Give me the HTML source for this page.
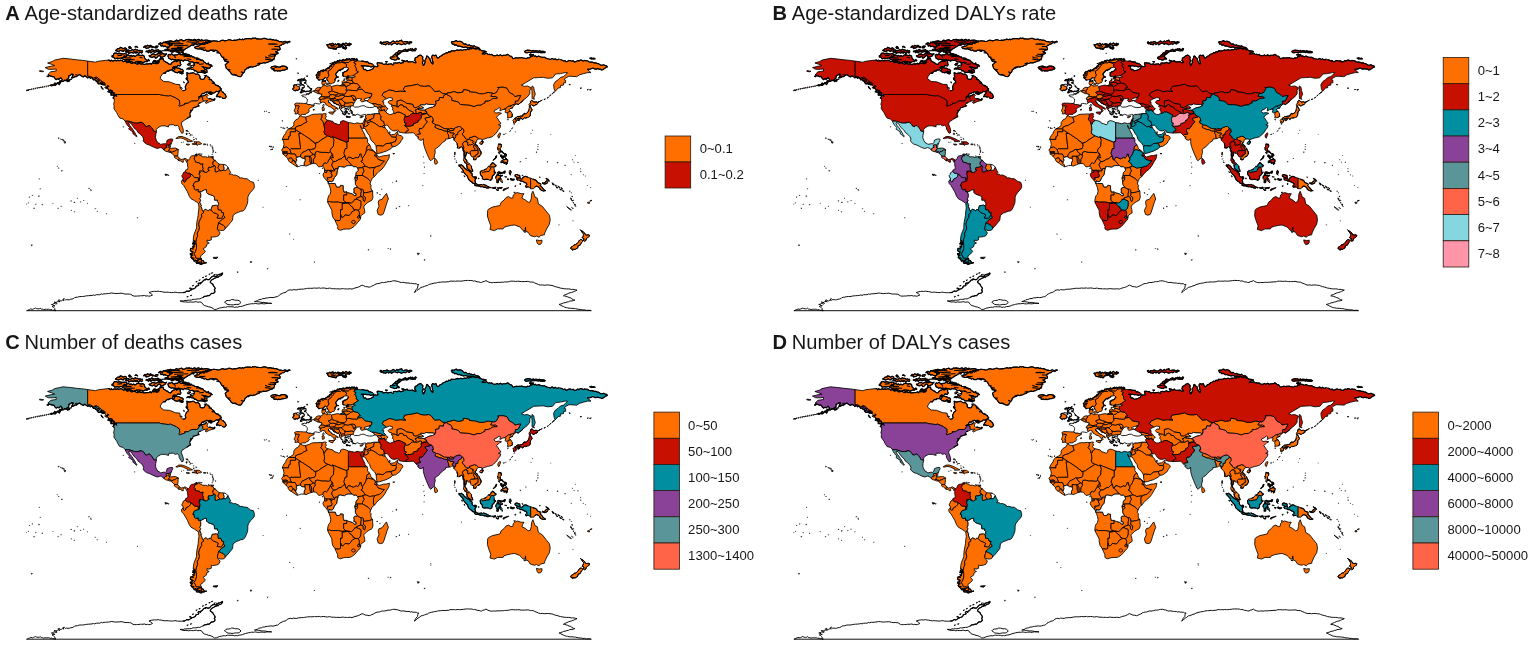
<!DOCTYPE html>
<html><head><meta charset="utf-8"><title>Figure</title>
<style>
html,body{margin:0;padding:0;background:#fff}
svg{display:block}
.t{font-family:"Liberation Sans",sans-serif;fill:#161616}
.m path{stroke:#000;stroke-width:0.85;stroke-linejoin:round}
.k rect{stroke:#2a1a10;stroke-width:.8}
</style></head><body>
<svg width="1535" height="647" viewBox="0 0 1535 647">
<rect width="1535" height="647" fill="#fff"/>
<g transform="translate(0,0)">
<text class="t" x="5.2" y="20.4" font-size="20.1" font-weight="bold">A</text><text class="t" x="24.5" y="20.4" font-size="20.1">Age-standardized deaths rate</text>
<g class="m">
<g fill="#FF6F00">
<path d="M194.4 47.1l1-.2 1.5-.6 1.4 0 1-.8 .6-.7 1.5-.5 .9-.4 1.1 .5 1.6-.3 .4-1.6 1.5 1 1.6-.8 1.1-.5 1.1-1.1 1 .2 1.6-.5 1.2 .1 1.2 .1 1.2 .1 1.2 .4 1.9-.3 1.2-.7 1-.3 1.7 .2 1 .5 1-.3 1.5-.3 1.3-.6 1.4 .1 1.5 .6 1.1 .1 2-.4 .8 .3 2-.6 .9-.1 1-.6 1.9 .6 1.3-.7 .7 .8 1.4-.8 1.9-.4 1.3 0 1.1 0 .9 0 2 .4 .7-1 1.5 .4 1.8-.4 .7 .9 1.4-.1 1.4 .2 2 .1 .8-.4 1.5-.3 1.4 0 1.6 .5 1 .5 1.2 0 2.1-.3 .9 .8 1.3-.3 1.3 .6 1.8-.1 1.8 .8 1.3 .7 1.4 0 1.4 .4 1 0 1.9-.7 .9 .4 1.4 .3 1.8-.7 1.1 .5-1.6 .3-1.3 1-1.3-.6-1.1 .6-1.5 1.1-1.1 0-1.2 1.1-1 .1-.9 1.3 .9 1.7-.2 1.5-1.6 0-1.6 1.6-1.5 0 1.2 .8 2 .8-1.2 .5-1.5 .8-1.3 1.2 0 2.4-1.5 1.9-1 .9-2.2 .4-1.5 .9-1.6 .3-1.1 .6-2-.4-1.6 .7-1.8 .3-1.3 1.4-1.6 .3-1.7 1-2 .3-1 .6-1.4-.4-1.7 .6-1 .7-1.4-.4-.3 1.1-1.8 .9-.3 1.3-.6 1.4-.8 .7-1 1.1-.7 1.7-.8 .7-2.4-.1-1.3-.7-2.2-.8-1.2 0-1.3-.4-1.2-.8-.6-1.2-1.1-1.4-1.3-1-.9-1-1.1-1.1-.3-1.2-.8-2.4 1.3-.6 1.1-1.2 1.5-.6-1.7-.7-1.4-.3-1.6-.7-.8-2.4-1.6-.9-.8-1.5-1-2-1.4-1-.7-1.1-.9-.6-1.5-.6-1.6 1-1.4-.5-.9-.4-1.5-.2-1 .8-1.4 0-1.1 .1-1.2-1.1-1.6 .7-1.1-1.2-1.1 0-1.6-.7-1.2 .2-1.3-.2-2.2-.4z"/>
<path d="M87.6 61.1l7.9 1.1 3.1-1 9.5-1.1 1.3 0 .8 1.1 1.2-1 1.4 1 .8-.5 1.7-.4 1.5 .5 .6-.7 1.7 .7 1.3-.6 1.7 .3 1.4 1.2 1.4-.6 1.2 .3 .8 1.3 1.6-.5 1-.2 1.5 1.1 .9 .2 2.2-.8 1.4 .7 .8 .6 1.4 .3 1.8-.8 1.5 .8 1.5-.4 1.2 .7 1.3 0 1.1-.4 1.4 0 1.4 0 1.3-.7 1.1 1 1.3-1.8 1.1 .9 1.5-.5 1.1 .8 2-.4 .9-1.6-.9-1.3 1.6-.5 .2-1.3 .6-1.2 .6 1.6 1.9-.4 .4 2.1 1 .5 1.3 .9 1.8 .8 1 1.1 2.2 .5 .6-1.6 .6-.3 1.3-.9 1.2-.4 1-.5 1 .8 2.4-1.4 1.3 1 0 2.2 .8 1.1-1.1 1.5-2.2-.7-.6 1.1-.9 .6-2-.5-1.1 .4-.3 1.8-.9 1.1-1.1 .4-1.6 0-.3 .9-1.6-.2-1.3 .9-.8 1.5-1-.2-1.3 .3-2.3 3.2-.5 2 3.6 2.9 5.5 .3 6.3 2.5 4.2 .3 .5 3.4 2.4 2.7 2.3-.3 .8-1.2-.4-1.4-.1-1.4 .7-1.1 .3-1.1 1.2-1.3 1.1-.6-.8-1.7-.8-.8-1.2-1.1 .9-.6 .7-1.5-.4-1 .1-1.9-.5-1 1.3 .4 1 .5 2.1-.5 .8 0 1.5-.4 1.3 .7 1 .8 2.1-.2 1.5 1 .8 1.5-.1 1.8 1.2 .9 2 .2 1-.5 1-1.9 1.1-.8 1.6 0 .4 1.1 1.4 .6 0 1.4 1.6 .2 .5 1.2 1.7 1.2 .8 .8 .7 1.6 1.2 1 1.7 .6 1 .5 1.3 .6 0 1.2 1.5 .6-1 1.1-1 .5-.8 1-1.8 .2-.8-.3-1.3 1.2-1.3 .6-1 0-1.5-1-.9-.2-1.6 .5-1.7-.6-.9 .7-1.3 0-.7 1.1-1.5-.2-1 1.1-.5 1.3-1.1 .8-1.5 .8 .7-.7 1.6-.6 1.7-.1 1.2-.3 1.3-.2 .8-1.1 1.3-.3 1.1 1.2-1.1 1.1 .3 1.3 1.3 1.3 1.5-.5 1.2 .6 2 .6 1.6-1.2-.3 1.5-1.3 .6-3.9 1.2-3.2 1.6-1.1-.8 2.7-2.1-3.9 .6-1.3-1.3 0-2.2-.8-.4-1.4-.1-1.2 1.1-1.3 2.3-1.1 .5-5 0-2.5 1.3-.8 .9-3.8 .2 .5 .3-.2 .8-5.5 1.8-.9-.8 .9-.7 .2-.6-.2-3.7-1.5-.8 0-.4-1.6-.8-.5-.5-5.6-2.4-1.8 .5-3.9-.5-4.1-.6-.9-.5-43.7 0-3.1-2.5-1.3-1.2-.7-.6-2 .2-.7-1.6-3.2-3.6 0-2.1-3.1-1.6-2.4-2.4-3.1-2-3.2 1.2-2.3-1.7-3.2-.4zM216 96.7l1.1-.9-.1-1.2 1.5-1.1 .3-1.5 .9-1.3 1.8-.4 .4 1.7 1.3 .1 .6 1 1.3 .9 .7 1.7 .5 1-1.2 1.7-1.8 .1-1.4-.8-.8-1-1.4 .5-1-.6-1.1-.2zM107.6 91.6l1.4-.3 1.3 1 .7-.3 1.5 .5 1.4 0 .3 2 .9 .9-1.1-.7-1.2 .4-1.9 0 .5-2.1-1.2-.6-1.3-.4zM183.4 54.4l.9 .6 1.9 .7 1.2-.2 1-.1 1.3 .5 1.6-.2 1.2 1.3 1.5-.2 .3 1.1 1.7 .1 1.6 0 1 .6 1.1 1.2 1.1 .5 1.5-.2 .9 .6 .7 1.4 1.2 .3 .8 1 1.1 .6 1.4-1 .6 1.9 1.7-.2 1 .6 .8 .8-1.7 0-1 2.1-1.2-.2-1.7 .1-1.2-.8-1.5 .3-1.1-.7 .9 1 .8 1.5 1.9 .3 .3 1.3 .5 1.1-1.5 .5-1-.6-.6-1.3-1.9 .7-1-.8 1.6 .2 .8 2.2 1.5 .4-1.2-.6-1.6-.2-1.2-.4-1.2 .1-1 0-1.8 0-1.4-1.7-1.4 .4-1.1-1.6-1.4 .1-1.5-.7-1.5 .4-1.3-.6-1.2 .7 1.6-1.3 1.7 .2 1-1.2 2 .7 .8-1.6 .6-1.3 .1-1.5-1.1-.9-1.1-.5-1.2 .1-1.3 .1-1.2-1.4-1.2-.2-1.5-.1-1.3-.5-1 1.2-2.2-.9-1 .2-1.8-.9-1.7 .8-1.2-.7-1.8 .2-1.1-.6-1.4 .6-1.2-1-1.3-.5-.6-1.8-.5-.9 1.6-1.3 1 .6 1.5-1.3 1.5 1.7 1-.1 1.3-.4 1.4 .1 1.4-1 1.2 .1 1.2 .8 1.3-.3zM125.3 60.1l.9 1.1 1.6-.1 1.8-.6 .4 1.1 1.6 .1 1.6 .9 1 .3 1.6-1.1 .8 .1 1.1 1 1.8-.4 1.6-.6 1.9 .7 1.2-.5 1-.6 2.1 .2 .7-1.2 1.7 .3-1.2-1.4-1.2 1.3-1.2-1.1-1.1-.8-.5-1.2-.3-1.7-1.9-.8-1.3 .5-1.5-.4-1.3-.5-1.2 .4-1.2 .9-1 .5-1.1-.9-1.7 .8-.8-1.1-1.3 .8-1.4-1.2-1.9 .2-.2 1.7-1 .5-1.7 0-1.5 .5 .3 1.2 1.4 .4zM112 57.2l1.2-.5 1.5 2 1.2-.2 1.3-.3 1.8 .4 1.6-.6 1.1 .1 1.9-.7 .6-1.7 2 1 .7-1.1-.3-1.4-2-.7-1.2 .3-1.5 .1-1.8-.5-1-.3-1.7 .8-.9-.9-2 .2-.9 .7-.2 1.6-1.3 .2zM167.7 49.9l1 .3 1.6 .5 1.1-.4 1.5 .3 1.1-.5 1.6-.5 1.4 0 .9 .8 1.4-.6 1.2-.4 1.4 1.2 1.5-.2 1.3-.9 .5-.5 1.4-.7 1.8-1.4 1.3-.2 .9-1.1 1.5-.6 1.6 .5 .5-1.7 1.8-.1 1.2 1 1.2-.7 1.7-.5 1.3 .5 .9-.8 1.4-.4 1.3 .2 .9-1.3 1.6 1.2 .6-1.8 1.3-.3 1.4 1.3 .9-1-1-.1-1.6 .4-.9-1.1-1.6-.1-1.2 0-1.4 .2-.9 .3-1.6-1.1-.9 .9-1.7-1.1-1.5 .1-1.1 1.2-.9-1.2-1.4-.1-1.3 .9-1.4-.6-.9 .2-1.4-.6-1.2 .4-1.6-.2-1.3 1.1-.6 0-1.4 .2-1.2-1.2-1.4 .4-.9 .2-1.6 .9-1.2-1-1.6 .9-.8 .5-1.2-.1-1.3-.3-1.1-.3-2 .5-.9 0-1.5 1-1.6-.2 1.9-.3 .4 1.3 1.1 .6 1.7-.3 1.9 .4 .9 .4-1.2 .1-1 1.2-1 1.2-.9 .4-.6 1.2zM164.6 49.7l1.5-.4 .9 .7 1.8 0 1.5 .2 .9 1.7 1.5 .2 1.3-.6 1.2-.6 1.6 .5 1.2 .7 1.7 .9 1.3-.2 1.4-.6 1 .8 0-1.6-1.3-.2-1.3-.6-1-.2-1.3 .4-1.3-.1-1.4-.8-1.5 1.1-.7-1.1-2 .5-1.4 .4-.9-.7-1.5-.8-1.7 .1zM158.3 44.2l1.7-.3 1 2.2 1.7-.6 .6 1.1 1.9-.5 1 .9 1.6 .2 1.5-.3 .3-1.3 1.4-.5 1.5-.1-1.8 .4-1.1-.4-1.3-1.6-.8 .2-1.3-1.3-1.6 .3-1.2-.4-1.2 1.8-1.5-1.2-1.3 .6zM125.3 52l1.6 .4 1.3-.8 .6 1.9 1.7-.9 1.8-.1 .9 .8 1.4-.9 1.6 .8 .9-1.1 1.5 1.5 1.4-1.4 1.7 .8 .9-.7 0-1.6-1.5 .3-1.2-.8-.8 .7-1.7-1.1-1.1 .1-1-.7-1.9 1-1.4-.7-.7 1-2 .3-1-.8-1.4 .2zM148.9 55.6l.8 1.1 1.4 .4 1.6 .2 1.8-1 .9 1.9 1.3-.4 1-1.1 .6-1.1 1.6 0 .8 1.5 .7 0 1.6 .1 .8-.9 1.2-.3 .9-1.7 1.1-.4-1.5 .1-1 .2-2.1-.8-1 .7-1.5-.3-1.4-.4-1.8 1-1.4 .4-1.3-.9-2 .2-1.7 1.6zM145.8 52l1.2-.8 1.5 1.6 1.2-1.4 1.1 1.5 1.7-1.4 1.3 .3 1.4 .5 1.2-.6 .9-.1 1.7 .2 1.2 .5 1.3-.8-1.3-.7-1.1 .1-.8-1.3-1.3 .5-1 0-1.8 .5-1.7-.9-.6-.4-1.3 1.4-1.7-.6-.9 1-1.4-.1zM172.5 67.6l1.8 .6 1.8-.7 1.1 .5 1.6 .2 1 .3 1.3 1 1.1-.2 1.2 1.3-.6 1.3-2.4 .2-1.5-.4-.9 1.2-1.3-.3-1.8-.4-1.3-1.3-1.1-.1 1.5-.8 .8-.7-.7-1.5zM207.8 93l1.5 .4 1.4-.2 1.5 .9-1.2 .4-1.6-.5zM152.8 62.1l1.1-.7 1.8 .6 1 .9 1.1-.6 1.3-1.1-1.3-.4-1.7 .4-.9-.8-1.4 .1zM115.1 50.4l1.4 .5 1.8 .6 .9-.3 1.8-.9 1.2 .9 1.4 .2 .6-1.4 1.7-.1 1-.8-1.1-.9-.8-.4-2 1-.8-.9-2-.6-.7 1.4-2-.1-1.2 1.5zM143.4 47.5l1.7-.6 1.2 1.6 1-.4 1.6-.2 1.2-1.1 .8-.2 2 1 .7-.9-1.7-.4-1.4-1.1-1.1 .8-2-.7-1.2 1.1-1.2-.6zM154.4 47.5l1.3 .4 1.8-.3 .8-1.4-2.3-.2zM181.9 54.6l1.2 .3 .9 .1 1.5 .2 1.1 .7 1.5 .5 1.6-1-.7-.9-1.6-.2-1.7-.5-1.5-.1-1.4 .1zM187.4 64.3l.7 .9 1.6-.4 1.1-1.1-1 .2-1.3-.7zM178.7 71.9l1.4-.6 1 1.1 1.4 .1 .9 .7-1.5 .7-1-.5-1.4-.3zM180.3 87.8l2.1 .5-1-.8zM183.4 81.7l1.3 .9-.8 .5zM134.8 47l1.8-.2 1.3 .8-.8-1.1-1.2-.1zM157.5 51.4l1.2 .5 2-.2 1.5 1.1-1.5-.3-1.2 0-1.2 0zM196.8 62.9l2.4 .3-.8-.8zM128.5 47.6l1.3 1 1.8-.5-.8-1-1.4-.6zM101 86.4l.6 .8 .5 1.1 1.2 1-1.5-1.3zM104.9 83.9l-1.6 .5-.7-1.3-1.1 .5-1.3-1.3 .8 1.6 1 .6 1.9 .2zM99.4 81.5l-.5-1.7-1.8 .1-1.6 .3 1.8 1 .6 1.1zM107.3 88.8l-.1-1.5-1.5-.1-1.1 .3 1.4 1z"/>
<path d="M115.9 94.5l43.7 0 .9 .5 4.1 .6 3.9 .5 1.8-.5 5.6 2.4 .5 .5 1.6 .8 0 .4 1.5 .8 .2 3.7-.2 .6-.9 .7 .9 .8 5.5-1.8 .2-.8-.5-.3 3.8-.2 .8-.9 2.5-1.3 5 0 1.1-.5 1.3-2.3 1.2-1.1 1.4 .1 .8 .4 0 2.2 1.3 1.3-3.2 1.5-1.9 .6-.7 1.5 1.1 1.4-1.4 .2-1 .5-1.6 .4-.8 .3-1.5 .4 0 1.6-1.6 1.3-.8-.9 .6 1.9-.9 .7-.5 1.4 .3 .8 .5 2-1.4 .4-.9 .7-1.6 1.1-1.9 1.2-2.8 1.9-.6 2.1 1.4 3.6 .7 2.8-.3 2.4-1.4 .3-1.1-1.8-1.4-2.4-.1-2.1-1.8-1.6-2.2 .5-1.9-1.2-2.3 .2-1.9 0-.5 1.6 .5 .3-2-.1-1.6-.7-3.6-.1-1.6 .6-2.7 1.6-1.2 1.6 .1 2.2-2.9-.7-.7-1.8-1.5-1.9-1.5-1.8-2 .2-.8 1.1-2-1-.8-1.8-2.4-1.7-2.6 0 0 .7-4.5 0-5.9-1.9-3.6 0-2.1-2.3-3.4-.9-2.1-3.4-.9-2-2-2.7-.8-1.5 .3-2.6-.6-1.4 .7-3 0-2.6-1.3-.9 1.6-1.8-1.4-.7 1.3-.5 1.4 .9 .8 1.1-.3-1-.2-1.4zM87.6 61.1l-4.7-.7-6.3-.6-6.2-.8-7.3-.7-3.7 .8-4.7 1-2.4 1.5-4.7 1.4 3.9 1.3 3.2 1.3-3.2 .5-6.3 1.5 3.2 1.7 4.7 0 3.1-.4 0 2.1-5.5 .8-2.3 2.2 .1 1.4 1.4 .4 1.1 .4 1.4 .5 1.5-.1 .8 1.7 1.4 1.3 1.7-.9 1.2 .7 1.6-1.7 1.1 1 .7 1.2-1.5 1.1-1.1-.2-.5 1.6-1.4 .1-.9 .6-.4 1.1-1.7-1.2-1 1.3-1.4 .9-.6 .6-1.8-.4 1.4-.6 1.6 .3 2.2 .3 .9-1.1 1.1-1.4 2 1.6 .9-1.4 .6-1.4 1.6-.2 1.2-.2 .9-1.1 1.3 .5 1-1.3 1.6-.6 .4-1.7 .2-1.6 1.4-.2 1.5-1.2 1.6 .6-.9 .6-.2 1.7-1.2 .8 1.2 0 1.2-.4 1.5-.8 1.4 0 .6-.5 1.1-.9 1.4-.6 1.8 1.4 1.3 .6 .8 .2 1.2-1.1 1.4 .9 1.4 1.2 1.7-.7 1.1 1.2 1.2-.7 .9 .7 1.1 1.6 1.2-.5 .8 1.4 1.6 .7 .4 1.4 .9 .9 1 .1 1.4-.2 1.8 1 2.3 .5 0-2.1-3.1-1.6-2.4-2.4-3.1-2-3.2 1.2-2.3-1.7-3.2-.4zM66.4 80.7l2.2-.2 1-.6 .3 1.1-1.3 .2-1.4 .6zM39.7 70.6l4 .7-1.6 .5-2.7-.5zM46.8 76.3l2 0-.4 .7zM49.6 85.4l-.8 .1-.8 .6 .8 .1zM47.4 86l-.8 0-.8 .6 .8 0zM45.2 86.4l-.8 0-.8 .6 .8 0zM43 86.8l-.8 0-.8 .6 .8 .1zM40.8 87.2l-.8 0-.8 .6 .8 .1zM38.6 87.6l-.8 0-.8 .6 .8 .1zM36.4 88l-.8 .1-.8 .6 .8 0zM34.2 88.5l-.8 0-.8 .6 .8 .1zM32 89l-.8 0-.8 .6 .8 .1zM29.8 89.5l-.8 0-.8 .6 .8 .1zM27.6 90l-.8 0-.8 .7 .8 0zM580 88.1l1.6-.1-.8 .5zM589.5 89.8l1.8-.4-1.1 .9zM587.1 89.6l1.3-.2-.7 .5zM27.2 90.4l1.5-.3-.7 .6zM64.1 141.2l1.9 1.1-1.3 1-.6-1.2zM60.6 138.9l.8 .5-.6 0z"/>
<path d="M164.3 150.3l0-1.2 1.1-1.3 1.7-.5-.9-1.3 0-1 2.9 0-.1 3 .5 .1 .9 .4-1.4 1.2-.3 .9-1.1 1-1.9-.3z"/>
<path d="M169.1 145l1.3-1.1 .3 .7-.3 .9 0 1.7-.9 .9-.5-.1z"/>
<path d="M167.6 151.6l1.1-1 1.4 .8 1.1 0 .2 .8-.2 .3-1.6 0z"/>
<path d="M169 149.7l1.4-1.2 1.3-.2 2.3-.2 1.6 0 1.6 .7 1.2 .8-2 .5-1.9 1.3-1.6 .1-.9 1.3-.2-.1-.4-.5-.2-.8-1.1 0-1.4-.8z"/>
<path d="M178.4 149.6l-.3 1.6-.1 2.4-.4 2.5 .1 .1-1.6-.1-1.6-.2-1.3-1.1-1.7-1.8 .5-.2 .9-1.3 1.6-.1 1.9-1.3z"/>
<path d="M174.5 155.9l1.6 .2 1.6 .1 1.7 2.1-.5 1 0 1.5-.9-.7-1.9-1.8-.7 0-1.1-.9z"/>
<path d="M178.9 160.8l0-1.5 .5-1 1.7 1.3 2.3-.6 1.6-.7 1.7 1 .9 .6 .2 1.2-1.1 1.1-.7-1.8-1.8-.9-1.2 1.1 .4 1.5-1.5 .1-1.1-1.4z"/>
<path d="M175.8 138.4l2.9-1.8 3.2-.1 3.1 1.1 3.2 1.4 2.3 1.3 2.1 .9-1.3 .4-4.2 .1 .7-1-2-.8-2.4-1.2-2.8-.8-1.9 .3-1.5 .4z"/>
<path d="M192.2 143.7l3.3 0-.7-1.2-1-.7 2.7 0 0 2.9-1.3-.3-3-.2z"/>
<path d="M196.5 141.8l2.7 0 2.5 1.9-1 .5-2.3 .2-1.4 1-.5-.7z"/>
<path d="M186.1 144.2l3.2 0 .1 .7-2 .1z"/>
<path d="M212.2 156.6l1.1-.2 0 1.1-1.4 0z"/>
<path d="M187.6 159.9l.9 .1 1.2-1.2 .8-2.1 1.1-.8 2.4-.3 2-1.5 1.1-.3 0 1-1.1 .3-.8 .8-1.2 3.1 1.2 1.3 .2 1.6 2.2 .7 1.6 0 .9 1.4 3-.2-.5 1.5 0 1.6 .8 1.5-.9 1 1.1 .8 .4 1.8-1.7-.9-2.8 0 0 1 .9 .2-.3 .6-.9 .2 0 1.1 .9 1.5-.8 5-1.2-.6 .6-2.1-2.7-.4-1.6 0-1.5-2.1-2.1-1.4-1.5-.8-1.8 0-2.2-1.7 .5-1.8 1.6-.1 .6-2.1-.6-2.6 .1-2-.8-.8 1.1-1.1z"/>
<path d="M197.1 154.8l-.9 .3 .4 1.3 1-1.8 1.6-.5 .3 1.2 2.2 .4 .6 1.2 3.1-.2 2.4 .8 2.4-.9 1.7 0-1 1.1 2.4 .6 .3 1.7 1.3 .1 .3 .3-2.1 1.3-.3 2.5 1 1.3 0 .9-3.3 1-1.9-.1-.6 2.5 1.5 .5-3.3 2.3-2.2-.6-.4-1.8-1.1-.8 .9-1-.8-1.5 0-1.6 .5-1.5-3 .2-.9-1.4-1.6 0-2.2-.7-.2-1.6-1.2-1.3 1.2-3.1 .8-.8z"/>
<path d="M215.2 160.4l-.3-.3 2.3 2.5 2.1 1.6-.2 1.1-1.1 2.1 .3 1 2.1 2.4-1.3 0-2.4 1.2-1.5-.2-.2-1.6-.1-2 .6-.8-.8-1.8-.9-.1-1-1.3 .3-2.5z"/>
<path d="M219.3 164.2l2 .1 3 .2-.8 1.5 .8 2.1-.8 2.1-2.2 .6-.9 0-2.1-2.4-.3-1 1.1-2.1z"/>
<path d="M183 179.4l-1.6 1.8 .5 2.4 1.9 2 1.5 2.6 2.1 3.5 1.9 4.6 1.7 2.4 3.4 1.9 2.7 1.8 1.4 1.2 1.4-1.3 .8-2.1-.9-1.5 .9-1.3 .2-2.9-1-2.8-1.7 0 .2-2.4-2.7 .8-1.3-1.3-.3-2.9-1.2 0 1.5-3.4 .4-.3 4.4-1.3 .1-.2-1.2-.6 .6-2.1-2.7-.4-1.6 0-1.5-2.1-2.1-1.4-.4 2.2-1.8 1.8-2.5 1.3-.6 2-1 .6-1.4-1z"/>
<path d="M198.5 203.6l.5 4.3-.6 4.1-.2 3.2-.6 3.3-.8 4-.3 4.1 0 1.6-1.3 3.2-1.1 2.8-.6 2.9-.3 3.3 1.8 .9-.2 1.5 .3 1.4-1.4 1 .4 1.2-1.2 1.3-.8 .8-1.4-.1-.3 1.2 .1 1.4 1.6 .7 .2 1.7-2 .1 .2 1.5 1.2 .7-.8 1.5 .7 1 1.4 .9 .7 1.2 .7 1 1.1-1.1 .8 1.1 1.3 0 0-1.6 4.1-.9-2.5-.6-3.2 0-.5-2.1-1.5-2 1.5-2.4 1-3.2 0-3.3-.5-3.2 .5-3.3 1.1-2.4-.3-3.2 1.4-2.5 .8-2.7-.8-3.7 .6-2.5 1.4-3.2 1.1-1.6-.3-2.8 2.1-1.3 0-1.9-1.1 0-.5-2.1-1-2.3 .5-1.2-.8-.6-.1-1.3-.7-1.1zM201.4 259.3l0 3.6 3.3 .3-2.4 .8-.9 .3-1.5-.2-.7-.7-1.6 .1-.9-.1-.7-1.2 1.6-.8 .8-.8 .8-1.1zM192.9 241.7l.9 .3 1 1.3-1.1 1-1.5-.4 1.4-.9z"/>
<path d="M203.6 210.9l1.4-1.7 1.7 .5 1.4 1.2 1-1.3 1.7 .3 2.5 2.6 3.1 1.1 2.1 1.3-1.4 3.1 3.3 .3 1.1-.1 1.7-2.8 1.4 1 .2 1.4-3.2 2-3 3.1-.4 2.1-.5 1.6-.3 2.4 0 .8 1.9 1.6 .7 1.7-1.4 2.6-2.2 .9-3.9 .5-1.3-.3 .2 2.9-2.5 1-1.9-.7 0 2 2.2 1-2.2 1.1-.8 2.7-3.1 2 2.3 2.6-2.3 2.7-2.4 1.7 0 1.7 1 1.3-2.5-.6-3.2 0-.5-2.1-1.5-2 1.5-2.4 1-3.2 0-3.3-.5-3.2 .5-3.3 1.1-2.4-.3-3.2 1.4-2.5 .8-2.7-.8-3.7 .6-2.5 1.4-3.2 1.1-1.6-.3-2.8 2.1-1.3zM201.4 259.3l.4 1 1.1 .2 1 1.3 1 1.1 1.8-.3-2 .6-3.3-.3z"/>
<path d="M218.6 222.9l2.5 1.1 2.4 1.3 1.7 1.8 0 1.4-.9 1.5-1.6 .5-2 0-2.4-.7-.9-.8 .3-2.4 .5-1.6z"/>
<path d="M210.8 209.9l1.4-4.2 4.1-.5 1.4 .8 .5 1.5 0 2.2 2.9 .3 .7 2.6 2 .2-.5 2.4-.1 .2-1.7 2.8-1.1 .1-3.3-.3 1.4-3.1-2.1-1.3-3.1-1.1z"/>
<path d="M227.9 167.1l1.6 3.4 1.2 1.8-1.5 1.9 2.6 0 1.6 1 1.9-.2 3.9 1.8 .3 1.3 2.1-.3 2.6 .8 2.9 .2 1.5 1.1 1.9 1.6 3 .8 .8 2.9 0 2.5-1.4 2.1-2.2 2.3-2.1 2.9-.8 2.4 0 3.2-.3 2.5-1.2 3.2-1.6 3.1-1.6 1.6-2.3 .2-2.4 1.1-2.3 .8-2.9 2.1-.4 2.5-.3 2.4-1.9 2.4-2.4 2.9-1.4 1.7-1.6 1.4 0-1.4-1.7-1.8-2.4-1.3-2.5-1.1 3-3.1 3.2-2-.2-1.4-1.4-1 .1-.2 .5-2.4-2-.2-.7-2.6-2.9-.3 0-2.2-.5-1.5 .6-1.3 .3-1.6-1.2-1.3 .1-1.5-3 0-.1-2.9-1.1-1.6-2.8-.8-2.5-1-1.5-1.5 0-2.7-1.8 0-3.2 1.9-1.6 0-1.7 0 .2-2.4-2.7 .8-1.3-1.3-.3-2.9-1.2 0 1.5-3.4 .4-.3 4.4-1.3 .1-.2 .8-5-.9-1.5 0-1.1 .9-.2 .3-.6-.9-.2 0-1 2.8 0 1.7 .9 2.2 .6 3.3-2.3-1.5-.5 .6-2.5 1.9 .1 3.3-1 0-.9 .9 .1 .8 1.8-.6 .8 .1 2 .2 1.6 1.5 .2 2.4-1.2 1.3 0 .9 0 2.2-.6 2.4 .1 .7-.6z"/>
<path d="M270.6 67.7l1.2-.9 2-.5 1.6-.3 .9 .4 1.4 .5 1.5 .3 1.3-.6 1.7-.6 1.8 .1 2.3 .5 1.4 1.6-.6 1-1.6 .5-1.6 .5-.9-.1-2 .6-1 .4-1.3-.5-1 .6-1.6-.7-1.3 .4-1.4-.4 1.1-1.2-2-.1-1.1-.5z"/>
<path d="M326.7 78.1l-1.1-.6-1.6 1.1-1 1.4-1.3-.3-1.6 .2-1.3 .2-1.1-1.5-1.2-.8 .5-1.5-1-1.2 1-.9 .3-1.1 .8-1.1 .8-.5 1.2 .3 1.1-1.4 1.2 .6 .6-1.2 1.9 .8 .7-1.3 1.7-.7 .6-.9 1.6-.2 0-1.4 1.3-.3 .5-1.2 .6-.4 1.5-.9 1.1-1.5 1.3 .3 1.1-.2 .6-1.3 1.4 .2 .7-.6 1.5 .5 1-.4 1-.9 1.4 1.1 .6-.2 .9-.8 1-.9 1.2 1.2 .9-1.2 1.6 .9 .9-.9 1.5 .2 1.3-.3 .9 1.5 1.2-1.3 1.3 1.2-1.6 1 1.3-.1-3 1.2 .6-.9-2.2-.8-3 .6-.4 .8-1.3 1-3-.2-3.1-.5-.6 0-1 1-2.8-.1-2.7 .9-1.6 2.6-1.5 1.6-1.3 1.8-2.3 1.2 0 3 .9 .5-.8 2.1-.8 1.2zM326.4 44.9l1-.2 1.6-.2 .7-.7 1.4 .4 1.3-.9 1 .3 .5 1.5 1.3-1.2 1.3 .8 .9-.3 1.3 0 0 1.5 1.2 .4 .9-.1 1.3 0-1-.6-.7 1.4-1.5-.2-.8 .5-1.2 .1-.5 1.5-.6 .7-.9-.7-1.8 .1-.9-.7-1.1 0-1.4-.4-.9 .1-.9-1.3-.3-1.4zM337.4 43.7l1.1 .1 1 .2 1.2 .5 1.1-.2 1.2-1.1 1.1 1.3 1.1-.9 .8-.6 1.3 .8 .8 .5 1.3-1.2 .8 1.8 1.3-.7-1.7-.6-.3 2.1-1.5-.4-1.2 .1-1.2 .4-1.2-.9-1.2-.4-.9 1.1-1.3-.4-1.2 .7-.9-1zM342.1 47.1l1.5-.5 .6 1.7 1.4-1.5 1.2 1-1.2 1.3-1.2-.5-1.3-.3z"/>
<path d="M326.7 78.1l.1 1.3 1.1 1.6 1.3 1.8 .3 1.3 2.1-.2 .6-.9 2-.2 1-2.1-.4-1.4 1-.6 .3-1.1 1-.8 1.5 .2-1.8 0-.5-1.5-.7-1.2 .5-.9 1.3-1.5 .8-1.1 1.1-.7 1.2 .5 .4-1.3 1.7-.1 1.1-1.5 3.3-.5-.8-1.1 .6-1.6-2.4-1.5-2.9-1-1 1-2.8-.1-2.7 .9-1.6 2.6-1.5 1.6-1.3 1.8-2.3 1.2 0 3 .9 .5-.8 2.1-.8 1.2zM337.7 81.5l1.2-1.5-.3 1z"/>
<path d="M347 67.2l1.8 1.3-1.2 1.2-.5 1-1.5 .8-1.2 0-.7 1.2-1.1-.1 .4 1.1-.3 1.3 .3 1 1.4 .6 1.6 .2 1.3 .6 .5-1.5 1.3 .4 3.7-.5 1.8-1.1 4-2.8-2.4-1.4 .3-1.6-.8-2.1-1.1-1.3 1.6-1.3-2.3-1.3 .6-.9 .6-.9-2.2-.8-3 .6-.4 .8-1.3 1-3-.2-3.1-.5-.6 0 2.9 1 2.4 1.5-.6 1.6z"/>
<path d="M322.6 84.9l-.8-1.1 .2-2 .6-.8 1.4 .2 1.7-.8-.4 1.6 .9 .5-1.4 1.4-.8 .8 .6 .4zM326.4 83.6l2-.6 .5 .8-1 1.1-1.5-.5z"/>
<path d="M322.6 84.9l2 .2 1.8 .6 0 .7 2.3-.7 1.6-.1 1.1 .9 .3 1.2 .3 1.1 .2 1.6 .5 .8-1.1 0-3.2 1.2 .3 .6 2.1 1.8-1.3 .8 0 1.3-1.2-.2-2.7 .4-1.4-.2-1.6-.3-1.6 .1 1-2.2-2.9-.8-.4-1 0-1-.2-.5 .3-1.3 1-.3 .3-.8 .3-1.3 1.3-.5 1.1-.5 .3-.9z"/>
<path d="M320.4 87.5l-.3 1.3-.3 .8-1 .3-.3 1.3-.3 .4-1.2-1-1.3 0-1.3 0 1-1 1.1-1.6 2-.7z"/>
<path d="M314.4 90.6l1.3 0 1.3 0 1.2 1 .3-.4 .2 .5 0 1 .4 1-.9 0-1.6-.8-.9-.4-2.6-1.4z"/>
<path d="M306.3 103.5l-2.7-.1-3.1-.2-4-.1-1.9 .9 .7 1.8 .9-.1 2.5 .3 .7 .5-1.1 .9-.2 2.1-.6 .5 .6 2-.6 1.6 1.5 .6 .7 1 .9 .2 1.6-1 3.4 0 1-1.3 1.4-.1 1.4-2-.8-1.1 1.8-2.3 2.2-.8 1.5-.8 0-.8-2.3-.2-1.6-.5-1.9 0zM312.9 109.7l1.2-.5 .2 .8-.8 .2zM282.7 127.9l1-.2-.5 .8zM284.3 128.5l.6-.2-.1 .5zM286.8 127.5l.6-.3-.1 1zM280.8 127.2l.5 0-.2 .5z"/>
<path d="M295.3 105.8l.1 2.1-1.1 2.3-.1 1 1.1 .5 0 .8-.3 1.4 1.7 0 .8-.3 .6-1.6-.6-2 .6-.5 .2-2.1 1.1-.9-.7-.5-2.5-.3zM268.6 112.5l.9 .1-.5 .2zM264.3 111.3l.8 .2-.4 .2zM266.2 111l.5 .2-.3 .1zM282.1 120.7l.8 .2-.5 .2z"/>
<path d="M299.7 89.3l-.3-1.8 0-1.1-1.8-.2-1.4-.8 1.4-1.1-1.9 .4-1.7 .4-.6 .9 .8 1.5-1.3 1-.1 1.1 .9 .8 1.6 .4 .9-.9 1 .5 1.1-.5 .9-.6z"/>
<path d="M320.9 102.9l2-1 2.2 .8 .5 1.7 2 1.3 1.1 .9 2.1 .5 1.1 1 1.7 1 .6 1.6-.5 1.6 1.3-.6 1-1-1-1.2 .8-1.3 2.2 1.2 .2-.5-.8-1-2.2-.8-.7-1.1-1.8-.2-.5-.7-1.1-.6-.8-1.3-1.6-.9-.3-1.7 1.3-.8 1.1 .2-.3-1 .1-.5-2.3-.8-2.7 .2-.6 .8-1.3 .1-1.3 0-.9 .7-1.7 0 .3 1.1 0 1.5zM328.6 112.5l1.4-.5 3.6 0-.8 2.4-2.5-.8zM322 107.6l1.5-.5 .8 1.1-.1 2.2-1.8 .4-.1-1.7z"/>
<path d="M318.7 99l1.1 .5 1.7 0 .9-.7 1.3 0 1.3-.1 .6-.8-1.4-1-1.6-.3-1.6 .1-.9 .2z"/>
<path d="M324.2 96.9l1.4 1 2.7-.2 2.3 .8 1.4 .2 2.2-.5 .8-.5 1-1.6-.4-1-2.9-.6-1.9 .3-1.3 .8 0 1.3-1.2-.2-2.7 .4z"/>
<path d="M328.4 92.4l3.2-1.2 1.1 0 2 .7 .9 .3 2.7 .8 .4 .7-1.8 .9-1.3 .5-2.9-.6-1.9 .3-2.1-1.8z"/>
<path d="M331.4 86.5l3.6-.9 2.8-.5 2.1 .6 5 0 1.1 .8 .6 2-.4 .9 0 .9 .7 1.3-2.3 2.7-.2 0-3.9-.2-1.8-.4-.4-.7-2.7-.8-.9-.3-2-.7-.5-.8-.2-1.6-.3-1.1z"/>
<path d="M335.6 95.1l1.3-.5 1.8-.9 1.8 .4 3.9 .2-.6 1.1-2.5-.1-2.7 1.1-2.6-.3z"/>
<path d="M336 96.1l2.6 .3 2.7-1.1 2.5 .1 1.3 .7-2.7 2.7-1.4 .4-2.4 .3-2 0-1.6-1-.8-.3 .8-.5z"/>
<path d="M330.5 99l.1-.5 1.4 .2 2.2-.5 .8 .3-1.4 .5-.5 1.1-2.6 0 .3-.1z"/>
<path d="M330.5 100.1l2.6 0 .5-1.1 1.4-.5 1.6 1 2 0 .3 1.1 0 .5-3.1-.5-1.9 0 0 .8 .6 .9 2.2 1.9 1.5 .6 0 .2-1.6-.6-.8-.7-1.6-.3-1.2-1.1-1.1-1.7-.8 .5-.6-.3z"/>
<path d="M333.9 100.6l1.9 0 3.1 .5 .7 1.2 .1 1.1-1.5 1.4-1.5-.6-2.2-1.9-.6-.9z"/>
<path d="M338.9 100.6l-.3-1.1 2.4-.3 1.9 1.4 1.7 1.7 .5 1.6-.8 1.4-1.4 .2-1.4 .5-.8-1.2 .3-.4-1.3-1-.1-1.1-.7-1.2z"/>
<path d="M338.2 105l0-.2 1.5-1.4 1.3 1-.3 .4-1.1 1.2z"/>
<path d="M339.6 106l1.1-1.2 .8 1.2-.2 1.1 .8 .7-.5 .9-1.1 .8-1.1-1.3 .3-1.6z"/>
<path d="M341.3 107.1l.2-1.1 1.4-.5 1.4-.2 .9 1.7-1.5 .3-1.6 .5z"/>
<path d="M344.3 105.3l.8-1.4-.5-1.6 2.2 .8 4.7-.7 2.5 .7-.9 2.7-3.2 .5-2.3 .3-2.4 .4z"/>
<path d="M341 99.2l1.4-.4 2.7-2.7 3.1 .5 2.7-.8 2.3 2.2 .2 2.1 2.2 .4-1.6 2.6-2.5-.7-4.7 .7-2.2-.8-1.7-1.7z"/>
<path d="M350.9 95.8l1.9-.4 2.2 .9 1.2 2.4-1.7 .8-1.1 .6-.2-2.1z"/>
<path d="M343.8 95.4l.6-1.1 .2 0 2.3-2.7-.7-1.3 2.2-.5 3.9 .6 4.9 .3 .6-1.3 4.4-.4 2.7 3.2 3.9 .8 3.1 .5-.3 2.8-2.5 1.3-1.9 .4-3.1 1 .8 1.5 1.7 0-2.5 .8-2.4 .6-1.6-1.6 1.8-1.1-2.5-.7-1.9 0-1.9 2-2.2-.4 1.1-.6 1.7-.8-1.2-2.4-2.2-.9-1.9 .4-2.7 .8-3.1-.5z"/>
<path d="M346 86.5l3.6-1.6 1.3-1.3 2.5-.6 4.2 .8 2.9 3.5-2.2 .5-.5 1.6-.6 1.3-4.9-.3-3.9-.6-2.2 .5 0-.9 .4-.9z"/>
<path d="M342.4 84.4l-.2-1.4 2.9-.5 3.3 0 2.5 1.1-1.3 1.3-3.6 1.6-1.1-.8-.1-1z"/>
<path d="M342.2 83l0-1.5 1-1 1.4-.1 1.1 1.1 1.2-.2 .4-1.3 1.5-.1 3.3 .8 .7 .5 .6 1.8-2.5 .6-2.5-1.1-3.3 0z"/>
<path d="M347.3 80l-1.3-1.1 0-1 1.1 .3 .9-.1 1.1-.8 4 .2-1 1.1 .2 1.6-.2 .5-3.3-.8zM343.7 78.9l1.5 0-.8 1z"/>
<path d="M359.8 117.2l1.1-.5 2.5-.7-.9 1.2-1.6 .6z"/>
<path d="M357.5 60.8l-3 1.2-.6 .9 2.3 1.3-1.6 1.3 1.1 1.3 .8 2.1-.3 1.6 2.4 1.4-4 2.8-1.8 1.1 1.5 .4 1.1 .5-2.3 .8-1 1.1 .2 1.6-.2 .5 .7 .5 .6 1.8 4.2 .8 2.9 3.5-2.2 .5-.5 1.6 4.4-.4 2.7 3.2 3.9 .8 3.1 .5-.3 2.8-2.5 1.3 1.7 0-2 1.7-.8 1.2-1.4 .3 2.2 1.3 2.7 1.4 .4 0 3.9 .4 2.4 .9 2.4 .2 1.5 1 2.1 1.1 1.2-1-1.7-1.9 0-2.4-1.3 0 1.3-1.8 2.4-1.2 .3-.1-1.1-1-2.4-1.6-.8-.8 1.6-2.9 1.9-.5 3.3-1.8 3.4 .3 3.2 1.3 4.7-.5 5.5 .4-2.4-2 1.6-3.1 6.3-.8 6.3-1.4 3.1 1.7 3.9 .4 4.7-.4 2.1 1.5 3.4 4.1 4.8-.4 3.1 2.3 3.6 .6 .8 0 .3-1.2 2.7 0 3.6-1.3 4.7 1.3 4.7-.9 .5-2.4 5.8 1 .3 1.4 6 .4 3.9 1.4 3.9 0 4.7-1.3 4.3 .7 1.7 .5 2.4-1.3 1.1-2 1.1-1.8-1-1.1 5.4-.3 3.9 1.1 2.3 4.2 4 2.1 1.5 2 3.2-.7 2.7-.3-2.7 5.2-2.7 .3-.5 3.1-.6 1 2.2-1.3 1.9 .6 1.1-.9 .5-.1 .8-1.1 1.2-.5 .5-1 1.2-1 .7-.6 3.1-2.4 2.4-3.2 0-3.3 1.4-2.7-3.8-1.7-3.1 .4-2.9-1.2 4-2.4 4.4-2.6 3.9-2.4 4.7-.2 4.7-.3 4.7 1 4.7-.5 3.2-3.8 4.7-.4 4.7-1 2.4 .1-2.1 2.3-1.9 1.6-3.1 .9-2.4 2.4-2.5 1.6-1.9 3.2 .5 4.1 1.1 2.6 3-3.4 2.2-.3 0-2.1 3.1-.5 .2-2.3 1.9 0 0-2.6-1.3-.3 .8-1.6 3.1-1.7 1.6-.4 6.3 .4 .5 .2 2.6-1.8 4-1.3 4.7-1.1 3.1 0-3.9-3.3 2.4 0 1.3-.4 1.5-.7 1.1 0 1 .7 1.6 .3 1.6-.6 1.3 .7 1.4-.2 1.1 .9 1.4-.3 1.2-.9 1.1-.7 .9-.6 1.5-.6-.9-1.1-1.4-.2-1.5-.8-1.6 .4-1.4-.1-1-.6-1.4-.9-1.5-.1-.7-.7-1.8 .1-1.4-.5-1.1-.3-1.3 0-1.6-.2-.7-.8-1.2-.4-1.5 .1-.9-.4-1.4 .7-1.8-1-.8-.1-1.8 1.1-1.1-.7-1.6 1.3-2 .2-.6-1.1-2.1 .3-1.2-.6-1.3 .1-1.8 1-1.2 0-1-1.1-1.4 .6-1.7-1.1-1.4-.4-1.6-.5-1.1 .6-1.4-.1-1-.8-1.3 .8-1.5-1.1-.7 .1-1.4 .9-1.3-.5-1.3-.2-2.1-.7-1-.9-1.3 .1-1.4-.1-1.2-.2-1.6-.7-.6-.2-1.8 .9-1.2-1.2-.9 .5-1.3-.7-1.6 1-1.2-.7-.4 1.3-1.2 .8-1.5-.3-1.2 .9-2-.4-1.2-.2-1.2-.4-1.1 .2-1.2-.1-1.6 .3-1.5-.3-1.3 .3-1.9 .8-.8-.9-.8-1.5-1.7-.3-1.4-1.3-1.2-.4-1.2 .7-1.9 .2-1.2-.1-1.1 .7-1.5-1.1-2 .9-1.3-.8-1.2 .7-1.1 .1-1.4 0-1.7-1.3-1.1 .3-1.2-.5-1.4 .4-1.5-1.5-1.9 .9-1-.1-1.8 0 1.2-1.2 1.3-.3 1.2-.5 1-.4-1-.1-2-.6-1 .1-1-.3-1.3-1-1 .2-1.6-1.4-.8 .2-1.3 .5-1.6-.8-1.1-.4-1.2 .9-1.7-.1-.9 1-1.7-.7-1.2 .9-1.4-.4-1.6 .5-.9 .3-1.4-.6-1.2 .3-1.4 .4-1.2-.5-2 .9-.9 .1-1.7 0-1.2-.2-1.1 1.5-1.5-.6-1 1.4-1.4-.4-.7 .7-1.4 .7-1 .2-.9 .8-1 1-1.5 .2-.5 1-1.6 1.1-.7-.7-.6-1.7-.6-1-1.1 .9-2-.7-.8 .8-.2 1.4 .7 2-.1 1.2 .6 1.3 .1 1.2-.1 1.2-1-.9-.9-1.1-.4-.9-.5-1.4-.1-1.6-1.2-.3-.8-1.5-1.4-.6-.3 2-.7 1.4-.9 1.5 .5 1.4-.7 1.5-.5 1.4-.9 .5 0-1.7-.9-.7 .8-1.6 .3-1.4-.9-1.4 .7-1.4-.6-.8-1.1-1-1.3-.7-1.1 .8-.8 0-1 1.6-1 .1-1.1 .6-.1 1.6-.7 .7 1 .7 .9 1.7-1.2 .1-1-.4-1.5-.9-1.3 .2-1.6 .2-1.6 0-.8-1.3-1.8 .8-1.3-.6-.8 2.1-1-.3-1.6 .8-1-1-1.9 .3-.7 .6-1.6-.4-1.4 .1-1 .3 .8 1.2-1.4 .4-1.1-1.1-1.5 .2-1.3 .1-1.1 .5-1.4-.8-1.6 .5-1.2 .1-1.3-1.4-1 .1-1.2-.2-1.1-.2-1.6 0 .3 2 .8 1.4-1.4 .6-1.7-.4-1.5 1-.6 1.4-1.1 .5-1 .6-1.8 .6-1.1 .1-1.1 .3-1.4-1.4-1.4 .3-.9-1.6 .1-1.2-.9-.9-1.5-.2 1.8-.1 1.4 .2 1-.2 1.9 .6 .7-.3 1.5 .3 1.3 .5 1.4 0 1.4-.7 .7-.8-1.3-1.3-1.3-.2-1-.5-1.4 .1-1.1-1.5-.7-.1-1.6 .1-1.8-.5-.9-.4-2 .2zM339.9 85.7l2.5-1.3 2.4 .3 .1 1zM390 58l1 .9 1.3 .4 1.3 .2 .6 .5 1.3 0 1.2-.2 .6-1.2 1 .6 1.1 .1-.3-.9-1.2-.5-.4-1.1-1.2-.4 1-.6-.2-1.5 .7-.9 1.6 .4 1-.8 .7-.4 1.2-1.4 1 .3 1-.2 .9-.3 1.1 .5 1.6-.2 .9-1.2 .7 .1 .9 .2 1.4 .3 1.2 .2 .6-.3 1.6 .2 .7-.9 .8-.8-1.3-.7-.7 .6-.8 1-1.6-1.4-.4 .9-1.3-.9-1 .8-1-.2-.9 .7-1.3 .3-.9-1-1 .4-.9 .5-1.4 .9-1-.1-1-.2-1.4-.1-.4 .6-1 1.4-1.1 .2-.8 .3-.4 1.1-.9 .6-1.1 .8-.8 1.2-1.7 .2zM379.8 42.7l1-.9 1.5 1.2 .7-.6 1-.4 1.2 .3 1.5-.8 .7 .1 1.2 .7 .9 .2 1.7-.2 .8-.7 1.3-.7 .5 .4 1.4 .8 .8-.3 .9-1 1.2 1.1 1.1-1.1 1.2-.1 1.2-.6 .7 1.6 1.4 .3 1.3-.5 1 .1 1-.1 1.1 .7 1.1-.2 .7-.3 .9 .1 1.3 .4-.8 .6-1.2-.5-.4 1.6-1.5-.2-.8-.8-1.5 1.2-1 .1-.9-.6-1.1 .6-1.5 .5-1-.4-1.3-.5-1.1-.3-.7 .9-1.3-.6-1-.6-1.7 .3-.8 .8-1.1 .6-1-1.5-1.7 1.2-.7-.9-1.4-.1-.8 1.3-1.1-.6-1.4 .2-.7-1.2-1 .7-1.1-.7zM451.2 41.9l1.3-.3 1.7 .1 .8-.7 1.6-.4 .9 1.1 1.5-.5 1.2 .1 2 .8 .8 .9 1 1.1 2-.2 .8 .8 .8 .6 1.9-.4 1.2 1.1 1.3-.4 .7 .8 1.6-.7 1.2 1.2 1.1 .2 1.2 .1 1.3 .7 .9 1.2-1.5-.2-1.1-.4-1.1 .2-1.7 0-1.7-.9-1.7 .1-1.2-.3-.9 .2-1.7 0-1.4-.8-1.1 .1-1.3 .4-1.6-.6-1-.3-1.7-.6-1.3 .2-1-.6-.8-.7-1.7 .4-.7-1.2-1.6 .1-.2-1.1zM524.3 51.5l1-.6 1.4-.5 1.1-.3 1.2 .3 .9-.2 1.8 .9 1.5-.7 .8 .7 1.2-.4 1.6 0 1.5 .6 1-.6 1.8 .7 .9-.1 1.2 0 1.5 .5-1.2 .4-1 .5-1.7 .1-1.5-.6-.9 .4-1-.4-1.8-.2-.8 .1-1.2 .1-1.5 .1-1.1 .4-2.2-.4-1.4 .5-1.8-.1zM529 54.8l1.8-.7 1 .6 1.9-.3 0 .8-1.6-.5-1.3 .4zM540.8 51.8l1.4 .5 2 .2 1.3-.5-1.1 .7-1.3-.1-1.3-.2zM589.5 58.3l2-.4 1.4 .6 1.3-.5 1.2 .8-1.2 .2-2.1-.2-1.1 .3zM532.1 85.9l1.6 1.3 .5 3.2 1.1 3.7-1.6 3.9 .8 1.3-2.4-.8 0-3.2 0-3.3-.4-3.2zM537.6 102.7l1.6-.9 3.1-1.8-2.3 1.3-1.5 .7zM543.9 99.5l1.6-.7-.5 .7zM547 98l1.6-.9-.5 .6zM549.4 96.1l1.6-1.5-.5 .8zM551.9 94l1.6-1.6-.6 1.1zM553.3 92.5l1.1-.9-.1 .9zM385.3 61.6l2.3 .1-1.1 .8zM401.8 59.9l1.1 .9 1.2-.2-2.3 .3zM569 84.3l1.3 .3-.5 .6z"/>
<path d="M371.9 103.5l3.9 .4 2.4 .9 2.4 .2 1.5 1 0 1.3-2.3-.3-2.4 .3-1.4-.8-1.7 .1 0-1.4z"/>
<path d="M377.4 107.3l2.4-.3 .8 .9 1.5 2-.4 .9-1.9-.8-.3-.5-1.8-.8z"/>
<path d="M379.8 107l2.3 .3 0-1.3 2.1 1.1 1.2-1 1.4 2 1.3 .5-1.6 1.6-.6 1.5-1.4-.7 0-1.5-2.4 1.3-.4 0 .4-.9-1.5-2zM379.5 109.5l.3 .5 1.9 .8-1.1 0z"/>
<path d="M288.4 129l2.6-1.3 2.4-1.6 .5-1.6-.2-1.7 2-2.9 2.7-1.3 1.4-2.7 1-.2 2 1.1 2.8 .2 .8 3.4 .7 1.5-3.5 1.7-2.4 1.7-3.1 .8-2.6 1.3 0 1.6z"/>
<path d="M288.4 129l7.1 0 0 .6 0 2.2-5.2 0 0 4.2-1.6 .6 0 2.8-6.3 0 .2-1.2 1.4-2.7 1.7-2.1 .6-2z"/>
<path d="M282.4 139.4l6.3 0 0-2.8 1.6-.6 0-4.2 5.2 0 0-2.2 6 3.8-2.6 0 1.6 13.8 0 1.6-6 0-2.2 .1-1.3-.3-1.1 1.3-2-2.1-1.6-.8-3.1 .8 .8-3.1-.3-2.1-.5-2.1-.8-.6z"/>
<path d="M301.5 133.4l9.5 6.3 0 .6 2.8 1.5 .5 1.3 1.5-.2-.1 3.8-1.1 2.1-3.9 .8-1.3 0-1.1-.2-2.3 1.5-1.6 .8-2.1 .8-.3 .8-1.2 1.5-.3 2.2-1.1-.3-2.7 .7-.3 0-.3-1.3-1.1-2.1-2.1 .1-1.7-.3-1.3-3.9 1.1-1.3 1.3 .3 2.2-.1 6 0 0-1.6-1.6-13.8z"/>
<path d="M305.6 117l3.5-1.1 2.4-1.2 2.3-.5 3.2 0 3.1-.3 2.5 .2-.5 .6-.1 2.5-1.1 1.9 2.3 2.8 .8 2.9 .5 3.2 .1 2.9-.7 .5 .9 2.8 3.1 1.6-7 4.4-2.7 2.1-2.4 .6-1.5 .2-.5-1.3-2.8-1.5 0-.6-9.5-6.3-6-3.8 0-.6 0-1.6 2.6-1.3 3.1-.8 2.4-1.7 3.5-1.7-.7-1.5z"/>
<path d="M322.6 114.1l1.9-.7 1.9 .5-.8 1.2 .8 1.7-1.4 1.5 1.2 1 1 .8 0 1.1-1.9 1.2-.2 1.7-1.1 .7-.8-2.9-2.3-2.8 1.1-1.9 .1-2.5z"/>
<path d="M348.5 122.6l3 .4 3.1 .8 2.4-1 3.1 .7 2.7-.3 1.1 2.9-.8 2.4-.3 .3-1.4-1.1-1.1-2.3 .2 1.5 1.5 2.4 1.3 2.5 1.6 3.2 .1 1.6 2.1 1.6-18.7 0 0-12.9z"/>
<path d="M348.4 138.2l18.7 0 .6 1.7-.2 2.4 2.1 2.4-2.4 1.6-.8 3.3 0 1.1-.8 2.6-1.5 2.8-1.1 .8-.5 1.6-.3-.8-1-1.1-.1-2.5-.6 0-1 .3 .3 .5-.8 2-1.2 1.1-1.6-.6-1.6 .8-1.5 .6-3.2-1.4-1.5-.2-1.6 2.6-.8 0-.9-3.6-1.4-2.9 .7-2.1 .8-2.7 1.6 0 0-6.2 0-.8 1.6 0z"/>
<path d="M362.5 158.5l.2 1.8-1.8 1 2.4 1.7 1.2 2.1 1 1.3-3 .7-.8 .6-3.9 .4-.3 .1-1.3-1.6-2.3 .3-1.8-1.3-1.4-1.4-2-2.5-1.9-1.9 1.6-2.6 1.5 .2 3.2 1.4 1.5-.6 1.6-.8 1.6 .6 1.2-1.1 .8-2-.3-.5 1-.3 .6 0 .1 2.5 1 1.1z"/>
<path d="M369.6 144.7l1.1 2.5 .4 1.6 2.4 1.6 2.2 2.1 1.1 .8-1.1 .3-2.5-2.7-2.8-.7-1.8-.5-2.2 1 0-1.1 .8-3.3z"/>
<path d="M376.8 153.3l.3 1.3-.8 .5 .6 .2-.6 .9-1.6-.1 0-1.3 1-1.2z"/>
<path d="M366.4 150.7l2.2-1 1.8 .5 2.8 .7 2.5 2.7-1 1.2 0 1.3 1.6 .1 1.9 3.1 4.7 1.6 1.6 0-4.7 4.9-2.1 .5-2.6 .8-.2 .4-3.3 .2-2 .4-2.7-1.3-1.4-.4-1-1.3-1.2-2.1-2.4-1.7 1.8-1-.2-1.8 .5-1.6 1.1-.8 1.5-2.8z"/>
<path d="M376.3 156.2l.6-.9 2.1 1.7 2.3-.6 2.4-.7 2.4-.1 3.4-.9-.3 2.2-.5 1.9-1.9 2.9-2.3 4.1-2.4 3.2-3.1 2.5-2.4 2.4-2.2 2.8-.9-1.3 0-6 1.4-1.9 .2-.4 2.6-.8 2.1-.5 4.7-4.9-1.6 0-4.7-1.6z"/>
<path d="M374.4 176.7l-2.2 1.6-.9 2.2-.6 1-2.4-2.3-.1-.4-5.7-3.3 0-1.6 .8-1.8 .8-1.1-1.6-3.9 3-.7 1.4 .4 2.7 1.3 2-.4 3.3-.2-1.4 1.9 0 6z"/>
<path d="M362.5 167.1l1.6 3.9-.8 1.1-.8 1.8 0 1.6-5.5 0-1.4 .7 .1-1.5 .4-2.1 2.2-2.3-.8-2.1 .3-.1 3.9-.4z"/>
<path d="M362.5 175.5l5.7 3.3 .1 .4 2.4 2.3-.7 2.5 1.1 1.2-.3 2.5 .8 2.4 1 .8-3.8 1.3-3.2 .5-1.7 0-.5-.2-.1-2.4-.8-.8-1.6 0-.8-.3-2.3-1.2-.3-.4-2.1-3-.1-3.2 .9-.3 1.3-1.7-.5-1.4 .5-.2-.5-2.1z"/>
<path d="M355.6 176.2l1.4-.7 .5 2.1-.5 .2-2.4 .5 .4-1.8z"/>
<path d="M354.6 178.3l2.4-.5 .5 1.4-1.3 1.7-.9 .3-.3-1.6z"/>
<path d="M326.5 180.2l1.3-.6-.6-2 1.5 0 3-.6 .2-2.1-1-1.5 1-1.8-1.9 .2-.2-1.5 2.1 0 2.3 .8 .3-.8 .5-1.6 3.3-.5-.9 2.5-.5 4-2.4 2.8-1.4 3.4-1.4 .8-2-.3-.5-.4-1.3 1z"/>
<path d="M326.5 180.2l-2.3-2.4-1.3-2.8 .8-1.9 .8-.8 2.3 0 0-2 3 0 .2 1.5 1.9-.2-1 1.8 1 1.5-.2 2.1-3 .6-1.5 0 .6 2z"/>
<path d="M324.5 172.3l2.3 0 0-2-2.3-.1zM322.3 168.1l.8-.2-.3 .8z"/>
<path d="M324.5 170.2l-.2-2.1-1.2-1.5-.5-.5 .5-1.6 .6-1 1.4-.8 1.4 .7 1.1-1 .7-2.1 .9-.5 .6-1.5 1-2.2 1.2-.8 0-1.2-.6-.3 0-1.1 1.3 1.6 .1 2.1 .8 1.3-2.2 0-.5 .6 2.1 2.6 .4 .8-1.5 2.5 .1 1.6 1 1.8 1.5 2.7-.3 .8-2.3-.8-2.1 0-3 0z"/>
<path d="M313.3 163.5l2.9 .2 1.5 2.1 1 1.1 2.2-.3 1.7-.5 .5-1.6 .6-1 1.4-.8 1.4 .7 1.1-1 .7-2.1 .9-.5 .6-1.5 1-2.2 1.2-.8 0-1.2-.6-.3 0-1.1-.9-1-1.8 1-3.9-.4-3.5 0-2-.4-1.6-.5-2.2 .6-.7 2.9 .3 2-1.6 2.4z"/>
<path d="M313.3 163.5l-1.7 .3 0-4.5-.3-.8-.9-1.6 .1-.8 .8-.7 1.6-.8 0-.6 1.9 .9 .3 2-1.6 2.4z"/>
<path d="M311.6 163.8l-.6 .2-1.1-2.3-.2-3.2-.6-2.6 1.4 .2-.1 .8 .9 1.6 .3 .8z"/>
<path d="M311 164l-1.9 .8-3.1 1.3-1.8-.5-.1-2.7 1.1-2.3-.3-2.1-.2-2.4 3.6 0 .8-.2 .6 2.6 .2 3.2z"/>
<path d="M300.5 157l.3-2.2 1.2-1.5 .3-.8 2.1-.8 1.6-.8 2.3-1.5 1.1 .2 1.3 2.6 1.7 1.1 .5 .7 0 .6-1.6 .8-.8 .7-1.4-.2-.8 .2-3.6 0 .2 2.4-2.9-.3z"/>
<path d="M297.3 166.8l-2.3-1.3-2.9-2-1.1-.8 1.4-1.4 .5-1.2 1.3 .2 .3 1.6 1.6-.3-.4 1.8 1.5 1.6z"/>
<path d="M291 162.7l-1.5-.8-1.3-1.8 0-.8 1.3-1.4 2-.2 .9 1.4 .5 1-.5 1.2z"/>
<path d="M288.2 159.3l-1.1-1.6-1.6-1.5 1.6-1.1 .5-1.1 0-.7 3.6 .5 1.7 .3 2.1-.1 1.1 2.1 .3 1.3 .3 0-.5 1.1 .6 1.6-.7 1.5-1.6 .3-.3-1.6-1.3-.2-.5-1-.9-1.4-2 .2z"/>
<path d="M285.5 156.2l-1.5-1.4-1.1-.8 2.6-.7 2.1 0 0 .7-.5 1.1z"/>
<path d="M282.9 154l-.2-1.3 2.8-.2 1.9-.5-1.9-.5-2.8 .4-1.1-1.8 1.6-2.3 3.1-.8 1.6 .8 2 2.1 1.3 3.9-3.6-.5-2.1 0z"/>
<path d="M282.7 152.7l0-.8 2.8-.4 1.9 .5-1.9 .5z"/>
<path d="M315.8 142.9l2.4-.6 2.7-2.1 7-4.4 3.5 1.5 1.3-.7 1.5 4.1-.4 .9-.4 4.9-2.3 2-.8 1.9 .2 1.3-1.8 1-3.9-.4-3.5 0-2-.4-1.6-.5-2.2 .6-.7 2.9-1.9-.9-.5-.7-1.7-1.1-1.3-2.6 1.3 0 3.9-.8 1.1-2.1z"/>
<path d="M332.7 136.6l14.1 5.7 0 6.2-1.6 0-.8 2.7-.7 2.1 1.4 2.9-1.9 .7-1.9 2.1-2.4 .3-.1 .3-3 1.8-2.4 .3-.4-.8-2.1-2.6 .5-.6 2.2 0-.8-1.3-.1-2.1-1.3-1.6-.9-1-.2-1.3 .8-1.9 2.3-2 .4-4.9 .4-.9z"/>
<path d="M333.4 161.7l2.4-.3 3-1.8 .1-.3 2.4-.3 1.9-2.1 1.9-.7 .9 3.6 .8 0 1.9 1.9 2 2.5 1.4 1.4-3.3 0-2 .2-2.4 1.5-3.9-.7-2.2 .3 0 1.3-3.3 .5-.5 1.6-1.5-2.7-1-1.8-.1-1.6z"/>
<path d="M328.3 183.5l.9 1.6 .9 2.6 .7 3.5-.7 3-1.4 1.6-.8 2.4-.3 2.4 0 1.3 1.9-.4 1.6 .6 7.1 0 3.9 .8 3.8-.5-2.2-2.2 0-5.2 3.1 0 0-3.4-.2 .1-2.6 .4-.3-2-.4-.8 0-3.6-2.8-.5-.8 1.7-3.1 .1-1.4-3.5-4.9 0zM328.3 183.3l-.4-1.3 1.3-1 .5 .4-1 .8z"/>
<path d="M346.8 191.6l.6 .8 1.7 .5 3.2 .9 2.3 1.8 1.3 0 0-1.9-2.2-.7 .3-2.1-.3-1.9 .8-1.3 3-.3 .3 .4 2.3 1.2 .8 .3 .5 2.1-.5 2 0 3.2-4.4 1.6 .3 1-2.2 .3-.3 1.1-2.8 2.5-2.7-.3-2.9-.4-2.2-2.2 0-5.2 3.1 0z"/>
<path d="M360.9 189.3l1.6 0 .8 .8 .1 2.4 .5 .2-.3 1.5-.3 1.6 2.2 1.6-.2 2.4-.8 1.8-1.4-1.3-.1-2.9-2.1-.8 0-3.2 .5-2z"/>
<path d="M372.6 190.9l.1 3.3 .3 3.2-1.1 2.8-3.1 1.7-1.9 1.2-2.8 2.9-.3 1.1 .7 2.5 .4 3.2-3.2 2.1-.9 1 0 1.5-1.3-.1-.1-1.3-.2-1.6 .2-1.6-1.1-2.6 1.7-1.8 .6-2.1 .3-.8-.1-1.6 .1-1.6-.1-1.3-2.2-.8-1.8-1-.3-1 4.4-1.6 2.1 .8 .1 2.9 1.4 1.3 .8-1.8 .2-2.4-2.2-1.6 .3-1.6 .3-1.5 1.7 0 3.2-.5z"/>
<path d="M348.8 202.8l2.7 .3 2.8-2.5 .3-1.1 2.2-.3 1.8 1 2.2 .8 .1 1.3-.1 1.6 .1 1.6-.3 .8-.6 2.1-1.7 1.8-3-.3-2.2-1-.5-1.8-2.4-1.6-1.4-1.6z"/>
<path d="M348.8 202.8l0 1.1 1.4 1.6 2.4 1.6 .5 1.8 2.2 1-3.8 2.3-.3 1.1-2.1 2.3-3.9-.7-2 2.4-1.6 0-1.1-3.2 0-4.5 1.6 0 0-6 3.6-.5z"/>
<path d="M327.6 201.9l1.1 2.5 3.2 6 0 2.4 .8 4.1 2.3 3.4 1.6 .1 2.3 .3 1.6-.8 0-5.8 0-4.5 1.6 0 0-6 3.6-.5 3.1-.3-2.9-.4-3.8 .5-3.9-.8-7.1 0-1.6-.6z"/>
<path d="M335 220.3l1.3 3 1.5 3.3-.4 .8 .6 1.9 1.7 .8 .8 .2 3.2-1.1 3.1-.2 2.7 0 2-.8 2.4-1.6 2.3-2.4 1.6-2 1.6-1.8 .7-.6 .7-2.4-1.3-.1-.6 .9-1.1-.2-.3-.7 .9-1.6 1 .3-.2-1.6 .2-1.6-1.1-2.6-3-.3-3.8 2.3-.3 1.1-2.1 2.3-3.9-.7-2 2.4-1.6 0-1.1-3.2 0 5.8-1.6 .8-2.3-.3z"/>
<path d="M357.5 217.3l.9-1.6 1 .3 .1 1.3-.6 .9-1.1-.2z"/>
<path d="M351.5 221.9l.9-1.3 1.6-.3 1.3 1.1-.3 1.6-1.6 .7-1.4-.7z"/>
<path d="M386.5 193.4l1.9 5.6-1.1 2.5-.5 1.6-1.5 4.8-1.6 4.9-.8 1.6-2.3 .8-2.4-.8-1.1-4 1.9-4.1-.8-4 .8-2.1 3.1-.9 2.4-3.5z"/>
<path d="M365.5 115.7l.5 0 .7-.5 .5-.8 3.2 0 3.1-.6 2-.2-1.5 1.1-.2 2.5-.3 .9-3.5 1.7-3.1 1.7-1.6-.6-.1-1 1.4-1.4-1-.7z"/>
<path d="M364.2 120.2l1-.3 1.4-1.4-1-.7-.7 1.1z"/>
<path d="M362.8 123.2l1.1 2.9 .8-2.5 .2-.8 .1-1.9 .3 0-.1-1-1 .3-.6 1.8z"/>
<path d="M363.9 126.1l1.7 .5 2.4-1.3 .8-.8-1.6-1.7 3.2-.8 .3-.5-.7-1.7-3.1 1.7-1.6-.6-.3 0-.1 1.9-.2 .8z"/>
<path d="M375.5 113.6l4 0 1.1 1.9 .7 1.5-.7 1.8 .7 1.6 2.4 1.1 .5 2.1 .3 .9 .8 .9-1.3-.3-1.9 1.6-2.8-.1-4.2-3.1-2.5-1.3-1.9-.7-.7-1.7 3.5-1.7 .3-.9 .2-2.5z"/>
<path d="M382.1 126.7l1.9-1.6 .5 1 .6 1.6-1.4 0z"/>
<path d="M363.9 126.1l1.7 .5 2.4-1.3 .8-.8-1.6-1.7 3.2-.8 .3-.5 1.9 .7 2.5 1.3 4.2 3.1 2.8 .1 1.6 1 1.4 0 1 1.6 1.5 1.3 .3 1.6 1 1.5 .6 .3 .6 .7 1.6 2.1 4.1 .3 .8 1.1-1.1 3.3-4.7 1.6-4.7 .6-3.2 2.6-.8-.3-3.9-.3-1.1-.2-.8 1.8-.5-1.8-1.5-2.4-2.4-2.1-1.4-2-.9-3.2-1.9-2.4-1.3-2.5-1.5-2.4-1.5-.2z"/>
<path d="M376.3 147.3l.8-1.8 1.1 .2 3.9 .3 .8 .3 3.2-2.6 4.7-.6 1.7 3.8-1.4 1.7-5 2.6-2.4 .7-3.9 1.3-2.4 .3-.5-1.2-.6-2.7zM392.8 153.5l1.9 0-1.1 .5z"/>
<path d="M392.5 146.9l-1.7-3.8 4.7-1.6 1.1-3.3-.8-1.1 .9-2.4 1-1.2 .9 1.7 2.4 .4 2 1.8-.5 1.6-1.5 1.8-1.1 2.3-2.1 1.6-2.3 1.6zM397.2 131.6l.5-.3 0 .9z"/>
<path d="M390.1 134.7l1.6 2.1 4.1 .3 .9-2.4 1-1.2-.3-1.4-1.4 .8-1.5 1.4-2.9 .4z"/>
<path d="M388.9 133.7l.6 .3 .6-1.4-.4-1-.8 1z"/>
<path d="M379.5 109.5l-.8 1.2 0 1.6 .8 1.3 1.1 1.9 .7 1.5-.7 1.8 .7 1.6 2.4 1.1 .5 2.1 .3 .9 .8 .9 1.5-.3 1.1 .5 1 1.5 1.1 1.7 2.3 1.8 2.7 .3 2.5-.9 1.1 .5 .5 1.7 2.7 .5 4 .4 .4-1.7 2.2-.8 .1-.8-.8-1.6-3-2.7 1.5-1.5-.2-1-1.4-.2-.3-2.6-.2-.9 1.1-3.1 0-1.6-1.4-.2-2-1.3-2.7-1.1-2 .1-1.9 1.2-1.4 .1-3 1.2-1.6-.2-2.4-1.3-.9-1.4-1.4-.7 0-1.5-2.4 1.3-.4 0-1.1 0-.8-.8z"/>
<path d="M405.8 133.1l3.8-.2 3.9-.2 .8 1 1.9 1.8 1-1 3.4-.5-1.6-3.1 .7-2.4 2.3 .2 1.6-1.8 .8-1.5 1.7-1.8 1.4-2.1-1.7-1.1-.8-2.1 1.9-.5 3.1-.6 1.3-.8-2.8-.9-.4-1.4-1.4-.6-2.9 .6-2.9 1.3 .7 1.3-.8 1.9-1.3 1.2-1.2 .4-.4 2-2.5 .8-2 .6-.2 1.8-3.6 .7-2.3 .1-2.6-.7 3 2.7 .8 1.6-.1 .8-2.2 .8z"/>
<path d="M416.2 135.5l.5 .8 2.3 .8-1.5 .7 2 2.2 1.9 .2 1.1-.5 .8-1.1 .1 2.9 0 1.6 .8 3.2 .8 2.5 1.3 3.2 1.1 2.8 1.4 2.9 .6 1.8 1.4 1.3 1.1-1.3 1.3-.7 1.2-1.6 0-1.9 .8-2.8-.3-3.2 1.4-1 2.1-1.3 1.8-2 2.4-2.5 2.8-1.8 .3-1.7 1.9-.1 1.4-.3-.3-2-.3-2.1-.9-1 .4-2.2 1.8 .5 .4 1.1 4 .3-.2 1.3-1.4 .5-.2 .8 .7 1 1.5 1.6 .7-.2 .6-1.7-.2-1.5 2.2-.3-.1-1.3 .9-1.8 2.8-1.6 .5-1.8-1.7-1.8-1.9 .2-2.4 .8-2.1 1.4-.2 1.7-3.6 .1-1.3-1-.1-1.1-1.1 .2 0 2.4-3.3-.3-2.4-1.2-1.9-.1-3.6-1.5-1.4-.8 .5-1.4 .9-.9-2.3-1.3-1.1-.3-.7-2.1 1.3 0-.5-2.9-1.4-1.9-.3 0-1.3 .8-3.1 .6-1.9 .5 .8 2.1 1.7 1.1-1.4 2.1-1.7 1.8-.8 1.5-1.6 1.8-2.3-.2-.7 2.4 1.6 3.1-3.4 .5zM454.7 152l.5 .3-.2 2.8-.6-.3zM456.3 162.2l.3 .4-.2 .3z"/>
<path d="M449 138.6l-.3-2-.3-2.1-.9-1 .4-2.2 1.8 .5 .4 1.1 4 .3-.2 1.3-1.4 .5-.2 .8 .7 1 1.5 1.6-.4 1.9-.5-1.6-.5-1.3-1.9 .4-.7 .6z"/>
<path d="M448.7 129.6l1.3 1 3.6-.1 .2-1.7-.8 0-2.9-.6z"/>
<path d="M434.9 127.2l.5-1.4 .9-.9 2.4 .4 2.3 1.3 3.2 1.9 3.3 .2 0 2.4-3.3-.3-2.4-1.2-1.9-.1-3.6-1.5z"/>
<path d="M434.6 158l2 2.1 1.1 2.5-.9 1.2-1.7 .4-.7-2.5 .2-2.4z"/>
<path d="M454.1 140.3l.4-1.9 .7-.2 .6-1.7-.2-1.5 2.2-.3-.1-1.3 .9-1.8 2.8-1.6 .5-1.8 1.6 1 .6 2.7-1.7 1.8 .3 1.5 1.9 1.3 .5 1.6 1.4 .9 1.5 .5-1.7 1.5-2.5 1-1.3 1.9 1.5 3.7-.7 1.7 1.6 2.4 0 2.7-.8 3-.3-2.1 .3-1.6-.1-1.7-1-1.6 .2-1-.5-1.4-1.3-1.7-.7 .9-1.9 1.1-1.6-.3 .5-1.4-.2-1.1-.5-2.1-1.1-1.6z"/>
<path d="M464.1 157.4l.8-3 0-2.7-1.6-2.4 .7-1.7-1.5-3.7 1.3-1.9 2.5-1 .6 1.3 1.1 0-.3 2.4 .3 .8 1.5-.9 .9 .3 2-.7 1.3 1.5 0 1.8 1.3 1-.2 1.9-.5 .3-3.1 0-1.1 1.2 .6 2.9-1.4-1.2-1.6-.3-.1-1.3-1.4 .2 .3 .8-.3 1.4-.5 1.6-.8 .9 .2 1.9 1.5 1.3 .3 2 1.6 .6 1 1.1-1.6 .9-1.4-1.3-.8 0-.9-1.1-.2-1-1.1-.4 0-1.6z"/>
<path d="M466.3 141l1.7-1.5 1 0 .6-1.9 0 1.4 1.3 1.2 2.2 .5 .8 .8-1.5 .8 1.9 1.9 .5 1 1.9 2.1 1.2 2 0 .8-2.3 .5-1.3 .1 .5-.3 .2-1.9-1.3-1 0-1.8-1.3-1.5-2 .7-.9-.3-1.5 .9-.3-.8 .3-2.4-1.1 0z"/>
<path d="M469.6 137.6l1.3-.2 3.6-1.3 2.2 .8 2 2.1-2 1.2-.3 1.6-1.3 1.3 .5 1.3 .8 .6 1 1 .5 1 1.3 1 .2 1.1 .7 1.4 .7 1 .3 1.3-.3 1.6-.5 1-1.1 1-1.6 .6-.9 .7-.3 1-1.1 1-1 .1-.6 .2-.2-1.5 .5-.8-.8-.7 1-.8 1.5-.1-.1-1.2 2.3-.9 0-3.9 0-.8-1.2-2-1.9-2.1-.5-1-1.9-1.9 1.5-.8-.8-.8-2.2-.5-1.3-1.2z"/>
<path d="M470.7 154.8l-.6-2.9 1.1-1.2 3.1 0 1.3-.1 2.3-.5 0 3.9-2.3 .9 .1 1.2-1.5 .1-1 .8-1.4-.1-.8-.8z"/>
<path d="M466.5 163.4l1.4 1.3 1.6-.9 2 2.3 0 2.1 .8 1.3 .3 1 .2 1.1-1.1 .2-1.2-1.1-1.4-.8-.9-.7-1-1.1-.1-1-.5-2.1zM481.2 170.7l2.9-.7 1.4-.7 1.1-.6 1.7-2.3 1.6 .5 .3-1.1 .3-.5 .3-.8 1.1-.9 .5-1 1.6 .9 .6 1.1 1.7 .9-1.1 1.1-.8 .3-.6 .2-2.5-.2-.8 2.1-1.4 2.5-2.5 .1-3.2 .7-.8 .1-1.2-1.1z"/>
<path d="M488.3 166.4l1.9-.6-.3 1.1z"/>
<path d="M458.8 164.8l1 .5 1.5-.5 .9 .7 1.2 .7 .7 1.5 1.8 1.2 .7 .9 1.9 .9 1.1 .2 .7 1.6 1.4 .6 .5 .9-.2 1.5 1.2 1.5 1.4 .4 1 1.4-.5 1.3-.1 .6 .4 1.2 0 1.4-2 .2-1.2-.7-.4-1-1.5-.6-.5-.8-1.3-.9-.2-1.2-.7-.8 0-1-1-1.1-1.1-.9-.9-1.4-1.1-1-.3-.7-.2-1.2-1.1-1.4-1.2-.9-.4-1.1-1.1-.5zM474.3 184.9l1.6-1.3 1.5 .8 1.1 .5 1.2 0 1.8-.4 1.1 .6 .8-.8 1.4 .7 1.3 .2 1.5 1.3 1.2 0 .1 1.5-1.2 .1-1.3-.1-.8-.9-1.4 .3-1.1-.7-1 0-1.3 .1-1-.4-1.1-.3-.9-.4-1.4 .2-1.1-.4zM481.2 170.7l.2 .6 1.2 1.1 .8-.1 3.2-.7 2.5-.1 1.4-2.5 .8-2.1 2.5 .2 .6 3.2-.3 2 1.9 0-.9 .6-.6 .9-.9 1.4-1.5 1.1 .2 1.5-.7 1.8-1.9 .8-.8-.8-.9-.1-1.4-.3-2.1 .4-1.3-.4-1-.6 .3-1-.6-1.6-1.2-1-.4-1.6 0-1.9zM497.3 172.6l1.7-.8 1.3 .4 1.3 .3 1.5-.1 1.3-1.1 1-.2-.4 .8-.4 1.4-1.4-.5-1.5 .6-1.4 .2-1.2-.5-.7 .8-.4 1.5 1.9 0 1.6 .1 1.3-.1-1.4 .5-1.3 1.1 .3 1.1 .8 1 1.1 1.3-.5 1-1.1 .1-.8-1.1-.2-1.5-.7-.6-.8 .5 .2 1.4 .1 1-.3 1.6-1.4 0 .3-1.9-.5-1.3-.9-1.3 .1-1 .3-1 1-1.2 .2-1zM488.9 187.2l1.9 .3-.8 .7zM491.3 187.4l1.1 .1-.3 .8zM492.5 187.7l1.1 .2 1.3-.6 1.1 .2 0 .7-1.9 .2-1.2 .1zM497.4 187.7l1.3 .3 1-.3 1 .1 1.6-.4-.3 .6-1 .5-1.4-.7-.9 .9-1.1-.4zM496 189.3l1.1 .8 1.7 0-1.2 .3zM503.1 190.6l.5-1.1 1-.7 .8-.3 0 1-1.5 1.1zM509.3 171l.8-.7 .6 .9 .5 1.1-1.1 1.6 .8 1.3-1.1-.8-.5-2.1zM510.1 178.8l1.1-.2 .8 .6 1.5 .1 1-.2-.4 .8-1.6 .3-1.1-.3-1-.3zM507 179.1l1.9 .1-.8 .9zM530.6 178.1l0 10.6-1.8-1.7-1.8-.1-.8 .6-.8-1.8 1.5-.6-.3-1.6-.8-.7-1.2-.2-1.2-.8-1.5-.8-1.3 .1-1.8-1-1.1 .3-1.3-1.8 1.1-.6 1.6 0-1.6-.2-1.1-.7-1.6-.9 0-1 1.4-.7 1 0 1.1 .8 1.3-.1 .3 1.9 .4 2.1 1.6 .2 .3-1.2 1-.7 .8-.7 1.5-.5 1.3 .4 1.4 .8zM474.5 176.5l1.6 .2 .3 2.1-1.1-.4zM478.1 178.1l1.1 .2-.5 .8zM461.4 171.6l1.3 .8-.5 .5zM464.1 175.5l1 1.2-.7 .1zM519.9 183.3l.9 .3-.6 1.3zM514.8 186.1l1.1-.5-.6 1.3zM504.6 176.7l1.3 .1 1.1 .2-.8 .1zM501.8 182l.8-.3-.3 1.3zM521.9 175l1.3 .7-.8 .1z"/>
<path d="M505.4 188.5l3.2-1 .3 .3-3.5 1.7z"/>
<path d="M530.6 178.1l2.3 1 1.3 .5 1.8 .5 .8 1 .5 1.1 .8 .5 1.6 .7 1.1 .2 .4 1.2-1.2 .4 .7 .7 .8 1 1 .9 .2 .8 1.2 .7 .9 1.2 1.1 .1-1.5 .3-1.1 .1-1.8-.7-1.5-1-.2-1.1-1.4-1.3-1.3-.7-1.1 0-1.5 1.2-.8 1.3-3.1 0zM542.2 182.8l1.4 .2 1.1-.2 1.2-1.5 1.1-.6 1.3 .2-.5 1.6-1.1 .9-1 .4-1 .3-1.3-.4-1.2-.4zM545.9 178.1l.8 .8 .6 .8 1.3 .4 .8 1.4-.3-.6-1.1-1.5-1.4-.5zM552.1 182.8l1.7 2-.8 .1zM539.3 177.1l1.1 0-.4 .5z"/>
<path d="M498.5 143.9l1.4 .5 1.1-.3 .4 1.2-.2 1.9-1.1 1.1 .2 1.5-.1 .9 2.1 .7 .5 1.1 1.1 1-1.1-.7-1.3-.9-1.9 0-1.1-1.2-.8-.8 .4-1-.7-1.4 .8-.5 0-1.5zM500.7 162.6l.2-1.3 1.5-.6 .7-.9 2-.3 1.1-1.5 .2 1.5 1.2 .2 .2 1.2-.7 1.8 .4 1-1.4 1 .4-2.1-1.6 .3-.7 .9-.3-2.1-1.9 .7zM504.3 153.6l1.9 .4 .3 2.1-1.1-.5-.6-.7zM500.7 154.8l1.6 .5-1 .7-.6 .9zM502.3 156.2l-.2 1.5 .7 1.3-1.3-1zM504.6 155.6l.8 1.8-.3 .1zM493.2 160.3l.7-.9 1.1-.9 .5-.7 .3-1.4 1-.8-.3 1.3-.7 1.1-.8 .8-1.4 1zM498.2 152.2l1.6 .3-.3 1.5-.7-.5zM502.9 156.2l1-.5 .1 1.3-.8 1.3z"/>
<path d="M504.3 109.2l-2 .5-2.4 1.3 .5-2.8-1.3-.6-2.3 1.8-2.4 1-.4 1.1 1.8 1.6 3-.5 2.7 .7-2.4 1.3-1.1 .9-1.5 1.7 1.5 1.9 1.1 2.1 1.5 1.3 0 1.3-2.2 1 2.3 .6-.6 2.3-1.7 2.1-1.3 2.1-1.6 2-1.9 1.6-1.5 1.3-3.5 1-1.2 .1-2.9 1.1-1.9 .5-.3 1.5-.8-2-2.8 0-2-2.1-2.2-.8-3.6 1.3-1.3 .2-.6 1.9-1 0-1.5-.5-1.4-.9-.5-1.6-1.9-1.3-.3-1.5 1.7-1.8-.6-2.7-1.6-1-1.7-1.8-1.9 .2-2.4 .8-2.1 1.4-.8 0-2.9-.6-1.4 1.4-.1-1.1-1.1 .2-3.3-.2-3.2-1.9-2.3-1.3-2.4-.4-2.3-1.3-1.1-.3-.7-2.1 1.3 0-.5-2.9-1.4-1.9-.3 0-2.8-.9-.4-1.4-1.4-.6-.1-2-1.6-.2-.1-1.4 2.9-1.5 1.9-.8 2.7-.5 2.7-1.4 0-1.5 .9-.3-.6-2.9 3.3-.5 .8-3.1 3.9 .3 .3-2.3 2.5-1.3 .8 0 .3 .9 3.2 1.4 1.5 2.1-.1 2 4 .6 2.9 1.2 1.5 2.2 5.9 .3 2.8 .2 5 1.5 3.2-1.3 3.9-.2 2.3-1.6 1.4-.3 .2-2.1 3.1 0 2.4-.9 1.6-1.3 1.5-.4 3.5-.2 .3-.5-2.2-1.4-1.1 .3-2.8-.2-.6-.1 1.7-3.1 1.7 .5 2.4-1.3 1.1-2 1.1-1.8-1-1.1 5.4-.3 3.9 1.1 2.3 4.2 4 2.1 1.5 2 3.2-.7 2.7-.3-2.7 5.2-2.7 .3-.5 3.1-.6 1-1.1-.8-.6 .8-2.4 .6 .5 .8-2.2-.5-1.4 1.5zM479.8 142.6l1.3-1.1 2.2 0-.7 1.9-1.5 1-1.3-.5z"/>
<path d="M499.9 132.9l.8 .5-.8 2.4-.9 2.4-1.1-1.1 0-1.8 1.2-1.9z"/>
<path d="M447 94.1l.3-1.2 2.7 0 3.6-1.3 4.7 1.3 4.7-.9 .5-2.4 5.8 1 .3 1.4 6 .4 3.9 1.4 3.9 0 4.7-1.3 4.3 .7-1.7 3.1 .6 .1 2.8 .2 1.1-.3 2.2 1.4-.3 .5-3.5 .2-1.5 .4-1.6 1.3-2.4 .9-3.1 0-.2 2.1-1.4 .3-2.3 1.6-3.9 .2-3.2 1.3-5-1.5-2.8-.2-5.9-.3-1.5-2.2-2.9-1.2-4-.6 .1-2-1.5-2.1-3.2-1.4z"/>
<path d="M386.4 98.7l-1.1-1-2.4-1.6-.8-.8 1.6-2.9 1.9-.5 3.3-1.8 3.4 .3 3.2 1.3 4.7-.5 5.5 .4-2.4-2 1.6-3.1 6.3-.8 6.3-1.4 3.1 1.7 3.9 .4 4.7-.4 2.1 1.5 3.4 4.1 4.8-.4 3.1 2.3 3.6 .6-2.5 1.3-.3 2.3-3.9-.3-.8 3.1-3.3 .5 .6 2.9-.9 .3 0 1.5-1.9-1.2-4.7-.1-2.4-.5-1.6 1.1-3.9-.2-.1 .5-1 .7-2 1-1.6 .8-2.4-.7-.7-2.7-6.3-1-1.6-1.3-3.9-2-3.9 .9 0 6-1.9-1.2-2.9-.3-.7 .8 .4-1.8-2.5-.6-1.4-1.8 1.6-1.6 2.6 0 0-2.5-2.8-.4z"/>
<path d="M397.1 107l0-6 3.9-.9 3.9 2 1.6 1.3 6.3 1 .7 2.7 2.4 .7 1.6-.8 2-1 1-.7 1.2 1.3 2.1 1.2-2.1 .9-1.9-.1 0-.8-2.3 .9-.8 1.2-1.6 .3 1.3 1.8-.8 1.6-2.1-.2 0-1.1-3.4-1.5-2.8-1.7-1-2-2.8-.3-.2-1.3-2.3-.8-2.1 1.1-.3 1.2z"/>
<path d="M391.6 106.3l.7-.8 2.9 .3 1.9 1.2 1.5 0 .3-1.2 2.1-1.1 2.3 .8 .2 1.3 2.8 .3 1 2 2.8 1.7 3.4 1.5 0 1.1-1.4 0-1.7 1.7-2.4 1.4-1.1 .2-1.7-.5 0-1.6-1.4-.2-2-1.3-2.7-1.1-2 .1-1.9 1.2-1.4 .1-.2-2.6-1.3-.9 .8-2.1-1.1-.7z"/>
<path d="M415.6 113.6l.3 .3 3.1-.8 .4-.8 2 .2 .2 1.7 2.6-.9 2.5 .2-.1-2-1.6-.2-.1-1.4-2.7 .1-2.4-.3-1.9-.5 1.9-.6 0-.8-2.3 .9-.8 1.2-1.6 .3 1.3 1.8z"/>
<path d="M504.3 109.2l2.7-1.6 1.4-1.5 2.2 .5-.5-.8 2.4-.6 .6-.8 1.1 .8-1.4 1.8 0 .8-1.5 .5-1.2 .3-.8 .8 0 1 1.5 .9-2.2 .5-.5 .8-2.2 .2-.9-.7 .9-2.2z"/>
<path d="M508.1 112.6l.5-.8 2.2-.5 1.5 2.6-.1 1.2 .3 1.3-1.6 .9-1.6 .4-1.8 .3 .3-2.1-.5-1.7zM507.3 119.6l1.1 0-.6 .5z"/>
<path d="M530.4 106.6l.9 1.6 .8 1.7-.5 1-1 1.1-.2 2.1-.2 1.9-1.5 1.2-1.6 .5-1.7 .4-1.1-.3-.3 .5-1.6 1.3-1.3-1.8-1.3 .5-1.8 0-1.6 .6-1.6-.1-.1-.5 1.4-.5 1.1-1.3 .9 0 1.5-.1 1.4-.4 1.7 0 .2-1.2 1.1-1.4 .7-.3-.4 1.1 1.3-.6 1-.3 .8-.6 .8-1.2 .6-1.3 .2-.8 0-1.3 .5-1zM529 106.6l.5-1.3-.8-.5 1.1-1.1 .8-1.1-.2-1 1.1-1.3 1.3 .6 .9 1.2 1.5-.2 .9-.1 1.2 .3 .3 1.6-.7 .8-1.8 .4-.6 .9-.5 0-1 0-1.3-1-1.3 .2 .2 1.3zM513.3 119.6l1.5-.7 1.5 1.2-.1 1-.6 1.4-1.2 1.1-.8-.4 0-2-.8-.8zM517.2 118.8l1.2 .2 1.9-.5-.4 1.4-1.9 .8-1.1-.8zM509.7 131.4l.9-.9-.5 .8zM512.2 128l.6-.3-.3 .6zM513.9 124.6l.5 0-.3 .3z"/>
<path d="M532.9 191.2l2.1 5.9 2.3 1.1 1.1 5.7 3.9 2.4 3.6 4.6 3.5 4.3 .8 4.4-.8 4.6-2.4 4-2.3 4.9-.2 1.6-3.7 .8-1.8 1.8-2.6-1.3-1.9 .8-4.3-1.3-2-3.2-2.4-.9-.3-4-.4 3.2-2.4-.3-1.6-2.1-1.5-1.3-4.8-1.9-3.1 .3-4.7 1-3.1 1.1-.8 1.5-5.5 0-3.2 1.7-4.4-1.1 .8-3.7-1.9-4.9-1.5-4.9 .3-5.6 .8-1.2 3.9-2.1 3.6-.8 3.9-.8 1.3-3.2 2.7-2.1 2.3-2.8 2.4-.8 2.3 1.5 1.9-.2 .5-2.9 1.5-1.3 2.4-1.2 3.9 1.2 2.9 0-1.3 2.1-.8 2.4 3.2 1.6 3.1 2.5 2-.4 1.1-3.7 .2-4zM536.4 239.9l2.8 .6 2.8-.3-.1 2.1-1.1 1.8-2.4 .5-1.3-1.8zM523.6 231.6l2.2 .3-1.1 .4zM513.7 192.4l1.6-.2-.8 .8z"/>
<path d="M580.3 229.7l1.3 1.3 1.3 .4 .7 .9 1.1 .8 .8 1.7 1.2 .2 2-.2 .8 .2-.4 1.5-.7 .9-1.3 .5-.8 1-.3 1.5-1.6 .9-.9-.5 .5-2.1-1.9-1.1 .9-1 .3-1.1 .2-1.6-.9-.7-.6-1.2-.9-1.4zM580.3 239.6l1.3 .1 1.3 1-.5 1.1-.9 .7-.7 1.4-.3 1-1.4 .5-1 .3-.3 1.7-.4 .9-1.2 .4-.9 .7-1.9-.1-1.5 0-1.3-.8 .8-1.7 1.2-.4 1.1-1.2 1.3-.7 .8 0 1.1-.9 1-1 .6-.9 1.1-1.7zM572.3 249.8l1 .1-.7 .5z"/>
<path d="M587.6 202.3l1.9-.2 0 1.3-1.8-.2zM589.8 201l2-.8-.8 .9z"/>
</g>
<g fill="#C71000">
<path d="M125.2 121.2l3.6 0 5.9 1.9 4.5 0 0-.7 2.6 0 2.4 1.7 .8 1.8 2 1 .8-1.1 2-.2 1.5 1.8 1.5 1.9 .7 1.8 2.9 .7-.7 3.2-.2 2.8 .9 2.5 1.4 2.3 2.1 1.1 .8 .7 3.1-.7 1.6 .2 1.2-1.3 .5-2.4 3-1.2 2.4 0 .3 1.2-1.1 2.1-.5 1.9-.8-.3-1.3 1.1-2.9 0 0 1 .9 1.3-1.7 .5-1.1 1.3 0 1.2-2.5-2.3-1.6-.4-2.7 .9-3.1-1-2.4-1.2-2.8-1.4-2.7-.8-2.3-1.8-1-1.6 .5-1.7-1.1-2.4-2.3-2.4-2.4-1.8-.8-1.8-1.6-1.3-1.5-1.6-1.6-2.1-1.1-2-2.3-1.1-.2 1.1 1.2 2.2 1.6 1.9 1.6 2.4 1.6 2.5 1.1 2.1 1.2 1.6-.8 .5-1.2-1.5-2.2-1.6 0-1.9-2.1-1.3-2.3-1.7 1.2-1.1-2.3-2.4-1.6-2.5z"/>
<path d="M185.3 171.6l-1.9 1-.7 2.1-.8 .8 .3 2 1.2 .5-.4 1.4 .1 1.6 1.4 1 1-.6 .6-2 2.5-1.3 1.8-1.8 .4-2.2-1.5-.8-1.8 0z"/>
<path d="M327.2 120.1l2.3 .5 3.5 .9 .8 1.5 2.8 .8 2.3 1 1.6-1.2 0-1.9 2.4-1.1 2.6 .6 3 1.4-.1 2.7 0 12.9 0 3.3-1.6 0 0 .8-14.1-5.7-1.3 .7-3.5-1.5-3.1-1.6-.9-2.8 .7-.5-.1-2.9-.5-3.2 1.1-.7 .2-1.7 1.9-1.2z"/>
<path d="M404.7 125.5l2.6 .7 2.3-.1 3.6-.7 .2-1.8 2-.6 2.5-.8 .4-2 1.2-.4 1.3-1.2 .8-1.9-.7-1.3 2.9-1.3 2.9-.6-2.5-.2-2.6 .9-.2-1.7-2-.2-.4 .8-3.1 .8-.3-.3-2.1-.2-1.4 0-1.7 1.7-2.4 1.4-1.1 .2-1.7-.5-1.1 3.1 .2 .9 .3 2.6 1.4 .2 .2 1z"/>
</g>
<g fill="#FFFFFF">
<path d="M203.6 143.9l2.3 .2-.1 .6-2.2 0z"/>
<path d="M224.3 164.5l1.7 .6 1.9 2-1.3 2.6-.7 .6-2.4-.1 .8-2.1-.8-2.1z"/>
<path d="M199.9 202.3l.8-2.1-.9-1.5 .9-1.3 .2-2.9-1-2.8 1.6 0 3.2-1.9 1.8 0 0 2.7 1.5 1.5 2.5 1 2.8 .8 1.1 1.6 .1 2.9 3 0-.1 1.5 1.2 1.3-.3 1.6-.6 1.3-1.4-.8-4.1 .5-1.4 4.2-1.7-.3-1 1.3-1.4-1.2-1.7-.5-1.4 1.7-1.1 0-.5-2.1-1-2.3 .5-1.2-.8-.6-.1-1.3z"/>
<path d="M313.1 91.1l-1.5 .3-.1 1.3-1.1-.3-1 1.1-.9 .6-1.3-.3-.6-.5 0 1.7-2.2-.2-2.7 .6 .6 1 2.9 .8 2 1.8 .2 1.1-.3 1.7-.8 1.7 2 1 1.9 0 1.6 .5 2.3 .2-.3-1.3 1.6-.5 2 .3 1.9 .3 1.6-1.1-.8-.8 0-1.5-.3-1.1-1.1-.5 1.4-2.1 .9-.2 1-2.2-2.9-.8-.9 0-1.6-.8-.9-.4zM322.6 105.2l1.3-1 .1 1.6-.5 1-.7-.5z"/>
<path d="M300.1 92.7l1.2 .1 1.2-.6 1.1-.3 1.3-.7 1.1 .7 .8-.7 1.5 .1 .8 .3 .6-.9 1.6 .2-1.1-.5 1.1-.5 .5-1.3-1.1 .3-1.1-.9-.3-1-1.2-.2-.3-1.2-1.1-1.2-.7-1.1-1.6-.2 1.3-.5 .1-1.1 .5-.8-.9-.8-1.8 .5-.8 .1 .6-.5 .8-1.1-1.6 .4-1.4-.4-.9 .6-.3 1.2 .1 1.6 .4 1.8 1.1-.2-.2 1.2 1.3-.5 .9 .3 .8 1.5 0 .9-1.3 .8-1.1-.6 .3 .8 .5 .5-1.1 .4-.8 .6 1.6 .5 1.9 .3-1.9 .3-1.2 .2zM300.5 85.9l-.8-1.5-2.1-.1-1.4 1.1 1.4 .8 1.8 .2zM297.3 80.7l.8-.9 1.3-.6-.2 1.2zM306.6 75.8l1.1-.1-.6 1.1zM303.9 78.1l1.1-.2-.6 .7z"/>
<path d="M340.5 109.5l1.1-.8 .5-.9 1.6-.5 1.5-.3 2.4-.4 2.3-.3 1 .7-1 .9-2.6-.1-.5 1.3-1.9-.7 0 1.5 .6 .8 .3 .9 1 .7-1.3 .2 .4 .9-.4 1.3-.6 .2-1.7-.7-.8-1.7 .9-.7-1.2-.3-1.1-1.5zM346 116.4l1.1-.2 .9 .6 1.2 .3 1.2-.4-.2 .5-.8 .1-1.3-.5-1.1 .5-.8-.5zM349.9 110.2l1 .2-.5 .4zM352.8 114.9l.6 0-.5 .8zM345.7 110.8l1.6 .9 .3 .6-.8-.7zM349.8 111.5l.4 .2-.3 .3z"/>
<path d="M349.9 107.9l1-.9-1-.7 3.2-.5 1.5 1.3 4-.1 3.1-1.2 2.4-.1 2.3 1.3 3.2 .6 3.1-.2 1.6-.8 1.7-.1 1.4 .8 .3 1.4 1.8 .8-.8 1.2 0 1.6 .8 1.3-4 0-2 .2-3.1 .6-3.2 0-.5 .8-.7 .5-.4-1.3-1.5 .2-2.1 .6-1.9 .2-2.9-1.2-1.6 1-1.2-.2-1.3-.6-1.1-.5 .1-1.2-.1-1.2-1-1.3-.8-1.1z"/>
<path d="M328.3 183.5l.4-1.3 1-.8 2 .3 1.4-.8 1.4-3.4 2.4-2.8 .5-4 .9-2.5 0-1.3 2.2-.3 3.9 .7 2.4-1.5 2-.2 3.3 0 1.8 1.3 2.3-.3 1.3 1.6 .8 2.1-2.2 2.3-.4 2.1-.1 1.5-.6 .3-.4 1.8 .4 1.3 .3 1.6 .1 3.2 2.1 3-3 .3-.8 1.3 .3 1.9-.3 2.1 2.2 .7 0 1.9-1.3 0-2.3-1.8-3.2-.9-1.7-.5-.6-.8-.2 .1-2.6 .4-.3-2-.4-.8 0-3.6-2.8-.5-.8 1.7-3.1 .1-1.4-3.5-4.9 0z"/>
<path d="M304.2 165.6l-3-.1-1.5 .6-2.4 .7-.1-1.8-1.5-1.6 .4-1.8 .7-1.5-.6-1.6 .5-1.1 2.7-.7 1.1 .3 1.5 1.2 2.9 .3 .3 2.1-1.1 2.3z"/>
<path d="M420.5 105.3l.1-.5 3.9 .2 1.6-1.1 2.4 .5 4.7 .1 1.9 1.2-2.7 1.4-2.7 .5-1.9 .8-2.9 1.5-2.7 .1-2.4-.3-1.9-.5 1.9-.6 1.9 .1 2.1-.9-2.1-1.2z"/>
<path d="M566.7 206.6l3.9 2.6 .8 1-1.6-.6z"/>
<path style="stroke-width:.95" d="M26.6 310.7l1-.3 1.2-.7 .9-.1 1-.7 2 .5 .6-.4 1.4-.6 .9-.4 .8 .5 1.7 .4 1.3-.2 .7-.6 1.2 1 1.5 .1 .7 .4 1.5-.3 1.4 0 .5 .1 1.5-.2 1 .2 .8 .4 1.8-.2 .7 .8 1.4-.2 1 .5 .9-.1-1.1-.4-.1-1.6-.8-.8-.9-.9-1.1-.4 1-.7 2 0-1.2 .1-1-1.5-1.3 .1 1.3-.1 1-.9 1.1 0 1 .6 1.1-.5-.7-1-1.5-.1-.8-.5 1.4 .4 .8-.1 1.3-.6 1.4-.2 1.1 .3-.9-.4-1.1-1.1 1.5-.4 .7 1.1 1.2-.1 1.4-.9 1.2 .6-1-1.6 1.4-.2 1.1 1.1 1.1-.3 1.4 .2 1.3 0 1.4-.6 1.4-.1 1.7-.7 .7-.7 1.5-.4 1.6-.1 1.6-.6 2-.1 1.5 0 1.2-.1 1.6-.4 1.6-.2 1.2-.1 1.7-.1 2-.2 1.5-.4 1.2 .4 1.6-.7 1.9 0 1.5 0 1.7-.8 1 .4 1.6-.5 1.6 0 1.2-.1 1.9-.2 1-.1 1.5-.4 1.9 .2 1.7 .3 1.2 .1 1.9-.2 1.2 0 1.9-.2 1.8 .2 1.4 .5 1.8 .2 1.9-.1 1.7 .2 1.2 .1 2.2 1.5 1.2 .3 2.1 0 1-.1 1.8 0 1.5-.3 1.1 .1 1.3-.1 1.6-.2 1.4 .6 1.5-.3 1.3 .4 1.5-.2 2.2-1-1.3-1.2-.6-.4-1.6-.9 2.6-.8 1.6-.2 1.4-.2 1.6 .2 1.9-.4 1.4 .4 1.8 .1 1.7 .4 2.1 .4 .8-.3 2.5 .2 1.4 .1 1.8 .2 1.8-.1 .7-.3 1.9 .1 1.5 .3 1.5 .1 2.2 0 1.7-.1 2.1-.2 1-.8 .9-.6 1.1 .4 1.4-.3 1.5-1.2 1.1-.3-1.5-1 1.2 .5 1.3-.1 1.6-.5 1.2-1.3 .2-1.2 1.9-.2 1.1-.5-.9-1.3 .4-1 1.3 .2 1.4-.7 1.2-.6 .9-1.2 .7-.9 1.4 .1 .7-.9 1.4 .6 1.6 0 1.1-.9 .6-1 1.2-1.1 1.5-.6 .9 .1 1.4 .4 1.2-.4 1-1.5 1.5-.2 .7-.1 1.5-.9 1.3 .2-.9 .8-.8 1-.7 .4-1.6 .2-.7 1.2-1.4 0-.9 .6-1.3 .3-1.2 .9-1.1 .4-1.4 1.2-.9 1.6 1.6 1.4 1.1 .4 .3 1.2 .6 1 .9 .9 .6 1.6-.9 1.2 .7 1.2-.3 1.4-1.7 1-1.5-.1-1 1.1-1.3 1.2-1.6-.1-.9 .6-1.9 .1-.5 .2-1.3 1-1.6 .6-1.6 .8-1.5-.1-2.6 .5-1.4 .1-1.2-.1-1.6 .7-2.1 .2-1.4 0-2 .3-1.1-.2-1.2 .6-1.7 0-2 0 1.5 .5 2.5 .6 1.9-.1 1.2 .1 1.5 .3 1.8-.4 1.4 .2 1.8 0 1.4-.3 1.6-.1 1.3 .6 1.9-.4 1.7 .4 1.5 2.2 1.6 1.1 1.2 .3 1.1 .3 1.8 .7 1.3 .1 1.9 .8 1.2 .7 1.3 1 2.1-.2 1.5-.7 1.6-.6 1.8-.3 1.6-.4 1.7-.1 .7 .2 2-.7 .8 0 1.8 .1 1.1 0 2 0 1.5 .6 1.6-.4 1.1 .3 1.8-.7 1.6-.1 2-.4 1.3-.6 1.7-.5 1.4-.4 1.1-.3 2.4-.4 1.1-.2 1.8 .1 1.3-.3 1 0 1.5 .3 1.9 .1 .9-.2 1.9-.1 1.4 .2 1.5 0 2.1-.5 1.5 .1 1.1-.2 2.1 .2-1.9-.1-1.2-.1-1.6-.3-1.5-.3-1.6-.2-1.9 .1-1.8-.4-1.3-.3-1.7-.1-.8-.1-1.9 0 1.1-.3 2.1-.7 .8-.8 1.5-.3 1.5-.2 1.1-.7 2.2-.1 1.2-.5 1.4-.1 1.4-.2 2.1-.3 1.1 .2 1.9-.1 2.1-.7 1.5-.2 .9-.4 1.3-1.5 1.3-.7 1.1-.5 1.4-.7 1.5-.3 1.3-.5 1.2-1.4 1.4-.5 1.7-.3 1.6 .4 1-.6 1.8 .2 1.9 .1 1.6-.6 1.5 0 1.8-.2 1.8 0 1.1-.3 1.7-.2 1.4-.3 1.1 0 1.6 0 1.5 0 1.8-.2 .7-.1 1.4 .2 1.8-.1 1.6-.2 1.1 .4 1.1-.2 1.8-.1 1.7 .1 .8 .3 1.6 .1 2.1-.4 .8 .1 1.4 .5 2 0 1.5 .1 1.1 .1 1.7-.1 1.1 .2 1.7-.1 1.7-.3 1.2 .1 .9 .2 1.9 0 1 .1 1.4-.2 1.5 0 1.6 .3 1.3-.5 1.7-.6 2-.5 1.4-.4 1.6-.8 2-1.2 1.6 .6 1.9 .9 1.6 .1 2.1 .5 1.3-.4 1.3-.7 1.7-.6 1.5-1 1-.5 1.9-.5 1.2 .1 1.6-.7 1.8-.5 1.2 .2 1.1-.2 1.4-.2 1.8-.6 1.2 .1 2-.3 1.3-.5 .7 0 1.8-.1 2.1 .5 1.2 .2 1.7 .7 1.5 .4 1.3-.3 2.1 .4 1.1 .2 1.1 .1 1.9 0 1.4 .5 1.5-.3 .9 .5 1.7 0 1.8 .1 .9 .7 1.5-.1-.8 1.4-.4 2.2-1.5 1.7-.7 1.2-.9 1.7 1.6-1.2 .9-.9 1.1-1 1.2-.5 1.8-1.6 1.5-.3 2-.7 1.3-.6 1.9-.4 .8-.7 1.2-.4 2.1-.6 1.2-.2 1.5-.4 1.7-.1 1.3-.5 1.4-.2 1.3-.1 1.3-.1 2.6-.2 1 .2 1.9-.3 1.8 0 1.1-.6 2-.1 1.2 .1 1.4-.1 1.1 .2 1.5-.3 2.2 .1 .8 .1 1.9-.2 1.8-.2 1.3-.2 2.3-.2 1.3 .1 1.6 0 1.8 .1 1.3 .5 1.2-.2 1.4 .4 1.1 .5 2 .2 1.4 .5 1.2 0 1.1-.8 1.8-.3 1.4-.9 1.1 .8 1.9 .9 1.3 .3 2.1 .2 1-.3 2.4 .2 1.2-.2 1.1-.1 1.8 .1 1.4-.2 2.3 0 1.1-.3 1 .1 2-.2 1.5-.1 1.2-.5 1.6 0 1.5 0 2 .2 1.9-.1 1.6-.1 1 .3 1.4 .1 1.6 0 1.4 0 1.6-.1 1.7-.1 1 .1 2 .7 .8-.2 1.8 .2 1.5 .8 2.2 .8 1.6 .8 1.9 .5 2.1-.2 1.6 .4 1.8-.3 1.8 0 1.1 0 1.2 .3 1.9 .1 1.3 .5 2 .8 1.7 .3 1.9 .6 1.5 .5 1.6 .2 1.9 .4 1 .1 1.6 .1 1.9 0 1.6 .1 1.3 .5 1.3-.2 1.6 .2 1.6 .4 1.2 .2-1.4 .8-1.4 .4-.9 .5-1.8 .7-1.5 .3-1.1 .4-1.8 .8-1.1 .5-1.7 .6-.9 .7 1.3 .2 1.4 .3 1.7 .6 1.2 .6 1.8 .5 1 .8 1.5 .9 1.6 .4-1.5 .5-1.4 .3-2.3 .2-1.1 .7-1.6 .2-1.1 .5-2.2 .4-1.5 .7-1.8 .5-1.3 .3 1.8 .9 1.1 .7 1.5 .5 1.4 .8 1.5 .4 1.1 .1 1.5 .4 1.6 .1 1.4 0 2.4 .3 1 0 1.6 .4 1.6 .3 1.6 .2 1.1 0 1.5 .5 1.6-.2 1 .3 1.2 .3 1.5-.1 2.1 0 1.1 .4zM224.5 302.3l1.1-1.1 1.4-.7 1.5 0 2-.3 .8-.6 1.7 0 1.8 .5 1 .2 1.5-.1 1.7 .4 2 1.9-1.6 1.4-1.4 .6-1.4-.1-1.7 .1-1.5 .3-1.4 .2-1.3-.3-1.8 0-1.9-.5-1.2-1.1zM195.8 281.8l1.4-.5-.6 .8zM198.8 280.3l1.4-.5-.6 .8zM202.3 277.6l1.4-.5-.6 .8zM205.3 276.3l1.4-.5-.6 .8zM208.8 274.3l1.4-.5-.6 .8zM211.3 273.1l1.4-.5-.6 .8zM192.3 285.8l1.4-.5-.6 .8zM189.3 288.3l1.4-.5-.6 .8zM186.8 296.8l1.4-.5-.6 .8zM190.3 295.6l1.4-.5-.6 .8zM199.8 283.8l1.4-.5-.6 .8zM204.8 279.3l1.4-.5-.6 .8zM213.8 274.8l1.4-.5-.6 .8z"/>
</g>
<g fill="#000000">
<path d="M185.8 130.6l1.6-.1-.8 .6zM186.1 133.4l1-.2-.2 1.5-.8-.4zM187.4 130.9l.8 .4-.2 .6zM188.9 133.1l.7 .1-.2 .8zM190.5 134.5l.5 .3-.3 .5zM193.3 139.7l1-.2-.3 .5z"/>
<path d="M213.3 257.4l4.7-.2-1.6 1.5-3.1-.5z"/>
<path d="M270.6 146.7l.8-.4-.3 .7zM271.9 149.3l.6-.2-.3 .6zM269.4 146.2l.4-.2-.1 .5z"/>
<path d="M376.9 192.5l.5 .2-.1 .7zM379.8 194.5l.4 .1-.3 .4z"/>
<path d="M399.3 206.3l.6 .3-.5 .5zM396 207.9l.7 .2-.4 .5z"/>
<path d="M319.3 173.4l.5 0-.3 .5z"/>
<path d="M554.7 184.8l1.9 .9-.9 .5zM559.6 188.8l2.2 1-1.4 .3zM561.3 187.4l1.3 1.7-.9-.3zM556.3 186.7l1.6 1.1-1.1 .4zM562.4 190.4l1.8 .8-1.1 .4zM557.9 185.9l2.3 1.6-1.4 0zM552.5 182.8l1.5 1.6-1 .5z"/>
<path d="M570.6 197.9l1.3 1.1-1 .5zM571.7 199.7l1.1 1.1-.9 .2zM573.1 202.3l.8 .5-.6 .3zM574.5 204.2l.7 .5-.7 .2zM575 205.3l.5 .5-.7 0zM572 196.1l.5 .5-.5 .2z"/>
<path style="stroke-width:.45" d="M39.6 195.9l-1.1-.2 .3 1zM75.1 202.2l-1.2-.1 .4 .9zM34.7 208.1l-1.1-.2 .4 .9zM36.3 204.1l-.8-.1 .2 .6zM32.8 195.3l-.8-.1 .3 .7zM29.8 196.9l-.8-.1 .3 .7zM167.3 174.5l-2.3-.4 .8 1.9zM168 174.6l-1.3-.2 .4 1.2zM169.1 175.2l-1.1-.2 .4 .9zM166 174.4l-1.1-.2 .4 .9zM59.3 137.9l-1.3-.1 .5 1zM63.1 139.5l-1.1-.2 .4 1zM64.3 139.9l-1.5-.2 .5 1.2zM32.5 245l-1.4-.2 .5 1.1zM39.7 178.8l-.8-.1 .3 .6zM40.6 188.7l-.7-.1 .2 .6zM59.2 167.9l-.9-.1 .4 .7zM62.5 170.6l-1.1-.2 .4 1zM57.6 166.2l-.7-.1 .2 .5zM91.3 189.6l-.9-.1 .3 .7zM89.6 188.1l-1-.1 .3 .8zM91.5 190.6l-.7-.1 .2 .6zM71.7 200.8l-1-.1 .4 .7zM81 201.8l-.8-.1 .3 .6zM88 203.3l-.7-.1 .3 .5zM95.6 208.6l-.7-.1 .2 .6zM84.1 200.5l-.7-.1 .3 .6zM77.7 198.1l-.7-.1 .2 .6zM97.6 211.2l-.7-.1 .3 .6zM74.7 211.7l-.7-.1 .2 .6zM71.7 210.3l-.7-.2 .2 .6zM106.9 213.7l-.7-.2 .2 .6zM137.9 217.7l-.8-.1 .3 .6zM135.2 143.3l-.8-.1 .3 .6zM123.7 126.7l-.8-.1 .3 .7zM58.6 208.1l-.8-.1 .2 .7zM42.8 204.5l-1-.1 .4 .8zM61.5 206.2l-.7-.1 .2 .6zM53.2 203.1l-.5-.1 .2 .5zM537.1 152l-1-.2 .3 .9zM538.4 149.3l-.9-.2 .3 .8zM538.5 144.4l-.7-.1 .2 .6zM538.3 146.7l-.7-.1 .3 .6zM520.9 161.6l-1-.2 .3 .9zM526.4 158.4l-.8-.2 .3 .7zM548 161.7l-.9-.1 .3 .8zM558.2 162.5l-1.1-.2 .4 1zM565.6 165.1l-.9-.1 .3 .8zM571.6 174.6l-.7-.1 .3 .6zM578.4 162.2l-.8-.1 .3 .7zM574.4 162l-.6-.2 .2 .6zM572.9 159.7l-.7-.1 .2 .5zM575.6 155.6l-.5 0 .2 .4zM581.3 171.5l-.9-.2 .3 .8zM581 168.8l-.6-.2 .2 .6zM583.5 174.8l-.6-.2 .2 .6zM585.8 175.9l-.5-.1 .2 .5zM590.9 187.6l-.6-.1 .2 .5zM587.6 185.5l-.6-.1 .2 .5zM592 200.5l-.6 0 .2 .4zM28.7 202.8l-.7-.1 .2 .6zM26.9 204l-.6-.1 .2 .4zM570.3 191.1l-.9-.2 .3 .8zM572.6 196.3l-.8-.1 .3 .6zM571.6 192.8l-.7-.2 .3 .6zM573.9 200.2l-.9-.2 .3 .8zM575.6 204.2l-1.1-.2 .4 .9zM576.2 206.5l-.7-.1 .2 .6zM573.4 208.4l-1.1-.2 .4 .9zM572.3 207.5l-.8-.1 .3 .6zM573.3 220.8l-.6-.1 .2 .5zM559.4 224.8l-.7-.1 .2 .6zM532.8 130l-.6-.1 .2 .5zM531.3 133.6l-.5-.1 .2 .5zM551.1 134.4l-.5 0 .2 .3zM515.5 131.8l-.6-.1 .2 .5zM504.6 134.2l-.8-.1 .3 .7zM503.9 134.4l-.7-.1 .3 .6zM506.3 133.6l-.7-.1 .2 .5zM512 128.7l-.8-.1 .3 .6zM268.2 268.6l-1-.2 .3 .8zM252.1 261.7l-2-.3 .7 1.7zM300.6 199.7l-.8-.1 .3 .6zM286.9 186.6l-.8-.2 .3 .7zM290.2 233.9l-.8-.1 .3 .6zM293.9 239.1l-.6-.1 .2 .6zM207.9 121.4l-.8-.1 .3 .6zM263.4 207l-.6-.1 .2 .5zM258.6 180.1l-.7-.1 .2 .6zM238.4 271.9l-1.4-.2 .5 1.1zM217 274.5l-1.1-.1 .4 .9zM222.9 272.8l-.9-.2 .3 .8zM298.9 73l-1.5-.3 .6 1.3zM297 58.6l-1.1-.2 .4 1zM339.4 53.1l-.9-.1 .3 .8zM307.4 76l-.6-.1 .2 .6zM213.2 147.4l-1.2-.2 .4 1.1zM213.8 150l-1.1-.1 .4 .9zM213.9 151.2l-1.1-.2 .4 .9zM216.1 152.3l-1-.1 .4 .8zM213.4 148.7l-1.1-.1 .4 .9zM212.5 146l-.9-.1 .3 .7zM211.1 145.7l-.8-.1 .2 .7zM213.4 152.4l-.8-.2 .3 .7zM212.7 154.1l-.9-.1 .3 .7zM210.5 144.4l-.6-.1 .2 .6zM207.8 144.1l-.9-.2 .3 .8zM208 145.1l-.7-.1 .3 .5zM202.3 154l-.9-.2 .3 .8zM201.2 154l-.9-.2 .3 .8zM199.6 153.5l-.8-.1 .3 .6zM209.1 155.9l-1-.2 .4 .9zM182 142.5l-.8-.1 .3 .6zM183.9 141.9l-.5-.1 .1 .5zM196.5 138.4l-.9-.1 .3 .7zM196.9 139.1l-.7-.1 .2 .6zM194.1 137.3l-.8-.1 .3 .6zM192.5 134.9l-.8-.2 .3 .7zM190.4 135.7l-.7-.1 .3 .5zM271.6 146.7l-.9-.2 .3 .8zM272.6 149.2l-1.1-.1 .4 .9zM273.6 147.6l-.9-.1 .3 .8zM271.2 149.6l-.8-.1 .3 .7zM270.2 146.2l-.9-.2 .3 .8zM273.5 146.7l-.7-.1 .3 .6zM419.6 253.4l-2.5-.4 .9 2.1zM425.2 259.7l-1.2-.1 .4 1zM431.2 235.2l-.7-.1 .3 .6zM431.2 236.5l-.6-.1 .2 .5zM423.2 185.6l-.7-.1 .2 .6zM425 166.9l-.9-.1 .3 .7zM424.4 173.3l-.6-.1 .2 .6zM424.3 162.8l-.7-.1 .2 .5zM423.8 156.8l-.6-.1 .2 .5zM396.8 181.3l-1-.1 .4 .8zM397.1 180.8l-.7-.2 .3 .6zM382.2 189l-.7-.1 .3 .6zM393.1 182.6l-.5-.1 .1 .4zM409.1 205.7l-.7-.1 .2 .6zM369 249.7l-1-.1 .4 .8zM391.1 248.9l-1.1-.2 .3 1zM388.5 248.5l-.7-.1 .2 .6zM314.9 261.9l-.8-.1 .3 .7zM461.6 193.5l-.7-.1 .2 .5zM475.4 190.8l-.7-.1 .3 .6zM457 162.4l-.8-.1 .3 .7zM456.6 160.8l-.6-.1 .2 .6zM455.4 158.8l-.8-.1 .3 .7zM454.9 156.4l-.9-.2 .3 .8z"/>
</g>
<g fill="none">
<path style="stroke-width:1.15" d="M167.7 43.4l7.9 .5 7.8-.3M174 45.8l7.9-.3 6.3-.3M170.9 48.6l6.3-.5 4.7 .3M186.6 41.8l6.3 .5 6.3-.2M188.2 40l7.8 .7 6.3 .3M177.2 47l6.2 .3M180.3 42.3l-6.3-.5-6.3 .3M191.3 43.7l6.3 .5M178.7 49.4l4.7-.3M201.5 66.4l3.9 1.3 3.2 1.2M200.7 70.5l3.2 1 2.3 .9M174 54.8l.8 1.6 .8 1.6M183.4 56.7l3.2-.5 4.7 .7M196 59.6l3.2-.5 2.3 .7M186.6 58.8l4.7 .7M192.9 62.9l4.7-.5M189.7 66.1l4.7-1.3M199.2 64.5l4.7-.8M125.3 59.6l4.7-.1 4.8 .3M125.3 58.2l3.2-.5 3.1 .3M139.5 57.2l3.1 .8M136.3 61.2l4.7 .4M117.5 55.6l4.7-.5M133.2 51.5l4.7 .5M161.5 50.9l4.7-.4 4.7 .7M175.6 52.3l4.7-.5M274.5 59.6l-4.7 .2-4.7-.7M270.6 58.3l-3.1-.6-2.4-.8M276.1 55.9l-4.7 .3-3.1-.6M277.7 53.9l-4.7 .5-3.2-.1M278.5 49.4l-4-.3-3.1 .1M277.7 44.2l-4.7-.3-4.7 .2M279.3 46.2l-4.8 .3M229 62.1l-2.4-.5-2.3-.5M227.4 59.6l-3.1-.5M224.3 57.2l-3.2-.5M230.6 69.7l-2.4-.4M233.7 74.2l3.2 .8M243.1 72.6l-2.3-.8M247.8 67.2l3.2-.6M257.3 63.7l3.1-.8M199.2 47.8l3.1 .3 3.1-.3M214.9 50.2l-3.2-.5M219.6 53.1l-3.2-.5M208.6 79.1l2.3 .8M211.7 83.1l2.4 .3M216.4 85.1l2.4 .8M185.8 78.4l2.4 .5M203.9 75.8l3.1-.5M75.1 75l2.3-.3M68.8 79.9l3.1-.8M97.1 78.9l-2.4-1M103.3 83.1l-2.3-1.6M108.1 91.2l2.3-.8 2.4 .5M106.5 87.2l2.3-.8-1.5-1.3M110.4 93.7l2.4-.5M192.1 246l2.3 1.2M191.3 250.9l2.4 1.3M190.8 254.1l2.4 1.5M192.1 257.4l2.3 1.1M194.4 260.1l2.4 .7 1.9-1M195.2 261.8l3.2 .6 2.3-.5M191.6 248.5l2.1 .6M192.9 243.6l1.9 1M199.2 263.1l3.1 .4 2.4-.4M317.3 77.8l2-.5M317.3 76l2.5-.2M317.1 74.7l3.3 .2M317.7 73.4l3.2-.5M321.7 71.5l2.3 .3M324.8 70.5l2.4 .3M327.9 68.5l2.1-.3M329.5 66.6l2.4-.5M331.1 64.8l2.8-.3M332.7 62.9l3.1 .1-1.6-.9M336.6 61.2l3.1 .2M340.5 60.4l3.2 .4M344.4 59.6l3.2 .5M348.4 59.1l2.3 .8M352.3 59.1l2.3 .5M329.5 63.7l2.4-.7 1.5-.8M331.1 46.7l3.1 .3 1.6-.5M330.3 45.4l3.9 .1M332.7 48.3l3.1 .3M340.5 45l3.2-.3M338.2 47.1l3.9-.3M392.3 57.2l3.2-.5M394.7 54.9l3.1 .2 1.6-1.2M398.6 52.3l3.9-.3M404.9 50.7l3.1-.3M300.5 82.3l1.5-.5M300.8 80.5l2 .5M299.7 79.9l1.9-.3M303.9 82.8l.8-.5M302 83.6l-1.1-.5M274.5 67.7l2.4-.5M272.2 68.2l2.3 .3M285.5 67.7l1.6 .5M280.8 66.9l-.8 .8M343.7 113.1l1.5-.5M344.4 111.5l2.4-.3M346 109.4l1.6-.7M347.6 113.1l1.5 .8M348.4 114.2l1.5-.6M350.7 112.6l.8 .8M348 109.9l1.1-.7M211.7 41.3l1.6-.5 1.2 .1 1.2 .1 1.2 .1 1.2 .4 1.9-.3 1.2-.7 1-.3 1.7 .2 1 .5 1-.3 1.5-.3M227.4 40.3l1.3-.6 1.4 .1 1.5 .6 1.1 .1 2-.4 .8 .3 2-.6 .9-.1M238.4 39.7l1-.6 1.9 .6 1.3-.7 .7 .8 1.4-.8 1.9-.4 1.3 0 1.1 0 .9 0 2 .4 .7-1 1.5 .4M254.1 38.4l1.8-.4 .7 .9 1.4-.1 1.4 .2 2 .1 .8-.4 1.5-.3 1.4 0 1.6 .5M266.7 38.9l1 .5 1.2 0 2.1-.3 .9 .8 1.3-.3 1.3 .6M274.5 40.2l1.8-.1 1.8 .8 1.3 .7 1.4 0M280.8 41.6l1.4 .4 1 0 1.9-.7 .9 .4 1.4 .3 1.8-.7 1.1 .5M290.3 41.8l-1.6 .3-1.3 1-1.3-.6-1.1 .6-1.5 1.1-1.1 0M282.4 44.2l-1.2 1.1-1 .1-.9 1.3M279.3 46.7l.9 1.7-.2 1.5M280 49.9l-1.6 0-1.6 1.6-1.5 0M275.3 51.5l1.2 .8 2 .8M278.5 53.1l-1.2 .5-1.5 .8-1.3 1.2M274.5 55.6l0 2.4M274.5 58l-1.5 1.9M273 59.9l-1 .9-2.2 .4-1.5 .9M268.3 62.1l-1.6 .3-1.1 .6-2-.4-1.6 .7M262 63.3l-1.8 .3-1.3 1.4-1.6 .3M257.3 65.3l-1.7 1-2 .3-1 .6M252.6 67.2l-1.4-.4-1.7 .6-1 .7-1.4-.4M247.1 67.7l-.3 1.1-1.8 .9-.3 1.3M244.7 71l-.6 1.4-.8 .7-1 1.1M242.3 74.2l-.7 1.7-.8 .7M240.8 76.6l-2.4-.1M238.4 76.5l-1.3-.7-2.2-.8-1.2 0M233.7 75l-1.3-.4-1.2-.8-.6-1.2M230.6 72.6l-1.1-1.4-1.3-1M228.2 70.2l-.9-1-1.1-1.1-.3-1.2M225.9 66.9l-.8-2.4M225.1 64.5l1.3-.6 1.1-1.2 1.5-.6M229 62.1l-1.7-.7-1.4-.3-1.6-.7M224.3 60.4l-.8-2.4M223.5 58l-1.6-.9-.8-1.5M221.1 55.6l-1-2-1.4-1-.7-1.1M182.7 90.7l2.3-.3M185 90.4l.8-1.2-.4-1.4-.1-1.4M185.3 86.4l.7-1.1 .3-1.1 1.2-1.3 1.1-.6M188.6 82.3l-.8-1.7-.8-.8-1.2-1.1M185.8 78.7l.9-.6 .7-1.5M187.4 76.6l-.4-1 .1-1.9-.5-1M193.3 72.7l1.3 .7 1 .8 2.1-.2 1.5 1M199.2 75l.8 1.5-.1 1.8M199.9 78.3l1.2 .9 2 .2M203.1 79.4l1-.5 1-1.9 1.1-.8M207.8 76.2l.4 1.1 1.4 .6 0 1.4 1.6 .2 .5 1.2M211.7 80.7l1.7 1.2 .8 .8 .7 1.6M214.9 84.3l1.2 1 1.7 .6 1 .5M218.8 86.4l1.3 .6 0 1.2 1.5 .6M221.6 88.8l-1 1.1-1 .5M219.6 90.4l-.8 1-1.8 .2-.8-.3-1.3 1.2M214.9 92.5l-1.3 .6-1 0-1.5-1-.9-.2-1.6 .5M208.6 92.4l-1.7-.6-.9 .7-1.3 0M204.7 92.5l-.7 1.1-1.5-.2-1 1.1M201.5 94.5l-.5 1.3-1.1 .8-1.5 .8M198.4 97.4l.7-.7 1.6-.6M200.7 96.1l1.7-.1 1.2-.3 1.3-.2 .8-1.1 1.3-.3M208.6 99l1.5-.5 1.2 .6 2 .6M213.3 99.7l1.6-1.2M214.9 98.5l-.3 1.5-1.3 .6M216 96.7l1.1-.9-.1-1.2 1.5-1.1 .3-1.5M218.8 92l.9-1.3 1.8-.4M221.9 92l1.3 .1 .6 1 1.3 .9M225.1 94l.7 1.7 .5 1M226.3 96.7l-1.2 1.7M225.1 98.4l-1.8 .1-1.4-.8M221.1 96.7l-1.4 .5-1-.6-1.1-.2-1.6 .3M207.8 93l1.5 .4 1.4-.2 1.5 .9M212.2 94.1l-1.2 .4-1.6-.5M200.7 102.6l-1.9 .6M198.1 104.7l1.1 1.4M199.2 106.1l-1.4 .2-1 .5M196.8 106.8l-1.6 .4-.8 .3-1.5 .4M192.9 109.5l-1.6 1.3M190.5 109.9l.6 1.9M191.1 111.8l-.9 .7-.5 1.4M190 114.7l.5 2M190.5 116.7l-1.4 .4-.9 .7M188.2 117.8l-1.6 1.1M270.6 67.7l1.2-.9 2-.5M273.8 66.3l1.6-.3 .9 .4 1.4 .5M277.7 66.9l1.5 .3 1.3-.6 1.7-.6 1.8 .1M284 66.1l2.3 .5M286.3 66.6l1.4 1.6M287.7 68.2l-.6 1-1.6 .5M285.5 69.7l-1.6 .5-.9-.1-2 .6-1 .4M280 71.1l-1.3-.5-1 .6-1.6-.7M276.1 70.5l-1.3 .4-1.4-.4M274.5 69.3l-2-.1-1.1-.5M311.5 92.7l-1.1-.3-1 1.1M309.4 93.5l-.9 .6-1.3-.3M300.1 92.7l1.2 .1 1.2-.6M303.6 91.9l1.3-.7 1.1 .7M306 91.9l.8-.7 1.5 .1 .8 .3M309.1 91.6l.6-.9 1.6 .2M310.2 90.4l1.1-.5 .5-1.3M311.8 88.6l-1.1 .3-1.1-.9M309.3 87l-1.2-.2-.3-1.2M304.4 83.1l1.3-.5 .1-1.1M306.3 80.7l-.9-.8-1.8 .5M302.8 80.5l.6-.5 .8-1.1M304.2 78.9l-1.6 .4-1.4-.4M301.2 78.9l-.9 .6-.3 1.2M300 80.7l.1 1.6M300.1 82.3l.4 1.8M301.4 85.1l1.3-.5 .9 .3M303.6 84.9l.8 1.5M304.4 87.3l-1.3 .8-1.1-.6M302.8 88.8l-1.1 .4-.8 .6M300.9 89.8l1.6 .5M302.5 90.3l1.9 .3M304.4 90.6l-1.9 .3M302.5 90.9l-1.2 .2-1.2 1.6M300.5 85.9l-.8-1.5M297.3 80.7l.8-.9 1.3-.6M299.2 80.4l-1.9 .3M299.7 89.3l-.3-1.8M295.7 84.7l-1.7 .4-.6 .9M293.4 86l.8 1.5M294.2 87.5l-1.3 1-.1 1.1M293.7 90.4l1.6 .4 .9-.9M296.2 89.9l1 .5 1.1-.5 .9-.6M339.4 108.2l.3-1.6M346.8 109.1l-1.9-.7M345.5 110.7l.3 .9 1 .7M345.5 112.5l.4 .9-.4 1.3M344.9 114.9l-1.7-.7M343.2 114.2l-.8-1.7M342.1 111.5l-1.1-1.5M346 116.4l1.1-.2 .9 .6 1.2 .3 1.2-.4M350.2 117.2l-.8 .1-1.3-.5-1.1 .5-.8-.5M345.7 110.8l1.6 .9M347.6 112.3l-.8-.7-1.1-.8M587.1 69.3l2.4 0M589.5 69.3l1.3-.4 1.5-.7 1.1 0M593.4 68.2l1 .7 1.6 .3 1.6-.6 1.3 .7M598.9 69.3l1.4-.2 1.1 .9 1.4-.3M602.8 69.7l1.2-.9 1.1-.7 .9-.6 1.5-.6M607.5 66.9l-.9-1.1-1.4-.2M605.2 65.6l-1.5-.8-1.6 .4-1.4-.1-1-.6M599.7 64.5l-1.4-.9-1.5-.1-.7-.7-1.8 .1-1.4-.5-1.1-.3M591.8 62.1l-1.3 0-1.6-.2-.7-.8-1.2-.4-1.5 .1M585.5 60.8l-.9-.4-1.4 .7-1.8-1-.8-.1-1.8 1.1-1.1-.7M577.7 60.4l-1.6 1.3M576.1 61.7l-2 .2-.6-1.1-2.1 .3M571.4 61.1l-1.2-.6-1.3 .1-1.8 1-1.2 0-1-1.1-1.4 .6M563.5 61.1l-1.7-1.1-1.4-.4M558.8 59.1l-1.1 .6-1.4-.1-1-.8-1.3 .8-1.5-1.1-.7 .1-1.4 .9-1.3-.5-1.3-.2M547.8 58.8l-2.1-.7-1-.9M544.7 57.2l-1.3 .1-1.4-.1-1.2-.2-1.6-.7-.6-.2-1.8 .9-1.2-1.2-.9 .5-1.3-.7-1.6 1-1.2-.7M530.6 55.9l-.4 1.3-1.2 .8M529 58l-1.5-.3-1.2 .9-2-.4M524.3 58.2l-1.2-.2-1.2-.4-1.1 .2-1.2-.1-1.6 .3M518 58l-1.5-.3-1.3 .3-1.9 .8M513.3 58.8l-.8-.9-.8-1.5M511.7 56.4l-1.7-.3-1.4-1.3M508.6 54.8l-1.2-.4-1.2 .7-1.9 .2-1.2-.1M503.1 55.2l-1.1 .7-1.5-1.1-2 .9-1.3-.8-1.2 .7M496 55.6l-1.1 .1-1.4 0-1.7-1.3-1.1 .3-1.2-.5-1.4 .4M488.1 54.6l-1.5-1.5M486.6 53.1l-1.9 .9-1-.1-1.8 0M481.9 53.9l1.2-1.2 1.3-.3 1.2-.5 1-.4M486.6 51.5l-1-.1-2-.6-1 .1-1-.3-1.3-1M480.3 49.6l-1 .2-1.6-1.4-.8 .2-1.3 .5-1.6-.8-1.1-.4M472.9 47.9l-1.2 .9-1.7-.1-.9 1-1.7-.7-1.2 .9M466.2 49.9l-1.4-.4-1.6 .5-.9 .3-1.4-.6-1.2 .3-1.4 .4M458.3 50.4l-1.2-.5-2 .9-.9 .1-1.7 0M452.5 50.9l-1.2-.2-1.1 1.5-1.5-.6-1 1.4-1.4-.4-.7 .7M445.6 53.3l-1.4 .7-1 .2-.9 .8-1 1-1.5 .2M439.8 56.2l-.5 1-1.6 1.1M437.7 58.3l-.7-.7-.6-1.7-.6-1M435.8 54.9l-1.1 .9-2-.7-.8 .8M431.9 55.9l-.2 1.4 .7 2M432.4 59.3l-.1 1.2 .6 1.3 .1 1.2-.1 1.2M432.9 64.2l-1-.9-.9-1.1M431 62.2l-.4-.9-.5-1.4-.1-1.6M430 58.3l-1.2-.3-.8-1.5-1.4-.6M426.6 55.9l-.3 2-.7 1.4M425.6 59.3l-.9 1.5 .5 1.4-.7 1.5M424.5 63.7l-.5 1.4-.9 .5M423.1 65.6l0-1.7-.9-.7M422.2 63.2l.8-1.6 .3-1.4-.9-1.4 .7-1.4M423.1 57.4l-.6-.8-1.1-1-1.3-.7M420.1 54.9l-1.1 .8-.8 0-1 1.6-1 .1M416.2 57.4l-1.1 .6-.1 1.6-.7 .7M414.3 60.3l1 .7 .9 1.7M416.2 62.7l-1.2 .1-1-.4-1.5-.9-1.3 .2M411.2 61.7l-1.6 .2-1.6 0-.8-1.3-1.8 .8-1.3-.6M404.1 60.8l-.8 2.1M403.3 62.9l-1-.3-1.6 .8-1-1-1.9 .3-.7 .6-1.6-.4M395.5 62.9l-1.4 .1-1 .3M393.9 64.5l-1.4 .4-1.1-1.1-1.5 .2-1.3 .1-1.1 .5-1.4-.8-1.6 .5M384.5 64.3l-1.2 .1-1.3-1.4-1 .1-1.2-.2M379.8 62.9l-1.1-.2-1.6 0M377.1 62.7l.3 2 .8 1.4M378.2 66.1l-1.4 .6-1.7-.4M375.1 66.3l-1.5 1-.6 1.4-1.1 .5M371.9 69.2l-1 .6-1.8 .6-1.1 .1M368 70.5l-1.1 .3-1.4-1.4-1.4 .3M364.1 69.7l-.9-1.6 .1-1.2M363.3 66.9l-.9-.9-1.5-.2M360.9 65.8l1.8-.1 1.4 .2M364.1 65.9l1-.2 1.9 .6 .7-.3 1.5 .3 1.3 .5 1.4 0M371.9 66.8l1.4-.7 .7-.8M372.7 64l-1.3-.2-1-.5-1.4 .1-1.1-1.5-.7-.1-1.6 .1M365.6 61.9l-1.8-.5-.9-.4-2 .2M390 58l1 .9 1.3 .4M392.3 59.3l1.3 .2 .6 .5 1.3 0 1.2-.2 .6-1.2 1 .6 1.1 .1M399.4 59.3l-.3-.9-1.2-.5-.4-1.1-1.2-.4M396.3 56.4l1-.6-.2-1.5M397.1 54.3l.7-.9 1.6 .4 1-.8 .7-.4 1.2-1.4 1 .3M403.3 51.5l1-.2 .9-.3 1.1 .5 1.6-.2 .9-1.2 .7 .1 .9 .2 1.4 .3 1.2 .2 .6-.3 1.6 .2 .7-.9M416.7 49.1l-1.3-.7-.7 .6-.8 1-1.6-1.4-.4 .9-1.3-.9-1 .8M409.6 49.4l-1-.2-.9 .7-1.3 .3-.9-1-1 .4-.9 .5-1.4 .9-1-.1-1-.2M400.2 50.7l-1.4-.1-.4 .6-1 1.4-1.1 .2-.8 .3M395.5 53.1l-.4 1.1-.9 .6-1.1 .8M393.1 55.6l-.8 1.2-1.7 .2-.6 1M379.8 42.7l1-.9 1.5 1.2 .7-.6 1-.4M384 42l1.2 .3 1.5-.8 .7 .1 1.2 .7M388.6 42.3l.9 .2 1.7-.2 .8-.7M392 41.6l1.3-.7 .5 .4 1.4 .8 .8-.3M396 41.8l.9-1 1.2 1.1 1.1-1.1 1.2-.1M400.4 40.7l1.2-.6 .7 1.6 1.4 .3 1.3-.5M405 41.5l1 .1 1-.1 1.1 .7 1.1-.2 .7-.3 .9 .1 1.3 .4M412.1 42.2l-.8 .6-1.2-.5-.4 1.6-1.5-.2M408.2 43.7l-.8-.8-1.5 1.2-1 .1-.9-.6M404 43.6l-1.1 .6-1.5 .5-1-.4M400.4 44.3l-1.3-.5-1.1-.3-.7 .9-1.3-.6M396 43.8l-1-.6-1.7 .3-.8 .8M392.5 44.3l-1.1 .6-1-1.5-1.7 1.2-.7-.9M388 43.7l-1.4-.1-.8 1.3-1.1-.6M384.7 44.3l-1.4 .2-.7-1.2-1 .7-1.1-.7-.7-.6M451.2 41.9l1.3-.3 1.7 .1 .8-.7M455 41l1.6-.4 .9 1.1 1.5-.5M459 41.2l1.2 .1 2 .8 .8 .9M463 43l1 1.1 2-.2 .8 .8M466.8 44.7l.8 .6 1.9-.4 1.2 1.1 1.3-.4M472 45.6l.7 .8 1.6-.7 1.2 1.2 1.1 .2M476.6 47.1l1.2 .1 1.3 .7 .9 1.2M480 49.1l-1.5-.2-1.1-.4-1.1 .2-1.7 0M474.6 48.7l-1.7-.9-1.7 .1-1.2-.3M470 47.6l-.9 .2-1.7 0-1.4-.8-1.1 .1M464.9 47.1l-1.3 .4-1.6-.6-1-.3M461 46.6l-1.7-.6-1.3 .2-1-.6M457 45.6l-.8-.7-1.7 .4-.7-1.2-1.6 .1M452.2 44.2l-.2-1.1-.8-1.2M524.3 51.5l1-.6 1.4-.5 1.1-.3 1.2 .3M529 50.4l.9-.2 1.8 .9 1.5-.7 .8 .7 1.2-.4 1.6 0M536.8 50.7l1.5 .6 1-.6 1.8 .7 .9-.1 1.2 0 1.5 .5M544.7 51.8l-1.2 .4-1 .5-1.7 .1-1.5-.6-.9 .4M538.4 52.6l-1-.4-1.8-.2-.8 .1-1.2 .1-1.5 .1M532.1 52.3l-1.1 .4-2.2-.4-1.4 .5M527.4 52.8l-1.8-.1-1.3-1.2M529 54.8l1.8-.7 1 .6 1.9-.3M533.7 55.2l-1.6-.5-1.3 .4-1.8-.3M540.8 51.8l1.4 .5 2 .2 1.3-.5M545.5 52l-1.1 .7-1.3-.1M543.1 52.6l-1.3-.2-1-.6M589.5 58.3l2-.4 1.4 .6 1.3-.5M595.4 58.8l-1.2 .2-2.1-.2-1.1 .3M385.3 61.6l2.3 .1M401.8 59.9l1.1 .9 1.2-.2M404.1 60.6l-2.3 .3M355.6 115.2l-1.2-.2-1.3-.6M352 113.9l.1-1.2-.1-1.2M352 111.5l-1-1.3M463.8 155.3l.3-1.6-.1-1.7M464 152l-1-1.6M463 150.4l.2-1-.5-1.4M462.7 148l-1.3-1.7M460.7 147.2l-1.9 1.1M457.2 148l.5-1.4-.2-1.1M457.5 145.5l-.5-2.1M466.2 152.2l.3 .8-.3 1.4M466.2 154.4l-.5 1.6-.8 .9M464.9 156.9l.2 1.9M465.1 158.8l1.5 1.3M466.6 160.1l.3 2M465.7 163.4l-.9-1.1-.2-1M476.4 141.8l-1.3 1.3M475.1 143.1l.5 1.3 .8 .6M476.4 145l1 1 .5 1M479.2 148l.2 1.1 .7 1.4 .7 1M480.8 151.5l.3 1.3-.3 1.6M480.3 155.4l-1.1 1-1.6 .6M476.4 158.7l-1.1 1-1 .1M473.7 160l-.2-1.5 .5-.8M471.5 166.1l0 2.1M471.5 168.2l.8 1.3 .3 1 .2 1.1M471.7 171.8l-1.2-1.1-1.4-.8-.9-.7M468.2 169.2l-1-1.1-.1-1M467.1 167.1l-.5-2.1M484.1 170l1.4-.7 1.1-.6M490.5 165.3l.3-.8 1.1-.9 .5-1M492.4 162.6l1.6 .9M494 163.5l.6 1.1 1.7 .9M496.3 165.5l-1.1 1.1-.8 .3M458.8 164.8l1 .5 1.5-.5 .9 .7M462.2 165.5l1.2 .7 .7 1.5M464.1 167.7l1.8 1.2 .7 .9M466.6 169.8l1.9 .9M468.5 170.7l1.1 .2 .7 1.6 1.4 .6M471.7 173.1l.5 .9-.2 1.5M472 175.5l1.2 1.5M473.2 177l1.4 .4 1 1.4M475.6 178.8l-.5 1.3-.1 .6 .4 1.2 0 1.4M475.4 183.3l-2 .2M473.4 183.5l-1.2-.7-.4-1-1.5-.6-.5-.8M469.8 180.4l-1.3-.9-.2-1.2-.7-.8M467.6 177.5l0-1-1-1.1M466.6 175.4l-1.1-.9-.9-1.4M464.6 173.1l-1.1-1-.3-.7-.2-1.2M463 170.2l-1.1-1.4-1.2-.9M460.7 167.9l-.4-1.1-1.1-.5-.4-1.5M474.3 184.9l1.6-1.3M475.9 183.6l1.5 .8 1.1 .5 1.2 0M479.7 184.9l1.8-.4 1.1 .6M483.4 184.3l1.4 .7 1.3 .2M486.1 185.2l1.5 1.3 1.2 0M488.9 188l-1.2 .1-1.3-.1-.8-.9-1.4 .3M484.2 187.4l-1.1-.7-1 0-1.3 .1-1-.4M479.8 186.4l-1.1-.3-.9-.4-1.4 .2M476.4 185.9l-1.1-.4-1-.6M494.4 170.3l-.3 2M494.1 172.3l1.9 0M496 172.3l-.9 .6-.6 .9-.9 1.4M493.6 175.2l-1.5 1.1M492.1 176.3l.2 1.5-.7 1.8M491.6 179.6l-1.9 .8M488.9 179.6l-.9-.1-1.4-.3M486.6 179.2l-2.1 .4M484.5 179.6l-1.3-.4-1-.6M482.2 178.6l.3-1-.6-1.6M481.9 176l-1.2-1-.4-1.6M480.3 173.4l0-1.9M497.3 172.6l1.7-.8M499 171.8l1.3 .4 1.3 .3 1.5-.1M503.1 172.4l1.3-1.1 1-.2M505.4 171.1l-.4 .8-.4 1.4M504.6 173.3l-1.4-.5-1.5 .6-1.4 .2-1.2-.5M499.1 173.1l-.7 .8-.4 1.5M498 175.4l1.9 0M499.9 175.4l1.6 .1 1.3-.1M502.8 175.4l-1.4 .5-1.3 1.1M500.1 177l.3 1.1 .8 1M499.9 180.4l-.2-1.5-.7-.6M498.2 178.8l.2 1.4 .1 1-.3 1.6M496.8 182.8l.3-1.9-.5-1.3M495.7 178.3l.1-1 .3-1 1-1.2 .2-1M488.9 187.2l1.9 .3M492.5 187.7l1.1 .2 1.3-.6 1.1 .2M496 188.2l-1.9 .2-1.2 .1M497.4 187.7l1.3 .3 1-.3 1 .1 1.6-.4M502 188l-1 .5-1.4-.7-.9 .9-1.1-.4M496 189.3l1.1 .8 1.7 0M497.6 190.4l-1.6-1.1M503.1 190.6l.5-1.1 1-.7M510.1 170.3l.6 .9 .5 1.1M511.2 172.3l-1.1 1.6M509.8 174.4l-.5-2.1M510.1 178.8l1.1-.2 .8 .6 1.5 .1 1-.2M514.1 179.9l-1.6 .3-1.1-.3-1-.3M507 179.1l1.9 .1M528.8 187l-1.8-.1-.8 .6M526.2 187.5l-.8-1.8M526.9 185.1l-.3-1.6-.8-.7M525.8 182.8l-1.2-.2-1.2-.8-1.5-.8M521.9 181l-1.3 .1-1.8-1M517.7 180.4l-1.3-1.8M516.4 178.6l1.1-.6 1.6 0M519.1 178l-1.6-.2-1.1-.7M516.4 177.1l-1.6-.9M514.8 175.2l1.4-.7 1 0M517.2 174.5l1.1 .8 1.3-.1M519.6 175.2l.3 1.9M519.9 177.1l.4 2.1M521.9 179.4l.3-1.2 1-.7M523.2 177.5l.8-.7 1.5-.5M525.5 176.3l1.3 .4 1.4 .8M476.1 176.7l.3 2.1M475.3 178.4l-.8-1.9M532.9 179.1l1.3 .5 1.8 .5M536 180.1l.8 1 .5 1.1 .8 .5M538.1 182.7l1.6 .7 1.1 .2M540 185.2l.7 .7 .8 1M541.5 186.9l1 .9 .2 .8 1.2 .7M543.9 189.3l.9 1.2 1.1 .1M544.4 190.9l-1.1 .1-1.8-.7M541.5 190.3l-1.5-1M540 189.3l-.2-1.1-1.4-1.3M538.4 186.9l-1.3-.7-1.1 0M536 186.2l-1.5 1.2M542.2 182.8l1.4 .2 1.1-.2M544.7 182.8l1.2-1.5 1.1-.6M547.8 182.5l-1.1 .9-1 .4-1 .3M544.7 184.1l-1.3-.4-1.2-.4M545.9 178.1l.8 .8 .6 .8 1.3 .4M549.1 180.9l-1.1-1.5-1.4-.5-.7-.8M498.5 143.9l1.4 .5 1.1-.3M501 144.1l.4 1.2-.2 1.9M500.1 148.3l.2 1.5-.1 .9M500.2 150.7l2.1 .7M502.3 151.4l.5 1.1 1.1 1M501.5 151.9l-1.9 0M497.7 149.9l.4-1-.7-1.4M500.9 161.3l1.5-.6 .7-.9M503.1 159.8l2-.3M505.1 159.5l1.1-1.5M506.2 158l.2 1.5 1.2 .2 .2 1.2M507.8 160.9l-.7 1.8 .4 1M506.1 164.7l.4-2.1M506.5 162.6l-1.6 .3-.7 .9M504.2 163.8l-.3-2.1M503.9 161.7l-1.9 .7-1.3 .2M504.3 153.6l1.9 .4M506.2 154l.3 2.1M505.4 155.6l-.6-.7-.5-1.3M502.3 155.3l-1 .7-.6 .9M500.7 156.9l0-2.1M502.3 156.2l-.2 1.5 .7 1.3M501.5 158l.8-1.8M504.6 155.6l.8 1.8M505.1 157.5l-.5-1.9M493.2 160.3l.7-.9 1.1-.9 .5-.7 .3-1.4 1-.8M496.5 156.9l-.7 1.1-.8 .8-1.4 1M503.9 155.7l.1 1.3-.8 1.3M503.2 158.3l-.3-2.1M481.1 141.5l2.2 0M483.3 141.5l-.7 1.9M482.6 143.4l-1.5 1M182.9 292.6l2.1-.2 1-.8M186 291.6l.9-.6 1.1 .4 1.4-.3M189.4 291.1l1.5-1.2 1.1-.3M192 289.6l-1.5-1M190.5 288.6l1.2 .5 1.3-.1 1.6-.5M194.6 288.5l1.2-1.3 .2-1.2M196 286l1.9-.2 1.1-.5M199 285.3l-.9-1.3 .4-1M198.5 283l1.3 .2 1.4-.7 1.2-.6M202.4 281.9l.9-1.2 .7-.9M204 279.8l1.4 .1 .7-.9 1.4 .6M207.5 279.6l1.6 0 1.1-.9M210.2 278.7l.6-1 1.2-1.1M212 276.6l1.5-.6 .9 .1 1.4 .4M215.8 276.5l1.2-.4 1-1.5M218 274.6l1.5-.2 .7-.1 1.5-.9 1.3 .2M223 273.6l-.9 .8-.8 1-.7 .4-1.6 .2M219 276l-.7 1.2-1.4 0-.9 .6M216 277.8l-1.3 .3-1.2 .9M213.5 279l-1.1 .4-1.4 1.2M211 280.6l-.9 1.6M210.1 282.2l1.6 1.4 1.1 .4M212.8 284l.3 1.2 .6 1 .9 .9M214.6 287.1l.6 1.6-.9 1.2 .7 1.2M215 291.1l-.3 1.4-1.7 1M213 293.5l-1.5-.1-1 1.1M210.5 294.5l-1.3 1.2-1.6-.1M207.6 295.6l-.9 .6-1.9 .1-.5 .2-1.3 1"/>
<path style="stroke-width:1.25" d="M194.4 47.1l1-.2 1.5-.6 1.4 0 1-.8 .6-.7 1.5-.5 .9-.4M202.3 43.9l1.1 .5 1.6-.3 .4-1.6 1.5 1 1.6-.8 1.1-.5 1.1-1.1 1 .2M218 51.5l-.9-.6-1.5-.6-1.6 1-1.4-.5-.9-.4M211.7 50.4l-1.5-.2-1 .8-1.4 0-1.1 .1-1.2-1.1-1.6 .7M203.9 50.7l-1.1-1.2-1.1 0-1.6-.7-1.2 .2-1.3-.2M197.6 48.8l-2.2-.4-1-1.3M108.1 60.1l1.3 0 .8 1.1 1.2-1 1.4 1M112.8 61.2l.8-.5 1.7-.4 1.5 .5 .6-.7 1.7 .7M119.1 60.8l1.3-.6 1.7 .3 1.4 1.2 1.4-.6 1.2 .3 .8 1.3 1.6-.5M128.5 62.2l1-.2 1.5 1.1 .9 .2 2.2-.8 1.4 .7 .8 .6M136.3 63.8l1.4 .3 1.8-.8M139.5 63.3l1.5 .8 1.5-.4 1.2 .7 1.3 0 1.1-.4 1.4 0 1.4 0M148.9 64l1.3-.7 1.1 1 1.3-1.8 1.1 .9 1.5-.5M155.2 62.9l1.1 .8 2-.4M158.3 63.3l.9-1.6-.9-1.3M158.3 60.4l1.6-.5 .2-1.3 .6-1.2M160.7 57.4l.6 1.6 1.9-.4 .4 2.1 1 .5M164.6 61.2l1.3 .9 1.8 .8M167.7 62.9l1 1.1 2.2 .5M170.9 64.5l.6-1.6 .6-.3 1.3-.9 1.2-.4 1-.5M175.6 60.8l1 .8 2.4-1.4 1.3 1M180.3 61.2l0 2.2 .8 1.1M181.1 64.5l-1.1 1.5-2.2-.7-.6 1.1M177.2 66.4l-.9 .6-2-.5-1.1 .4M173.2 66.9l-.3 1.8-.9 1.1-1.1 .4M170.9 70.2l-1.6 0-.3 .9-1.6-.2-1.3 .9-.8 1.5-1-.2-1.3 .3M186.6 72.7l1.3 .4 1 .5 2.1-.5 .8 0 1.5-.4M112.8 92l-1.3-1.2-.7-.6-2 .2M108.8 90.4l-.7-1.6M107.6 91.6l1.4-.3 1.3 1 .7-.3 1.5 .5M112.5 92.5l1.4 0 .3 2 .9 .9M115.1 95.4l-1.1-.7-1.2 .4M112.8 95.1l-1.9 0 .5-2.1-1.2-.6-1.3-.4-1.3-.4M183.4 54.4l.9 .6 1.9 .7 1.2-.2 1-.1 1.3 .5M189.7 55.9l1.6-.2 1.2 1.3 1.5-.2 .3 1.1 1.7 .1M196 58l1.6 0 1 .6 1.1 1.2 1.1 .5 1.5-.2M202.3 60.1l.9 .6 .7 1.4M203.9 62.1l1.2 .3 .8 1 1.1 .6 1.4-1 .6 1.9 1.7-.2 1 .6M212.5 66.1l-1.7 0-1 2.1-1.2-.2M208.6 68l-1.7 .1-1.2-.8-1.5 .3-1.1-.7M203.1 66.9l.9 1 .8 1.5 1.9 .3 .3 1.3M207.5 72.1l-1.5 .5-1-.6-.6-1.3-1.9 .7-1-.8M201.5 70.6l1.6 .2 .8 2.2 1.5 .4M205.4 73.4l-1.2-.6-1.6-.2-1.2-.4-1.2 .1-1 0M199.2 72.3l-1.8 0-1.4-1.7M196 70.6l-1.4 .4-1.1-1.6-1.4 .1M192.1 69.5l-1.5-.7-1.5 .4-1.3-.6-1.2 .7M186.6 69.3l1.6-1.3M188.2 68l1.7 .2 1-1.2 2 .7M193.7 66.1l.6-1.3 .1-1.5M194.4 63.3l-1.1-.9-1.1-.5-1.2 .1-1.3 .1M189.7 62.1l-1.2-1.4-1.2-.2-1.5-.1M185.8 60.4l-1.3-.5-1 1.2-2.2-.9-1 .2M180.3 60.4l-1.8-.9-1.7 .8-1.2-.7M175.6 59.6l-1.8 .2-1.1-.6-1.4 .6-1.2-1M170.1 58.8l-1.3-.5-.6-1.8-.5-.9M167.7 55.6l1.6-1.3M169.3 54.3l1 .6 1.5-1.3 1.5 1.7 1-.1 1.3-.4M175.6 54.8l1.4 .1 1.4-1 1.2 .1 1.2 .8 1.3-.3 1.3-.1M125.3 60.1l.9 1.1 1.6-.1 1.8-.6 .4 1.1 1.6 .1M131.6 61.7l1.6 .9 1 .3 1.6-1.1 .8 .1 1.1 1 1.8-.4M139.5 62.5l1.6-.6 1.9 .7 1.2-.5M144.2 62.1l1-.6 2.1 .2 .7-1.2 1.7 .3M149.7 60.8l-1.2-1.4-1.2 1.3-1.2-1.1-1.1-.8M145 58.8l-.5-1.2-.3-1.7M144.2 55.9l-1.9-.8-1.3 .5-1.5-.4M139.5 55.2l-1.3-.5-1.2 .4-1.2 .9-1 .5M134.8 56.5l-1.1-.9-1.7 .8-.8-1.1-1.3 .8-1.4-1.2M128.5 54.9l-1.9 .2-.2 1.7-1 .5-1.7 0-1.5 .5M122.2 57.8l.3 1.2 1.4 .4 1.4 .7M112 57.2l1.2-.5 1.5 2 1.2-.2M115.9 58.5l1.3-.3 1.8 .4 1.6-.6M120.6 58l1.1 .1 1.9-.7 .6-1.7 2 1 .7-1.1M126.9 55.6l-.3-1.4-2-.7M124.6 53.5l-1.2 .3-1.5 .1-1.8-.5-1-.3M119.1 53.1l-1.7 .8-.9-.9-2 .2-.9 .7M113.6 53.9l-.2 1.6-1.3 .2-.1 1.5M167.7 49.9l1 .3 1.6 .5 1.1-.4 1.5 .3 1.1-.5M174 50.1l1.6-.5 1.4 0 .9 .8 1.4-.6 1.2-.4 1.4 1.2 1.5-.2M183.4 50.4l1.3-.9 .5-.5 1.4-.7M186.6 48.3l1.8-1.4 1.3-.2M189.7 46.7l.9-1.1 1.5-.6M192.1 45l1.6 .5 .5-1.7 1.8-.1 1.2 1 1.2-.7 1.7-.5 1.3 .5 .9-.8M202.3 43.2l1.4-.4 1.3 .2 .9-1.3 1.6 1.2 .6-1.8 1.3-.3 1.4 1.3 .9-1M211.7 41.1l-1-.1-1.6 .4-.9-1.1-1.6-.1-1.2 0M205.4 40.2l-1.4 .2-.9 .3-1.6-1.1-.9 .9-1.7-1.1-1.5 .1-1.1 1.2-.9-1.2-1.4-.1-1.3 .9-1.4-.6M191.3 39.7l-.9 .2-1.4-.6-1.2 .4-1.6-.2-1.3 1.1-.6 0-1.4 .2-1.2-1.2-1.4 .4M180.3 40l-.9 .2-1.6 .9-1.2-1-1.6 .9-.8 .5-1.2-.1-1.3-.3-1.1-.3-2 .5-.9 0M167.7 41.3l-1.5 1-1.6-.2M164.6 42.1l1.9-.3 .4 1.3 1.1 .6 1.7-.3 1.9 .4 .9 .4M172.5 44.2l-1.2 .1-1 1.2-1 1.2M169.3 46.7l-.9 .4-.6 1.2-.1 1.6M164.6 49.7l1.5-.4 .9 .7 1.8 0 1.5 .2 .9 1.7 1.5 .2 1.3-.6M174 51.5l1.2-.6 1.6 .5 1.2 .7 1.7 .9 1.3-.2 1.4-.6 1 .8M183.4 51.4l-1.3-.2-1.3-.6-1-.2-1.3 .4-1.3-.1M177.2 50.7l-1.4-.8-1.5 1.1-.7-1.1-2 .5-1.4 .4-.9-.7M169.3 50.1l-1.5-.8-1.7 .1-1.5 .3M158.3 44.2l1.7-.3 1 2.2 1.7-.6 .6 1.1 1.9-.5 1 .9M166.2 47l1.6 .2 1.5-.3 .3-1.3 1.4-.5 1.5-.1M172.5 45l-1.8 .4-1.1-.4-1.3-1.6-.8 .2-1.3-1.3-1.6 .3M164.6 42.6l-1.2-.4-1.2 1.8-1.5-1.2-1.3 .6-1.1 .8M125.3 52l1.6 .4 1.3-.8 .6 1.9 1.7-.9 1.8-.1 .9 .8M133.2 53.3l1.4-.9 1.6 .8 .9-1.1 1.5 1.5 1.4-1.4 1.7 .8 .9-.7M142.6 50.7l-1.5 .3-1.2-.8-.8 .7-1.7-1.1-1.1 .1M136.3 49.9l-1-.7-1.9 1-1.4-.7-.7 1-2 .3-1-.8-1.4 .2M126.9 50.2l-1.6 1.8M148.9 55.6l.8 1.1 1.4 .4 1.6 .2 1.8-1 .9 1.9 1.3-.4M156.7 57.8l1-1.1 .6-1.1M158.3 55.6l1.6 0 .8 1.5 .7 0 1.6 .1M163 57.2l.8-.9 1.2-.3 .9-1.7 1.1-.4M167 53.9l-1.5 .1-1 .2-2.1-.8-1 .7-1.5-.3M159.9 53.8l-1.4-.4-1.8 1M156.7 54.4l-1.4 .4-1.3-.9-2 .2M152 54.1l-1.7 1.6-1.4-.1M145.8 52l1.2-.8 1.5 1.6 1.2-1.4 1.1 1.5 1.7-1.4 1.3 .3 1.4 .5M155.2 52.3l1.2-.6 .9-.1 1.7 .2 1.2 .5 1.3-.8M161.5 51.5l-1.3-.7-1.1 .1-.8-1.3M158.3 49.6l-1.3 .5-1 0-1.8 .5-1.7-.9-.6-.4-1.3 1.4-1.7-.6M148.9 50.1l-.9 1-1.4-.1-.8 1M172.5 67.6l1.8 .6 1.8-.7 1.1 .5M177.2 68l1.6 .2 1 .3 1.3 1 1.1-.2 1.2 1.3M183.4 70.6l-.6 1.3-2.4 .2-1.5-.4-.9 1.2M178 72.9l-1.3-.3-1.8-.4-1.3-1.3-1.1-.1M172.5 70.8l1.5-.8 .8-.7M174.8 69.3l-.7-1.5-1.6-.2M152.8 62.1l1.1-.7 1.8 .6 1 .9M156.7 62.9l1.1-.6 1.3-1.1M159.1 61.2l-1.3-.4-1.7 .4-.9-.8M155.2 60.4l-1.4 .1-1 1.6M115.1 50.4l1.4 .5 1.8 .6 .9-.3 1.8-.9 1.2 .9M122.2 51.2l1.4 .2 .6-1.4 1.7-.1 1-.8M126.9 49.1l-1.1-.9-.8-.4-2 1-.8-.9M122.2 47.9l-2-.6-.7 1.4-2-.1M117.5 48.6l-1.2 1.5-1.2 .3M143.4 47.5l1.7-.6 1.2 1.6 1-.4 1.6-.2M148.9 47.9l1.2-1.1 .8-.2 2 1 .7-.9M153.6 46.7l-1.7-.4-1.4-1.1M150.5 45.2l-1.1 .8-2-.7-1.2 1.1-1.2-.6M145 45.8l-1.6 1.7M154.4 47.5l1.3 .4 1.8-.3M158.3 46.2l-2.3-.2M156 46l-1.6 1.5M181.9 54.6l1.2 .3 .9 .1 1.5 .2 1.1 .7M186.6 55.9l1.5 .5 1.6-1M189.7 55.4l-.7-.9-1.6-.2M187.4 54.3l-1.7-.5-1.5-.1-1.4 .1-.9 .8M187.4 64.3l.7 .9 1.6-.4M190.8 63.7l-1 .2-1.3-.7M178.7 71.9l1.4-.6 1 1.1M181.1 72.4l1.4 .1 .9 .7M183.4 73.2l-1.5 .7-1-.5-1.4-.3M134.8 47l1.8-.2 1.3 .8M137.1 46.5l-1.2-.1-1.1 .6M157.5 51.4l1.2 .5 2-.2M160.7 51.7l1.5 1.1M162.2 52.8l-1.5-.3-1.2 0-1.2 0M196.8 62.9l2.4 .3M128.5 47.6l1.3 1 1.8-.5M130.8 47.1l-1.4-.6-.9 1.1M101 86.4l.6 .8 .5 1.1M103.3 89.3l-1.5-1.3M101.8 88l-.8-1.6M104.9 83.9l-1.6 .5-.7-1.3M102.6 83.1l-1.1 .5-1.3-1.3M100.2 82.3l.8 1.6M101 83.9l1 .6 1.9 .2 1-.8M99.4 81.5l-.5-1.7-1.8 .1M95.5 80.2l1.8 1 .6 1.1M97.9 82.3l1.5-.8M107.3 88.8l-.1-1.5-1.5-.1M114.3 98.8l-1.3-.9 1.6-1.8-1.4-.7M113.2 95.4l1.3-.5 1.4 .9M116.7 96.9l-.3-1-.2-1.4M48.4 74l.1 1.4 1.4 .4M49.9 75.8l1.1 .4 1.4 .5 1.5-.1M53.9 76.6l.8 1.7M54.7 78.3l1.4 1.3 1.7-.9M57.8 78.7l1.2 .7 1.6-1.7 1.1 1M61.7 78.7l.7 1.2-1.5 1.1M60.9 81l-1.1-.2-.5 1.6-1.4 .1-.9 .6M57 83.1l-.4 1.1-1.7-1.2-1 1.3M53.9 84.3l-1.4 .9-.6 .6-1.8-.4M50.1 85.4l1.4-.6 1.6 .3M53.1 85.1l2.2 .3 .9-1.1M56.2 84.3l1.1-1.4 2 1.6 .9-1.4M60.2 83.1l.6-1.4 1.6-.2 1.2-.2M63.6 81.3l.9-1.1 1.3 .5 1-1.3M66.8 79.4l1.6-.6 .4-1.7M68.8 77.1l.2-1.6 1.4-.2M70.4 75.3l1.5-1.2 1.6 .6M73.5 74.7l-.9 .6-.2 1.7-1.2 .8M71.2 77.8l1.2 0 1.2-.4 1.5-.8M75.1 76.6l1.4 0 .6-.5 1.1-.9M78.2 75.2l1.4-.6 1.8 1.4M81.4 76l1.3 .6 .8 .2 1.2-1.1 1.4 .9M86.1 76.6l1.4 1.2 1.7-.7M89.2 77.1l1.1 1.2 1.2-.7 .9 .7M92.4 78.3l1.1 1.6 1.2-.5M94.7 79.4l.8 1.4 1.6 .7M97.1 81.5l.4 1.4 .9 .9 1 .1M99.4 83.9l1.4-.2 1.8 1M66.4 80.7l2.2-.2 1-.6M69.9 81l-1.3 .2-1.4 .6M46.8 76.3l2 0M193.2 240.4l1.8 .9-.2 1.5M194.8 242.8l.3 1.4-1.4 1M193.7 245.2l.4 1.2-1.2 1.3-.8 .8M192.1 248.5l-1.4-.1-.3 1.2M190.4 249.6l.1 1.4 1.6 .7M192.1 251.7l.2 1.7-2 .1 .2 1.5M190.5 255l1.2 .7-.8 1.5 .7 1M191.6 258.2l1.4 .9 .7 1.2M193.7 260.3l.7 1 1.1-1.1 .8 1.1 1.3 0M197.6 261.3l0-1.6M202.3 264l-.9 .3-1.5-.2-.7-.7M199.2 263.4l-1.6 .1-.9-.1-.7-1.2M196 262.2l1.6-.8M193.8 242l1 1.3-1.1 1M192.2 243.9l1.4-.9-.7-1.3M201.8 260.3l1.1 .2 1 1.3M203.9 261.8l1 1.1 1.8-.3M325.6 77.5l-1.6 1.1M324 78.6l-1 1.4-1.3-.3M320.1 79.9l-1.3 .2-1.1-1.5M317.7 78.6l-1.2-.8 .5-1.5M317 76.3l-1-1.2 1-.9M317.3 73.1l.8-1.1 .8-.5 1.2 .3M320.1 71.8l1.1-1.4 1.2 .6M322.4 71l.6-1.2 1.9 .8 .7-1.3M325.6 69.3l1.7-.7 .6-.9M327.9 67.7l1.6-.2 0-1.4M329.5 66.1l1.3-.3 .5-1.2 .6-.4M331.9 64.2l1.5-.9M333.4 63.3l1.1-1.5 1.3 .3M335.8 62.1l1.1-.2 .6-1.3 1.4 .2M338.9 60.8l.7-.6 1.5 .5 1-.4M342.1 60.3l1-.9 1.4 1.1 .6-.2 .9-.8M346 59.5l1-.9 1.2 1.2 .9-1.2M349.1 58.6l1.6 .9 .9-.9 1.5 .2M353.1 58.8l1.3-.3 .9 1.5 1.2-1.3 1.3 1.2M357.8 59.9l-1.6 1M326.4 44.9l1-.2 1.6-.2 .7-.7 1.4 .4M331.1 44.2l1.3-.9 1 .3 .5 1.5 1.3-1.2 1.3 .8 .9-.3M337.4 44.4l1.3 0 0 1.5 1.2 .4 .9-.1 1.3 0M342.1 46.2l-1-.6-.7 1.4-1.5-.2M338.9 46.8l-.8 .5-1.2 .1-.5 1.5-.6 .7M335.8 49.6l-.9-.7-1.8 .1-.9-.7-1.1 0M331.1 48.3l-1.4-.4-.9 .1-.9-1.3M327.9 46.7l-.3-1.4-1.2-.4M337.4 43.7l1.1 .1 1 .2 1.2 .5 1.1-.2 1.2-1.1 1.1 1.3 1.1-.9M345.2 43.6l.8-.6 1.3 .8 .8 .5 1.3-1.2 .8 1.8 1.3-.7M351.5 44.2l-1.7-.6-.3 2.1-1.5-.4-1.2 .1M346.8 45.4l-1.2 .4-1.2-.9-1.2-.4-.9 1.1-1.3-.4-1.2 .7-.9-1M338.9 44.9l-1.5-1.2M342.1 47.1l1.5-.5 .6 1.7 1.4-1.5 1.2 1M346.8 47.8l-1.2 1.3-1.2-.5M344.4 48.6l-1.3-.3-1-1.2M326.8 79.4l1.1 1.6M335.2 80.7l-.4-1.4 1-.6M335.8 78.7l.3-1.1 1-.8 1.5 .2M338.6 77l-1.8 0-.5-1.5M336.3 75.5l-.7-1.2 .5-.9M336.1 73.4l1.3-1.5M337.4 71.9l.8-1.1 1.1-.7 1.2 .5M340.5 70.6l.4-1.3 1.7-.1M342.6 69.2l1.1-1.5M337.7 81.5l1.2-1.5M348.8 68.5l-1.2 1.2M347.6 69.7l-.5 1-1.5 .8-1.2 0M344.4 71.5l-.7 1.2-1.1-.1M342.6 72.6l.4 1.1-.3 1.3M342.7 75l.3 1 1.4 .6M346 76.8l1.3 .6 .5-1.5 1.3 .4M322 81.8l.6-.8 1.4 .2M324 81.2l1.7-.8M325.7 80.4l-.4 1.6M346 77.9l1.1 .3 .9-.1 1.1-.8"/>
<path style="stroke-width:1.0" d="M332.7 105.8l-.5-.7-1.1-.6M330.3 103.2l-1.6-.9M328.7 102.3l-.3-1.7M336.6 104.4l-.8-.7-1.6-.3M334.2 103.4l-1.2-1.1M333 102.3l-1.1-1.7M516.4 103.9l1.9 .6M518.3 104.5l1.1-.9 .5-.1 .8-1.1 1.2-.5M521.9 101.9l.5-1 1.2-1 .7-.6M537.6 102.7l1.6-.9M540 101.3l-1.5 .7-.9 .7M512.8 107.8l-1.5 .5-1.2 .3-.8 .8M512.3 113.9l-.1 1.2 .3 1.3M512.5 116.4l-1.6 .9M530.4 106.6l.9 1.6M531.3 108.2l.8 1.7M532.1 109.9l-.5 1-1 1.1M530.6 112l-.2 2.1M530.4 114.1l-.2 1.9M530.2 116l-1.5 1.2M527.1 117.7l-1.7 .4-1.1-.3M524 118.3l-1.6 1.3M522.4 119.6l-1.3-1.8M521.1 117.8l-1.3 .5-1.8 0M514.7 118.3l1.4-.5 1.1-1.3M517.2 116.5l.9 0 1.5-.1M519.6 116.4l1.4-.4 1.7 0M522.7 116l.2-1.2 1.1-1.4M524.3 114.2l1.3-.6 1-.3M526.6 113.3l.8-.6 .8-1.2M528.2 111.5l.6-1.3 .2-.8M529.8 103.7l.8-1.1-.2-1 1.1-1.3M531.5 100.3l1.3 .6 .9 1.2M533.7 102.1l1.5-.2 .9-.1 1.2 .3M537.6 103.7l-.7 .8-1.8 .4-.6 .9M534 105.8l-1 0-1.3-1M514.8 118.9l1.5 1.2M516.3 120.1l-.1 1-.6 1.4M513.6 123.2l0-2M517.2 118.8l1.2 .2 1.9-.5M519.9 119.9l-1.9 .8M580.3 229.7l1.3 1.3 1.3 .4M582.9 231.4l.7 .9 1.1 .8M584.7 233.1l.8 1.7M585.5 234.8l1.2 .2 2-.2M589.5 235l-.4 1.5-.7 .9M587.1 237.9l-.8 1-.3 1.5M586 240.4l-1.6 .9M583.5 240.8l.5-2.1M584 238.7l-1.9-1.1M582.1 237.6l.9-1 .3-1.1M583.5 233.9l-.9-.7-.6-1.2-.9-1.4M580.3 239.6l1.3 .1 1.3 1M582.4 241.8l-.9 .7-.7 1.4M580.5 244.9l-1.4 .5-1 .3M578.1 245.7l-.3 1.7-.4 .9M577.4 248.3l-1.2 .4-.9 .7M575.3 249.4l-1.9-.1M573.4 249.3l-1.5 0-1.3-.8M570.6 248.5l.8-1.7M571.4 246.8l1.2-.4 1.1-1.2M573.7 245.2l1.3-.7 .8 0 1.1-.9M576.9 243.6l1-1 .6-.9M578.5 241.7l1.1-1.7"/>
</g>
</g>
</g>
<g class="k">
<rect x="665.1" y="136.0" width="25.6" height="26.0" fill="#FF6F00"/><text class="t" x="699.7" y="153.3" font-size="13.1">0~0.1</text>
<rect x="665.1" y="162.0" width="25.6" height="26.0" fill="#C71000"/><text class="t" x="699.7" y="179.3" font-size="13.1">0.1~0.2</text>
</g>
<g transform="translate(767.3,0)">
<text class="t" x="5.2" y="20.4" font-size="20.1" font-weight="bold">B</text><text class="t" x="24.5" y="20.4" font-size="20.1">Age-standardized DALYs rate</text>
<g class="m">
<g fill="#FF6F00">
<path d="M194.4 47.1l1-.2 1.5-.6 1.4 0 1-.8 .6-.7 1.5-.5 .9-.4 1.1 .5 1.6-.3 .4-1.6 1.5 1 1.6-.8 1.1-.5 1.1-1.1 1 .2 1.6-.5 1.2 .1 1.2 .1 1.2 .1 1.2 .4 1.9-.3 1.2-.7 1-.3 1.7 .2 1 .5 1-.3 1.5-.3 1.3-.6 1.4 .1 1.5 .6 1.1 .1 2-.4 .8 .3 2-.6 .9-.1 1-.6 1.9 .6 1.3-.7 .7 .8 1.4-.8 1.9-.4 1.3 0 1.1 0 .9 0 2 .4 .7-1 1.5 .4 1.8-.4 .7 .9 1.4-.1 1.4 .2 2 .1 .8-.4 1.5-.3 1.4 0 1.6 .5 1 .5 1.2 0 2.1-.3 .9 .8 1.3-.3 1.3 .6 1.8-.1 1.8 .8 1.3 .7 1.4 0 1.4 .4 1 0 1.9-.7 .9 .4 1.4 .3 1.8-.7 1.1 .5-1.6 .3-1.3 1-1.3-.6-1.1 .6-1.5 1.1-1.1 0-1.2 1.1-1 .1-.9 1.3 .9 1.7-.2 1.5-1.6 0-1.6 1.6-1.5 0 1.2 .8 2 .8-1.2 .5-1.5 .8-1.3 1.2 0 2.4-1.5 1.9-1 .9-2.2 .4-1.5 .9-1.6 .3-1.1 .6-2-.4-1.6 .7-1.8 .3-1.3 1.4-1.6 .3-1.7 1-2 .3-1 .6-1.4-.4-1.7 .6-1 .7-1.4-.4-.3 1.1-1.8 .9-.3 1.3-.6 1.4-.8 .7-1 1.1-.7 1.7-.8 .7-2.4-.1-1.3-.7-2.2-.8-1.2 0-1.3-.4-1.2-.8-.6-1.2-1.1-1.4-1.3-1-.9-1-1.1-1.1-.3-1.2-.8-2.4 1.3-.6 1.1-1.2 1.5-.6-1.7-.7-1.4-.3-1.6-.7-.8-2.4-1.6-.9-.8-1.5-1-2-1.4-1-.7-1.1-.9-.6-1.5-.6-1.6 1-1.4-.5-.9-.4-1.5-.2-1 .8-1.4 0-1.1 .1-1.2-1.1-1.6 .7-1.1-1.2-1.1 0-1.6-.7-1.2 .2-1.3-.2-2.2-.4z"/>
<path d="M212.2 156.6l1.1-.2 0 1.1-1.4 0z"/>
<path d="M219.3 164.2l2 .1 3 .2-.8 1.5 .8 2.1-.8 2.1-2.2 .6-.9 0-2.1-2.4-.3-1 1.1-2.1z"/>
<path d="M326.7 78.1l-1.1-.6-1.6 1.1-1 1.4-1.3-.3-1.6 .2-1.3 .2-1.1-1.5-1.2-.8 .5-1.5-1-1.2 1-.9 .3-1.1 .8-1.1 .8-.5 1.2 .3 1.1-1.4 1.2 .6 .6-1.2 1.9 .8 .7-1.3 1.7-.7 .6-.9 1.6-.2 0-1.4 1.3-.3 .5-1.2 .6-.4 1.5-.9 1.1-1.5 1.3 .3 1.1-.2 .6-1.3 1.4 .2 .7-.6 1.5 .5 1-.4 1-.9 1.4 1.1 .6-.2 .9-.8 1-.9 1.2 1.2 .9-1.2 1.6 .9 .9-.9 1.5 .2 1.3-.3 .9 1.5 1.2-1.3 1.3 1.2-1.6 1 1.3-.1-3 1.2 .6-.9-2.2-.8-3 .6-.4 .8-1.3 1-3-.2-3.1-.5-.6 0-1 1-2.8-.1-2.7 .9-1.6 2.6-1.5 1.6-1.3 1.8-2.3 1.2 0 3 .9 .5-.8 2.1-.8 1.2zM326.4 44.9l1-.2 1.6-.2 .7-.7 1.4 .4 1.3-.9 1 .3 .5 1.5 1.3-1.2 1.3 .8 .9-.3 1.3 0 0 1.5 1.2 .4 .9-.1 1.3 0-1-.6-.7 1.4-1.5-.2-.8 .5-1.2 .1-.5 1.5-.6 .7-.9-.7-1.8 .1-.9-.7-1.1 0-1.4-.4-.9 .1-.9-1.3-.3-1.4zM337.4 43.7l1.1 .1 1 .2 1.2 .5 1.1-.2 1.2-1.1 1.1 1.3 1.1-.9 .8-.6 1.3 .8 .8 .5 1.3-1.2 .8 1.8 1.3-.7-1.7-.6-.3 2.1-1.5-.4-1.2 .1-1.2 .4-1.2-.9-1.2-.4-.9 1.1-1.3-.4-1.2 .7-.9-1zM342.1 47.1l1.5-.5 .6 1.7 1.4-1.5 1.2 1-1.2 1.3-1.2-.5-1.3-.3z"/>
<path d="M326.7 78.1l.1 1.3 1.1 1.6 1.3 1.8 .3 1.3 2.1-.2 .6-.9 2-.2 1-2.1-.4-1.4 1-.6 .3-1.1 1-.8 1.5 .2-1.8 0-.5-1.5-.7-1.2 .5-.9 1.3-1.5 .8-1.1 1.1-.7 1.2 .5 .4-1.3 1.7-.1 1.1-1.5 3.3-.5-.8-1.1 .6-1.6-2.4-1.5-2.9-1-1 1-2.8-.1-2.7 .9-1.6 2.6-1.5 1.6-1.3 1.8-2.3 1.2 0 3 .9 .5-.8 2.1-.8 1.2zM337.7 81.5l1.2-1.5-.3 1z"/>
<path d="M322.6 84.9l-.8-1.1 .2-2 .6-.8 1.4 .2 1.7-.8-.4 1.6 .9 .5-1.4 1.4-.8 .8 .6 .4zM326.4 83.6l2-.6 .5 .8-1 1.1-1.5-.5z"/>
<path d="M322.6 84.9l2 .2 1.8 .6 0 .7 2.3-.7 1.6-.1 1.1 .9 .3 1.2 .3 1.1 .2 1.6 .5 .8-1.1 0-3.2 1.2 .3 .6 2.1 1.8-1.3 .8 0 1.3-1.2-.2-2.7 .4-1.4-.2-1.6-.3-1.6 .1 1-2.2-2.9-.8-.4-1 0-1-.2-.5 .3-1.3 1-.3 .3-.8 .3-1.3 1.3-.5 1.1-.5 .3-.9z"/>
<path d="M320.4 87.5l-.3 1.3-.3 .8-1 .3-.3 1.3-.3 .4-1.2-1-1.3 0-1.3 0 1-1 1.1-1.6 2-.7z"/>
<path d="M314.4 90.6l1.3 0 1.3 0 1.2 1 .3-.4 .2 .5 0 1 .4 1-.9 0-1.6-.8-.9-.4-2.6-1.4z"/>
<path d="M295.3 105.8l.1 2.1-1.1 2.3-.1 1 1.1 .5 0 .8-.3 1.4 1.7 0 .8-.3 .6-1.6-.6-2 .6-.5 .2-2.1 1.1-.9-.7-.5-2.5-.3zM268.6 112.5l.9 .1-.5 .2zM264.3 111.3l.8 .2-.4 .2zM266.2 111l.5 .2-.3 .1zM282.1 120.7l.8 .2-.5 .2z"/>
<path d="M299.7 89.3l-.3-1.8 0-1.1-1.8-.2-1.4-.8 1.4-1.1-1.9 .4-1.7 .4-.6 .9 .8 1.5-1.3 1-.1 1.1 .9 .8 1.6 .4 .9-.9 1 .5 1.1-.5 .9-.6z"/>
<path d="M318.7 99l1.1 .5 1.7 0 .9-.7 1.3 0 1.3-.1 .6-.8-1.4-1-1.6-.3-1.6 .1-.9 .2z"/>
<path d="M324.2 96.9l1.4 1 2.7-.2 2.3 .8 1.4 .2 2.2-.5 .8-.5 1-1.6-.4-1-2.9-.6-1.9 .3-1.3 .8 0 1.3-1.2-.2-2.7 .4z"/>
<path d="M347.3 80l-1.3-1.1 0-1 1.1 .3 .9-.1 1.1-.8 4 .2-1 1.1 .2 1.6-.2 .5-3.3-.8zM343.7 78.9l1.5 0-.8 1z"/>
<path d="M359.8 117.2l1.1-.5 2.5-.7-.9 1.2-1.6 .6z"/>
<path d="M288.4 129l2.6-1.3 2.4-1.6 .5-1.6-.2-1.7 2-2.9 2.7-1.3 1.4-2.7 1-.2 2 1.1 2.8 .2 .8 3.4 .7 1.5-3.5 1.7-2.4 1.7-3.1 .8-2.6 1.3 0 1.6z"/>
<path d="M288.4 129l7.1 0 0 .6 0 2.2-5.2 0 0 4.2-1.6 .6 0 2.8-6.3 0 .2-1.2 1.4-2.7 1.7-2.1 .6-2z"/>
<path d="M282.4 139.4l6.3 0 0-2.8 1.6-.6 0-4.2 5.2 0 0-2.2 6 3.8-2.6 0 1.6 13.8 0 1.6-6 0-2.2 .1-1.3-.3-1.1 1.3-2-2.1-1.6-.8-3.1 .8 .8-3.1-.3-2.1-.5-2.1-.8-.6z"/>
<path d="M301.5 133.4l9.5 6.3 0 .6 2.8 1.5 .5 1.3 1.5-.2-.1 3.8-1.1 2.1-3.9 .8-1.3 0-1.1-.2-2.3 1.5-1.6 .8-2.1 .8-.3 .8-1.2 1.5-.3 2.2-1.1-.3-2.7 .7-.3 0-.3-1.3-1.1-2.1-2.1 .1-1.7-.3-1.3-3.9 1.1-1.3 1.3 .3 2.2-.1 6 0 0-1.6-1.6-13.8z"/>
<path d="M305.6 117l3.5-1.1 2.4-1.2 2.3-.5 3.2 0 3.1-.3 2.5 .2-.5 .6-.1 2.5-1.1 1.9 2.3 2.8 .8 2.9 .5 3.2 .1 2.9-.7 .5 .9 2.8 3.1 1.6-7 4.4-2.7 2.1-2.4 .6-1.5 .2-.5-1.3-2.8-1.5 0-.6-9.5-6.3-6-3.8 0-.6 0-1.6 2.6-1.3 3.1-.8 2.4-1.7 3.5-1.7-.7-1.5z"/>
<path d="M362.5 158.5l.2 1.8-1.8 1 2.4 1.7 1.2 2.1 1 1.3-3 .7-.8 .6-3.9 .4-.3 .1-1.3-1.6-2.3 .3-1.8-1.3-1.4-1.4-2-2.5-1.9-1.9 1.6-2.6 1.5 .2 3.2 1.4 1.5-.6 1.6-.8 1.6 .6 1.2-1.1 .8-2-.3-.5 1-.3 .6 0 .1 2.5 1 1.1z"/>
<path d="M369.6 144.7l1.1 2.5 .4 1.6 2.4 1.6 2.2 2.1 1.1 .8-1.1 .3-2.5-2.7-2.8-.7-1.8-.5-2.2 1 0-1.1 .8-3.3z"/>
<path d="M374.4 176.7l-2.2 1.6-.9 2.2-.6 1-2.4-2.3-.1-.4-5.7-3.3 0-1.6 .8-1.8 .8-1.1-1.6-3.9 3-.7 1.4 .4 2.7 1.3 2-.4 3.3-.2-1.4 1.9 0 6z"/>
<path d="M362.5 167.1l1.6 3.9-.8 1.1-.8 1.8 0 1.6-5.5 0-1.4 .7 .1-1.5 .4-2.1 2.2-2.3-.8-2.1 .3-.1 3.9-.4z"/>
<path d="M362.5 175.5l5.7 3.3 .1 .4 2.4 2.3-.7 2.5 1.1 1.2-.3 2.5 .8 2.4 1 .8-3.8 1.3-3.2 .5-1.7 0-.5-.2-.1-2.4-.8-.8-1.6 0-.8-.3-2.3-1.2-.3-.4-2.1-3-.1-3.2 .9-.3 1.3-1.7-.5-1.4 .5-.2-.5-2.1z"/>
<path d="M355.6 176.2l1.4-.7 .5 2.1-.5 .2-2.4 .5 .4-1.8z"/>
<path d="M354.6 178.3l2.4-.5 .5 1.4-1.3 1.7-.9 .3-.3-1.6z"/>
<path d="M326.5 180.2l1.3-.6-.6-2 1.5 0 3-.6 .2-2.1-1-1.5 1-1.8-1.9 .2-.2-1.5 2.1 0 2.3 .8 .3-.8 .5-1.6 3.3-.5-.9 2.5-.5 4-2.4 2.8-1.4 3.4-1.4 .8-2-.3-.5-.4-1.3 1z"/>
<path d="M324.5 172.3l2.3 0 0-2-2.3-.1zM322.3 168.1l.8-.2-.3 .8z"/>
<path d="M324.5 170.2l-.2-2.1-1.2-1.5-.5-.5 .5-1.6 .6-1 1.4-.8 1.4 .7 1.1-1 .7-2.1 .9-.5 .6-1.5 1-2.2 1.2-.8 0-1.2-.6-.3 0-1.1 1.3 1.6 .1 2.1 .8 1.3-2.2 0-.5 .6 2.1 2.6 .4 .8-1.5 2.5 .1 1.6 1 1.8 1.5 2.7-.3 .8-2.3-.8-2.1 0-3 0z"/>
<path d="M313.3 163.5l2.9 .2 1.5 2.1 1 1.1 2.2-.3 1.7-.5 .5-1.6 .6-1 1.4-.8 1.4 .7 1.1-1 .7-2.1 .9-.5 .6-1.5 1-2.2 1.2-.8 0-1.2-.6-.3 0-1.1-.9-1-1.8 1-3.9-.4-3.5 0-2-.4-1.6-.5-2.2 .6-.7 2.9 .3 2-1.6 2.4z"/>
<path d="M313.3 163.5l-1.7 .3 0-4.5-.3-.8-.9-1.6 .1-.8 .8-.7 1.6-.8 0-.6 1.9 .9 .3 2-1.6 2.4z"/>
<path d="M311.6 163.8l-.6 .2-1.1-2.3-.2-3.2-.6-2.6 1.4 .2-.1 .8 .9 1.6 .3 .8z"/>
<path d="M311 164l-1.9 .8-3.1 1.3-1.8-.5-.1-2.7 1.1-2.3-.3-2.1-.2-2.4 3.6 0 .8-.2 .6 2.6 .2 3.2z"/>
<path d="M300.5 157l.3-2.2 1.2-1.5 .3-.8 2.1-.8 1.6-.8 2.3-1.5 1.1 .2 1.3 2.6 1.7 1.1 .5 .7 0 .6-1.6 .8-.8 .7-1.4-.2-.8 .2-3.6 0 .2 2.4-2.9-.3z"/>
<path d="M297.3 166.8l-2.3-1.3-2.9-2-1.1-.8 1.4-1.4 .5-1.2 1.3 .2 .3 1.6 1.6-.3-.4 1.8 1.5 1.6z"/>
<path d="M291 162.7l-1.5-.8-1.3-1.8 0-.8 1.3-1.4 2-.2 .9 1.4 .5 1-.5 1.2z"/>
<path d="M288.2 159.3l-1.1-1.6-1.6-1.5 1.6-1.1 .5-1.1 0-.7 3.6 .5 1.7 .3 2.1-.1 1.1 2.1 .3 1.3 .3 0-.5 1.1 .6 1.6-.7 1.5-1.6 .3-.3-1.6-1.3-.2-.5-1-.9-1.4-2 .2z"/>
<path d="M285.5 156.2l-1.5-1.4-1.1-.8 2.6-.7 2.1 0 0 .7-.5 1.1z"/>
<path d="M282.9 154l-.2-1.3 2.8-.2 1.9-.5-1.9-.5-2.8 .4-1.1-1.8 1.6-2.3 3.1-.8 1.6 .8 2 2.1 1.3 3.9-3.6-.5-2.1 0z"/>
<path d="M282.7 152.7l0-.8 2.8-.4 1.9 .5-1.9 .5z"/>
<path d="M315.8 142.9l2.4-.6 2.7-2.1 7-4.4 3.5 1.5 1.3-.7 1.5 4.1-.4 .9-.4 4.9-2.3 2-.8 1.9 .2 1.3-1.8 1-3.9-.4-3.5 0-2-.4-1.6-.5-2.2 .6-.7 2.9-1.9-.9-.5-.7-1.7-1.1-1.3-2.6 1.3 0 3.9-.8 1.1-2.1z"/>
<path d="M332.7 136.6l14.1 5.7 0 6.2-1.6 0-.8 2.7-.7 2.1 1.4 2.9-1.9 .7-1.9 2.1-2.4 .3-.1 .3-3 1.8-2.4 .3-.4-.8-2.1-2.6 .5-.6 2.2 0-.8-1.3-.1-2.1-1.3-1.6-.9-1-.2-1.3 .8-1.9 2.3-2 .4-4.9 .4-.9z"/>
<path d="M333.4 161.7l2.4-.3 3-1.8 .1-.3 2.4-.3 1.9-2.1 1.9-.7 .9 3.6 .8 0 1.9 1.9 2 2.5 1.4 1.4-3.3 0-2 .2-2.4 1.5-3.9-.7-2.2 .3 0 1.3-3.3 .5-.5 1.6-1.5-2.7-1-1.8-.1-1.6z"/>
<path d="M328.3 183.5l.9 1.6 .9 2.6 .7 3.5-.7 3-1.4 1.6-.8 2.4-.3 2.4 0 1.3 1.9-.4 1.6 .6 7.1 0 3.9 .8 3.8-.5-2.2-2.2 0-5.2 3.1 0 0-3.4-.2 .1-2.6 .4-.3-2-.4-.8 0-3.6-2.8-.5-.8 1.7-3.1 .1-1.4-3.5-4.9 0zM328.3 183.3l-.4-1.3 1.3-1 .5 .4-1 .8z"/>
<path d="M346.8 191.6l.6 .8 1.7 .5 3.2 .9 2.3 1.8 1.3 0 0-1.9-2.2-.7 .3-2.1-.3-1.9 .8-1.3 3-.3 .3 .4 2.3 1.2 .8 .3 .5 2.1-.5 2 0 3.2-4.4 1.6 .3 1-2.2 .3-.3 1.1-2.8 2.5-2.7-.3-2.9-.4-2.2-2.2 0-5.2 3.1 0z"/>
<path d="M360.9 189.3l1.6 0 .8 .8 .1 2.4 .5 .2-.3 1.5-.3 1.6 2.2 1.6-.2 2.4-.8 1.8-1.4-1.3-.1-2.9-2.1-.8 0-3.2 .5-2z"/>
<path d="M372.6 190.9l.1 3.3 .3 3.2-1.1 2.8-3.1 1.7-1.9 1.2-2.8 2.9-.3 1.1 .7 2.5 .4 3.2-3.2 2.1-.9 1 0 1.5-1.3-.1-.1-1.3-.2-1.6 .2-1.6-1.1-2.6 1.7-1.8 .6-2.1 .3-.8-.1-1.6 .1-1.6-.1-1.3-2.2-.8-1.8-1-.3-1 4.4-1.6 2.1 .8 .1 2.9 1.4 1.3 .8-1.8 .2-2.4-2.2-1.6 .3-1.6 .3-1.5 1.7 0 3.2-.5z"/>
<path d="M386.5 193.4l1.9 5.6-1.1 2.5-.5 1.6-1.5 4.8-1.6 4.9-.8 1.6-2.3 .8-2.4-.8-1.1-4 1.9-4.1-.8-4 .8-2.1 3.1-.9 2.4-3.5z"/>
<path d="M364.2 120.2l1-.3 1.4-1.4-1-.7-.7 1.1z"/>
<path d="M392.5 146.9l-1.7-3.8 4.7-1.6 1.1-3.3-.8-1.1 .9-2.4 1-1.2 .9 1.7 2.4 .4 2 1.8-.5 1.6-1.5 1.8-1.1 2.3-2.1 1.6-2.3 1.6zM397.2 131.6l.5-.3 0 .9z"/>
<path d="M416.2 135.5l.5 .8 2.3 .8-1.5 .7 2 2.2 1.9 .2 1.1-.5 .8-1.1 .1 2.9 0 1.6 .8 3.2 .8 2.5 1.3 3.2 1.1 2.8 1.4 2.9 .6 1.8 1.4 1.3 1.1-1.3 1.3-.7 1.2-1.6 0-1.9 .8-2.8-.3-3.2 1.4-1 2.1-1.3 1.8-2 2.4-2.5 2.8-1.8 .3-1.7 1.9-.1 1.4-.3-.3-2-.3-2.1-.9-1 .4-2.2 1.8 .5 .4 1.1 4 .3-.2 1.3-1.4 .5-.2 .8 .7 1 1.5 1.6 .7-.2 .6-1.7-.2-1.5 2.2-.3-.1-1.3 .9-1.8 2.8-1.6 .5-1.8-1.7-1.8-1.9 .2-2.4 .8-2.1 1.4-.2 1.7-3.6 .1-1.3-1-.1-1.1-1.1 .2 0 2.4-3.3-.3-2.4-1.2-1.9-.1-3.6-1.5-1.4-.8 .5-1.4 .9-.9-2.3-1.3-1.1-.3-.7-2.1 1.3 0-.5-2.9-1.4-1.9-.3 0-1.3 .8-3.1 .6-1.9 .5 .8 2.1 1.7 1.1-1.4 2.1-1.7 1.8-.8 1.5-1.6 1.8-2.3-.2-.7 2.4 1.6 3.1-3.4 .5zM454.7 152l.5 .3-.2 2.8-.6-.3zM456.3 162.2l.3 .4-.2 .3z"/>
<path d="M449 138.6l-.3-2-.3-2.1-.9-1 .4-2.2 1.8 .5 .4 1.1 4 .3-.2 1.3-1.4 .5-.2 .8 .7 1 1.5 1.6-.4 1.9-.5-1.6-.5-1.3-1.9 .4-.7 .6z"/>
<path d="M434.9 127.2l.5-1.4 .9-.9 2.4 .4 2.3 1.3 3.2 1.9 3.3 .2 0 2.4-3.3-.3-2.4-1.2-1.9-.1-3.6-1.5z"/>
<path d="M469.6 137.6l1.3-.2 3.6-1.3 2.2 .8 2 2.1-2 1.2-.3 1.6-1.3 1.3 .5 1.3 .8 .6 1 1 .5 1 1.3 1 .2 1.1 .7 1.4 .7 1 .3 1.3-.3 1.6-.5 1-1.1 1-1.6 .6-.9 .7-.3 1-1.1 1-1 .1-.6 .2-.2-1.5 .5-.8-.8-.7 1-.8 1.5-.1-.1-1.2 2.3-.9 0-3.9 0-.8-1.2-2-1.9-2.1-.5-1-1.9-1.9 1.5-.8-.8-.8-2.2-.5-1.3-1.2z"/>
<path d="M488.3 166.4l1.9-.6-.3 1.1z"/>
<path d="M530.6 178.1l2.3 1 1.3 .5 1.8 .5 .8 1 .5 1.1 .8 .5 1.6 .7 1.1 .2 .4 1.2-1.2 .4 .7 .7 .8 1 1 .9 .2 .8 1.2 .7 .9 1.2 1.1 .1-1.5 .3-1.1 .1-1.8-.7-1.5-1-.2-1.1-1.4-1.3-1.3-.7-1.1 0-1.5 1.2-.8 1.3-3.1 0zM542.2 182.8l1.4 .2 1.1-.2 1.2-1.5 1.1-.6 1.3 .2-.5 1.6-1.1 .9-1 .4-1 .3-1.3-.4-1.2-.4zM545.9 178.1l.8 .8 .6 .8 1.3 .4 .8 1.4-.3-.6-1.1-1.5-1.4-.5zM552.1 182.8l1.7 2-.8 .1zM539.3 177.1l1.1 0-.4 .5z"/>
<path d="M508.1 112.6l.5-.8 2.2-.5 1.5 2.6-.1 1.2 .3 1.3-1.6 .9-1.6 .4-1.8 .3 .3-2.1-.5-1.7zM507.3 119.6l1.1 0-.6 .5z"/>
<path d="M530.4 106.6l.9 1.6 .8 1.7-.5 1-1 1.1-.2 2.1-.2 1.9-1.5 1.2-1.6 .5-1.7 .4-1.1-.3-.3 .5-1.6 1.3-1.3-1.8-1.3 .5-1.8 0-1.6 .6-1.6-.1-.1-.5 1.4-.5 1.1-1.3 .9 0 1.5-.1 1.4-.4 1.7 0 .2-1.2 1.1-1.4 .7-.3-.4 1.1 1.3-.6 1-.3 .8-.6 .8-1.2 .6-1.3 .2-.8 0-1.3 .5-1zM529 106.6l.5-1.3-.8-.5 1.1-1.1 .8-1.1-.2-1 1.1-1.3 1.3 .6 .9 1.2 1.5-.2 .9-.1 1.2 .3 .3 1.6-.7 .8-1.8 .4-.6 .9-.5 0-1 0-1.3-1-1.3 .2 .2 1.3zM513.3 119.6l1.5-.7 1.5 1.2-.1 1-.6 1.4-1.2 1.1-.8-.4 0-2-.8-.8zM517.2 118.8l1.2 .2 1.9-.5-.4 1.4-1.9 .8-1.1-.8zM509.7 131.4l.9-.9-.5 .8zM512.2 128l.6-.3-.3 .6zM513.9 124.6l.5 0-.3 .3z"/>
<path d="M587.6 202.3l1.9-.2 0 1.3-1.8-.2zM589.8 201l2-.8-.8 .9z"/>
</g>
<g fill="#C71000">
<path d="M87.6 61.1l7.9 1.1 3.1-1 9.5-1.1 1.3 0 .8 1.1 1.2-1 1.4 1 .8-.5 1.7-.4 1.5 .5 .6-.7 1.7 .7 1.3-.6 1.7 .3 1.4 1.2 1.4-.6 1.2 .3 .8 1.3 1.6-.5 1-.2 1.5 1.1 .9 .2 2.2-.8 1.4 .7 .8 .6 1.4 .3 1.8-.8 1.5 .8 1.5-.4 1.2 .7 1.3 0 1.1-.4 1.4 0 1.4 0 1.3-.7 1.1 1 1.3-1.8 1.1 .9 1.5-.5 1.1 .8 2-.4 .9-1.6-.9-1.3 1.6-.5 .2-1.3 .6-1.2 .6 1.6 1.9-.4 .4 2.1 1 .5 1.3 .9 1.8 .8 1 1.1 2.2 .5 .6-1.6 .6-.3 1.3-.9 1.2-.4 1-.5 1 .8 2.4-1.4 1.3 1 0 2.2 .8 1.1-1.1 1.5-2.2-.7-.6 1.1-.9 .6-2-.5-1.1 .4-.3 1.8-.9 1.1-1.1 .4-1.6 0-.3 .9-1.6-.2-1.3 .9-.8 1.5-1-.2-1.3 .3-2.3 3.2-.5 2 3.6 2.9 5.5 .3 6.3 2.5 4.2 .3 .5 3.4 2.4 2.7 2.3-.3 .8-1.2-.4-1.4-.1-1.4 .7-1.1 .3-1.1 1.2-1.3 1.1-.6-.8-1.7-.8-.8-1.2-1.1 .9-.6 .7-1.5-.4-1 .1-1.9-.5-1 1.3 .4 1 .5 2.1-.5 .8 0 1.5-.4 1.3 .7 1 .8 2.1-.2 1.5 1 .8 1.5-.1 1.8 1.2 .9 2 .2 1-.5 1-1.9 1.1-.8 1.6 0 .4 1.1 1.4 .6 0 1.4 1.6 .2 .5 1.2 1.7 1.2 .8 .8 .7 1.6 1.2 1 1.7 .6 1 .5 1.3 .6 0 1.2 1.5 .6-1 1.1-1 .5-.8 1-1.8 .2-.8-.3-1.3 1.2-1.3 .6-1 0-1.5-1-.9-.2-1.6 .5-1.7-.6-.9 .7-1.3 0-.7 1.1-1.5-.2-1 1.1-.5 1.3-1.1 .8-1.5 .8 .7-.7 1.6-.6 1.7-.1 1.2-.3 1.3-.2 .8-1.1 1.3-.3 1.1 1.2-1.1 1.1 .3 1.3 1.3 1.3 1.5-.5 1.2 .6 2 .6 1.6-1.2-.3 1.5-1.3 .6-3.9 1.2-3.2 1.6-1.1-.8 2.7-2.1-3.9 .6-1.3-1.3 0-2.2-.8-.4-1.4-.1-1.2 1.1-1.3 2.3-1.1 .5-5 0-2.5 1.3-.8 .9-3.8 .2 .5 .3-.2 .8-5.5 1.8-.9-.8 .9-.7 .2-.6-.2-3.7-1.5-.8 0-.4-1.6-.8-.5-.5-5.6-2.4-1.8 .5-3.9-.5-4.1-.6-.9-.5-43.7 0-3.1-2.5-1.3-1.2-.7-.6-2 .2-.7-1.6-3.2-3.6 0-2.1-3.1-1.6-2.4-2.4-3.1-2-3.2 1.2-2.3-1.7-3.2-.4zM216 96.7l1.1-.9-.1-1.2 1.5-1.1 .3-1.5 .9-1.3 1.8-.4 .4 1.7 1.3 .1 .6 1 1.3 .9 .7 1.7 .5 1-1.2 1.7-1.8 .1-1.4-.8-.8-1-1.4 .5-1-.6-1.1-.2zM107.6 91.6l1.4-.3 1.3 1 .7-.3 1.5 .5 1.4 0 .3 2 .9 .9-1.1-.7-1.2 .4-1.9 0 .5-2.1-1.2-.6-1.3-.4zM183.4 54.4l.9 .6 1.9 .7 1.2-.2 1-.1 1.3 .5 1.6-.2 1.2 1.3 1.5-.2 .3 1.1 1.7 .1 1.6 0 1 .6 1.1 1.2 1.1 .5 1.5-.2 .9 .6 .7 1.4 1.2 .3 .8 1 1.1 .6 1.4-1 .6 1.9 1.7-.2 1 .6 .8 .8-1.7 0-1 2.1-1.2-.2-1.7 .1-1.2-.8-1.5 .3-1.1-.7 .9 1 .8 1.5 1.9 .3 .3 1.3 .5 1.1-1.5 .5-1-.6-.6-1.3-1.9 .7-1-.8 1.6 .2 .8 2.2 1.5 .4-1.2-.6-1.6-.2-1.2-.4-1.2 .1-1 0-1.8 0-1.4-1.7-1.4 .4-1.1-1.6-1.4 .1-1.5-.7-1.5 .4-1.3-.6-1.2 .7 1.6-1.3 1.7 .2 1-1.2 2 .7 .8-1.6 .6-1.3 .1-1.5-1.1-.9-1.1-.5-1.2 .1-1.3 .1-1.2-1.4-1.2-.2-1.5-.1-1.3-.5-1 1.2-2.2-.9-1 .2-1.8-.9-1.7 .8-1.2-.7-1.8 .2-1.1-.6-1.4 .6-1.2-1-1.3-.5-.6-1.8-.5-.9 1.6-1.3 1 .6 1.5-1.3 1.5 1.7 1-.1 1.3-.4 1.4 .1 1.4-1 1.2 .1 1.2 .8 1.3-.3zM125.3 60.1l.9 1.1 1.6-.1 1.8-.6 .4 1.1 1.6 .1 1.6 .9 1 .3 1.6-1.1 .8 .1 1.1 1 1.8-.4 1.6-.6 1.9 .7 1.2-.5 1-.6 2.1 .2 .7-1.2 1.7 .3-1.2-1.4-1.2 1.3-1.2-1.1-1.1-.8-.5-1.2-.3-1.7-1.9-.8-1.3 .5-1.5-.4-1.3-.5-1.2 .4-1.2 .9-1 .5-1.1-.9-1.7 .8-.8-1.1-1.3 .8-1.4-1.2-1.9 .2-.2 1.7-1 .5-1.7 0-1.5 .5 .3 1.2 1.4 .4zM112 57.2l1.2-.5 1.5 2 1.2-.2 1.3-.3 1.8 .4 1.6-.6 1.1 .1 1.9-.7 .6-1.7 2 1 .7-1.1-.3-1.4-2-.7-1.2 .3-1.5 .1-1.8-.5-1-.3-1.7 .8-.9-.9-2 .2-.9 .7-.2 1.6-1.3 .2zM167.7 49.9l1 .3 1.6 .5 1.1-.4 1.5 .3 1.1-.5 1.6-.5 1.4 0 .9 .8 1.4-.6 1.2-.4 1.4 1.2 1.5-.2 1.3-.9 .5-.5 1.4-.7 1.8-1.4 1.3-.2 .9-1.1 1.5-.6 1.6 .5 .5-1.7 1.8-.1 1.2 1 1.2-.7 1.7-.5 1.3 .5 .9-.8 1.4-.4 1.3 .2 .9-1.3 1.6 1.2 .6-1.8 1.3-.3 1.4 1.3 .9-1-1-.1-1.6 .4-.9-1.1-1.6-.1-1.2 0-1.4 .2-.9 .3-1.6-1.1-.9 .9-1.7-1.1-1.5 .1-1.1 1.2-.9-1.2-1.4-.1-1.3 .9-1.4-.6-.9 .2-1.4-.6-1.2 .4-1.6-.2-1.3 1.1-.6 0-1.4 .2-1.2-1.2-1.4 .4-.9 .2-1.6 .9-1.2-1-1.6 .9-.8 .5-1.2-.1-1.3-.3-1.1-.3-2 .5-.9 0-1.5 1-1.6-.2 1.9-.3 .4 1.3 1.1 .6 1.7-.3 1.9 .4 .9 .4-1.2 .1-1 1.2-1 1.2-.9 .4-.6 1.2zM164.6 49.7l1.5-.4 .9 .7 1.8 0 1.5 .2 .9 1.7 1.5 .2 1.3-.6 1.2-.6 1.6 .5 1.2 .7 1.7 .9 1.3-.2 1.4-.6 1 .8 0-1.6-1.3-.2-1.3-.6-1-.2-1.3 .4-1.3-.1-1.4-.8-1.5 1.1-.7-1.1-2 .5-1.4 .4-.9-.7-1.5-.8-1.7 .1zM158.3 44.2l1.7-.3 1 2.2 1.7-.6 .6 1.1 1.9-.5 1 .9 1.6 .2 1.5-.3 .3-1.3 1.4-.5 1.5-.1-1.8 .4-1.1-.4-1.3-1.6-.8 .2-1.3-1.3-1.6 .3-1.2-.4-1.2 1.8-1.5-1.2-1.3 .6zM125.3 52l1.6 .4 1.3-.8 .6 1.9 1.7-.9 1.8-.1 .9 .8 1.4-.9 1.6 .8 .9-1.1 1.5 1.5 1.4-1.4 1.7 .8 .9-.7 0-1.6-1.5 .3-1.2-.8-.8 .7-1.7-1.1-1.1 .1-1-.7-1.9 1-1.4-.7-.7 1-2 .3-1-.8-1.4 .2zM148.9 55.6l.8 1.1 1.4 .4 1.6 .2 1.8-1 .9 1.9 1.3-.4 1-1.1 .6-1.1 1.6 0 .8 1.5 .7 0 1.6 .1 .8-.9 1.2-.3 .9-1.7 1.1-.4-1.5 .1-1 .2-2.1-.8-1 .7-1.5-.3-1.4-.4-1.8 1-1.4 .4-1.3-.9-2 .2-1.7 1.6zM145.8 52l1.2-.8 1.5 1.6 1.2-1.4 1.1 1.5 1.7-1.4 1.3 .3 1.4 .5 1.2-.6 .9-.1 1.7 .2 1.2 .5 1.3-.8-1.3-.7-1.1 .1-.8-1.3-1.3 .5-1 0-1.8 .5-1.7-.9-.6-.4-1.3 1.4-1.7-.6-.9 1-1.4-.1zM172.5 67.6l1.8 .6 1.8-.7 1.1 .5 1.6 .2 1 .3 1.3 1 1.1-.2 1.2 1.3-.6 1.3-2.4 .2-1.5-.4-.9 1.2-1.3-.3-1.8-.4-1.3-1.3-1.1-.1 1.5-.8 .8-.7-.7-1.5zM207.8 93l1.5 .4 1.4-.2 1.5 .9-1.2 .4-1.6-.5zM152.8 62.1l1.1-.7 1.8 .6 1 .9 1.1-.6 1.3-1.1-1.3-.4-1.7 .4-.9-.8-1.4 .1zM115.1 50.4l1.4 .5 1.8 .6 .9-.3 1.8-.9 1.2 .9 1.4 .2 .6-1.4 1.7-.1 1-.8-1.1-.9-.8-.4-2 1-.8-.9-2-.6-.7 1.4-2-.1-1.2 1.5zM143.4 47.5l1.7-.6 1.2 1.6 1-.4 1.6-.2 1.2-1.1 .8-.2 2 1 .7-.9-1.7-.4-1.4-1.1-1.1 .8-2-.7-1.2 1.1-1.2-.6zM154.4 47.5l1.3 .4 1.8-.3 .8-1.4-2.3-.2zM181.9 54.6l1.2 .3 .9 .1 1.5 .2 1.1 .7 1.5 .5 1.6-1-.7-.9-1.6-.2-1.7-.5-1.5-.1-1.4 .1zM187.4 64.3l.7 .9 1.6-.4 1.1-1.1-1 .2-1.3-.7zM178.7 71.9l1.4-.6 1 1.1 1.4 .1 .9 .7-1.5 .7-1-.5-1.4-.3zM180.3 87.8l2.1 .5-1-.8zM183.4 81.7l1.3 .9-.8 .5zM134.8 47l1.8-.2 1.3 .8-.8-1.1-1.2-.1zM157.5 51.4l1.2 .5 2-.2 1.5 1.1-1.5-.3-1.2 0-1.2 0zM196.8 62.9l2.4 .3-.8-.8zM128.5 47.6l1.3 1 1.8-.5-.8-1-1.4-.6zM101 86.4l.6 .8 .5 1.1 1.2 1-1.5-1.3zM104.9 83.9l-1.6 .5-.7-1.3-1.1 .5-1.3-1.3 .8 1.6 1 .6 1.9 .2zM99.4 81.5l-.5-1.7-1.8 .1-1.6 .3 1.8 1 .6 1.1zM107.3 88.8l-.1-1.5-1.5-.1-1.1 .3 1.4 1z"/>
<path d="M115.9 94.5l43.7 0 .9 .5 4.1 .6 3.9 .5 1.8-.5 5.6 2.4 .5 .5 1.6 .8 0 .4 1.5 .8 .2 3.7-.2 .6-.9 .7 .9 .8 5.5-1.8 .2-.8-.5-.3 3.8-.2 .8-.9 2.5-1.3 5 0 1.1-.5 1.3-2.3 1.2-1.1 1.4 .1 .8 .4 0 2.2 1.3 1.3-3.2 1.5-1.9 .6-.7 1.5 1.1 1.4-1.4 .2-1 .5-1.6 .4-.8 .3-1.5 .4 0 1.6-1.6 1.3-.8-.9 .6 1.9-.9 .7-.5 1.4 .3 .8 .5 2-1.4 .4-.9 .7-1.6 1.1-1.9 1.2-2.8 1.9-.6 2.1 1.4 3.6 .7 2.8-.3 2.4-1.4 .3-1.1-1.8-1.4-2.4-.1-2.1-1.8-1.6-2.2 .5-1.9-1.2-2.3 .2-1.9 0-.5 1.6 .5 .3-2-.1-1.6-.7-3.6-.1-1.6 .6-2.7 1.6-1.2 1.6 .1 2.2-2.9-.7-.7-1.8-1.5-1.9-1.5-1.8-2 .2-.8 1.1-2-1-.8-1.8-2.4-1.7-2.6 0 0 .7-4.5 0-5.9-1.9-3.6 0-2.1-2.3-3.4-.9-2.1-3.4-.9-2-2-2.7-.8-1.5 .3-2.6-.6-1.4 .7-3 0-2.6-1.3-.9 1.6-1.8-1.4-.7 1.3-.5 1.4 .9 .8 1.1-.3-1-.2-1.4zM87.6 61.1l-4.7-.7-6.3-.6-6.2-.8-7.3-.7-3.7 .8-4.7 1-2.4 1.5-4.7 1.4 3.9 1.3 3.2 1.3-3.2 .5-6.3 1.5 3.2 1.7 4.7 0 3.1-.4 0 2.1-5.5 .8-2.3 2.2 .1 1.4 1.4 .4 1.1 .4 1.4 .5 1.5-.1 .8 1.7 1.4 1.3 1.7-.9 1.2 .7 1.6-1.7 1.1 1 .7 1.2-1.5 1.1-1.1-.2-.5 1.6-1.4 .1-.9 .6-.4 1.1-1.7-1.2-1 1.3-1.4 .9-.6 .6-1.8-.4 1.4-.6 1.6 .3 2.2 .3 .9-1.1 1.1-1.4 2 1.6 .9-1.4 .6-1.4 1.6-.2 1.2-.2 .9-1.1 1.3 .5 1-1.3 1.6-.6 .4-1.7 .2-1.6 1.4-.2 1.5-1.2 1.6 .6-.9 .6-.2 1.7-1.2 .8 1.2 0 1.2-.4 1.5-.8 1.4 0 .6-.5 1.1-.9 1.4-.6 1.8 1.4 1.3 .6 .8 .2 1.2-1.1 1.4 .9 1.4 1.2 1.7-.7 1.1 1.2 1.2-.7 .9 .7 1.1 1.6 1.2-.5 .8 1.4 1.6 .7 .4 1.4 .9 .9 1 .1 1.4-.2 1.8 1 2.3 .5 0-2.1-3.1-1.6-2.4-2.4-3.1-2-3.2 1.2-2.3-1.7-3.2-.4zM66.4 80.7l2.2-.2 1-.6 .3 1.1-1.3 .2-1.4 .6zM39.7 70.6l4 .7-1.6 .5-2.7-.5zM46.8 76.3l2 0-.4 .7zM49.6 85.4l-.8 .1-.8 .6 .8 .1zM47.4 86l-.8 0-.8 .6 .8 0zM45.2 86.4l-.8 0-.8 .6 .8 0zM43 86.8l-.8 0-.8 .6 .8 .1zM40.8 87.2l-.8 0-.8 .6 .8 .1zM38.6 87.6l-.8 0-.8 .6 .8 .1zM36.4 88l-.8 .1-.8 .6 .8 0zM34.2 88.5l-.8 0-.8 .6 .8 .1zM32 89l-.8 0-.8 .6 .8 .1zM29.8 89.5l-.8 0-.8 .6 .8 .1zM27.6 90l-.8 0-.8 .7 .8 0zM580 88.1l1.6-.1-.8 .5zM589.5 89.8l1.8-.4-1.1 .9zM587.1 89.6l1.3-.2-.7 .5zM27.2 90.4l1.5-.3-.7 .6zM64.1 141.2l1.9 1.1-1.3 1-.6-1.2zM60.6 138.9l.8 .5-.6 0z"/>
<path d="M178.9 160.8l0-1.5 .5-1 1.7 1.3 2.3-.6 1.6-.7 1.7 1 .9 .6 .2 1.2-1.1 1.1-.7-1.8-1.8-.9-1.2 1.1 .4 1.5-1.5 .1-1.1-1.4z"/>
<path d="M175.8 138.4l2.9-1.8 3.2-.1 3.1 1.1 3.2 1.4 2.3 1.3 2.1 .9-1.3 .4-4.2 .1 .7-1-2-.8-2.4-1.2-2.8-.8-1.9 .3-1.5 .4z"/>
<path d="M192.2 143.7l3.3 0-.7-1.2-1-.7 2.7 0 0 2.9-1.3-.3-3-.2z"/>
<path d="M196.5 141.8l2.7 0 2.5 1.9-1 .5-2.3 .2-1.4 1-.5-.7z"/>
<path d="M186.1 144.2l3.2 0 .1 .7-2 .1z"/>
<path d="M227.9 167.1l1.6 3.4 1.2 1.8-1.5 1.9 2.6 0 1.6 1 1.9-.2 3.9 1.8 .3 1.3 2.1-.3 2.6 .8 2.9 .2 1.5 1.1 1.9 1.6 3 .8 .8 2.9 0 2.5-1.4 2.1-2.2 2.3-2.1 2.9-.8 2.4 0 3.2-.3 2.5-1.2 3.2-1.6 3.1-1.6 1.6-2.3 .2-2.4 1.1-2.3 .8-2.9 2.1-.4 2.5-.3 2.4-1.9 2.4-2.4 2.9-1.4 1.7-1.6 1.4 0-1.4-1.7-1.8-2.4-1.3-2.5-1.1 3-3.1 3.2-2-.2-1.4-1.4-1 .1-.2 .5-2.4-2-.2-.7-2.6-2.9-.3 0-2.2-.5-1.5 .6-1.3 .3-1.6-1.2-1.3 .1-1.5-3 0-.1-2.9-1.1-1.6-2.8-.8-2.5-1-1.5-1.5 0-2.7-1.8 0-3.2 1.9-1.6 0-1.7 0 .2-2.4-2.7 .8-1.3-1.3-.3-2.9-1.2 0 1.5-3.4 .4-.3 4.4-1.3 .1-.2 .8-5-.9-1.5 0-1.1 .9-.2 .3-.6-.9-.2 0-1 2.8 0 1.7 .9 2.2 .6 3.3-2.3-1.5-.5 .6-2.5 1.9 .1 3.3-1 0-.9 .9 .1 .8 1.8-.6 .8 .1 2 .2 1.6 1.5 .2 2.4-1.2 1.3 0 .9 0 2.2-.6 2.4 .1 .7-.6z"/>
<path d="M270.6 67.7l1.2-.9 2-.5 1.6-.3 .9 .4 1.4 .5 1.5 .3 1.3-.6 1.7-.6 1.8 .1 2.3 .5 1.4 1.6-.6 1-1.6 .5-1.6 .5-.9-.1-2 .6-1 .4-1.3-.5-1 .6-1.6-.7-1.3 .4-1.4-.4 1.1-1.2-2-.1-1.1-.5z"/>
<path d="M347 67.2l1.8 1.3-1.2 1.2-.5 1-1.5 .8-1.2 0-.7 1.2-1.1-.1 .4 1.1-.3 1.3 .3 1 1.4 .6 1.6 .2 1.3 .6 .5-1.5 1.3 .4 3.7-.5 1.8-1.1 4-2.8-2.4-1.4 .3-1.6-.8-2.1-1.1-1.3 1.6-1.3-2.3-1.3 .6-.9 .6-.9-2.2-.8-3 .6-.4 .8-1.3 1-3-.2-3.1-.5-.6 0 2.9 1 2.4 1.5-.6 1.6z"/>
<path d="M306.3 103.5l-2.7-.1-3.1-.2-4-.1-1.9 .9 .7 1.8 .9-.1 2.5 .3 .7 .5-1.1 .9-.2 2.1-.6 .5 .6 2-.6 1.6 1.5 .6 .7 1 .9 .2 1.6-1 3.4 0 1-1.3 1.4-.1 1.4-2-.8-1.1 1.8-2.3 2.2-.8 1.5-.8 0-.8-2.3-.2-1.6-.5-1.9 0zM312.9 109.7l1.2-.5 .2 .8-.8 .2zM282.7 127.9l1-.2-.5 .8zM284.3 128.5l.6-.2-.1 .5zM286.8 127.5l.6-.3-.1 1zM280.8 127.2l.5 0-.2 .5z"/>
<path d="M320.9 102.9l2-1 2.2 .8 .5 1.7 2 1.3 1.1 .9 2.1 .5 1.1 1 1.7 1 .6 1.6-.5 1.6 1.3-.6 1-1-1-1.2 .8-1.3 2.2 1.2 .2-.5-.8-1-2.2-.8-.7-1.1-1.8-.2-.5-.7-1.1-.6-.8-1.3-1.6-.9-.3-1.7 1.3-.8 1.1 .2-.3-1 .1-.5-2.3-.8-2.7 .2-.6 .8-1.3 .1-1.3 0-.9 .7-1.7 0 .3 1.1 0 1.5zM328.6 112.5l1.4-.5 3.6 0-.8 2.4-2.5-.8zM322 107.6l1.5-.5 .8 1.1-.1 2.2-1.8 .4-.1-1.7z"/>
<path d="M328.4 92.4l3.2-1.2 1.1 0 2 .7 .9 .3 2.7 .8 .4 .7-1.8 .9-1.3 .5-2.9-.6-1.9 .3-2.1-1.8z"/>
<path d="M331.4 86.5l3.6-.9 2.8-.5 2.1 .6 5 0 1.1 .8 .6 2-.4 .9 0 .9 .7 1.3-2.3 2.7-.2 0-3.9-.2-1.8-.4-.4-.7-2.7-.8-.9-.3-2-.7-.5-.8-.2-1.6-.3-1.1z"/>
<path d="M335.6 95.1l1.3-.5 1.8-.9 1.8 .4 3.9 .2-.6 1.1-2.5-.1-2.7 1.1-2.6-.3z"/>
<path d="M336 96.1l2.6 .3 2.7-1.1 2.5 .1 1.3 .7-2.7 2.7-1.4 .4-2.4 .3-2 0-1.6-1-.8-.3 .8-.5z"/>
<path d="M330.5 99l.1-.5 1.4 .2 2.2-.5 .8 .3-1.4 .5-.5 1.1-2.6 0 .3-.1z"/>
<path d="M330.5 100.1l2.6 0 .5-1.1 1.4-.5 1.6 1 2 0 .3 1.1 0 .5-3.1-.5-1.9 0 0 .8 .6 .9 2.2 1.9 1.5 .6 0 .2-1.6-.6-.8-.7-1.6-.3-1.2-1.1-1.1-1.7-.8 .5-.6-.3z"/>
<path d="M333.9 100.6l1.9 0 3.1 .5 .7 1.2 .1 1.1-1.5 1.4-1.5-.6-2.2-1.9-.6-.9z"/>
<path d="M338.9 100.6l-.3-1.1 2.4-.3 1.9 1.4 1.7 1.7 .5 1.6-.8 1.4-1.4 .2-1.4 .5-.8-1.2 .3-.4-1.3-1-.1-1.1-.7-1.2z"/>
<path d="M338.2 105l0-.2 1.5-1.4 1.3 1-.3 .4-1.1 1.2z"/>
<path d="M339.6 106l1.1-1.2 .8 1.2-.2 1.1 .8 .7-.5 .9-1.1 .8-1.1-1.3 .3-1.6z"/>
<path d="M341.3 107.1l.2-1.1 1.4-.5 1.4-.2 .9 1.7-1.5 .3-1.6 .5z"/>
<path d="M344.3 105.3l.8-1.4-.5-1.6 2.2 .8 4.7-.7 2.5 .7-.9 2.7-3.2 .5-2.3 .3-2.4 .4z"/>
<path d="M341 99.2l1.4-.4 2.7-2.7 3.1 .5 2.7-.8 2.3 2.2 .2 2.1 2.2 .4-1.6 2.6-2.5-.7-4.7 .7-2.2-.8-1.7-1.7z"/>
<path d="M350.9 95.8l1.9-.4 2.2 .9 1.2 2.4-1.7 .8-1.1 .6-.2-2.1z"/>
<path d="M343.8 95.4l.6-1.1 .2 0 2.3-2.7-.7-1.3 2.2-.5 3.9 .6 4.9 .3 .6-1.3 4.4-.4 2.7 3.2 3.9 .8 3.1 .5-.3 2.8-2.5 1.3-1.9 .4-3.1 1 .8 1.5 1.7 0-2.5 .8-2.4 .6-1.6-1.6 1.8-1.1-2.5-.7-1.9 0-1.9 2-2.2-.4 1.1-.6 1.7-.8-1.2-2.4-2.2-.9-1.9 .4-2.7 .8-3.1-.5z"/>
<path d="M346 86.5l3.6-1.6 1.3-1.3 2.5-.6 4.2 .8 2.9 3.5-2.2 .5-.5 1.6-.6 1.3-4.9-.3-3.9-.6-2.2 .5 0-.9 .4-.9z"/>
<path d="M342.4 84.4l-.2-1.4 2.9-.5 3.3 0 2.5 1.1-1.3 1.3-3.6 1.6-1.1-.8-.1-1z"/>
<path d="M342.2 83l0-1.5 1-1 1.4-.1 1.1 1.1 1.2-.2 .4-1.3 1.5-.1 3.3 .8 .7 .5 .6 1.8-2.5 .6-2.5-1.1-3.3 0z"/>
<path d="M357.5 60.8l-3 1.2-.6 .9 2.3 1.3-1.6 1.3 1.1 1.3 .8 2.1-.3 1.6 2.4 1.4-4 2.8-1.8 1.1 1.5 .4 1.1 .5-2.3 .8-1 1.1 .2 1.6-.2 .5 .7 .5 .6 1.8 4.2 .8 2.9 3.5-2.2 .5-.5 1.6 4.4-.4 2.7 3.2 3.9 .8 3.1 .5-.3 2.8-2.5 1.3 1.7 0-2 1.7-.8 1.2-1.4 .3 2.2 1.3 2.7 1.4 .4 0 3.9 .4 2.4 .9 2.4 .2 1.5 1 2.1 1.1 1.2-1-1.7-1.9 0-2.4-1.3 0 1.3-1.8 2.4-1.2 .3-.1-1.1-1-2.4-1.6-.8-.8 1.6-2.9 1.9-.5 3.3-1.8 3.4 .3 3.2 1.3 4.7-.5 5.5 .4-2.4-2 1.6-3.1 6.3-.8 6.3-1.4 3.1 1.7 3.9 .4 4.7-.4 2.1 1.5 3.4 4.1 4.8-.4 3.1 2.3 3.6 .6 .8 0 .3-1.2 2.7 0 3.6-1.3 4.7 1.3 4.7-.9 .5-2.4 5.8 1 .3 1.4 6 .4 3.9 1.4 3.9 0 4.7-1.3 4.3 .7 1.7 .5 2.4-1.3 1.1-2 1.1-1.8-1-1.1 5.4-.3 3.9 1.1 2.3 4.2 4 2.1 1.5 2 3.2-.7 2.7-.3-2.7 5.2-2.7 .3-.5 3.1-.6 1 2.2-1.3 1.9 .6 1.1-.9 .5-.1 .8-1.1 1.2-.5 .5-1 1.2-1 .7-.6 3.1-2.4 2.4-3.2 0-3.3 1.4-2.7-3.8-1.7-3.1 .4-2.9-1.2 4-2.4 4.4-2.6 3.9-2.4 4.7-.2 4.7-.3 4.7 1 4.7-.5 3.2-3.8 4.7-.4 4.7-1 2.4 .1-2.1 2.3-1.9 1.6-3.1 .9-2.4 2.4-2.5 1.6-1.9 3.2 .5 4.1 1.1 2.6 3-3.4 2.2-.3 0-2.1 3.1-.5 .2-2.3 1.9 0 0-2.6-1.3-.3 .8-1.6 3.1-1.7 1.6-.4 6.3 .4 .5 .2 2.6-1.8 4-1.3 4.7-1.1 3.1 0-3.9-3.3 2.4 0 1.3-.4 1.5-.7 1.1 0 1 .7 1.6 .3 1.6-.6 1.3 .7 1.4-.2 1.1 .9 1.4-.3 1.2-.9 1.1-.7 .9-.6 1.5-.6-.9-1.1-1.4-.2-1.5-.8-1.6 .4-1.4-.1-1-.6-1.4-.9-1.5-.1-.7-.7-1.8 .1-1.4-.5-1.1-.3-1.3 0-1.6-.2-.7-.8-1.2-.4-1.5 .1-.9-.4-1.4 .7-1.8-1-.8-.1-1.8 1.1-1.1-.7-1.6 1.3-2 .2-.6-1.1-2.1 .3-1.2-.6-1.3 .1-1.8 1-1.2 0-1-1.1-1.4 .6-1.7-1.1-1.4-.4-1.6-.5-1.1 .6-1.4-.1-1-.8-1.3 .8-1.5-1.1-.7 .1-1.4 .9-1.3-.5-1.3-.2-2.1-.7-1-.9-1.3 .1-1.4-.1-1.2-.2-1.6-.7-.6-.2-1.8 .9-1.2-1.2-.9 .5-1.3-.7-1.6 1-1.2-.7-.4 1.3-1.2 .8-1.5-.3-1.2 .9-2-.4-1.2-.2-1.2-.4-1.1 .2-1.2-.1-1.6 .3-1.5-.3-1.3 .3-1.9 .8-.8-.9-.8-1.5-1.7-.3-1.4-1.3-1.2-.4-1.2 .7-1.9 .2-1.2-.1-1.1 .7-1.5-1.1-2 .9-1.3-.8-1.2 .7-1.1 .1-1.4 0-1.7-1.3-1.1 .3-1.2-.5-1.4 .4-1.5-1.5-1.9 .9-1-.1-1.8 0 1.2-1.2 1.3-.3 1.2-.5 1-.4-1-.1-2-.6-1 .1-1-.3-1.3-1-1 .2-1.6-1.4-.8 .2-1.3 .5-1.6-.8-1.1-.4-1.2 .9-1.7-.1-.9 1-1.7-.7-1.2 .9-1.4-.4-1.6 .5-.9 .3-1.4-.6-1.2 .3-1.4 .4-1.2-.5-2 .9-.9 .1-1.7 0-1.2-.2-1.1 1.5-1.5-.6-1 1.4-1.4-.4-.7 .7-1.4 .7-1 .2-.9 .8-1 1-1.5 .2-.5 1-1.6 1.1-.7-.7-.6-1.7-.6-1-1.1 .9-2-.7-.8 .8-.2 1.4 .7 2-.1 1.2 .6 1.3 .1 1.2-.1 1.2-1-.9-.9-1.1-.4-.9-.5-1.4-.1-1.6-1.2-.3-.8-1.5-1.4-.6-.3 2-.7 1.4-.9 1.5 .5 1.4-.7 1.5-.5 1.4-.9 .5 0-1.7-.9-.7 .8-1.6 .3-1.4-.9-1.4 .7-1.4-.6-.8-1.1-1-1.3-.7-1.1 .8-.8 0-1 1.6-1 .1-1.1 .6-.1 1.6-.7 .7 1 .7 .9 1.7-1.2 .1-1-.4-1.5-.9-1.3 .2-1.6 .2-1.6 0-.8-1.3-1.8 .8-1.3-.6-.8 2.1-1-.3-1.6 .8-1-1-1.9 .3-.7 .6-1.6-.4-1.4 .1-1 .3 .8 1.2-1.4 .4-1.1-1.1-1.5 .2-1.3 .1-1.1 .5-1.4-.8-1.6 .5-1.2 .1-1.3-1.4-1 .1-1.2-.2-1.1-.2-1.6 0 .3 2 .8 1.4-1.4 .6-1.7-.4-1.5 1-.6 1.4-1.1 .5-1 .6-1.8 .6-1.1 .1-1.1 .3-1.4-1.4-1.4 .3-.9-1.6 .1-1.2-.9-.9-1.5-.2 1.8-.1 1.4 .2 1-.2 1.9 .6 .7-.3 1.5 .3 1.3 .5 1.4 0 1.4-.7 .7-.8-1.3-1.3-1.3-.2-1-.5-1.4 .1-1.1-1.5-.7-.1-1.6 .1-1.8-.5-.9-.4-2 .2zM339.9 85.7l2.5-1.3 2.4 .3 .1 1zM390 58l1 .9 1.3 .4 1.3 .2 .6 .5 1.3 0 1.2-.2 .6-1.2 1 .6 1.1 .1-.3-.9-1.2-.5-.4-1.1-1.2-.4 1-.6-.2-1.5 .7-.9 1.6 .4 1-.8 .7-.4 1.2-1.4 1 .3 1-.2 .9-.3 1.1 .5 1.6-.2 .9-1.2 .7 .1 .9 .2 1.4 .3 1.2 .2 .6-.3 1.6 .2 .7-.9 .8-.8-1.3-.7-.7 .6-.8 1-1.6-1.4-.4 .9-1.3-.9-1 .8-1-.2-.9 .7-1.3 .3-.9-1-1 .4-.9 .5-1.4 .9-1-.1-1-.2-1.4-.1-.4 .6-1 1.4-1.1 .2-.8 .3-.4 1.1-.9 .6-1.1 .8-.8 1.2-1.7 .2zM379.8 42.7l1-.9 1.5 1.2 .7-.6 1-.4 1.2 .3 1.5-.8 .7 .1 1.2 .7 .9 .2 1.7-.2 .8-.7 1.3-.7 .5 .4 1.4 .8 .8-.3 .9-1 1.2 1.1 1.1-1.1 1.2-.1 1.2-.6 .7 1.6 1.4 .3 1.3-.5 1 .1 1-.1 1.1 .7 1.1-.2 .7-.3 .9 .1 1.3 .4-.8 .6-1.2-.5-.4 1.6-1.5-.2-.8-.8-1.5 1.2-1 .1-.9-.6-1.1 .6-1.5 .5-1-.4-1.3-.5-1.1-.3-.7 .9-1.3-.6-1-.6-1.7 .3-.8 .8-1.1 .6-1-1.5-1.7 1.2-.7-.9-1.4-.1-.8 1.3-1.1-.6-1.4 .2-.7-1.2-1 .7-1.1-.7zM451.2 41.9l1.3-.3 1.7 .1 .8-.7 1.6-.4 .9 1.1 1.5-.5 1.2 .1 2 .8 .8 .9 1 1.1 2-.2 .8 .8 .8 .6 1.9-.4 1.2 1.1 1.3-.4 .7 .8 1.6-.7 1.2 1.2 1.1 .2 1.2 .1 1.3 .7 .9 1.2-1.5-.2-1.1-.4-1.1 .2-1.7 0-1.7-.9-1.7 .1-1.2-.3-.9 .2-1.7 0-1.4-.8-1.1 .1-1.3 .4-1.6-.6-1-.3-1.7-.6-1.3 .2-1-.6-.8-.7-1.7 .4-.7-1.2-1.6 .1-.2-1.1zM524.3 51.5l1-.6 1.4-.5 1.1-.3 1.2 .3 .9-.2 1.8 .9 1.5-.7 .8 .7 1.2-.4 1.6 0 1.5 .6 1-.6 1.8 .7 .9-.1 1.2 0 1.5 .5-1.2 .4-1 .5-1.7 .1-1.5-.6-.9 .4-1-.4-1.8-.2-.8 .1-1.2 .1-1.5 .1-1.1 .4-2.2-.4-1.4 .5-1.8-.1zM529 54.8l1.8-.7 1 .6 1.9-.3 0 .8-1.6-.5-1.3 .4zM540.8 51.8l1.4 .5 2 .2 1.3-.5-1.1 .7-1.3-.1-1.3-.2zM589.5 58.3l2-.4 1.4 .6 1.3-.5 1.2 .8-1.2 .2-2.1-.2-1.1 .3zM532.1 85.9l1.6 1.3 .5 3.2 1.1 3.7-1.6 3.9 .8 1.3-2.4-.8 0-3.2 0-3.3-.4-3.2zM537.6 102.7l1.6-.9 3.1-1.8-2.3 1.3-1.5 .7zM543.9 99.5l1.6-.7-.5 .7zM547 98l1.6-.9-.5 .6zM549.4 96.1l1.6-1.5-.5 .8zM551.9 94l1.6-1.6-.6 1.1zM553.3 92.5l1.1-.9-.1 .9zM385.3 61.6l2.3 .1-1.1 .8zM401.8 59.9l1.1 .9 1.2-.2-2.3 .3zM569 84.3l1.3 .3-.5 .6z"/>
<path d="M371.9 103.5l3.9 .4 2.4 .9 2.4 .2 1.5 1 0 1.3-2.3-.3-2.4 .3-1.4-.8-1.7 .1 0-1.4z"/>
<path d="M377.4 107.3l2.4-.3 .8 .9 1.5 2-.4 .9-1.9-.8-.3-.5-1.8-.8z"/>
<path d="M379.8 107l2.3 .3 0-1.3 2.1 1.1 1.2-1 1.4 2 1.3 .5-1.6 1.6-.6 1.5-1.4-.7 0-1.5-2.4 1.3-.4 0 .4-.9-1.5-2zM379.5 109.5l.3 .5 1.9 .8-1.1 0z"/>
<path d="M322.6 114.1l1.9-.7 1.9 .5-.8 1.2 .8 1.7-1.4 1.5 1.2 1 1 .8 0 1.1-1.9 1.2-.2 1.7-1.1 .7-.8-2.9-2.3-2.8 1.1-1.9 .1-2.5z"/>
<path d="M376.8 153.3l.3 1.3-.8 .5 .6 .2-.6 .9-1.6-.1 0-1.3 1-1.2z"/>
<path d="M376.3 156.2l.6-.9 2.1 1.7 2.3-.6 2.4-.7 2.4-.1 3.4-.9-.3 2.2-.5 1.9-1.9 2.9-2.3 4.1-2.4 3.2-3.1 2.5-2.4 2.4-2.2 2.8-.9-1.3 0-6 1.4-1.9 .2-.4 2.6-.8 2.1-.5 4.7-4.9-1.6 0-4.7-1.6z"/>
<path d="M326.5 180.2l-2.3-2.4-1.3-2.8 .8-1.9 .8-.8 2.3 0 0-2 3 0 .2 1.5 1.9-.2-1 1.8 1 1.5-.2 2.1-3 .6-1.5 0 .6 2z"/>
<path d="M348.8 202.8l0 1.1 1.4 1.6 2.4 1.6 .5 1.8 2.2 1-3.8 2.3-.3 1.1-2.1 2.3-3.9-.7-2 2.4-1.6 0-1.1-3.2 0-4.5 1.6 0 0-6 3.6-.5z"/>
<path d="M327.6 201.9l1.1 2.5 3.2 6 0 2.4 .8 4.1 2.3 3.4 1.6 .1 2.3 .3 1.6-.8 0-5.8 0-4.5 1.6 0 0-6 3.6-.5 3.1-.3-2.9-.4-3.8 .5-3.9-.8-7.1 0-1.6-.6z"/>
<path d="M335 220.3l1.3 3 1.5 3.3-.4 .8 .6 1.9 1.7 .8 .8 .2 3.2-1.1 3.1-.2 2.7 0 2-.8 2.4-1.6 2.3-2.4 1.6-2 1.6-1.8 .7-.6 .7-2.4-1.3-.1-.6 .9-1.1-.2-.3-.7 .9-1.6 1 .3-.2-1.6 .2-1.6-1.1-2.6-3-.3-3.8 2.3-.3 1.1-2.1 2.3-3.9-.7-2 2.4-1.6 0-1.1-3.2 0 5.8-1.6 .8-2.3-.3z"/>
<path d="M351.5 221.9l.9-1.3 1.6-.3 1.3 1.1-.3 1.6-1.6 .7-1.4-.7z"/>
<path d="M362.8 123.2l1.1 2.9 .8-2.5 .2-.8 .1-1.9 .3 0-.1-1-1 .3-.6 1.8z"/>
<path d="M405.8 133.1l3.8-.2 3.9-.2 .8 1 1.9 1.8 1-1 3.4-.5-1.6-3.1 .7-2.4 2.3 .2 1.6-1.8 .8-1.5 1.7-1.8 1.4-2.1-1.7-1.1-.8-2.1 1.9-.5 3.1-.6 1.3-.8-2.8-.9-.4-1.4-1.4-.6-2.9 .6-2.9 1.3 .7 1.3-.8 1.9-1.3 1.2-1.2 .4-.4 2-2.5 .8-2 .6-.2 1.8-3.6 .7-2.3 .1-2.6-.7 3 2.7 .8 1.6-.1 .8-2.2 .8z"/>
<path d="M448.7 129.6l1.3 1 3.6-.1 .2-1.7-.8 0-2.9-.6z"/>
<path d="M434.6 158l2 2.1 1.1 2.5-.9 1.2-1.7 .4-.7-2.5 .2-2.4z"/>
<path d="M454.1 140.3l.4-1.9 .7-.2 .6-1.7-.2-1.5 2.2-.3-.1-1.3 .9-1.8 2.8-1.6 .5-1.8 1.6 1 .6 2.7-1.7 1.8 .3 1.5 1.9 1.3 .5 1.6 1.4 .9 1.5 .5-1.7 1.5-2.5 1-1.3 1.9 1.5 3.7-.7 1.7 1.6 2.4 0 2.7-.8 3-.3-2.1 .3-1.6-.1-1.7-1-1.6 .2-1-.5-1.4-1.3-1.7-.7 .9-1.9 1.1-1.6-.3 .5-1.4-.2-1.1-.5-2.1-1.1-1.6z"/>
<path d="M464.1 157.4l.8-3 0-2.7-1.6-2.4 .7-1.7-1.5-3.7 1.3-1.9 2.5-1 .6 1.3 1.1 0-.3 2.4 .3 .8 1.5-.9 .9 .3 2-.7 1.3 1.5 0 1.8 1.3 1-.2 1.9-.5 .3-3.1 0-1.1 1.2 .6 2.9-1.4-1.2-1.6-.3-.1-1.3-1.4 .2 .3 .8-.3 1.4-.5 1.6-.8 .9 .2 1.9 1.5 1.3 .3 2 1.6 .6 1 1.1-1.6 .9-1.4-1.3-.8 0-.9-1.1-.2-1-1.1-.4 0-1.6z"/>
<path d="M466.3 141l1.7-1.5 1 0 .6-1.9 0 1.4 1.3 1.2 2.2 .5 .8 .8-1.5 .8 1.9 1.9 .5 1 1.9 2.1 1.2 2 0 .8-2.3 .5-1.3 .1 .5-.3 .2-1.9-1.3-1 0-1.8-1.3-1.5-2 .7-.9-.3-1.5 .9-.3-.8 .3-2.4-1.1 0z"/>
<path d="M470.7 154.8l-.6-2.9 1.1-1.2 3.1 0 1.3-.1 2.3-.5 0 3.9-2.3 .9 .1 1.2-1.5 .1-1 .8-1.4-.1-.8-.8z"/>
<path d="M458.8 164.8l1 .5 1.5-.5 .9 .7 1.2 .7 .7 1.5 1.8 1.2 .7 .9 1.9 .9 1.1 .2 .7 1.6 1.4 .6 .5 .9-.2 1.5 1.2 1.5 1.4 .4 1 1.4-.5 1.3-.1 .6 .4 1.2 0 1.4-2 .2-1.2-.7-.4-1-1.5-.6-.5-.8-1.3-.9-.2-1.2-.7-.8 0-1-1-1.1-1.1-.9-.9-1.4-1.1-1-.3-.7-.2-1.2-1.1-1.4-1.2-.9-.4-1.1-1.1-.5zM474.3 184.9l1.6-1.3 1.5 .8 1.1 .5 1.2 0 1.8-.4 1.1 .6 .8-.8 1.4 .7 1.3 .2 1.5 1.3 1.2 0 .1 1.5-1.2 .1-1.3-.1-.8-.9-1.4 .3-1.1-.7-1 0-1.3 .1-1-.4-1.1-.3-.9-.4-1.4 .2-1.1-.4zM481.2 170.7l.2 .6 1.2 1.1 .8-.1 3.2-.7 2.5-.1 1.4-2.5 .8-2.1 2.5 .2 .6 3.2-.3 2 1.9 0-.9 .6-.6 .9-.9 1.4-1.5 1.1 .2 1.5-.7 1.8-1.9 .8-.8-.8-.9-.1-1.4-.3-2.1 .4-1.3-.4-1-.6 .3-1-.6-1.6-1.2-1-.4-1.6 0-1.9zM497.3 172.6l1.7-.8 1.3 .4 1.3 .3 1.5-.1 1.3-1.1 1-.2-.4 .8-.4 1.4-1.4-.5-1.5 .6-1.4 .2-1.2-.5-.7 .8-.4 1.5 1.9 0 1.6 .1 1.3-.1-1.4 .5-1.3 1.1 .3 1.1 .8 1 1.1 1.3-.5 1-1.1 .1-.8-1.1-.2-1.5-.7-.6-.8 .5 .2 1.4 .1 1-.3 1.6-1.4 0 .3-1.9-.5-1.3-.9-1.3 .1-1 .3-1 1-1.2 .2-1zM488.9 187.2l1.9 .3-.8 .7zM491.3 187.4l1.1 .1-.3 .8zM492.5 187.7l1.1 .2 1.3-.6 1.1 .2 0 .7-1.9 .2-1.2 .1zM497.4 187.7l1.3 .3 1-.3 1 .1 1.6-.4-.3 .6-1 .5-1.4-.7-.9 .9-1.1-.4zM496 189.3l1.1 .8 1.7 0-1.2 .3zM503.1 190.6l.5-1.1 1-.7 .8-.3 0 1-1.5 1.1zM509.3 171l.8-.7 .6 .9 .5 1.1-1.1 1.6 .8 1.3-1.1-.8-.5-2.1zM510.1 178.8l1.1-.2 .8 .6 1.5 .1 1-.2-.4 .8-1.6 .3-1.1-.3-1-.3zM507 179.1l1.9 .1-.8 .9zM530.6 178.1l0 10.6-1.8-1.7-1.8-.1-.8 .6-.8-1.8 1.5-.6-.3-1.6-.8-.7-1.2-.2-1.2-.8-1.5-.8-1.3 .1-1.8-1-1.1 .3-1.3-1.8 1.1-.6 1.6 0-1.6-.2-1.1-.7-1.6-.9 0-1 1.4-.7 1 0 1.1 .8 1.3-.1 .3 1.9 .4 2.1 1.6 .2 .3-1.2 1-.7 .8-.7 1.5-.5 1.3 .4 1.4 .8zM474.5 176.5l1.6 .2 .3 2.1-1.1-.4zM478.1 178.1l1.1 .2-.5 .8zM461.4 171.6l1.3 .8-.5 .5zM464.1 175.5l1 1.2-.7 .1zM519.9 183.3l.9 .3-.6 1.3zM514.8 186.1l1.1-.5-.6 1.3zM504.6 176.7l1.3 .1 1.1 .2-.8 .1zM501.8 182l.8-.3-.3 1.3zM521.9 175l1.3 .7-.8 .1z"/>
<path d="M505.4 188.5l3.2-1 .3 .3-3.5 1.7z"/>
<path d="M498.5 143.9l1.4 .5 1.1-.3 .4 1.2-.2 1.9-1.1 1.1 .2 1.5-.1 .9 2.1 .7 .5 1.1 1.1 1-1.1-.7-1.3-.9-1.9 0-1.1-1.2-.8-.8 .4-1-.7-1.4 .8-.5 0-1.5zM500.7 162.6l.2-1.3 1.5-.6 .7-.9 2-.3 1.1-1.5 .2 1.5 1.2 .2 .2 1.2-.7 1.8 .4 1-1.4 1 .4-2.1-1.6 .3-.7 .9-.3-2.1-1.9 .7zM504.3 153.6l1.9 .4 .3 2.1-1.1-.5-.6-.7zM500.7 154.8l1.6 .5-1 .7-.6 .9zM502.3 156.2l-.2 1.5 .7 1.3-1.3-1zM504.6 155.6l.8 1.8-.3 .1zM493.2 160.3l.7-.9 1.1-.9 .5-.7 .3-1.4 1-.8-.3 1.3-.7 1.1-.8 .8-1.4 1zM498.2 152.2l1.6 .3-.3 1.5-.7-.5zM502.9 156.2l1-.5 .1 1.3-.8 1.3z"/>
<path d="M499.9 132.9l.8 .5-.8 2.4-.9 2.4-1.1-1.1 0-1.8 1.2-1.9z"/>
<path d="M447 94.1l.3-1.2 2.7 0 3.6-1.3 4.7 1.3 4.7-.9 .5-2.4 5.8 1 .3 1.4 6 .4 3.9 1.4 3.9 0 4.7-1.3 4.3 .7-1.7 3.1 .6 .1 2.8 .2 1.1-.3 2.2 1.4-.3 .5-3.5 .2-1.5 .4-1.6 1.3-2.4 .9-3.1 0-.2 2.1-1.4 .3-2.3 1.6-3.9 .2-3.2 1.3-5-1.5-2.8-.2-5.9-.3-1.5-2.2-2.9-1.2-4-.6 .1-2-1.5-2.1-3.2-1.4z"/>
<path d="M386.4 98.7l-1.1-1-2.4-1.6-.8-.8 1.6-2.9 1.9-.5 3.3-1.8 3.4 .3 3.2 1.3 4.7-.5 5.5 .4-2.4-2 1.6-3.1 6.3-.8 6.3-1.4 3.1 1.7 3.9 .4 4.7-.4 2.1 1.5 3.4 4.1 4.8-.4 3.1 2.3 3.6 .6-2.5 1.3-.3 2.3-3.9-.3-.8 3.1-3.3 .5 .6 2.9-.9 .3 0 1.5-1.9-1.2-4.7-.1-2.4-.5-1.6 1.1-3.9-.2-.1 .5-1 .7-2 1-1.6 .8-2.4-.7-.7-2.7-6.3-1-1.6-1.3-3.9-2-3.9 .9 0 6-1.9-1.2-2.9-.3-.7 .8 .4-1.8-2.5-.6-1.4-1.8 1.6-1.6 2.6 0 0-2.5-2.8-.4z"/>
<path d="M397.1 107l0-6 3.9-.9 3.9 2 1.6 1.3 6.3 1 .7 2.7 2.4 .7 1.6-.8 2-1 1-.7 1.2 1.3 2.1 1.2-2.1 .9-1.9-.1 0-.8-2.3 .9-.8 1.2-1.6 .3 1.3 1.8-.8 1.6-2.1-.2 0-1.1-3.4-1.5-2.8-1.7-1-2-2.8-.3-.2-1.3-2.3-.8-2.1 1.1-.3 1.2z"/>
<path d="M391.6 106.3l.7-.8 2.9 .3 1.9 1.2 1.5 0 .3-1.2 2.1-1.1 2.3 .8 .2 1.3 2.8 .3 1 2 2.8 1.7 3.4 1.5 0 1.1-1.4 0-1.7 1.7-2.4 1.4-1.1 .2-1.7-.5 0-1.6-1.4-.2-2-1.3-2.7-1.1-2 .1-1.9 1.2-1.4 .1-.2-2.6-1.3-.9 .8-2.1-1.1-.7z"/>
<path d="M415.6 113.6l.3 .3 3.1-.8 .4-.8 2 .2 .2 1.7 2.6-.9 2.5 .2-.1-2-1.6-.2-.1-1.4-2.7 .1-2.4-.3-1.9-.5 1.9-.6 0-.8-2.3 .9-.8 1.2-1.6 .3 1.3 1.8z"/>
<path d="M532.9 191.2l2.1 5.9 2.3 1.1 1.1 5.7 3.9 2.4 3.6 4.6 3.5 4.3 .8 4.4-.8 4.6-2.4 4-2.3 4.9-.2 1.6-3.7 .8-1.8 1.8-2.6-1.3-1.9 .8-4.3-1.3-2-3.2-2.4-.9-.3-4-.4 3.2-2.4-.3-1.6-2.1-1.5-1.3-4.8-1.9-3.1 .3-4.7 1-3.1 1.1-.8 1.5-5.5 0-3.2 1.7-4.4-1.1 .8-3.7-1.9-4.9-1.5-4.9 .3-5.6 .8-1.2 3.9-2.1 3.6-.8 3.9-.8 1.3-3.2 2.7-2.1 2.3-2.8 2.4-.8 2.3 1.5 1.9-.2 .5-2.9 1.5-1.3 2.4-1.2 3.9 1.2 2.9 0-1.3 2.1-.8 2.4 3.2 1.6 3.1 2.5 2-.4 1.1-3.7 .2-4zM536.4 239.9l2.8 .6 2.8-.3-.1 2.1-1.1 1.8-2.4 .5-1.3-1.8zM523.6 231.6l2.2 .3-1.1 .4zM513.7 192.4l1.6-.2-.8 .8z"/>
<path d="M580.3 229.7l1.3 1.3 1.3 .4 .7 .9 1.1 .8 .8 1.7 1.2 .2 2-.2 .8 .2-.4 1.5-.7 .9-1.3 .5-.8 1-.3 1.5-1.6 .9-.9-.5 .5-2.1-1.9-1.1 .9-1 .3-1.1 .2-1.6-.9-.7-.6-1.2-.9-1.4zM580.3 239.6l1.3 .1 1.3 1-.5 1.1-.9 .7-.7 1.4-.3 1-1.4 .5-1 .3-.3 1.7-.4 .9-1.2 .4-.9 .7-1.9-.1-1.5 0-1.3-.8 .8-1.7 1.2-.4 1.1-1.2 1.3-.7 .8 0 1.1-.9 1-1 .6-.9 1.1-1.7zM572.3 249.8l1 .1-.7 .5z"/>
</g>
<g fill="#84D7E1">
<path d="M125.2 121.2l3.6 0 5.9 1.9 4.5 0 0-.7 2.6 0 2.4 1.7 .8 1.8 2 1 .8-1.1 2-.2 1.5 1.8 1.5 1.9 .7 1.8 2.9 .7-.7 3.2-.2 2.8 .9 2.5 1.4 2.3 2.1 1.1 .8 .7 3.1-.7 1.6 .2 1.2-1.3 .5-2.4 3-1.2 2.4 0 .3 1.2-1.1 2.1-.5 1.9-.8-.3-1.3 1.1-2.9 0 0 1 .9 1.3-1.7 .5-1.1 1.3 0 1.2-2.5-2.3-1.6-.4-2.7 .9-3.1-1-2.4-1.2-2.8-1.4-2.7-.8-2.3-1.8-1-1.6 .5-1.7-1.1-2.4-2.3-2.4-2.4-1.8-.8-1.8-1.6-1.3-1.5-1.6-1.6-2.1-1.1-2-2.3-1.1-.2 1.1 1.2 2.2 1.6 1.9 1.6 2.4 1.6 2.5 1.1 2.1 1.2 1.6-.8 .5-1.2-1.5-2.2-1.6 0-1.9-2.1-1.3-2.3-1.7 1.2-1.1-2.3-2.4-1.6-2.5z"/>
<path d="M169.1 145l1.3-1.1 .3 .7-.3 .9 0 1.7-.9 .9-.5-.1z"/>
<path d="M185.3 171.6l-1.9 1-.7 2.1-.8 .8 .3 2 1.2 .5-.4 1.4 .1 1.6 1.4 1 1-.6 .6-2 2.5-1.3 1.8-1.8 .4-2.2-1.5-.8-1.8 0z"/>
<path d="M327.2 120.1l2.3 .5 3.5 .9 .8 1.5 2.8 .8 2.3 1 1.6-1.2 0-1.9 2.4-1.1 2.6 .6 3 1.4-.1 2.7 0 12.9 0 3.3-1.6 0 0 .8-14.1-5.7-1.3 .7-3.5-1.5-3.1-1.6-.9-2.8 .7-.5-.1-2.9-.5-3.2 1.1-.7 .2-1.7 1.9-1.2z"/>
</g>
<g fill="#FF6348">
<path d="M164.3 150.3l0-1.2 1.1-1.3 1.7-.5-.9-1.3 0-1 2.9 0-.1 3 .5 .1 .9 .4-1.4 1.2-.3 .9-1.1 1-1.9-.3z"/>
<path d="M174.5 155.9l1.6 .2 1.6 .1 1.7 2.1-.5 1 0 1.5-.9-.7-1.9-1.8-.7 0-1.1-.9z"/>
</g>
<g fill="#5A9599">
<path d="M167.6 151.6l1.1-1 1.4 .8 1.1 0 .2 .8-.2 .3-1.6 0z"/>
<path d="M169 149.7l1.4-1.2 1.3-.2 2.3-.2 1.6 0 1.6 .7 1.2 .8-2 .5-1.9 1.3-1.6 .1-.9 1.3-.2-.1-.4-.5-.2-.8-1.1 0-1.4-.8z"/>
<path d="M178.4 149.6l-.3 1.6-.1 2.4-.4 2.5 .1 .1-1.6-.1-1.6-.2-1.3-1.1-1.7-1.8 .5-.2 .9-1.3 1.6-.1 1.9-1.3z"/>
<path d="M197.1 154.8l-.9 .3 .4 1.3 1-1.8 1.6-.5 .3 1.2 2.2 .4 .6 1.2 3.1-.2 2.4 .8 2.4-.9 1.7 0-1 1.1 2.4 .6 .3 1.7 1.3 .1 .3 .3-2.1 1.3-.3 2.5 1 1.3 0 .9-3.3 1-1.9-.1-.6 2.5 1.5 .5-3.3 2.3-2.2-.6-.4-1.8-1.1-.8 .9-1-.8-1.5 0-1.6 .5-1.5-3 .2-.9-1.4-1.6 0-2.2-.7-.2-1.6-1.2-1.3 1.2-3.1 .8-.8z"/>
<path d="M348.5 122.6l3 .4 3.1 .8 2.4-1 3.1 .7 2.7-.3 1.1 2.9-.8 2.4-.3 .3-1.4-1.1-1.1-2.3 .2 1.5 1.5 2.4 1.3 2.5 1.6 3.2 .1 1.6 2.1 1.6-18.7 0 0-12.9z"/>
<path d="M365.5 115.7l.5 0 .7-.5 .5-.8 3.2 0 3.1-.6 2-.2-1.5 1.1-.2 2.5-.3 .9-3.5 1.7-3.1 1.7-1.6-.6-.1-1 1.4-1.4-1-.7z"/>
</g>
<g fill="#FFFFFF">
<path d="M203.6 143.9l2.3 .2-.1 .6-2.2 0z"/>
<path d="M224.3 164.5l1.7 .6 1.9 2-1.3 2.6-.7 .6-2.4-.1 .8-2.1-.8-2.1z"/>
<path d="M199.9 202.3l.8-2.1-.9-1.5 .9-1.3 .2-2.9-1-2.8 1.6 0 3.2-1.9 1.8 0 0 2.7 1.5 1.5 2.5 1 2.8 .8 1.1 1.6 .1 2.9 3 0-.1 1.5 1.2 1.3-.3 1.6-.6 1.3-1.4-.8-4.1 .5-1.4 4.2-1.7-.3-1 1.3-1.4-1.2-1.7-.5-1.4 1.7-1.1 0-.5-2.1-1-2.3 .5-1.2-.8-.6-.1-1.3z"/>
<path d="M313.1 91.1l-1.5 .3-.1 1.3-1.1-.3-1 1.1-.9 .6-1.3-.3-.6-.5 0 1.7-2.2-.2-2.7 .6 .6 1 2.9 .8 2 1.8 .2 1.1-.3 1.7-.8 1.7 2 1 1.9 0 1.6 .5 2.3 .2-.3-1.3 1.6-.5 2 .3 1.9 .3 1.6-1.1-.8-.8 0-1.5-.3-1.1-1.1-.5 1.4-2.1 .9-.2 1-2.2-2.9-.8-.9 0-1.6-.8-.9-.4zM322.6 105.2l1.3-1 .1 1.6-.5 1-.7-.5z"/>
<path d="M300.1 92.7l1.2 .1 1.2-.6 1.1-.3 1.3-.7 1.1 .7 .8-.7 1.5 .1 .8 .3 .6-.9 1.6 .2-1.1-.5 1.1-.5 .5-1.3-1.1 .3-1.1-.9-.3-1-1.2-.2-.3-1.2-1.1-1.2-.7-1.1-1.6-.2 1.3-.5 .1-1.1 .5-.8-.9-.8-1.8 .5-.8 .1 .6-.5 .8-1.1-1.6 .4-1.4-.4-.9 .6-.3 1.2 .1 1.6 .4 1.8 1.1-.2-.2 1.2 1.3-.5 .9 .3 .8 1.5 0 .9-1.3 .8-1.1-.6 .3 .8 .5 .5-1.1 .4-.8 .6 1.6 .5 1.9 .3-1.9 .3-1.2 .2zM300.5 85.9l-.8-1.5-2.1-.1-1.4 1.1 1.4 .8 1.8 .2zM297.3 80.7l.8-.9 1.3-.6-.2 1.2zM306.6 75.8l1.1-.1-.6 1.1zM303.9 78.1l1.1-.2-.6 .7z"/>
<path d="M340.5 109.5l1.1-.8 .5-.9 1.6-.5 1.5-.3 2.4-.4 2.3-.3 1 .7-1 .9-2.6-.1-.5 1.3-1.9-.7 0 1.5 .6 .8 .3 .9 1 .7-1.3 .2 .4 .9-.4 1.3-.6 .2-1.7-.7-.8-1.7 .9-.7-1.2-.3-1.1-1.5zM346 116.4l1.1-.2 .9 .6 1.2 .3 1.2-.4-.2 .5-.8 .1-1.3-.5-1.1 .5-.8-.5zM349.9 110.2l1 .2-.5 .4zM352.8 114.9l.6 0-.5 .8zM345.7 110.8l1.6 .9 .3 .6-.8-.7zM349.8 111.5l.4 .2-.3 .3z"/>
<path d="M349.9 107.9l1-.9-1-.7 3.2-.5 1.5 1.3 4-.1 3.1-1.2 2.4-.1 2.3 1.3 3.2 .6 3.1-.2 1.6-.8 1.7-.1 1.4 .8 .3 1.4 1.8 .8-.8 1.2 0 1.6 .8 1.3-4 0-2 .2-3.1 .6-3.2 0-.5 .8-.7 .5-.4-1.3-1.5 .2-2.1 .6-1.9 .2-2.9-1.2-1.6 1-1.2-.2-1.3-.6-1.1-.5 .1-1.2-.1-1.2-1-1.3-.8-1.1z"/>
<path d="M328.3 183.5l.4-1.3 1-.8 2 .3 1.4-.8 1.4-3.4 2.4-2.8 .5-4 .9-2.5 0-1.3 2.2-.3 3.9 .7 2.4-1.5 2-.2 3.3 0 1.8 1.3 2.3-.3 1.3 1.6 .8 2.1-2.2 2.3-.4 2.1-.1 1.5-.6 .3-.4 1.8 .4 1.3 .3 1.6 .1 3.2 2.1 3-3 .3-.8 1.3 .3 1.9-.3 2.1 2.2 .7 0 1.9-1.3 0-2.3-1.8-3.2-.9-1.7-.5-.6-.8-.2 .1-2.6 .4-.3-2-.4-.8 0-3.6-2.8-.5-.8 1.7-3.1 .1-1.4-3.5-4.9 0z"/>
<path d="M304.2 165.6l-3-.1-1.5 .6-2.4 .7-.1-1.8-1.5-1.6 .4-1.8 .7-1.5-.6-1.6 .5-1.1 2.7-.7 1.1 .3 1.5 1.2 2.9 .3 .3 2.1-1.1 2.3z"/>
<path d="M420.5 105.3l.1-.5 3.9 .2 1.6-1.1 2.4 .5 4.7 .1 1.9 1.2-2.7 1.4-2.7 .5-1.9 .8-2.9 1.5-2.7 .1-2.4-.3-1.9-.5 1.9-.6 1.9 .1 2.1-.9-2.1-1.2z"/>
<path d="M566.7 206.6l3.9 2.6 .8 1-1.6-.6z"/>
<path style="stroke-width:.95" d="M26.6 310.7l1-.3 1.2-.7 .9-.1 1-.7 2 .5 .6-.4 1.4-.6 .9-.4 .8 .5 1.7 .4 1.3-.2 .7-.6 1.2 1 1.5 .1 .7 .4 1.5-.3 1.4 0 .5 .1 1.5-.2 1 .2 .8 .4 1.8-.2 .7 .8 1.4-.2 1 .5 .9-.1-1.1-.4-.1-1.6-.8-.8-.9-.9-1.1-.4 1-.7 2 0-1.2 .1-1-1.5-1.3 .1 1.3-.1 1-.9 1.1 0 1 .6 1.1-.5-.7-1-1.5-.1-.8-.5 1.4 .4 .8-.1 1.3-.6 1.4-.2 1.1 .3-.9-.4-1.1-1.1 1.5-.4 .7 1.1 1.2-.1 1.4-.9 1.2 .6-1-1.6 1.4-.2 1.1 1.1 1.1-.3 1.4 .2 1.3 0 1.4-.6 1.4-.1 1.7-.7 .7-.7 1.5-.4 1.6-.1 1.6-.6 2-.1 1.5 0 1.2-.1 1.6-.4 1.6-.2 1.2-.1 1.7-.1 2-.2 1.5-.4 1.2 .4 1.6-.7 1.9 0 1.5 0 1.7-.8 1 .4 1.6-.5 1.6 0 1.2-.1 1.9-.2 1-.1 1.5-.4 1.9 .2 1.7 .3 1.2 .1 1.9-.2 1.2 0 1.9-.2 1.8 .2 1.4 .5 1.8 .2 1.9-.1 1.7 .2 1.2 .1 2.2 1.5 1.2 .3 2.1 0 1-.1 1.8 0 1.5-.3 1.1 .1 1.3-.1 1.6-.2 1.4 .6 1.5-.3 1.3 .4 1.5-.2 2.2-1-1.3-1.2-.6-.4-1.6-.9 2.6-.8 1.6-.2 1.4-.2 1.6 .2 1.9-.4 1.4 .4 1.8 .1 1.7 .4 2.1 .4 .8-.3 2.5 .2 1.4 .1 1.8 .2 1.8-.1 .7-.3 1.9 .1 1.5 .3 1.5 .1 2.2 0 1.7-.1 2.1-.2 1-.8 .9-.6 1.1 .4 1.4-.3 1.5-1.2 1.1-.3-1.5-1 1.2 .5 1.3-.1 1.6-.5 1.2-1.3 .2-1.2 1.9-.2 1.1-.5-.9-1.3 .4-1 1.3 .2 1.4-.7 1.2-.6 .9-1.2 .7-.9 1.4 .1 .7-.9 1.4 .6 1.6 0 1.1-.9 .6-1 1.2-1.1 1.5-.6 .9 .1 1.4 .4 1.2-.4 1-1.5 1.5-.2 .7-.1 1.5-.9 1.3 .2-.9 .8-.8 1-.7 .4-1.6 .2-.7 1.2-1.4 0-.9 .6-1.3 .3-1.2 .9-1.1 .4-1.4 1.2-.9 1.6 1.6 1.4 1.1 .4 .3 1.2 .6 1 .9 .9 .6 1.6-.9 1.2 .7 1.2-.3 1.4-1.7 1-1.5-.1-1 1.1-1.3 1.2-1.6-.1-.9 .6-1.9 .1-.5 .2-1.3 1-1.6 .6-1.6 .8-1.5-.1-2.6 .5-1.4 .1-1.2-.1-1.6 .7-2.1 .2-1.4 0-2 .3-1.1-.2-1.2 .6-1.7 0-2 0 1.5 .5 2.5 .6 1.9-.1 1.2 .1 1.5 .3 1.8-.4 1.4 .2 1.8 0 1.4-.3 1.6-.1 1.3 .6 1.9-.4 1.7 .4 1.5 2.2 1.6 1.1 1.2 .3 1.1 .3 1.8 .7 1.3 .1 1.9 .8 1.2 .7 1.3 1 2.1-.2 1.5-.7 1.6-.6 1.8-.3 1.6-.4 1.7-.1 .7 .2 2-.7 .8 0 1.8 .1 1.1 0 2 0 1.5 .6 1.6-.4 1.1 .3 1.8-.7 1.6-.1 2-.4 1.3-.6 1.7-.5 1.4-.4 1.1-.3 2.4-.4 1.1-.2 1.8 .1 1.3-.3 1 0 1.5 .3 1.9 .1 .9-.2 1.9-.1 1.4 .2 1.5 0 2.1-.5 1.5 .1 1.1-.2 2.1 .2-1.9-.1-1.2-.1-1.6-.3-1.5-.3-1.6-.2-1.9 .1-1.8-.4-1.3-.3-1.7-.1-.8-.1-1.9 0 1.1-.3 2.1-.7 .8-.8 1.5-.3 1.5-.2 1.1-.7 2.2-.1 1.2-.5 1.4-.1 1.4-.2 2.1-.3 1.1 .2 1.9-.1 2.1-.7 1.5-.2 .9-.4 1.3-1.5 1.3-.7 1.1-.5 1.4-.7 1.5-.3 1.3-.5 1.2-1.4 1.4-.5 1.7-.3 1.6 .4 1-.6 1.8 .2 1.9 .1 1.6-.6 1.5 0 1.8-.2 1.8 0 1.1-.3 1.7-.2 1.4-.3 1.1 0 1.6 0 1.5 0 1.8-.2 .7-.1 1.4 .2 1.8-.1 1.6-.2 1.1 .4 1.1-.2 1.8-.1 1.7 .1 .8 .3 1.6 .1 2.1-.4 .8 .1 1.4 .5 2 0 1.5 .1 1.1 .1 1.7-.1 1.1 .2 1.7-.1 1.7-.3 1.2 .1 .9 .2 1.9 0 1 .1 1.4-.2 1.5 0 1.6 .3 1.3-.5 1.7-.6 2-.5 1.4-.4 1.6-.8 2-1.2 1.6 .6 1.9 .9 1.6 .1 2.1 .5 1.3-.4 1.3-.7 1.7-.6 1.5-1 1-.5 1.9-.5 1.2 .1 1.6-.7 1.8-.5 1.2 .2 1.1-.2 1.4-.2 1.8-.6 1.2 .1 2-.3 1.3-.5 .7 0 1.8-.1 2.1 .5 1.2 .2 1.7 .7 1.5 .4 1.3-.3 2.1 .4 1.1 .2 1.1 .1 1.9 0 1.4 .5 1.5-.3 .9 .5 1.7 0 1.8 .1 .9 .7 1.5-.1-.8 1.4-.4 2.2-1.5 1.7-.7 1.2-.9 1.7 1.6-1.2 .9-.9 1.1-1 1.2-.5 1.8-1.6 1.5-.3 2-.7 1.3-.6 1.9-.4 .8-.7 1.2-.4 2.1-.6 1.2-.2 1.5-.4 1.7-.1 1.3-.5 1.4-.2 1.3-.1 1.3-.1 2.6-.2 1 .2 1.9-.3 1.8 0 1.1-.6 2-.1 1.2 .1 1.4-.1 1.1 .2 1.5-.3 2.2 .1 .8 .1 1.9-.2 1.8-.2 1.3-.2 2.3-.2 1.3 .1 1.6 0 1.8 .1 1.3 .5 1.2-.2 1.4 .4 1.1 .5 2 .2 1.4 .5 1.2 0 1.1-.8 1.8-.3 1.4-.9 1.1 .8 1.9 .9 1.3 .3 2.1 .2 1-.3 2.4 .2 1.2-.2 1.1-.1 1.8 .1 1.4-.2 2.3 0 1.1-.3 1 .1 2-.2 1.5-.1 1.2-.5 1.6 0 1.5 0 2 .2 1.9-.1 1.6-.1 1 .3 1.4 .1 1.6 0 1.4 0 1.6-.1 1.7-.1 1 .1 2 .7 .8-.2 1.8 .2 1.5 .8 2.2 .8 1.6 .8 1.9 .5 2.1-.2 1.6 .4 1.8-.3 1.8 0 1.1 0 1.2 .3 1.9 .1 1.3 .5 2 .8 1.7 .3 1.9 .6 1.5 .5 1.6 .2 1.9 .4 1 .1 1.6 .1 1.9 0 1.6 .1 1.3 .5 1.3-.2 1.6 .2 1.6 .4 1.2 .2-1.4 .8-1.4 .4-.9 .5-1.8 .7-1.5 .3-1.1 .4-1.8 .8-1.1 .5-1.7 .6-.9 .7 1.3 .2 1.4 .3 1.7 .6 1.2 .6 1.8 .5 1 .8 1.5 .9 1.6 .4-1.5 .5-1.4 .3-2.3 .2-1.1 .7-1.6 .2-1.1 .5-2.2 .4-1.5 .7-1.8 .5-1.3 .3 1.8 .9 1.1 .7 1.5 .5 1.4 .8 1.5 .4 1.1 .1 1.5 .4 1.6 .1 1.4 0 2.4 .3 1 0 1.6 .4 1.6 .3 1.6 .2 1.1 0 1.5 .5 1.6-.2 1 .3 1.2 .3 1.5-.1 2.1 0 1.1 .4zM224.5 302.3l1.1-1.1 1.4-.7 1.5 0 2-.3 .8-.6 1.7 0 1.8 .5 1 .2 1.5-.1 1.7 .4 2 1.9-1.6 1.4-1.4 .6-1.4-.1-1.7 .1-1.5 .3-1.4 .2-1.3-.3-1.8 0-1.9-.5-1.2-1.1zM195.8 281.8l1.4-.5-.6 .8zM198.8 280.3l1.4-.5-.6 .8zM202.3 277.6l1.4-.5-.6 .8zM205.3 276.3l1.4-.5-.6 .8zM208.8 274.3l1.4-.5-.6 .8zM211.3 273.1l1.4-.5-.6 .8zM192.3 285.8l1.4-.5-.6 .8zM189.3 288.3l1.4-.5-.6 .8zM186.8 296.8l1.4-.5-.6 .8zM190.3 295.6l1.4-.5-.6 .8zM199.8 283.8l1.4-.5-.6 .8zM204.8 279.3l1.4-.5-.6 .8zM213.8 274.8l1.4-.5-.6 .8z"/>
</g>
<g fill="#000000">
<path d="M185.8 130.6l1.6-.1-.8 .6zM186.1 133.4l1-.2-.2 1.5-.8-.4zM187.4 130.9l.8 .4-.2 .6zM188.9 133.1l.7 .1-.2 .8zM190.5 134.5l.5 .3-.3 .5zM193.3 139.7l1-.2-.3 .5z"/>
<path d="M213.3 257.4l4.7-.2-1.6 1.5-3.1-.5z"/>
<path d="M270.6 146.7l.8-.4-.3 .7zM271.9 149.3l.6-.2-.3 .6zM269.4 146.2l.4-.2-.1 .5z"/>
<path d="M376.9 192.5l.5 .2-.1 .7zM379.8 194.5l.4 .1-.3 .4z"/>
<path d="M399.3 206.3l.6 .3-.5 .5zM396 207.9l.7 .2-.4 .5z"/>
<path d="M319.3 173.4l.5 0-.3 .5z"/>
<path d="M554.7 184.8l1.9 .9-.9 .5zM559.6 188.8l2.2 1-1.4 .3zM561.3 187.4l1.3 1.7-.9-.3zM556.3 186.7l1.6 1.1-1.1 .4zM562.4 190.4l1.8 .8-1.1 .4zM557.9 185.9l2.3 1.6-1.4 0zM552.5 182.8l1.5 1.6-1 .5z"/>
<path d="M570.6 197.9l1.3 1.1-1 .5zM571.7 199.7l1.1 1.1-.9 .2zM573.1 202.3l.8 .5-.6 .3zM574.5 204.2l.7 .5-.7 .2zM575 205.3l.5 .5-.7 0zM572 196.1l.5 .5-.5 .2z"/>
<path style="stroke-width:.45" d="M39.6 195.9l-1.1-.2 .3 1zM75.1 202.2l-1.2-.1 .4 .9zM34.7 208.1l-1.1-.2 .4 .9zM36.3 204.1l-.8-.1 .2 .6zM32.8 195.3l-.8-.1 .3 .7zM29.8 196.9l-.8-.1 .3 .7zM167.3 174.5l-2.3-.4 .8 1.9zM168 174.6l-1.3-.2 .4 1.2zM169.1 175.2l-1.1-.2 .4 .9zM166 174.4l-1.1-.2 .4 .9zM59.3 137.9l-1.3-.1 .5 1zM63.1 139.5l-1.1-.2 .4 1zM64.3 139.9l-1.5-.2 .5 1.2zM32.5 245l-1.4-.2 .5 1.1zM39.7 178.8l-.8-.1 .3 .6zM40.6 188.7l-.7-.1 .2 .6zM59.2 167.9l-.9-.1 .4 .7zM62.5 170.6l-1.1-.2 .4 1zM57.6 166.2l-.7-.1 .2 .5zM91.3 189.6l-.9-.1 .3 .7zM89.6 188.1l-1-.1 .3 .8zM91.5 190.6l-.7-.1 .2 .6zM71.7 200.8l-1-.1 .4 .7zM81 201.8l-.8-.1 .3 .6zM88 203.3l-.7-.1 .3 .5zM95.6 208.6l-.7-.1 .2 .6zM84.1 200.5l-.7-.1 .3 .6zM77.7 198.1l-.7-.1 .2 .6zM97.6 211.2l-.7-.1 .3 .6zM74.7 211.7l-.7-.1 .2 .6zM71.7 210.3l-.7-.2 .2 .6zM106.9 213.7l-.7-.2 .2 .6zM137.9 217.7l-.8-.1 .3 .6zM135.2 143.3l-.8-.1 .3 .6zM123.7 126.7l-.8-.1 .3 .7zM58.6 208.1l-.8-.1 .2 .7zM42.8 204.5l-1-.1 .4 .8zM61.5 206.2l-.7-.1 .2 .6zM53.2 203.1l-.5-.1 .2 .5zM537.1 152l-1-.2 .3 .9zM538.4 149.3l-.9-.2 .3 .8zM538.5 144.4l-.7-.1 .2 .6zM538.3 146.7l-.7-.1 .3 .6zM520.9 161.6l-1-.2 .3 .9zM526.4 158.4l-.8-.2 .3 .7zM548 161.7l-.9-.1 .3 .8zM558.2 162.5l-1.1-.2 .4 1zM565.6 165.1l-.9-.1 .3 .8zM571.6 174.6l-.7-.1 .3 .6zM578.4 162.2l-.8-.1 .3 .7zM574.4 162l-.6-.2 .2 .6zM572.9 159.7l-.7-.1 .2 .5zM575.6 155.6l-.5 0 .2 .4zM581.3 171.5l-.9-.2 .3 .8zM581 168.8l-.6-.2 .2 .6zM583.5 174.8l-.6-.2 .2 .6zM585.8 175.9l-.5-.1 .2 .5zM590.9 187.6l-.6-.1 .2 .5zM587.6 185.5l-.6-.1 .2 .5zM592 200.5l-.6 0 .2 .4zM28.7 202.8l-.7-.1 .2 .6zM26.9 204l-.6-.1 .2 .4zM570.3 191.1l-.9-.2 .3 .8zM572.6 196.3l-.8-.1 .3 .6zM571.6 192.8l-.7-.2 .3 .6zM573.9 200.2l-.9-.2 .3 .8zM575.6 204.2l-1.1-.2 .4 .9zM576.2 206.5l-.7-.1 .2 .6zM573.4 208.4l-1.1-.2 .4 .9zM572.3 207.5l-.8-.1 .3 .6zM573.3 220.8l-.6-.1 .2 .5zM559.4 224.8l-.7-.1 .2 .6zM532.8 130l-.6-.1 .2 .5zM531.3 133.6l-.5-.1 .2 .5zM551.1 134.4l-.5 0 .2 .3zM515.5 131.8l-.6-.1 .2 .5zM504.6 134.2l-.8-.1 .3 .7zM503.9 134.4l-.7-.1 .3 .6zM506.3 133.6l-.7-.1 .2 .5zM512 128.7l-.8-.1 .3 .6zM268.2 268.6l-1-.2 .3 .8zM252.1 261.7l-2-.3 .7 1.7zM300.6 199.7l-.8-.1 .3 .6zM286.9 186.6l-.8-.2 .3 .7zM290.2 233.9l-.8-.1 .3 .6zM293.9 239.1l-.6-.1 .2 .6zM207.9 121.4l-.8-.1 .3 .6zM263.4 207l-.6-.1 .2 .5zM258.6 180.1l-.7-.1 .2 .6zM238.4 271.9l-1.4-.2 .5 1.1zM217 274.5l-1.1-.1 .4 .9zM222.9 272.8l-.9-.2 .3 .8zM298.9 73l-1.5-.3 .6 1.3zM297 58.6l-1.1-.2 .4 1zM339.4 53.1l-.9-.1 .3 .8zM307.4 76l-.6-.1 .2 .6zM213.2 147.4l-1.2-.2 .4 1.1zM213.8 150l-1.1-.1 .4 .9zM213.9 151.2l-1.1-.2 .4 .9zM216.1 152.3l-1-.1 .4 .8zM213.4 148.7l-1.1-.1 .4 .9zM212.5 146l-.9-.1 .3 .7zM211.1 145.7l-.8-.1 .2 .7zM213.4 152.4l-.8-.2 .3 .7zM212.7 154.1l-.9-.1 .3 .7zM210.5 144.4l-.6-.1 .2 .6zM207.8 144.1l-.9-.2 .3 .8zM208 145.1l-.7-.1 .3 .5zM202.3 154l-.9-.2 .3 .8zM201.2 154l-.9-.2 .3 .8zM199.6 153.5l-.8-.1 .3 .6zM209.1 155.9l-1-.2 .4 .9zM182 142.5l-.8-.1 .3 .6zM183.9 141.9l-.5-.1 .1 .5zM196.5 138.4l-.9-.1 .3 .7zM196.9 139.1l-.7-.1 .2 .6zM194.1 137.3l-.8-.1 .3 .6zM192.5 134.9l-.8-.2 .3 .7zM190.4 135.7l-.7-.1 .3 .5zM271.6 146.7l-.9-.2 .3 .8zM272.6 149.2l-1.1-.1 .4 .9zM273.6 147.6l-.9-.1 .3 .8zM271.2 149.6l-.8-.1 .3 .7zM270.2 146.2l-.9-.2 .3 .8zM273.5 146.7l-.7-.1 .3 .6zM419.6 253.4l-2.5-.4 .9 2.1zM425.2 259.7l-1.2-.1 .4 1zM431.2 235.2l-.7-.1 .3 .6zM431.2 236.5l-.6-.1 .2 .5zM423.2 185.6l-.7-.1 .2 .6zM425 166.9l-.9-.1 .3 .7zM424.4 173.3l-.6-.1 .2 .6zM424.3 162.8l-.7-.1 .2 .5zM423.8 156.8l-.6-.1 .2 .5zM396.8 181.3l-1-.1 .4 .8zM397.1 180.8l-.7-.2 .3 .6zM382.2 189l-.7-.1 .3 .6zM393.1 182.6l-.5-.1 .1 .4zM409.1 205.7l-.7-.1 .2 .6zM369 249.7l-1-.1 .4 .8zM391.1 248.9l-1.1-.2 .3 1zM388.5 248.5l-.7-.1 .2 .6zM314.9 261.9l-.8-.1 .3 .7zM461.6 193.5l-.7-.1 .2 .5zM475.4 190.8l-.7-.1 .3 .6zM457 162.4l-.8-.1 .3 .7zM456.6 160.8l-.6-.1 .2 .6zM455.4 158.8l-.8-.1 .3 .7zM454.9 156.4l-.9-.2 .3 .8z"/>
</g>
<g fill="#8A4198">
<path d="M187.6 159.9l.9 .1 1.2-1.2 .8-2.1 1.1-.8 2.4-.3 2-1.5 1.1-.3 0 1-1.1 .3-.8 .8-1.2 3.1 1.2 1.3 .2 1.6 2.2 .7 1.6 0 .9 1.4 3-.2-.5 1.5 0 1.6 .8 1.5-.9 1 1.1 .8 .4 1.8-1.7-.9-2.8 0 0 1 .9 .2-.3 .6-.9 .2 0 1.1 .9 1.5-.8 5-1.2-.6 .6-2.1-2.7-.4-1.6 0-1.5-2.1-2.1-1.4-1.5-.8-1.8 0-2.2-1.7 .5-1.8 1.6-.1 .6-2.1-.6-2.6 .1-2-.8-.8 1.1-1.1z"/>
<path d="M215.2 160.4l-.3-.3 2.3 2.5 2.1 1.6-.2 1.1-1.1 2.1 .3 1 2.1 2.4-1.3 0-2.4 1.2-1.5-.2-.2-1.6-.1-2 .6-.8-.8-1.8-.9-.1-1-1.3 .3-2.5z"/>
<path d="M183 179.4l-1.6 1.8 .5 2.4 1.9 2 1.5 2.6 2.1 3.5 1.9 4.6 1.7 2.4 3.4 1.9 2.7 1.8 1.4 1.2 1.4-1.3 .8-2.1-.9-1.5 .9-1.3 .2-2.9-1-2.8-1.7 0 .2-2.4-2.7 .8-1.3-1.3-.3-2.9-1.2 0 1.5-3.4 .4-.3 4.4-1.3 .1-.2-1.2-.6 .6-2.1-2.7-.4-1.6 0-1.5-2.1-2.1-1.4-.4 2.2-1.8 1.8-2.5 1.3-.6 2-1 .6-1.4-1z"/>
<path d="M348.4 138.2l18.7 0 .6 1.7-.2 2.4 2.1 2.4-2.4 1.6-.8 3.3 0 1.1-.8 2.6-1.5 2.8-1.1 .8-.5 1.6-.3-.8-1-1.1-.1-2.5-.6 0-1 .3 .3 .5-.8 2-1.2 1.1-1.6-.6-1.6 .8-1.5 .6-3.2-1.4-1.5-.2-1.6 2.6-.8 0-.9-3.6-1.4-2.9 .7-2.1 .8-2.7 1.6 0 0-6.2 0-.8 1.6 0z"/>
</g>
<g fill="#008EA0">
<path d="M198.5 203.6l.5 4.3-.6 4.1-.2 3.2-.6 3.3-.8 4-.3 4.1 0 1.6-1.3 3.2-1.1 2.8-.6 2.9-.3 3.3 1.8 .9-.2 1.5 .3 1.4-1.4 1 .4 1.2-1.2 1.3-.8 .8-1.4-.1-.3 1.2 .1 1.4 1.6 .7 .2 1.7-2 .1 .2 1.5 1.2 .7-.8 1.5 .7 1 1.4 .9 .7 1.2 .7 1 1.1-1.1 .8 1.1 1.3 0 0-1.6 4.1-.9-2.5-.6-3.2 0-.5-2.1-1.5-2 1.5-2.4 1-3.2 0-3.3-.5-3.2 .5-3.3 1.1-2.4-.3-3.2 1.4-2.5 .8-2.7-.8-3.7 .6-2.5 1.4-3.2 1.1-1.6-.3-2.8 2.1-1.3 0-1.9-1.1 0-.5-2.1-1-2.3 .5-1.2-.8-.6-.1-1.3-.7-1.1zM201.4 259.3l0 3.6 3.3 .3-2.4 .8-.9 .3-1.5-.2-.7-.7-1.6 .1-.9-.1-.7-1.2 1.6-.8 .8-.8 .8-1.1zM192.9 241.7l.9 .3 1 1.3-1.1 1-1.5-.4 1.4-.9z"/>
<path d="M203.6 210.9l1.4-1.7 1.7 .5 1.4 1.2 1-1.3 1.7 .3 2.5 2.6 3.1 1.1 2.1 1.3-1.4 3.1 3.3 .3 1.1-.1 1.7-2.8 1.4 1 .2 1.4-3.2 2-3 3.1-.4 2.1-.5 1.6-.3 2.4 0 .8 1.9 1.6 .7 1.7-1.4 2.6-2.2 .9-3.9 .5-1.3-.3 .2 2.9-2.5 1-1.9-.7 0 2 2.2 1-2.2 1.1-.8 2.7-3.1 2 2.3 2.6-2.3 2.7-2.4 1.7 0 1.7 1 1.3-2.5-.6-3.2 0-.5-2.1-1.5-2 1.5-2.4 1-3.2 0-3.3-.5-3.2 .5-3.3 1.1-2.4-.3-3.2 1.4-2.5 .8-2.7-.8-3.7 .6-2.5 1.4-3.2 1.1-1.6-.3-2.8 2.1-1.3zM201.4 259.3l.4 1 1.1 .2 1 1.3 1 1.1 1.8-.3-2 .6-3.3-.3z"/>
<path d="M218.6 222.9l2.5 1.1 2.4 1.3 1.7 1.8 0 1.4-.9 1.5-1.6 .5-2 0-2.4-.7-.9-.8 .3-2.4 .5-1.6z"/>
<path d="M210.8 209.9l1.4-4.2 4.1-.5 1.4 .8 .5 1.5 0 2.2 2.9 .3 .7 2.6 2 .2-.5 2.4-.1 .2-1.7 2.8-1.1 .1-3.3-.3 1.4-3.1-2.1-1.3-3.1-1.1z"/>
<path d="M366.4 150.7l2.2-1 1.8 .5 2.8 .7 2.5 2.7-1 1.2 0 1.3 1.6 .1 1.9 3.1 4.7 1.6 1.6 0-4.7 4.9-2.1 .5-2.6 .8-.2 .4-3.3 .2-2 .4-2.7-1.3-1.4-.4-1-1.3-1.2-2.1-2.4-1.7 1.8-1-.2-1.8 .5-1.6 1.1-.8 1.5-2.8z"/>
<path d="M348.8 202.8l2.7 .3 2.8-2.5 .3-1.1 2.2-.3 1.8 1 2.2 .8 .1 1.3-.1 1.6 .1 1.6-.3 .8-.6 2.1-1.7 1.8-3-.3-2.2-1-.5-1.8-2.4-1.6-1.4-1.6z"/>
<path d="M357.5 217.3l.9-1.6 1 .3 .1 1.3-.6 .9-1.1-.2z"/>
<path d="M363.9 126.1l1.7 .5 2.4-1.3 .8-.8-1.6-1.7 3.2-.8 .3-.5-.7-1.7-3.1 1.7-1.6-.6-.3 0-.1 1.9-.2 .8z"/>
<path d="M375.5 113.6l4 0 1.1 1.9 .7 1.5-.7 1.8 .7 1.6 2.4 1.1 .5 2.1 .3 .9 .8 .9-1.3-.3-1.9 1.6-2.8-.1-4.2-3.1-2.5-1.3-1.9-.7-.7-1.7 3.5-1.7 .3-.9 .2-2.5z"/>
<path d="M382.1 126.7l1.9-1.6 .5 1 .6 1.6-1.4 0z"/>
<path d="M363.9 126.1l1.7 .5 2.4-1.3 .8-.8-1.6-1.7 3.2-.8 .3-.5 1.9 .7 2.5 1.3 4.2 3.1 2.8 .1 1.6 1 1.4 0 1 1.6 1.5 1.3 .3 1.6 1 1.5 .6 .3 .6 .7 1.6 2.1 4.1 .3 .8 1.1-1.1 3.3-4.7 1.6-4.7 .6-3.2 2.6-.8-.3-3.9-.3-1.1-.2-.8 1.8-.5-1.8-1.5-2.4-2.4-2.1-1.4-2-.9-3.2-1.9-2.4-1.3-2.5-1.5-2.4-1.5-.2z"/>
<path d="M376.3 147.3l.8-1.8 1.1 .2 3.9 .3 .8 .3 3.2-2.6 4.7-.6 1.7 3.8-1.4 1.7-5 2.6-2.4 .7-3.9 1.3-2.4 .3-.5-1.2-.6-2.7zM392.8 153.5l1.9 0-1.1 .5z"/>
<path d="M390.1 134.7l1.6 2.1 4.1 .3 .9-2.4 1-1.2-.3-1.4-1.4 .8-1.5 1.4-2.9 .4z"/>
<path d="M388.9 133.7l.6 .3 .6-1.4-.4-1-.8 1z"/>
<path d="M379.5 109.5l-.8 1.2 0 1.6 .8 1.3 1.1 1.9 .7 1.5-.7 1.8 .7 1.6 2.4 1.1 .5 2.1 .3 .9 .8 .9 1.5-.3 1.1 .5 1 1.5 1.1 1.7 2.3 1.8 2.7 .3 2.5-.9 1.1 .5 .5 1.7 2.7 .5 4 .4 .4-1.7 2.2-.8 .1-.8-.8-1.6-3-2.7 1.5-1.5-.2-1-1.4-.2-.3-2.6-.2-.9 1.1-3.1 0-1.6-1.4-.2-2-1.3-2.7-1.1-2 .1-1.9 1.2-1.4 .1-3 1.2-1.6-.2-2.4-1.3-.9-1.4-1.4-.7 0-1.5-2.4 1.3-.4 0-1.1 0-.8-.8z"/>
<path d="M466.5 163.4l1.4 1.3 1.6-.9 2 2.3 0 2.1 .8 1.3 .3 1 .2 1.1-1.1 .2-1.2-1.1-1.4-.8-.9-.7-1-1.1-.1-1-.5-2.1zM481.2 170.7l2.9-.7 1.4-.7 1.1-.6 1.7-2.3 1.6 .5 .3-1.1 .3-.5 .3-.8 1.1-.9 .5-1 1.6 .9 .6 1.1 1.7 .9-1.1 1.1-.8 .3-.6 .2-2.5-.2-.8 2.1-1.4 2.5-2.5 .1-3.2 .7-.8 .1-1.2-1.1z"/>
<path d="M504.3 109.2l-2 .5-2.4 1.3 .5-2.8-1.3-.6-2.3 1.8-2.4 1-.4 1.1 1.8 1.6 3-.5 2.7 .7-2.4 1.3-1.1 .9-1.5 1.7 1.5 1.9 1.1 2.1 1.5 1.3 0 1.3-2.2 1 2.3 .6-.6 2.3-1.7 2.1-1.3 2.1-1.6 2-1.9 1.6-1.5 1.3-3.5 1-1.2 .1-2.9 1.1-1.9 .5-.3 1.5-.8-2-2.8 0-2-2.1-2.2-.8-3.6 1.3-1.3 .2-.6 1.9-1 0-1.5-.5-1.4-.9-.5-1.6-1.9-1.3-.3-1.5 1.7-1.8-.6-2.7-1.6-1-1.7-1.8-1.9 .2-2.4 .8-2.1 1.4-.8 0-2.9-.6-1.4 1.4-.1-1.1-1.1 .2-3.3-.2-3.2-1.9-2.3-1.3-2.4-.4-2.3-1.3-1.1-.3-.7-2.1 1.3 0-.5-2.9-1.4-1.9-.3 0-2.8-.9-.4-1.4-1.4-.6-.1-2-1.6-.2-.1-1.4 2.9-1.5 1.9-.8 2.7-.5 2.7-1.4 0-1.5 .9-.3-.6-2.9 3.3-.5 .8-3.1 3.9 .3 .3-2.3 2.5-1.3 .8 0 .3 .9 3.2 1.4 1.5 2.1-.1 2 4 .6 2.9 1.2 1.5 2.2 5.9 .3 2.8 .2 5 1.5 3.2-1.3 3.9-.2 2.3-1.6 1.4-.3 .2-2.1 3.1 0 2.4-.9 1.6-1.3 1.5-.4 3.5-.2 .3-.5-2.2-1.4-1.1 .3-2.8-.2-.6-.1 1.7-3.1 1.7 .5 2.4-1.3 1.1-2 1.1-1.8-1-1.1 5.4-.3 3.9 1.1 2.3 4.2 4 2.1 1.5 2 3.2-.7 2.7-.3-2.7 5.2-2.7 .3-.5 3.1-.6 1-1.1-.8-.6 .8-2.4 .6 .5 .8-2.2-.5-1.4 1.5zM479.8 142.6l1.3-1.1 2.2 0-.7 1.9-1.5 1-1.3-.5z"/>
<path d="M504.3 109.2l2.7-1.6 1.4-1.5 2.2 .5-.5-.8 2.4-.6 .6-.8 1.1 .8-1.4 1.8 0 .8-1.5 .5-1.2 .3-.8 .8 0 1 1.5 .9-2.2 .5-.5 .8-2.2 .2-.9-.7 .9-2.2z"/>
</g>
<g fill="#FF95A8">
<path d="M404.7 125.5l2.6 .7 2.3-.1 3.6-.7 .2-1.8 2-.6 2.5-.8 .4-2 1.2-.4 1.3-1.2 .8-1.9-.7-1.3 2.9-1.3 2.9-.6-2.5-.2-2.6 .9-.2-1.7-2-.2-.4 .8-3.1 .8-.3-.3-2.1-.2-1.4 0-1.7 1.7-2.4 1.4-1.1 .2-1.7-.5-1.1 3.1 .2 .9 .3 2.6 1.4 .2 .2 1z"/>
</g>
<g fill="none">
<path style="stroke-width:1.15" d="M167.7 43.4l7.9 .5 7.8-.3M174 45.8l7.9-.3 6.3-.3M170.9 48.6l6.3-.5 4.7 .3M186.6 41.8l6.3 .5 6.3-.2M188.2 40l7.8 .7 6.3 .3M177.2 47l6.2 .3M180.3 42.3l-6.3-.5-6.3 .3M191.3 43.7l6.3 .5M178.7 49.4l4.7-.3M201.5 66.4l3.9 1.3 3.2 1.2M200.7 70.5l3.2 1 2.3 .9M174 54.8l.8 1.6 .8 1.6M183.4 56.7l3.2-.5 4.7 .7M196 59.6l3.2-.5 2.3 .7M186.6 58.8l4.7 .7M192.9 62.9l4.7-.5M189.7 66.1l4.7-1.3M199.2 64.5l4.7-.8M125.3 59.6l4.7-.1 4.8 .3M125.3 58.2l3.2-.5 3.1 .3M139.5 57.2l3.1 .8M136.3 61.2l4.7 .4M117.5 55.6l4.7-.5M133.2 51.5l4.7 .5M161.5 50.9l4.7-.4 4.7 .7M175.6 52.3l4.7-.5M274.5 59.6l-4.7 .2-4.7-.7M270.6 58.3l-3.1-.6-2.4-.8M276.1 55.9l-4.7 .3-3.1-.6M277.7 53.9l-4.7 .5-3.2-.1M278.5 49.4l-4-.3-3.1 .1M277.7 44.2l-4.7-.3-4.7 .2M279.3 46.2l-4.8 .3M229 62.1l-2.4-.5-2.3-.5M227.4 59.6l-3.1-.5M224.3 57.2l-3.2-.5M230.6 69.7l-2.4-.4M233.7 74.2l3.2 .8M243.1 72.6l-2.3-.8M247.8 67.2l3.2-.6M257.3 63.7l3.1-.8M199.2 47.8l3.1 .3 3.1-.3M214.9 50.2l-3.2-.5M219.6 53.1l-3.2-.5M208.6 79.1l2.3 .8M211.7 83.1l2.4 .3M216.4 85.1l2.4 .8M185.8 78.4l2.4 .5M203.9 75.8l3.1-.5M75.1 75l2.3-.3M68.8 79.9l3.1-.8M97.1 78.9l-2.4-1M103.3 83.1l-2.3-1.6M108.1 91.2l2.3-.8 2.4 .5M106.5 87.2l2.3-.8-1.5-1.3M110.4 93.7l2.4-.5M192.1 246l2.3 1.2M191.3 250.9l2.4 1.3M190.8 254.1l2.4 1.5M192.1 257.4l2.3 1.1M194.4 260.1l2.4 .7 1.9-1M195.2 261.8l3.2 .6 2.3-.5M191.6 248.5l2.1 .6M192.9 243.6l1.9 1M199.2 263.1l3.1 .4 2.4-.4M317.3 77.8l2-.5M317.3 76l2.5-.2M317.1 74.7l3.3 .2M317.7 73.4l3.2-.5M321.7 71.5l2.3 .3M324.8 70.5l2.4 .3M327.9 68.5l2.1-.3M329.5 66.6l2.4-.5M331.1 64.8l2.8-.3M332.7 62.9l3.1 .1-1.6-.9M336.6 61.2l3.1 .2M340.5 60.4l3.2 .4M344.4 59.6l3.2 .5M348.4 59.1l2.3 .8M352.3 59.1l2.3 .5M329.5 63.7l2.4-.7 1.5-.8M331.1 46.7l3.1 .3 1.6-.5M330.3 45.4l3.9 .1M332.7 48.3l3.1 .3M340.5 45l3.2-.3M338.2 47.1l3.9-.3M392.3 57.2l3.2-.5M394.7 54.9l3.1 .2 1.6-1.2M398.6 52.3l3.9-.3M404.9 50.7l3.1-.3M300.5 82.3l1.5-.5M300.8 80.5l2 .5M299.7 79.9l1.9-.3M303.9 82.8l.8-.5M302 83.6l-1.1-.5M274.5 67.7l2.4-.5M272.2 68.2l2.3 .3M285.5 67.7l1.6 .5M280.8 66.9l-.8 .8M343.7 113.1l1.5-.5M344.4 111.5l2.4-.3M346 109.4l1.6-.7M347.6 113.1l1.5 .8M348.4 114.2l1.5-.6M350.7 112.6l.8 .8M348 109.9l1.1-.7M211.7 41.3l1.6-.5 1.2 .1 1.2 .1 1.2 .1 1.2 .4 1.9-.3 1.2-.7 1-.3 1.7 .2 1 .5 1-.3 1.5-.3M227.4 40.3l1.3-.6 1.4 .1 1.5 .6 1.1 .1 2-.4 .8 .3 2-.6 .9-.1M238.4 39.7l1-.6 1.9 .6 1.3-.7 .7 .8 1.4-.8 1.9-.4 1.3 0 1.1 0 .9 0 2 .4 .7-1 1.5 .4M254.1 38.4l1.8-.4 .7 .9 1.4-.1 1.4 .2 2 .1 .8-.4 1.5-.3 1.4 0 1.6 .5M266.7 38.9l1 .5 1.2 0 2.1-.3 .9 .8 1.3-.3 1.3 .6M274.5 40.2l1.8-.1 1.8 .8 1.3 .7 1.4 0M280.8 41.6l1.4 .4 1 0 1.9-.7 .9 .4 1.4 .3 1.8-.7 1.1 .5M290.3 41.8l-1.6 .3-1.3 1-1.3-.6-1.1 .6-1.5 1.1-1.1 0M282.4 44.2l-1.2 1.1-1 .1-.9 1.3M279.3 46.7l.9 1.7-.2 1.5M280 49.9l-1.6 0-1.6 1.6-1.5 0M275.3 51.5l1.2 .8 2 .8M278.5 53.1l-1.2 .5-1.5 .8-1.3 1.2M274.5 55.6l0 2.4M274.5 58l-1.5 1.9M273 59.9l-1 .9-2.2 .4-1.5 .9M268.3 62.1l-1.6 .3-1.1 .6-2-.4-1.6 .7M262 63.3l-1.8 .3-1.3 1.4-1.6 .3M257.3 65.3l-1.7 1-2 .3-1 .6M252.6 67.2l-1.4-.4-1.7 .6-1 .7-1.4-.4M247.1 67.7l-.3 1.1-1.8 .9-.3 1.3M244.7 71l-.6 1.4-.8 .7-1 1.1M242.3 74.2l-.7 1.7-.8 .7M240.8 76.6l-2.4-.1M238.4 76.5l-1.3-.7-2.2-.8-1.2 0M233.7 75l-1.3-.4-1.2-.8-.6-1.2M230.6 72.6l-1.1-1.4-1.3-1M228.2 70.2l-.9-1-1.1-1.1-.3-1.2M225.9 66.9l-.8-2.4M225.1 64.5l1.3-.6 1.1-1.2 1.5-.6M229 62.1l-1.7-.7-1.4-.3-1.6-.7M224.3 60.4l-.8-2.4M223.5 58l-1.6-.9-.8-1.5M221.1 55.6l-1-2-1.4-1-.7-1.1M182.7 90.7l2.3-.3M185 90.4l.8-1.2-.4-1.4-.1-1.4M185.3 86.4l.7-1.1 .3-1.1 1.2-1.3 1.1-.6M188.6 82.3l-.8-1.7-.8-.8-1.2-1.1M185.8 78.7l.9-.6 .7-1.5M187.4 76.6l-.4-1 .1-1.9-.5-1M193.3 72.7l1.3 .7 1 .8 2.1-.2 1.5 1M199.2 75l.8 1.5-.1 1.8M199.9 78.3l1.2 .9 2 .2M203.1 79.4l1-.5 1-1.9 1.1-.8M207.8 76.2l.4 1.1 1.4 .6 0 1.4 1.6 .2 .5 1.2M211.7 80.7l1.7 1.2 .8 .8 .7 1.6M214.9 84.3l1.2 1 1.7 .6 1 .5M218.8 86.4l1.3 .6 0 1.2 1.5 .6M221.6 88.8l-1 1.1-1 .5M219.6 90.4l-.8 1-1.8 .2-.8-.3-1.3 1.2M214.9 92.5l-1.3 .6-1 0-1.5-1-.9-.2-1.6 .5M208.6 92.4l-1.7-.6-.9 .7-1.3 0M204.7 92.5l-.7 1.1-1.5-.2-1 1.1M201.5 94.5l-.5 1.3-1.1 .8-1.5 .8M198.4 97.4l.7-.7 1.6-.6M200.7 96.1l1.7-.1 1.2-.3 1.3-.2 .8-1.1 1.3-.3M208.6 99l1.5-.5 1.2 .6 2 .6M213.3 99.7l1.6-1.2M214.9 98.5l-.3 1.5-1.3 .6M216 96.7l1.1-.9-.1-1.2 1.5-1.1 .3-1.5M218.8 92l.9-1.3 1.8-.4M221.9 92l1.3 .1 .6 1 1.3 .9M225.1 94l.7 1.7 .5 1M226.3 96.7l-1.2 1.7M225.1 98.4l-1.8 .1-1.4-.8M221.1 96.7l-1.4 .5-1-.6-1.1-.2-1.6 .3M207.8 93l1.5 .4 1.4-.2 1.5 .9M212.2 94.1l-1.2 .4-1.6-.5M200.7 102.6l-1.9 .6M198.1 104.7l1.1 1.4M199.2 106.1l-1.4 .2-1 .5M196.8 106.8l-1.6 .4-.8 .3-1.5 .4M192.9 109.5l-1.6 1.3M190.5 109.9l.6 1.9M191.1 111.8l-.9 .7-.5 1.4M190 114.7l.5 2M190.5 116.7l-1.4 .4-.9 .7M188.2 117.8l-1.6 1.1M270.6 67.7l1.2-.9 2-.5M273.8 66.3l1.6-.3 .9 .4 1.4 .5M277.7 66.9l1.5 .3 1.3-.6 1.7-.6 1.8 .1M284 66.1l2.3 .5M286.3 66.6l1.4 1.6M287.7 68.2l-.6 1-1.6 .5M285.5 69.7l-1.6 .5-.9-.1-2 .6-1 .4M280 71.1l-1.3-.5-1 .6-1.6-.7M276.1 70.5l-1.3 .4-1.4-.4M274.5 69.3l-2-.1-1.1-.5M311.5 92.7l-1.1-.3-1 1.1M309.4 93.5l-.9 .6-1.3-.3M300.1 92.7l1.2 .1 1.2-.6M303.6 91.9l1.3-.7 1.1 .7M306 91.9l.8-.7 1.5 .1 .8 .3M309.1 91.6l.6-.9 1.6 .2M310.2 90.4l1.1-.5 .5-1.3M311.8 88.6l-1.1 .3-1.1-.9M309.3 87l-1.2-.2-.3-1.2M304.4 83.1l1.3-.5 .1-1.1M306.3 80.7l-.9-.8-1.8 .5M302.8 80.5l.6-.5 .8-1.1M304.2 78.9l-1.6 .4-1.4-.4M301.2 78.9l-.9 .6-.3 1.2M300 80.7l.1 1.6M300.1 82.3l.4 1.8M301.4 85.1l1.3-.5 .9 .3M303.6 84.9l.8 1.5M304.4 87.3l-1.3 .8-1.1-.6M302.8 88.8l-1.1 .4-.8 .6M300.9 89.8l1.6 .5M302.5 90.3l1.9 .3M304.4 90.6l-1.9 .3M302.5 90.9l-1.2 .2-1.2 1.6M300.5 85.9l-.8-1.5M297.3 80.7l.8-.9 1.3-.6M299.2 80.4l-1.9 .3M299.7 89.3l-.3-1.8M295.7 84.7l-1.7 .4-.6 .9M293.4 86l.8 1.5M294.2 87.5l-1.3 1-.1 1.1M293.7 90.4l1.6 .4 .9-.9M296.2 89.9l1 .5 1.1-.5 .9-.6M339.4 108.2l.3-1.6M346.8 109.1l-1.9-.7M345.5 110.7l.3 .9 1 .7M345.5 112.5l.4 .9-.4 1.3M344.9 114.9l-1.7-.7M343.2 114.2l-.8-1.7M342.1 111.5l-1.1-1.5M346 116.4l1.1-.2 .9 .6 1.2 .3 1.2-.4M350.2 117.2l-.8 .1-1.3-.5-1.1 .5-.8-.5M345.7 110.8l1.6 .9M347.6 112.3l-.8-.7-1.1-.8M587.1 69.3l2.4 0M589.5 69.3l1.3-.4 1.5-.7 1.1 0M593.4 68.2l1 .7 1.6 .3 1.6-.6 1.3 .7M598.9 69.3l1.4-.2 1.1 .9 1.4-.3M602.8 69.7l1.2-.9 1.1-.7 .9-.6 1.5-.6M607.5 66.9l-.9-1.1-1.4-.2M605.2 65.6l-1.5-.8-1.6 .4-1.4-.1-1-.6M599.7 64.5l-1.4-.9-1.5-.1-.7-.7-1.8 .1-1.4-.5-1.1-.3M591.8 62.1l-1.3 0-1.6-.2-.7-.8-1.2-.4-1.5 .1M585.5 60.8l-.9-.4-1.4 .7-1.8-1-.8-.1-1.8 1.1-1.1-.7M577.7 60.4l-1.6 1.3M576.1 61.7l-2 .2-.6-1.1-2.1 .3M571.4 61.1l-1.2-.6-1.3 .1-1.8 1-1.2 0-1-1.1-1.4 .6M563.5 61.1l-1.7-1.1-1.4-.4M558.8 59.1l-1.1 .6-1.4-.1-1-.8-1.3 .8-1.5-1.1-.7 .1-1.4 .9-1.3-.5-1.3-.2M547.8 58.8l-2.1-.7-1-.9M544.7 57.2l-1.3 .1-1.4-.1-1.2-.2-1.6-.7-.6-.2-1.8 .9-1.2-1.2-.9 .5-1.3-.7-1.6 1-1.2-.7M530.6 55.9l-.4 1.3-1.2 .8M529 58l-1.5-.3-1.2 .9-2-.4M524.3 58.2l-1.2-.2-1.2-.4-1.1 .2-1.2-.1-1.6 .3M518 58l-1.5-.3-1.3 .3-1.9 .8M513.3 58.8l-.8-.9-.8-1.5M511.7 56.4l-1.7-.3-1.4-1.3M508.6 54.8l-1.2-.4-1.2 .7-1.9 .2-1.2-.1M503.1 55.2l-1.1 .7-1.5-1.1-2 .9-1.3-.8-1.2 .7M496 55.6l-1.1 .1-1.4 0-1.7-1.3-1.1 .3-1.2-.5-1.4 .4M488.1 54.6l-1.5-1.5M486.6 53.1l-1.9 .9-1-.1-1.8 0M481.9 53.9l1.2-1.2 1.3-.3 1.2-.5 1-.4M486.6 51.5l-1-.1-2-.6-1 .1-1-.3-1.3-1M480.3 49.6l-1 .2-1.6-1.4-.8 .2-1.3 .5-1.6-.8-1.1-.4M472.9 47.9l-1.2 .9-1.7-.1-.9 1-1.7-.7-1.2 .9M466.2 49.9l-1.4-.4-1.6 .5-.9 .3-1.4-.6-1.2 .3-1.4 .4M458.3 50.4l-1.2-.5-2 .9-.9 .1-1.7 0M452.5 50.9l-1.2-.2-1.1 1.5-1.5-.6-1 1.4-1.4-.4-.7 .7M445.6 53.3l-1.4 .7-1 .2-.9 .8-1 1-1.5 .2M439.8 56.2l-.5 1-1.6 1.1M437.7 58.3l-.7-.7-.6-1.7-.6-1M435.8 54.9l-1.1 .9-2-.7-.8 .8M431.9 55.9l-.2 1.4 .7 2M432.4 59.3l-.1 1.2 .6 1.3 .1 1.2-.1 1.2M432.9 64.2l-1-.9-.9-1.1M431 62.2l-.4-.9-.5-1.4-.1-1.6M430 58.3l-1.2-.3-.8-1.5-1.4-.6M426.6 55.9l-.3 2-.7 1.4M425.6 59.3l-.9 1.5 .5 1.4-.7 1.5M424.5 63.7l-.5 1.4-.9 .5M423.1 65.6l0-1.7-.9-.7M422.2 63.2l.8-1.6 .3-1.4-.9-1.4 .7-1.4M423.1 57.4l-.6-.8-1.1-1-1.3-.7M420.1 54.9l-1.1 .8-.8 0-1 1.6-1 .1M416.2 57.4l-1.1 .6-.1 1.6-.7 .7M414.3 60.3l1 .7 .9 1.7M416.2 62.7l-1.2 .1-1-.4-1.5-.9-1.3 .2M411.2 61.7l-1.6 .2-1.6 0-.8-1.3-1.8 .8-1.3-.6M404.1 60.8l-.8 2.1M403.3 62.9l-1-.3-1.6 .8-1-1-1.9 .3-.7 .6-1.6-.4M395.5 62.9l-1.4 .1-1 .3M393.9 64.5l-1.4 .4-1.1-1.1-1.5 .2-1.3 .1-1.1 .5-1.4-.8-1.6 .5M384.5 64.3l-1.2 .1-1.3-1.4-1 .1-1.2-.2M379.8 62.9l-1.1-.2-1.6 0M377.1 62.7l.3 2 .8 1.4M378.2 66.1l-1.4 .6-1.7-.4M375.1 66.3l-1.5 1-.6 1.4-1.1 .5M371.9 69.2l-1 .6-1.8 .6-1.1 .1M368 70.5l-1.1 .3-1.4-1.4-1.4 .3M364.1 69.7l-.9-1.6 .1-1.2M363.3 66.9l-.9-.9-1.5-.2M360.9 65.8l1.8-.1 1.4 .2M364.1 65.9l1-.2 1.9 .6 .7-.3 1.5 .3 1.3 .5 1.4 0M371.9 66.8l1.4-.7 .7-.8M372.7 64l-1.3-.2-1-.5-1.4 .1-1.1-1.5-.7-.1-1.6 .1M365.6 61.9l-1.8-.5-.9-.4-2 .2M390 58l1 .9 1.3 .4M392.3 59.3l1.3 .2 .6 .5 1.3 0 1.2-.2 .6-1.2 1 .6 1.1 .1M399.4 59.3l-.3-.9-1.2-.5-.4-1.1-1.2-.4M396.3 56.4l1-.6-.2-1.5M397.1 54.3l.7-.9 1.6 .4 1-.8 .7-.4 1.2-1.4 1 .3M403.3 51.5l1-.2 .9-.3 1.1 .5 1.6-.2 .9-1.2 .7 .1 .9 .2 1.4 .3 1.2 .2 .6-.3 1.6 .2 .7-.9M416.7 49.1l-1.3-.7-.7 .6-.8 1-1.6-1.4-.4 .9-1.3-.9-1 .8M409.6 49.4l-1-.2-.9 .7-1.3 .3-.9-1-1 .4-.9 .5-1.4 .9-1-.1-1-.2M400.2 50.7l-1.4-.1-.4 .6-1 1.4-1.1 .2-.8 .3M395.5 53.1l-.4 1.1-.9 .6-1.1 .8M393.1 55.6l-.8 1.2-1.7 .2-.6 1M379.8 42.7l1-.9 1.5 1.2 .7-.6 1-.4M384 42l1.2 .3 1.5-.8 .7 .1 1.2 .7M388.6 42.3l.9 .2 1.7-.2 .8-.7M392 41.6l1.3-.7 .5 .4 1.4 .8 .8-.3M396 41.8l.9-1 1.2 1.1 1.1-1.1 1.2-.1M400.4 40.7l1.2-.6 .7 1.6 1.4 .3 1.3-.5M405 41.5l1 .1 1-.1 1.1 .7 1.1-.2 .7-.3 .9 .1 1.3 .4M412.1 42.2l-.8 .6-1.2-.5-.4 1.6-1.5-.2M408.2 43.7l-.8-.8-1.5 1.2-1 .1-.9-.6M404 43.6l-1.1 .6-1.5 .5-1-.4M400.4 44.3l-1.3-.5-1.1-.3-.7 .9-1.3-.6M396 43.8l-1-.6-1.7 .3-.8 .8M392.5 44.3l-1.1 .6-1-1.5-1.7 1.2-.7-.9M388 43.7l-1.4-.1-.8 1.3-1.1-.6M384.7 44.3l-1.4 .2-.7-1.2-1 .7-1.1-.7-.7-.6M451.2 41.9l1.3-.3 1.7 .1 .8-.7M455 41l1.6-.4 .9 1.1 1.5-.5M459 41.2l1.2 .1 2 .8 .8 .9M463 43l1 1.1 2-.2 .8 .8M466.8 44.7l.8 .6 1.9-.4 1.2 1.1 1.3-.4M472 45.6l.7 .8 1.6-.7 1.2 1.2 1.1 .2M476.6 47.1l1.2 .1 1.3 .7 .9 1.2M480 49.1l-1.5-.2-1.1-.4-1.1 .2-1.7 0M474.6 48.7l-1.7-.9-1.7 .1-1.2-.3M470 47.6l-.9 .2-1.7 0-1.4-.8-1.1 .1M464.9 47.1l-1.3 .4-1.6-.6-1-.3M461 46.6l-1.7-.6-1.3 .2-1-.6M457 45.6l-.8-.7-1.7 .4-.7-1.2-1.6 .1M452.2 44.2l-.2-1.1-.8-1.2M524.3 51.5l1-.6 1.4-.5 1.1-.3 1.2 .3M529 50.4l.9-.2 1.8 .9 1.5-.7 .8 .7 1.2-.4 1.6 0M536.8 50.7l1.5 .6 1-.6 1.8 .7 .9-.1 1.2 0 1.5 .5M544.7 51.8l-1.2 .4-1 .5-1.7 .1-1.5-.6-.9 .4M538.4 52.6l-1-.4-1.8-.2-.8 .1-1.2 .1-1.5 .1M532.1 52.3l-1.1 .4-2.2-.4-1.4 .5M527.4 52.8l-1.8-.1-1.3-1.2M529 54.8l1.8-.7 1 .6 1.9-.3M533.7 55.2l-1.6-.5-1.3 .4-1.8-.3M540.8 51.8l1.4 .5 2 .2 1.3-.5M545.5 52l-1.1 .7-1.3-.1M543.1 52.6l-1.3-.2-1-.6M589.5 58.3l2-.4 1.4 .6 1.3-.5M595.4 58.8l-1.2 .2-2.1-.2-1.1 .3M385.3 61.6l2.3 .1M401.8 59.9l1.1 .9 1.2-.2M404.1 60.6l-2.3 .3M355.6 115.2l-1.2-.2-1.3-.6M352 113.9l.1-1.2-.1-1.2M352 111.5l-1-1.3M463.8 155.3l.3-1.6-.1-1.7M464 152l-1-1.6M463 150.4l.2-1-.5-1.4M462.7 148l-1.3-1.7M460.7 147.2l-1.9 1.1M457.2 148l.5-1.4-.2-1.1M457.5 145.5l-.5-2.1M466.2 152.2l.3 .8-.3 1.4M466.2 154.4l-.5 1.6-.8 .9M464.9 156.9l.2 1.9M465.1 158.8l1.5 1.3M466.6 160.1l.3 2M465.7 163.4l-.9-1.1-.2-1M476.4 141.8l-1.3 1.3M475.1 143.1l.5 1.3 .8 .6M476.4 145l1 1 .5 1M479.2 148l.2 1.1 .7 1.4 .7 1M480.8 151.5l.3 1.3-.3 1.6M480.3 155.4l-1.1 1-1.6 .6M476.4 158.7l-1.1 1-1 .1M473.7 160l-.2-1.5 .5-.8M471.5 166.1l0 2.1M471.5 168.2l.8 1.3 .3 1 .2 1.1M471.7 171.8l-1.2-1.1-1.4-.8-.9-.7M468.2 169.2l-1-1.1-.1-1M467.1 167.1l-.5-2.1M484.1 170l1.4-.7 1.1-.6M490.5 165.3l.3-.8 1.1-.9 .5-1M492.4 162.6l1.6 .9M494 163.5l.6 1.1 1.7 .9M496.3 165.5l-1.1 1.1-.8 .3M458.8 164.8l1 .5 1.5-.5 .9 .7M462.2 165.5l1.2 .7 .7 1.5M464.1 167.7l1.8 1.2 .7 .9M466.6 169.8l1.9 .9M468.5 170.7l1.1 .2 .7 1.6 1.4 .6M471.7 173.1l.5 .9-.2 1.5M472 175.5l1.2 1.5M473.2 177l1.4 .4 1 1.4M475.6 178.8l-.5 1.3-.1 .6 .4 1.2 0 1.4M475.4 183.3l-2 .2M473.4 183.5l-1.2-.7-.4-1-1.5-.6-.5-.8M469.8 180.4l-1.3-.9-.2-1.2-.7-.8M467.6 177.5l0-1-1-1.1M466.6 175.4l-1.1-.9-.9-1.4M464.6 173.1l-1.1-1-.3-.7-.2-1.2M463 170.2l-1.1-1.4-1.2-.9M460.7 167.9l-.4-1.1-1.1-.5-.4-1.5M474.3 184.9l1.6-1.3M475.9 183.6l1.5 .8 1.1 .5 1.2 0M479.7 184.9l1.8-.4 1.1 .6M483.4 184.3l1.4 .7 1.3 .2M486.1 185.2l1.5 1.3 1.2 0M488.9 188l-1.2 .1-1.3-.1-.8-.9-1.4 .3M484.2 187.4l-1.1-.7-1 0-1.3 .1-1-.4M479.8 186.4l-1.1-.3-.9-.4-1.4 .2M476.4 185.9l-1.1-.4-1-.6M494.4 170.3l-.3 2M494.1 172.3l1.9 0M496 172.3l-.9 .6-.6 .9-.9 1.4M493.6 175.2l-1.5 1.1M492.1 176.3l.2 1.5-.7 1.8M491.6 179.6l-1.9 .8M488.9 179.6l-.9-.1-1.4-.3M486.6 179.2l-2.1 .4M484.5 179.6l-1.3-.4-1-.6M482.2 178.6l.3-1-.6-1.6M481.9 176l-1.2-1-.4-1.6M480.3 173.4l0-1.9M497.3 172.6l1.7-.8M499 171.8l1.3 .4 1.3 .3 1.5-.1M503.1 172.4l1.3-1.1 1-.2M505.4 171.1l-.4 .8-.4 1.4M504.6 173.3l-1.4-.5-1.5 .6-1.4 .2-1.2-.5M499.1 173.1l-.7 .8-.4 1.5M498 175.4l1.9 0M499.9 175.4l1.6 .1 1.3-.1M502.8 175.4l-1.4 .5-1.3 1.1M500.1 177l.3 1.1 .8 1M499.9 180.4l-.2-1.5-.7-.6M498.2 178.8l.2 1.4 .1 1-.3 1.6M496.8 182.8l.3-1.9-.5-1.3M495.7 178.3l.1-1 .3-1 1-1.2 .2-1M488.9 187.2l1.9 .3M492.5 187.7l1.1 .2 1.3-.6 1.1 .2M496 188.2l-1.9 .2-1.2 .1M497.4 187.7l1.3 .3 1-.3 1 .1 1.6-.4M502 188l-1 .5-1.4-.7-.9 .9-1.1-.4M496 189.3l1.1 .8 1.7 0M497.6 190.4l-1.6-1.1M503.1 190.6l.5-1.1 1-.7M510.1 170.3l.6 .9 .5 1.1M511.2 172.3l-1.1 1.6M509.8 174.4l-.5-2.1M510.1 178.8l1.1-.2 .8 .6 1.5 .1 1-.2M514.1 179.9l-1.6 .3-1.1-.3-1-.3M507 179.1l1.9 .1M528.8 187l-1.8-.1-.8 .6M526.2 187.5l-.8-1.8M526.9 185.1l-.3-1.6-.8-.7M525.8 182.8l-1.2-.2-1.2-.8-1.5-.8M521.9 181l-1.3 .1-1.8-1M517.7 180.4l-1.3-1.8M516.4 178.6l1.1-.6 1.6 0M519.1 178l-1.6-.2-1.1-.7M516.4 177.1l-1.6-.9M514.8 175.2l1.4-.7 1 0M517.2 174.5l1.1 .8 1.3-.1M519.6 175.2l.3 1.9M519.9 177.1l.4 2.1M521.9 179.4l.3-1.2 1-.7M523.2 177.5l.8-.7 1.5-.5M525.5 176.3l1.3 .4 1.4 .8M476.1 176.7l.3 2.1M475.3 178.4l-.8-1.9M532.9 179.1l1.3 .5 1.8 .5M536 180.1l.8 1 .5 1.1 .8 .5M538.1 182.7l1.6 .7 1.1 .2M540 185.2l.7 .7 .8 1M541.5 186.9l1 .9 .2 .8 1.2 .7M543.9 189.3l.9 1.2 1.1 .1M544.4 190.9l-1.1 .1-1.8-.7M541.5 190.3l-1.5-1M540 189.3l-.2-1.1-1.4-1.3M538.4 186.9l-1.3-.7-1.1 0M536 186.2l-1.5 1.2M542.2 182.8l1.4 .2 1.1-.2M544.7 182.8l1.2-1.5 1.1-.6M547.8 182.5l-1.1 .9-1 .4-1 .3M544.7 184.1l-1.3-.4-1.2-.4M545.9 178.1l.8 .8 .6 .8 1.3 .4M549.1 180.9l-1.1-1.5-1.4-.5-.7-.8M498.5 143.9l1.4 .5 1.1-.3M501 144.1l.4 1.2-.2 1.9M500.1 148.3l.2 1.5-.1 .9M500.2 150.7l2.1 .7M502.3 151.4l.5 1.1 1.1 1M501.5 151.9l-1.9 0M497.7 149.9l.4-1-.7-1.4M500.9 161.3l1.5-.6 .7-.9M503.1 159.8l2-.3M505.1 159.5l1.1-1.5M506.2 158l.2 1.5 1.2 .2 .2 1.2M507.8 160.9l-.7 1.8 .4 1M506.1 164.7l.4-2.1M506.5 162.6l-1.6 .3-.7 .9M504.2 163.8l-.3-2.1M503.9 161.7l-1.9 .7-1.3 .2M504.3 153.6l1.9 .4M506.2 154l.3 2.1M505.4 155.6l-.6-.7-.5-1.3M502.3 155.3l-1 .7-.6 .9M500.7 156.9l0-2.1M502.3 156.2l-.2 1.5 .7 1.3M501.5 158l.8-1.8M504.6 155.6l.8 1.8M505.1 157.5l-.5-1.9M493.2 160.3l.7-.9 1.1-.9 .5-.7 .3-1.4 1-.8M496.5 156.9l-.7 1.1-.8 .8-1.4 1M503.9 155.7l.1 1.3-.8 1.3M503.2 158.3l-.3-2.1M481.1 141.5l2.2 0M483.3 141.5l-.7 1.9M482.6 143.4l-1.5 1M182.9 292.6l2.1-.2 1-.8M186 291.6l.9-.6 1.1 .4 1.4-.3M189.4 291.1l1.5-1.2 1.1-.3M192 289.6l-1.5-1M190.5 288.6l1.2 .5 1.3-.1 1.6-.5M194.6 288.5l1.2-1.3 .2-1.2M196 286l1.9-.2 1.1-.5M199 285.3l-.9-1.3 .4-1M198.5 283l1.3 .2 1.4-.7 1.2-.6M202.4 281.9l.9-1.2 .7-.9M204 279.8l1.4 .1 .7-.9 1.4 .6M207.5 279.6l1.6 0 1.1-.9M210.2 278.7l.6-1 1.2-1.1M212 276.6l1.5-.6 .9 .1 1.4 .4M215.8 276.5l1.2-.4 1-1.5M218 274.6l1.5-.2 .7-.1 1.5-.9 1.3 .2M223 273.6l-.9 .8-.8 1-.7 .4-1.6 .2M219 276l-.7 1.2-1.4 0-.9 .6M216 277.8l-1.3 .3-1.2 .9M213.5 279l-1.1 .4-1.4 1.2M211 280.6l-.9 1.6M210.1 282.2l1.6 1.4 1.1 .4M212.8 284l.3 1.2 .6 1 .9 .9M214.6 287.1l.6 1.6-.9 1.2 .7 1.2M215 291.1l-.3 1.4-1.7 1M213 293.5l-1.5-.1-1 1.1M210.5 294.5l-1.3 1.2-1.6-.1M207.6 295.6l-.9 .6-1.9 .1-.5 .2-1.3 1"/>
<path style="stroke-width:1.25" d="M194.4 47.1l1-.2 1.5-.6 1.4 0 1-.8 .6-.7 1.5-.5 .9-.4M202.3 43.9l1.1 .5 1.6-.3 .4-1.6 1.5 1 1.6-.8 1.1-.5 1.1-1.1 1 .2M218 51.5l-.9-.6-1.5-.6-1.6 1-1.4-.5-.9-.4M211.7 50.4l-1.5-.2-1 .8-1.4 0-1.1 .1-1.2-1.1-1.6 .7M203.9 50.7l-1.1-1.2-1.1 0-1.6-.7-1.2 .2-1.3-.2M197.6 48.8l-2.2-.4-1-1.3M108.1 60.1l1.3 0 .8 1.1 1.2-1 1.4 1M112.8 61.2l.8-.5 1.7-.4 1.5 .5 .6-.7 1.7 .7M119.1 60.8l1.3-.6 1.7 .3 1.4 1.2 1.4-.6 1.2 .3 .8 1.3 1.6-.5M128.5 62.2l1-.2 1.5 1.1 .9 .2 2.2-.8 1.4 .7 .8 .6M136.3 63.8l1.4 .3 1.8-.8M139.5 63.3l1.5 .8 1.5-.4 1.2 .7 1.3 0 1.1-.4 1.4 0 1.4 0M148.9 64l1.3-.7 1.1 1 1.3-1.8 1.1 .9 1.5-.5M155.2 62.9l1.1 .8 2-.4M158.3 63.3l.9-1.6-.9-1.3M158.3 60.4l1.6-.5 .2-1.3 .6-1.2M160.7 57.4l.6 1.6 1.9-.4 .4 2.1 1 .5M164.6 61.2l1.3 .9 1.8 .8M167.7 62.9l1 1.1 2.2 .5M170.9 64.5l.6-1.6 .6-.3 1.3-.9 1.2-.4 1-.5M175.6 60.8l1 .8 2.4-1.4 1.3 1M180.3 61.2l0 2.2 .8 1.1M181.1 64.5l-1.1 1.5-2.2-.7-.6 1.1M177.2 66.4l-.9 .6-2-.5-1.1 .4M173.2 66.9l-.3 1.8-.9 1.1-1.1 .4M170.9 70.2l-1.6 0-.3 .9-1.6-.2-1.3 .9-.8 1.5-1-.2-1.3 .3M186.6 72.7l1.3 .4 1 .5 2.1-.5 .8 0 1.5-.4M112.8 92l-1.3-1.2-.7-.6-2 .2M108.8 90.4l-.7-1.6M107.6 91.6l1.4-.3 1.3 1 .7-.3 1.5 .5M112.5 92.5l1.4 0 .3 2 .9 .9M115.1 95.4l-1.1-.7-1.2 .4M112.8 95.1l-1.9 0 .5-2.1-1.2-.6-1.3-.4-1.3-.4M183.4 54.4l.9 .6 1.9 .7 1.2-.2 1-.1 1.3 .5M189.7 55.9l1.6-.2 1.2 1.3 1.5-.2 .3 1.1 1.7 .1M196 58l1.6 0 1 .6 1.1 1.2 1.1 .5 1.5-.2M202.3 60.1l.9 .6 .7 1.4M203.9 62.1l1.2 .3 .8 1 1.1 .6 1.4-1 .6 1.9 1.7-.2 1 .6M212.5 66.1l-1.7 0-1 2.1-1.2-.2M208.6 68l-1.7 .1-1.2-.8-1.5 .3-1.1-.7M203.1 66.9l.9 1 .8 1.5 1.9 .3 .3 1.3M207.5 72.1l-1.5 .5-1-.6-.6-1.3-1.9 .7-1-.8M201.5 70.6l1.6 .2 .8 2.2 1.5 .4M205.4 73.4l-1.2-.6-1.6-.2-1.2-.4-1.2 .1-1 0M199.2 72.3l-1.8 0-1.4-1.7M196 70.6l-1.4 .4-1.1-1.6-1.4 .1M192.1 69.5l-1.5-.7-1.5 .4-1.3-.6-1.2 .7M186.6 69.3l1.6-1.3M188.2 68l1.7 .2 1-1.2 2 .7M193.7 66.1l.6-1.3 .1-1.5M194.4 63.3l-1.1-.9-1.1-.5-1.2 .1-1.3 .1M189.7 62.1l-1.2-1.4-1.2-.2-1.5-.1M185.8 60.4l-1.3-.5-1 1.2-2.2-.9-1 .2M180.3 60.4l-1.8-.9-1.7 .8-1.2-.7M175.6 59.6l-1.8 .2-1.1-.6-1.4 .6-1.2-1M170.1 58.8l-1.3-.5-.6-1.8-.5-.9M167.7 55.6l1.6-1.3M169.3 54.3l1 .6 1.5-1.3 1.5 1.7 1-.1 1.3-.4M175.6 54.8l1.4 .1 1.4-1 1.2 .1 1.2 .8 1.3-.3 1.3-.1M125.3 60.1l.9 1.1 1.6-.1 1.8-.6 .4 1.1 1.6 .1M131.6 61.7l1.6 .9 1 .3 1.6-1.1 .8 .1 1.1 1 1.8-.4M139.5 62.5l1.6-.6 1.9 .7 1.2-.5M144.2 62.1l1-.6 2.1 .2 .7-1.2 1.7 .3M149.7 60.8l-1.2-1.4-1.2 1.3-1.2-1.1-1.1-.8M145 58.8l-.5-1.2-.3-1.7M144.2 55.9l-1.9-.8-1.3 .5-1.5-.4M139.5 55.2l-1.3-.5-1.2 .4-1.2 .9-1 .5M134.8 56.5l-1.1-.9-1.7 .8-.8-1.1-1.3 .8-1.4-1.2M128.5 54.9l-1.9 .2-.2 1.7-1 .5-1.7 0-1.5 .5M122.2 57.8l.3 1.2 1.4 .4 1.4 .7M112 57.2l1.2-.5 1.5 2 1.2-.2M115.9 58.5l1.3-.3 1.8 .4 1.6-.6M120.6 58l1.1 .1 1.9-.7 .6-1.7 2 1 .7-1.1M126.9 55.6l-.3-1.4-2-.7M124.6 53.5l-1.2 .3-1.5 .1-1.8-.5-1-.3M119.1 53.1l-1.7 .8-.9-.9-2 .2-.9 .7M113.6 53.9l-.2 1.6-1.3 .2-.1 1.5M167.7 49.9l1 .3 1.6 .5 1.1-.4 1.5 .3 1.1-.5M174 50.1l1.6-.5 1.4 0 .9 .8 1.4-.6 1.2-.4 1.4 1.2 1.5-.2M183.4 50.4l1.3-.9 .5-.5 1.4-.7M186.6 48.3l1.8-1.4 1.3-.2M189.7 46.7l.9-1.1 1.5-.6M192.1 45l1.6 .5 .5-1.7 1.8-.1 1.2 1 1.2-.7 1.7-.5 1.3 .5 .9-.8M202.3 43.2l1.4-.4 1.3 .2 .9-1.3 1.6 1.2 .6-1.8 1.3-.3 1.4 1.3 .9-1M211.7 41.1l-1-.1-1.6 .4-.9-1.1-1.6-.1-1.2 0M205.4 40.2l-1.4 .2-.9 .3-1.6-1.1-.9 .9-1.7-1.1-1.5 .1-1.1 1.2-.9-1.2-1.4-.1-1.3 .9-1.4-.6M191.3 39.7l-.9 .2-1.4-.6-1.2 .4-1.6-.2-1.3 1.1-.6 0-1.4 .2-1.2-1.2-1.4 .4M180.3 40l-.9 .2-1.6 .9-1.2-1-1.6 .9-.8 .5-1.2-.1-1.3-.3-1.1-.3-2 .5-.9 0M167.7 41.3l-1.5 1-1.6-.2M164.6 42.1l1.9-.3 .4 1.3 1.1 .6 1.7-.3 1.9 .4 .9 .4M172.5 44.2l-1.2 .1-1 1.2-1 1.2M169.3 46.7l-.9 .4-.6 1.2-.1 1.6M164.6 49.7l1.5-.4 .9 .7 1.8 0 1.5 .2 .9 1.7 1.5 .2 1.3-.6M174 51.5l1.2-.6 1.6 .5 1.2 .7 1.7 .9 1.3-.2 1.4-.6 1 .8M183.4 51.4l-1.3-.2-1.3-.6-1-.2-1.3 .4-1.3-.1M177.2 50.7l-1.4-.8-1.5 1.1-.7-1.1-2 .5-1.4 .4-.9-.7M169.3 50.1l-1.5-.8-1.7 .1-1.5 .3M158.3 44.2l1.7-.3 1 2.2 1.7-.6 .6 1.1 1.9-.5 1 .9M166.2 47l1.6 .2 1.5-.3 .3-1.3 1.4-.5 1.5-.1M172.5 45l-1.8 .4-1.1-.4-1.3-1.6-.8 .2-1.3-1.3-1.6 .3M164.6 42.6l-1.2-.4-1.2 1.8-1.5-1.2-1.3 .6-1.1 .8M125.3 52l1.6 .4 1.3-.8 .6 1.9 1.7-.9 1.8-.1 .9 .8M133.2 53.3l1.4-.9 1.6 .8 .9-1.1 1.5 1.5 1.4-1.4 1.7 .8 .9-.7M142.6 50.7l-1.5 .3-1.2-.8-.8 .7-1.7-1.1-1.1 .1M136.3 49.9l-1-.7-1.9 1-1.4-.7-.7 1-2 .3-1-.8-1.4 .2M126.9 50.2l-1.6 1.8M148.9 55.6l.8 1.1 1.4 .4 1.6 .2 1.8-1 .9 1.9 1.3-.4M156.7 57.8l1-1.1 .6-1.1M158.3 55.6l1.6 0 .8 1.5 .7 0 1.6 .1M163 57.2l.8-.9 1.2-.3 .9-1.7 1.1-.4M167 53.9l-1.5 .1-1 .2-2.1-.8-1 .7-1.5-.3M159.9 53.8l-1.4-.4-1.8 1M156.7 54.4l-1.4 .4-1.3-.9-2 .2M152 54.1l-1.7 1.6-1.4-.1M145.8 52l1.2-.8 1.5 1.6 1.2-1.4 1.1 1.5 1.7-1.4 1.3 .3 1.4 .5M155.2 52.3l1.2-.6 .9-.1 1.7 .2 1.2 .5 1.3-.8M161.5 51.5l-1.3-.7-1.1 .1-.8-1.3M158.3 49.6l-1.3 .5-1 0-1.8 .5-1.7-.9-.6-.4-1.3 1.4-1.7-.6M148.9 50.1l-.9 1-1.4-.1-.8 1M172.5 67.6l1.8 .6 1.8-.7 1.1 .5M177.2 68l1.6 .2 1 .3 1.3 1 1.1-.2 1.2 1.3M183.4 70.6l-.6 1.3-2.4 .2-1.5-.4-.9 1.2M178 72.9l-1.3-.3-1.8-.4-1.3-1.3-1.1-.1M172.5 70.8l1.5-.8 .8-.7M174.8 69.3l-.7-1.5-1.6-.2M152.8 62.1l1.1-.7 1.8 .6 1 .9M156.7 62.9l1.1-.6 1.3-1.1M159.1 61.2l-1.3-.4-1.7 .4-.9-.8M155.2 60.4l-1.4 .1-1 1.6M115.1 50.4l1.4 .5 1.8 .6 .9-.3 1.8-.9 1.2 .9M122.2 51.2l1.4 .2 .6-1.4 1.7-.1 1-.8M126.9 49.1l-1.1-.9-.8-.4-2 1-.8-.9M122.2 47.9l-2-.6-.7 1.4-2-.1M117.5 48.6l-1.2 1.5-1.2 .3M143.4 47.5l1.7-.6 1.2 1.6 1-.4 1.6-.2M148.9 47.9l1.2-1.1 .8-.2 2 1 .7-.9M153.6 46.7l-1.7-.4-1.4-1.1M150.5 45.2l-1.1 .8-2-.7-1.2 1.1-1.2-.6M145 45.8l-1.6 1.7M154.4 47.5l1.3 .4 1.8-.3M158.3 46.2l-2.3-.2M156 46l-1.6 1.5M181.9 54.6l1.2 .3 .9 .1 1.5 .2 1.1 .7M186.6 55.9l1.5 .5 1.6-1M189.7 55.4l-.7-.9-1.6-.2M187.4 54.3l-1.7-.5-1.5-.1-1.4 .1-.9 .8M187.4 64.3l.7 .9 1.6-.4M190.8 63.7l-1 .2-1.3-.7M178.7 71.9l1.4-.6 1 1.1M181.1 72.4l1.4 .1 .9 .7M183.4 73.2l-1.5 .7-1-.5-1.4-.3M134.8 47l1.8-.2 1.3 .8M137.1 46.5l-1.2-.1-1.1 .6M157.5 51.4l1.2 .5 2-.2M160.7 51.7l1.5 1.1M162.2 52.8l-1.5-.3-1.2 0-1.2 0M196.8 62.9l2.4 .3M128.5 47.6l1.3 1 1.8-.5M130.8 47.1l-1.4-.6-.9 1.1M101 86.4l.6 .8 .5 1.1M103.3 89.3l-1.5-1.3M101.8 88l-.8-1.6M104.9 83.9l-1.6 .5-.7-1.3M102.6 83.1l-1.1 .5-1.3-1.3M100.2 82.3l.8 1.6M101 83.9l1 .6 1.9 .2 1-.8M99.4 81.5l-.5-1.7-1.8 .1M95.5 80.2l1.8 1 .6 1.1M97.9 82.3l1.5-.8M107.3 88.8l-.1-1.5-1.5-.1M114.3 98.8l-1.3-.9 1.6-1.8-1.4-.7M113.2 95.4l1.3-.5 1.4 .9M116.7 96.9l-.3-1-.2-1.4M48.4 74l.1 1.4 1.4 .4M49.9 75.8l1.1 .4 1.4 .5 1.5-.1M53.9 76.6l.8 1.7M54.7 78.3l1.4 1.3 1.7-.9M57.8 78.7l1.2 .7 1.6-1.7 1.1 1M61.7 78.7l.7 1.2-1.5 1.1M60.9 81l-1.1-.2-.5 1.6-1.4 .1-.9 .6M57 83.1l-.4 1.1-1.7-1.2-1 1.3M53.9 84.3l-1.4 .9-.6 .6-1.8-.4M50.1 85.4l1.4-.6 1.6 .3M53.1 85.1l2.2 .3 .9-1.1M56.2 84.3l1.1-1.4 2 1.6 .9-1.4M60.2 83.1l.6-1.4 1.6-.2 1.2-.2M63.6 81.3l.9-1.1 1.3 .5 1-1.3M66.8 79.4l1.6-.6 .4-1.7M68.8 77.1l.2-1.6 1.4-.2M70.4 75.3l1.5-1.2 1.6 .6M73.5 74.7l-.9 .6-.2 1.7-1.2 .8M71.2 77.8l1.2 0 1.2-.4 1.5-.8M75.1 76.6l1.4 0 .6-.5 1.1-.9M78.2 75.2l1.4-.6 1.8 1.4M81.4 76l1.3 .6 .8 .2 1.2-1.1 1.4 .9M86.1 76.6l1.4 1.2 1.7-.7M89.2 77.1l1.1 1.2 1.2-.7 .9 .7M92.4 78.3l1.1 1.6 1.2-.5M94.7 79.4l.8 1.4 1.6 .7M97.1 81.5l.4 1.4 .9 .9 1 .1M99.4 83.9l1.4-.2 1.8 1M66.4 80.7l2.2-.2 1-.6M69.9 81l-1.3 .2-1.4 .6M46.8 76.3l2 0M193.2 240.4l1.8 .9-.2 1.5M194.8 242.8l.3 1.4-1.4 1M193.7 245.2l.4 1.2-1.2 1.3-.8 .8M192.1 248.5l-1.4-.1-.3 1.2M190.4 249.6l.1 1.4 1.6 .7M192.1 251.7l.2 1.7-2 .1 .2 1.5M190.5 255l1.2 .7-.8 1.5 .7 1M191.6 258.2l1.4 .9 .7 1.2M193.7 260.3l.7 1 1.1-1.1 .8 1.1 1.3 0M197.6 261.3l0-1.6M202.3 264l-.9 .3-1.5-.2-.7-.7M199.2 263.4l-1.6 .1-.9-.1-.7-1.2M196 262.2l1.6-.8M193.8 242l1 1.3-1.1 1M192.2 243.9l1.4-.9-.7-1.3M201.8 260.3l1.1 .2 1 1.3M203.9 261.8l1 1.1 1.8-.3M325.6 77.5l-1.6 1.1M324 78.6l-1 1.4-1.3-.3M320.1 79.9l-1.3 .2-1.1-1.5M317.7 78.6l-1.2-.8 .5-1.5M317 76.3l-1-1.2 1-.9M317.3 73.1l.8-1.1 .8-.5 1.2 .3M320.1 71.8l1.1-1.4 1.2 .6M322.4 71l.6-1.2 1.9 .8 .7-1.3M325.6 69.3l1.7-.7 .6-.9M327.9 67.7l1.6-.2 0-1.4M329.5 66.1l1.3-.3 .5-1.2 .6-.4M331.9 64.2l1.5-.9M333.4 63.3l1.1-1.5 1.3 .3M335.8 62.1l1.1-.2 .6-1.3 1.4 .2M338.9 60.8l.7-.6 1.5 .5 1-.4M342.1 60.3l1-.9 1.4 1.1 .6-.2 .9-.8M346 59.5l1-.9 1.2 1.2 .9-1.2M349.1 58.6l1.6 .9 .9-.9 1.5 .2M353.1 58.8l1.3-.3 .9 1.5 1.2-1.3 1.3 1.2M357.8 59.9l-1.6 1M326.4 44.9l1-.2 1.6-.2 .7-.7 1.4 .4M331.1 44.2l1.3-.9 1 .3 .5 1.5 1.3-1.2 1.3 .8 .9-.3M337.4 44.4l1.3 0 0 1.5 1.2 .4 .9-.1 1.3 0M342.1 46.2l-1-.6-.7 1.4-1.5-.2M338.9 46.8l-.8 .5-1.2 .1-.5 1.5-.6 .7M335.8 49.6l-.9-.7-1.8 .1-.9-.7-1.1 0M331.1 48.3l-1.4-.4-.9 .1-.9-1.3M327.9 46.7l-.3-1.4-1.2-.4M337.4 43.7l1.1 .1 1 .2 1.2 .5 1.1-.2 1.2-1.1 1.1 1.3 1.1-.9M345.2 43.6l.8-.6 1.3 .8 .8 .5 1.3-1.2 .8 1.8 1.3-.7M351.5 44.2l-1.7-.6-.3 2.1-1.5-.4-1.2 .1M346.8 45.4l-1.2 .4-1.2-.9-1.2-.4-.9 1.1-1.3-.4-1.2 .7-.9-1M338.9 44.9l-1.5-1.2M342.1 47.1l1.5-.5 .6 1.7 1.4-1.5 1.2 1M346.8 47.8l-1.2 1.3-1.2-.5M344.4 48.6l-1.3-.3-1-1.2M326.8 79.4l1.1 1.6M335.2 80.7l-.4-1.4 1-.6M335.8 78.7l.3-1.1 1-.8 1.5 .2M338.6 77l-1.8 0-.5-1.5M336.3 75.5l-.7-1.2 .5-.9M336.1 73.4l1.3-1.5M337.4 71.9l.8-1.1 1.1-.7 1.2 .5M340.5 70.6l.4-1.3 1.7-.1M342.6 69.2l1.1-1.5M337.7 81.5l1.2-1.5M348.8 68.5l-1.2 1.2M347.6 69.7l-.5 1-1.5 .8-1.2 0M344.4 71.5l-.7 1.2-1.1-.1M342.6 72.6l.4 1.1-.3 1.3M342.7 75l.3 1 1.4 .6M346 76.8l1.3 .6 .5-1.5 1.3 .4M322 81.8l.6-.8 1.4 .2M324 81.2l1.7-.8M325.7 80.4l-.4 1.6M346 77.9l1.1 .3 .9-.1 1.1-.8"/>
<path style="stroke-width:1.0" d="M332.7 105.8l-.5-.7-1.1-.6M330.3 103.2l-1.6-.9M328.7 102.3l-.3-1.7M336.6 104.4l-.8-.7-1.6-.3M334.2 103.4l-1.2-1.1M333 102.3l-1.1-1.7M516.4 103.9l1.9 .6M518.3 104.5l1.1-.9 .5-.1 .8-1.1 1.2-.5M521.9 101.9l.5-1 1.2-1 .7-.6M537.6 102.7l1.6-.9M540 101.3l-1.5 .7-.9 .7M512.8 107.8l-1.5 .5-1.2 .3-.8 .8M512.3 113.9l-.1 1.2 .3 1.3M512.5 116.4l-1.6 .9M530.4 106.6l.9 1.6M531.3 108.2l.8 1.7M532.1 109.9l-.5 1-1 1.1M530.6 112l-.2 2.1M530.4 114.1l-.2 1.9M530.2 116l-1.5 1.2M527.1 117.7l-1.7 .4-1.1-.3M524 118.3l-1.6 1.3M522.4 119.6l-1.3-1.8M521.1 117.8l-1.3 .5-1.8 0M514.7 118.3l1.4-.5 1.1-1.3M517.2 116.5l.9 0 1.5-.1M519.6 116.4l1.4-.4 1.7 0M522.7 116l.2-1.2 1.1-1.4M524.3 114.2l1.3-.6 1-.3M526.6 113.3l.8-.6 .8-1.2M528.2 111.5l.6-1.3 .2-.8M529.8 103.7l.8-1.1-.2-1 1.1-1.3M531.5 100.3l1.3 .6 .9 1.2M533.7 102.1l1.5-.2 .9-.1 1.2 .3M537.6 103.7l-.7 .8-1.8 .4-.6 .9M534 105.8l-1 0-1.3-1M514.8 118.9l1.5 1.2M516.3 120.1l-.1 1-.6 1.4M513.6 123.2l0-2M517.2 118.8l1.2 .2 1.9-.5M519.9 119.9l-1.9 .8M580.3 229.7l1.3 1.3 1.3 .4M582.9 231.4l.7 .9 1.1 .8M584.7 233.1l.8 1.7M585.5 234.8l1.2 .2 2-.2M589.5 235l-.4 1.5-.7 .9M587.1 237.9l-.8 1-.3 1.5M586 240.4l-1.6 .9M583.5 240.8l.5-2.1M584 238.7l-1.9-1.1M582.1 237.6l.9-1 .3-1.1M583.5 233.9l-.9-.7-.6-1.2-.9-1.4M580.3 239.6l1.3 .1 1.3 1M582.4 241.8l-.9 .7-.7 1.4M580.5 244.9l-1.4 .5-1 .3M578.1 245.7l-.3 1.7-.4 .9M577.4 248.3l-1.2 .4-.9 .7M575.3 249.4l-1.9-.1M573.4 249.3l-1.5 0-1.3-.8M570.6 248.5l.8-1.7M571.4 246.8l1.2-.4 1.1-1.2M573.7 245.2l1.3-.7 .8 0 1.1-.9M576.9 243.6l1-1 .6-.9M578.5 241.7l1.1-1.7"/>
</g>
</g>
</g>
<g class="k">
<rect x="1443.2" y="57.5" width="25.6" height="26.2" fill="#FF6F00"/><text class="t" x="1477.7" y="74.9" font-size="13.1">0~1</text>
<rect x="1443.2" y="83.7" width="25.6" height="26.2" fill="#C71000"/><text class="t" x="1477.7" y="101.1" font-size="13.1">1~2</text>
<rect x="1443.2" y="109.9" width="25.6" height="26.2" fill="#008EA0"/><text class="t" x="1477.7" y="127.2" font-size="13.1">2~3</text>
<rect x="1443.2" y="136.0" width="25.6" height="26.2" fill="#8A4198"/><text class="t" x="1477.7" y="153.4" font-size="13.1">3~4</text>
<rect x="1443.2" y="162.2" width="25.6" height="26.2" fill="#5A9599"/><text class="t" x="1477.7" y="179.6" font-size="13.1">4~5</text>
<rect x="1443.2" y="188.4" width="25.6" height="26.2" fill="#FF6348"/><text class="t" x="1477.7" y="205.8" font-size="13.1">5~6</text>
<rect x="1443.2" y="214.6" width="25.6" height="26.2" fill="#84D7E1"/><text class="t" x="1477.7" y="232.0" font-size="13.1">6~7</text>
<rect x="1443.2" y="240.8" width="25.6" height="26.2" fill="#FF95A8"/><text class="t" x="1477.7" y="258.1" font-size="13.1">7~8</text>
</g>
<g transform="translate(0,328.5)">
<text class="t" x="5.2" y="20.4" font-size="20.1" font-weight="bold">C</text><text class="t" x="24.5" y="20.4" font-size="20.1">Number of deaths cases</text>
<g class="m">
<g fill="#FF6F00">
<path d="M194.4 47.1l1-.2 1.5-.6 1.4 0 1-.8 .6-.7 1.5-.5 .9-.4 1.1 .5 1.6-.3 .4-1.6 1.5 1 1.6-.8 1.1-.5 1.1-1.1 1 .2 1.6-.5 1.2 .1 1.2 .1 1.2 .1 1.2 .4 1.9-.3 1.2-.7 1-.3 1.7 .2 1 .5 1-.3 1.5-.3 1.3-.6 1.4 .1 1.5 .6 1.1 .1 2-.4 .8 .3 2-.6 .9-.1 1-.6 1.9 .6 1.3-.7 .7 .8 1.4-.8 1.9-.4 1.3 0 1.1 0 .9 0 2 .4 .7-1 1.5 .4 1.8-.4 .7 .9 1.4-.1 1.4 .2 2 .1 .8-.4 1.5-.3 1.4 0 1.6 .5 1 .5 1.2 0 2.1-.3 .9 .8 1.3-.3 1.3 .6 1.8-.1 1.8 .8 1.3 .7 1.4 0 1.4 .4 1 0 1.9-.7 .9 .4 1.4 .3 1.8-.7 1.1 .5-1.6 .3-1.3 1-1.3-.6-1.1 .6-1.5 1.1-1.1 0-1.2 1.1-1 .1-.9 1.3 .9 1.7-.2 1.5-1.6 0-1.6 1.6-1.5 0 1.2 .8 2 .8-1.2 .5-1.5 .8-1.3 1.2 0 2.4-1.5 1.9-1 .9-2.2 .4-1.5 .9-1.6 .3-1.1 .6-2-.4-1.6 .7-1.8 .3-1.3 1.4-1.6 .3-1.7 1-2 .3-1 .6-1.4-.4-1.7 .6-1 .7-1.4-.4-.3 1.1-1.8 .9-.3 1.3-.6 1.4-.8 .7-1 1.1-.7 1.7-.8 .7-2.4-.1-1.3-.7-2.2-.8-1.2 0-1.3-.4-1.2-.8-.6-1.2-1.1-1.4-1.3-1-.9-1-1.1-1.1-.3-1.2-.8-2.4 1.3-.6 1.1-1.2 1.5-.6-1.7-.7-1.4-.3-1.6-.7-.8-2.4-1.6-.9-.8-1.5-1-2-1.4-1-.7-1.1-.9-.6-1.5-.6-1.6 1-1.4-.5-.9-.4-1.5-.2-1 .8-1.4 0-1.1 .1-1.2-1.1-1.6 .7-1.1-1.2-1.1 0-1.6-.7-1.2 .2-1.3-.2-2.2-.4z"/>
<path d="M87.6 61.1l7.9 1.1 3.1-1 9.5-1.1 1.3 0 .8 1.1 1.2-1 1.4 1 .8-.5 1.7-.4 1.5 .5 .6-.7 1.7 .7 1.3-.6 1.7 .3 1.4 1.2 1.4-.6 1.2 .3 .8 1.3 1.6-.5 1-.2 1.5 1.1 .9 .2 2.2-.8 1.4 .7 .8 .6 1.4 .3 1.8-.8 1.5 .8 1.5-.4 1.2 .7 1.3 0 1.1-.4 1.4 0 1.4 0 1.3-.7 1.1 1 1.3-1.8 1.1 .9 1.5-.5 1.1 .8 2-.4 .9-1.6-.9-1.3 1.6-.5 .2-1.3 .6-1.2 .6 1.6 1.9-.4 .4 2.1 1 .5 1.3 .9 1.8 .8 1 1.1 2.2 .5 .6-1.6 .6-.3 1.3-.9 1.2-.4 1-.5 1 .8 2.4-1.4 1.3 1 0 2.2 .8 1.1-1.1 1.5-2.2-.7-.6 1.1-.9 .6-2-.5-1.1 .4-.3 1.8-.9 1.1-1.1 .4-1.6 0-.3 .9-1.6-.2-1.3 .9-.8 1.5-1-.2-1.3 .3-2.3 3.2-.5 2 3.6 2.9 5.5 .3 6.3 2.5 4.2 .3 .5 3.4 2.4 2.7 2.3-.3 .8-1.2-.4-1.4-.1-1.4 .7-1.1 .3-1.1 1.2-1.3 1.1-.6-.8-1.7-.8-.8-1.2-1.1 .9-.6 .7-1.5-.4-1 .1-1.9-.5-1 1.3 .4 1 .5 2.1-.5 .8 0 1.5-.4 1.3 .7 1 .8 2.1-.2 1.5 1 .8 1.5-.1 1.8 1.2 .9 2 .2 1-.5 1-1.9 1.1-.8 1.6 0 .4 1.1 1.4 .6 0 1.4 1.6 .2 .5 1.2 1.7 1.2 .8 .8 .7 1.6 1.2 1 1.7 .6 1 .5 1.3 .6 0 1.2 1.5 .6-1 1.1-1 .5-.8 1-1.8 .2-.8-.3-1.3 1.2-1.3 .6-1 0-1.5-1-.9-.2-1.6 .5-1.7-.6-.9 .7-1.3 0-.7 1.1-1.5-.2-1 1.1-.5 1.3-1.1 .8-1.5 .8 .7-.7 1.6-.6 1.7-.1 1.2-.3 1.3-.2 .8-1.1 1.3-.3 1.1 1.2-1.1 1.1 .3 1.3 1.3 1.3 1.5-.5 1.2 .6 2 .6 1.6-1.2-.3 1.5-1.3 .6-3.9 1.2-3.2 1.6-1.1-.8 2.7-2.1-3.9 .6-1.3-1.3 0-2.2-.8-.4-1.4-.1-1.2 1.1-1.3 2.3-1.1 .5-5 0-2.5 1.3-.8 .9-3.8 .2 .5 .3-.2 .8-5.5 1.8-.9-.8 .9-.7 .2-.6-.2-3.7-1.5-.8 0-.4-1.6-.8-.5-.5-5.6-2.4-1.8 .5-3.9-.5-4.1-.6-.9-.5-43.7 0-3.1-2.5-1.3-1.2-.7-.6-2 .2-.7-1.6-3.2-3.6 0-2.1-3.1-1.6-2.4-2.4-3.1-2-3.2 1.2-2.3-1.7-3.2-.4zM216 96.7l1.1-.9-.1-1.2 1.5-1.1 .3-1.5 .9-1.3 1.8-.4 .4 1.7 1.3 .1 .6 1 1.3 .9 .7 1.7 .5 1-1.2 1.7-1.8 .1-1.4-.8-.8-1-1.4 .5-1-.6-1.1-.2zM107.6 91.6l1.4-.3 1.3 1 .7-.3 1.5 .5 1.4 0 .3 2 .9 .9-1.1-.7-1.2 .4-1.9 0 .5-2.1-1.2-.6-1.3-.4zM183.4 54.4l.9 .6 1.9 .7 1.2-.2 1-.1 1.3 .5 1.6-.2 1.2 1.3 1.5-.2 .3 1.1 1.7 .1 1.6 0 1 .6 1.1 1.2 1.1 .5 1.5-.2 .9 .6 .7 1.4 1.2 .3 .8 1 1.1 .6 1.4-1 .6 1.9 1.7-.2 1 .6 .8 .8-1.7 0-1 2.1-1.2-.2-1.7 .1-1.2-.8-1.5 .3-1.1-.7 .9 1 .8 1.5 1.9 .3 .3 1.3 .5 1.1-1.5 .5-1-.6-.6-1.3-1.9 .7-1-.8 1.6 .2 .8 2.2 1.5 .4-1.2-.6-1.6-.2-1.2-.4-1.2 .1-1 0-1.8 0-1.4-1.7-1.4 .4-1.1-1.6-1.4 .1-1.5-.7-1.5 .4-1.3-.6-1.2 .7 1.6-1.3 1.7 .2 1-1.2 2 .7 .8-1.6 .6-1.3 .1-1.5-1.1-.9-1.1-.5-1.2 .1-1.3 .1-1.2-1.4-1.2-.2-1.5-.1-1.3-.5-1 1.2-2.2-.9-1 .2-1.8-.9-1.7 .8-1.2-.7-1.8 .2-1.1-.6-1.4 .6-1.2-1-1.3-.5-.6-1.8-.5-.9 1.6-1.3 1 .6 1.5-1.3 1.5 1.7 1-.1 1.3-.4 1.4 .1 1.4-1 1.2 .1 1.2 .8 1.3-.3zM125.3 60.1l.9 1.1 1.6-.1 1.8-.6 .4 1.1 1.6 .1 1.6 .9 1 .3 1.6-1.1 .8 .1 1.1 1 1.8-.4 1.6-.6 1.9 .7 1.2-.5 1-.6 2.1 .2 .7-1.2 1.7 .3-1.2-1.4-1.2 1.3-1.2-1.1-1.1-.8-.5-1.2-.3-1.7-1.9-.8-1.3 .5-1.5-.4-1.3-.5-1.2 .4-1.2 .9-1 .5-1.1-.9-1.7 .8-.8-1.1-1.3 .8-1.4-1.2-1.9 .2-.2 1.7-1 .5-1.7 0-1.5 .5 .3 1.2 1.4 .4zM112 57.2l1.2-.5 1.5 2 1.2-.2 1.3-.3 1.8 .4 1.6-.6 1.1 .1 1.9-.7 .6-1.7 2 1 .7-1.1-.3-1.4-2-.7-1.2 .3-1.5 .1-1.8-.5-1-.3-1.7 .8-.9-.9-2 .2-.9 .7-.2 1.6-1.3 .2zM167.7 49.9l1 .3 1.6 .5 1.1-.4 1.5 .3 1.1-.5 1.6-.5 1.4 0 .9 .8 1.4-.6 1.2-.4 1.4 1.2 1.5-.2 1.3-.9 .5-.5 1.4-.7 1.8-1.4 1.3-.2 .9-1.1 1.5-.6 1.6 .5 .5-1.7 1.8-.1 1.2 1 1.2-.7 1.7-.5 1.3 .5 .9-.8 1.4-.4 1.3 .2 .9-1.3 1.6 1.2 .6-1.8 1.3-.3 1.4 1.3 .9-1-1-.1-1.6 .4-.9-1.1-1.6-.1-1.2 0-1.4 .2-.9 .3-1.6-1.1-.9 .9-1.7-1.1-1.5 .1-1.1 1.2-.9-1.2-1.4-.1-1.3 .9-1.4-.6-.9 .2-1.4-.6-1.2 .4-1.6-.2-1.3 1.1-.6 0-1.4 .2-1.2-1.2-1.4 .4-.9 .2-1.6 .9-1.2-1-1.6 .9-.8 .5-1.2-.1-1.3-.3-1.1-.3-2 .5-.9 0-1.5 1-1.6-.2 1.9-.3 .4 1.3 1.1 .6 1.7-.3 1.9 .4 .9 .4-1.2 .1-1 1.2-1 1.2-.9 .4-.6 1.2zM164.6 49.7l1.5-.4 .9 .7 1.8 0 1.5 .2 .9 1.7 1.5 .2 1.3-.6 1.2-.6 1.6 .5 1.2 .7 1.7 .9 1.3-.2 1.4-.6 1 .8 0-1.6-1.3-.2-1.3-.6-1-.2-1.3 .4-1.3-.1-1.4-.8-1.5 1.1-.7-1.1-2 .5-1.4 .4-.9-.7-1.5-.8-1.7 .1zM158.3 44.2l1.7-.3 1 2.2 1.7-.6 .6 1.1 1.9-.5 1 .9 1.6 .2 1.5-.3 .3-1.3 1.4-.5 1.5-.1-1.8 .4-1.1-.4-1.3-1.6-.8 .2-1.3-1.3-1.6 .3-1.2-.4-1.2 1.8-1.5-1.2-1.3 .6zM125.3 52l1.6 .4 1.3-.8 .6 1.9 1.7-.9 1.8-.1 .9 .8 1.4-.9 1.6 .8 .9-1.1 1.5 1.5 1.4-1.4 1.7 .8 .9-.7 0-1.6-1.5 .3-1.2-.8-.8 .7-1.7-1.1-1.1 .1-1-.7-1.9 1-1.4-.7-.7 1-2 .3-1-.8-1.4 .2zM148.9 55.6l.8 1.1 1.4 .4 1.6 .2 1.8-1 .9 1.9 1.3-.4 1-1.1 .6-1.1 1.6 0 .8 1.5 .7 0 1.6 .1 .8-.9 1.2-.3 .9-1.7 1.1-.4-1.5 .1-1 .2-2.1-.8-1 .7-1.5-.3-1.4-.4-1.8 1-1.4 .4-1.3-.9-2 .2-1.7 1.6zM145.8 52l1.2-.8 1.5 1.6 1.2-1.4 1.1 1.5 1.7-1.4 1.3 .3 1.4 .5 1.2-.6 .9-.1 1.7 .2 1.2 .5 1.3-.8-1.3-.7-1.1 .1-.8-1.3-1.3 .5-1 0-1.8 .5-1.7-.9-.6-.4-1.3 1.4-1.7-.6-.9 1-1.4-.1zM172.5 67.6l1.8 .6 1.8-.7 1.1 .5 1.6 .2 1 .3 1.3 1 1.1-.2 1.2 1.3-.6 1.3-2.4 .2-1.5-.4-.9 1.2-1.3-.3-1.8-.4-1.3-1.3-1.1-.1 1.5-.8 .8-.7-.7-1.5zM207.8 93l1.5 .4 1.4-.2 1.5 .9-1.2 .4-1.6-.5zM152.8 62.1l1.1-.7 1.8 .6 1 .9 1.1-.6 1.3-1.1-1.3-.4-1.7 .4-.9-.8-1.4 .1zM115.1 50.4l1.4 .5 1.8 .6 .9-.3 1.8-.9 1.2 .9 1.4 .2 .6-1.4 1.7-.1 1-.8-1.1-.9-.8-.4-2 1-.8-.9-2-.6-.7 1.4-2-.1-1.2 1.5zM143.4 47.5l1.7-.6 1.2 1.6 1-.4 1.6-.2 1.2-1.1 .8-.2 2 1 .7-.9-1.7-.4-1.4-1.1-1.1 .8-2-.7-1.2 1.1-1.2-.6zM154.4 47.5l1.3 .4 1.8-.3 .8-1.4-2.3-.2zM181.9 54.6l1.2 .3 .9 .1 1.5 .2 1.1 .7 1.5 .5 1.6-1-.7-.9-1.6-.2-1.7-.5-1.5-.1-1.4 .1zM187.4 64.3l.7 .9 1.6-.4 1.1-1.1-1 .2-1.3-.7zM178.7 71.9l1.4-.6 1 1.1 1.4 .1 .9 .7-1.5 .7-1-.5-1.4-.3zM180.3 87.8l2.1 .5-1-.8zM183.4 81.7l1.3 .9-.8 .5zM134.8 47l1.8-.2 1.3 .8-.8-1.1-1.2-.1zM157.5 51.4l1.2 .5 2-.2 1.5 1.1-1.5-.3-1.2 0-1.2 0zM196.8 62.9l2.4 .3-.8-.8zM128.5 47.6l1.3 1 1.8-.5-.8-1-1.4-.6zM101 86.4l.6 .8 .5 1.1 1.2 1-1.5-1.3zM104.9 83.9l-1.6 .5-.7-1.3-1.1 .5-1.3-1.3 .8 1.6 1 .6 1.9 .2zM99.4 81.5l-.5-1.7-1.8 .1-1.6 .3 1.8 1 .6 1.1zM107.3 88.8l-.1-1.5-1.5-.1-1.1 .3 1.4 1z"/>
<path d="M164.3 150.3l0-1.2 1.1-1.3 1.7-.5-.9-1.3 0-1 2.9 0-.1 3 .5 .1 .9 .4-1.4 1.2-.3 .9-1.1 1-1.9-.3z"/>
<path d="M169.1 145l1.3-1.1 .3 .7-.3 .9 0 1.7-.9 .9-.5-.1z"/>
<path d="M167.6 151.6l1.1-1 1.4 .8 1.1 0 .2 .8-.2 .3-1.6 0z"/>
<path d="M169 149.7l1.4-1.2 1.3-.2 2.3-.2 1.6 0 1.6 .7 1.2 .8-2 .5-1.9 1.3-1.6 .1-.9 1.3-.2-.1-.4-.5-.2-.8-1.1 0-1.4-.8z"/>
<path d="M178.4 149.6l-.3 1.6-.1 2.4-.4 2.5 .1 .1-1.6-.1-1.6-.2-1.3-1.1-1.7-1.8 .5-.2 .9-1.3 1.6-.1 1.9-1.3z"/>
<path d="M174.5 155.9l1.6 .2 1.6 .1 1.7 2.1-.5 1 0 1.5-.9-.7-1.9-1.8-.7 0-1.1-.9z"/>
<path d="M178.9 160.8l0-1.5 .5-1 1.7 1.3 2.3-.6 1.6-.7 1.7 1 .9 .6 .2 1.2-1.1 1.1-.7-1.8-1.8-.9-1.2 1.1 .4 1.5-1.5 .1-1.1-1.4z"/>
<path d="M175.8 138.4l2.9-1.8 3.2-.1 3.1 1.1 3.2 1.4 2.3 1.3 2.1 .9-1.3 .4-4.2 .1 .7-1-2-.8-2.4-1.2-2.8-.8-1.9 .3-1.5 .4z"/>
<path d="M192.2 143.7l3.3 0-.7-1.2-1-.7 2.7 0 0 2.9-1.3-.3-3-.2z"/>
<path d="M196.5 141.8l2.7 0 2.5 1.9-1 .5-2.3 .2-1.4 1-.5-.7z"/>
<path d="M186.1 144.2l3.2 0 .1 .7-2 .1z"/>
<path d="M212.2 156.6l1.1-.2 0 1.1-1.4 0z"/>
<path d="M197.1 154.8l-.9 .3 .4 1.3 1-1.8 1.6-.5 .3 1.2 2.2 .4 .6 1.2 3.1-.2 2.4 .8 2.4-.9 1.7 0-1 1.1 2.4 .6 .3 1.7 1.3 .1 .3 .3-2.1 1.3-.3 2.5 1 1.3 0 .9-3.3 1-1.9-.1-.6 2.5 1.5 .5-3.3 2.3-2.2-.6-.4-1.8-1.1-.8 .9-1-.8-1.5 0-1.6 .5-1.5-3 .2-.9-1.4-1.6 0-2.2-.7-.2-1.6-1.2-1.3 1.2-3.1 .8-.8z"/>
<path d="M215.2 160.4l-.3-.3 2.3 2.5 2.1 1.6-.2 1.1-1.1 2.1 .3 1 2.1 2.4-1.3 0-2.4 1.2-1.5-.2-.2-1.6-.1-2 .6-.8-.8-1.8-.9-.1-1-1.3 .3-2.5z"/>
<path d="M219.3 164.2l2 .1 3 .2-.8 1.5 .8 2.1-.8 2.1-2.2 .6-.9 0-2.1-2.4-.3-1 1.1-2.1z"/>
<path d="M185.3 171.6l-1.9 1-.7 2.1-.8 .8 .3 2 1.2 .5-.4 1.4 .1 1.6 1.4 1 1-.6 .6-2 2.5-1.3 1.8-1.8 .4-2.2-1.5-.8-1.8 0z"/>
<path d="M183 179.4l-1.6 1.8 .5 2.4 1.9 2 1.5 2.6 2.1 3.5 1.9 4.6 1.7 2.4 3.4 1.9 2.7 1.8 1.4 1.2 1.4-1.3 .8-2.1-.9-1.5 .9-1.3 .2-2.9-1-2.8-1.7 0 .2-2.4-2.7 .8-1.3-1.3-.3-2.9-1.2 0 1.5-3.4 .4-.3 4.4-1.3 .1-.2-1.2-.6 .6-2.1-2.7-.4-1.6 0-1.5-2.1-2.1-1.4-.4 2.2-1.8 1.8-2.5 1.3-.6 2-1 .6-1.4-1z"/>
<path d="M198.5 203.6l.5 4.3-.6 4.1-.2 3.2-.6 3.3-.8 4-.3 4.1 0 1.6-1.3 3.2-1.1 2.8-.6 2.9-.3 3.3 1.8 .9-.2 1.5 .3 1.4-1.4 1 .4 1.2-1.2 1.3-.8 .8-1.4-.1-.3 1.2 .1 1.4 1.6 .7 .2 1.7-2 .1 .2 1.5 1.2 .7-.8 1.5 .7 1 1.4 .9 .7 1.2 .7 1 1.1-1.1 .8 1.1 1.3 0 0-1.6 4.1-.9-2.5-.6-3.2 0-.5-2.1-1.5-2 1.5-2.4 1-3.2 0-3.3-.5-3.2 .5-3.3 1.1-2.4-.3-3.2 1.4-2.5 .8-2.7-.8-3.7 .6-2.5 1.4-3.2 1.1-1.6-.3-2.8 2.1-1.3 0-1.9-1.1 0-.5-2.1-1-2.3 .5-1.2-.8-.6-.1-1.3-.7-1.1zM201.4 259.3l0 3.6 3.3 .3-2.4 .8-.9 .3-1.5-.2-.7-.7-1.6 .1-.9-.1-.7-1.2 1.6-.8 .8-.8 .8-1.1zM192.9 241.7l.9 .3 1 1.3-1.1 1-1.5-.4 1.4-.9z"/>
<path d="M203.6 210.9l1.4-1.7 1.7 .5 1.4 1.2 1-1.3 1.7 .3 2.5 2.6 3.1 1.1 2.1 1.3-1.4 3.1 3.3 .3 1.1-.1 1.7-2.8 1.4 1 .2 1.4-3.2 2-3 3.1-.4 2.1-.5 1.6-.3 2.4 0 .8 1.9 1.6 .7 1.7-1.4 2.6-2.2 .9-3.9 .5-1.3-.3 .2 2.9-2.5 1-1.9-.7 0 2 2.2 1-2.2 1.1-.8 2.7-3.1 2 2.3 2.6-2.3 2.7-2.4 1.7 0 1.7 1 1.3-2.5-.6-3.2 0-.5-2.1-1.5-2 1.5-2.4 1-3.2 0-3.3-.5-3.2 .5-3.3 1.1-2.4-.3-3.2 1.4-2.5 .8-2.7-.8-3.7 .6-2.5 1.4-3.2 1.1-1.6-.3-2.8 2.1-1.3zM201.4 259.3l.4 1 1.1 .2 1 1.3 1 1.1 1.8-.3-2 .6-3.3-.3z"/>
<path d="M218.6 222.9l2.5 1.1 2.4 1.3 1.7 1.8 0 1.4-.9 1.5-1.6 .5-2 0-2.4-.7-.9-.8 .3-2.4 .5-1.6z"/>
<path d="M210.8 209.9l1.4-4.2 4.1-.5 1.4 .8 .5 1.5 0 2.2 2.9 .3 .7 2.6 2 .2-.5 2.4-.1 .2-1.7 2.8-1.1 .1-3.3-.3 1.4-3.1-2.1-1.3-3.1-1.1z"/>
<path d="M270.6 67.7l1.2-.9 2-.5 1.6-.3 .9 .4 1.4 .5 1.5 .3 1.3-.6 1.7-.6 1.8 .1 2.3 .5 1.4 1.6-.6 1-1.6 .5-1.6 .5-.9-.1-2 .6-1 .4-1.3-.5-1 .6-1.6-.7-1.3 .4-1.4-.4 1.1-1.2-2-.1-1.1-.5z"/>
<path d="M326.7 78.1l-1.1-.6-1.6 1.1-1 1.4-1.3-.3-1.6 .2-1.3 .2-1.1-1.5-1.2-.8 .5-1.5-1-1.2 1-.9 .3-1.1 .8-1.1 .8-.5 1.2 .3 1.1-1.4 1.2 .6 .6-1.2 1.9 .8 .7-1.3 1.7-.7 .6-.9 1.6-.2 0-1.4 1.3-.3 .5-1.2 .6-.4 1.5-.9 1.1-1.5 1.3 .3 1.1-.2 .6-1.3 1.4 .2 .7-.6 1.5 .5 1-.4 1-.9 1.4 1.1 .6-.2 .9-.8 1-.9 1.2 1.2 .9-1.2 1.6 .9 .9-.9 1.5 .2 1.3-.3 .9 1.5 1.2-1.3 1.3 1.2-1.6 1 1.3-.1-3 1.2 .6-.9-2.2-.8-3 .6-.4 .8-1.3 1-3-.2-3.1-.5-.6 0-1 1-2.8-.1-2.7 .9-1.6 2.6-1.5 1.6-1.3 1.8-2.3 1.2 0 3 .9 .5-.8 2.1-.8 1.2zM326.4 44.9l1-.2 1.6-.2 .7-.7 1.4 .4 1.3-.9 1 .3 .5 1.5 1.3-1.2 1.3 .8 .9-.3 1.3 0 0 1.5 1.2 .4 .9-.1 1.3 0-1-.6-.7 1.4-1.5-.2-.8 .5-1.2 .1-.5 1.5-.6 .7-.9-.7-1.8 .1-.9-.7-1.1 0-1.4-.4-.9 .1-.9-1.3-.3-1.4zM337.4 43.7l1.1 .1 1 .2 1.2 .5 1.1-.2 1.2-1.1 1.1 1.3 1.1-.9 .8-.6 1.3 .8 .8 .5 1.3-1.2 .8 1.8 1.3-.7-1.7-.6-.3 2.1-1.5-.4-1.2 .1-1.2 .4-1.2-.9-1.2-.4-.9 1.1-1.3-.4-1.2 .7-.9-1zM342.1 47.1l1.5-.5 .6 1.7 1.4-1.5 1.2 1-1.2 1.3-1.2-.5-1.3-.3z"/>
<path d="M326.7 78.1l.1 1.3 1.1 1.6 1.3 1.8 .3 1.3 2.1-.2 .6-.9 2-.2 1-2.1-.4-1.4 1-.6 .3-1.1 1-.8 1.5 .2-1.8 0-.5-1.5-.7-1.2 .5-.9 1.3-1.5 .8-1.1 1.1-.7 1.2 .5 .4-1.3 1.7-.1 1.1-1.5 3.3-.5-.8-1.1 .6-1.6-2.4-1.5-2.9-1-1 1-2.8-.1-2.7 .9-1.6 2.6-1.5 1.6-1.3 1.8-2.3 1.2 0 3 .9 .5-.8 2.1-.8 1.2zM337.7 81.5l1.2-1.5-.3 1z"/>
<path d="M347 67.2l1.8 1.3-1.2 1.2-.5 1-1.5 .8-1.2 0-.7 1.2-1.1-.1 .4 1.1-.3 1.3 .3 1 1.4 .6 1.6 .2 1.3 .6 .5-1.5 1.3 .4 3.7-.5 1.8-1.1 4-2.8-2.4-1.4 .3-1.6-.8-2.1-1.1-1.3 1.6-1.3-2.3-1.3 .6-.9 .6-.9-2.2-.8-3 .6-.4 .8-1.3 1-3-.2-3.1-.5-.6 0 2.9 1 2.4 1.5-.6 1.6z"/>
<path d="M322.6 84.9l-.8-1.1 .2-2 .6-.8 1.4 .2 1.7-.8-.4 1.6 .9 .5-1.4 1.4-.8 .8 .6 .4zM326.4 83.6l2-.6 .5 .8-1 1.1-1.5-.5z"/>
<path d="M322.6 84.9l2 .2 1.8 .6 0 .7 2.3-.7 1.6-.1 1.1 .9 .3 1.2 .3 1.1 .2 1.6 .5 .8-1.1 0-3.2 1.2 .3 .6 2.1 1.8-1.3 .8 0 1.3-1.2-.2-2.7 .4-1.4-.2-1.6-.3-1.6 .1 1-2.2-2.9-.8-.4-1 0-1-.2-.5 .3-1.3 1-.3 .3-.8 .3-1.3 1.3-.5 1.1-.5 .3-.9z"/>
<path d="M320.4 87.5l-.3 1.3-.3 .8-1 .3-.3 1.3-.3 .4-1.2-1-1.3 0-1.3 0 1-1 1.1-1.6 2-.7z"/>
<path d="M314.4 90.6l1.3 0 1.3 0 1.2 1 .3-.4 .2 .5 0 1 .4 1-.9 0-1.6-.8-.9-.4-2.6-1.4z"/>
<path d="M306.3 103.5l-2.7-.1-3.1-.2-4-.1-1.9 .9 .7 1.8 .9-.1 2.5 .3 .7 .5-1.1 .9-.2 2.1-.6 .5 .6 2-.6 1.6 1.5 .6 .7 1 .9 .2 1.6-1 3.4 0 1-1.3 1.4-.1 1.4-2-.8-1.1 1.8-2.3 2.2-.8 1.5-.8 0-.8-2.3-.2-1.6-.5-1.9 0zM312.9 109.7l1.2-.5 .2 .8-.8 .2zM282.7 127.9l1-.2-.5 .8zM284.3 128.5l.6-.2-.1 .5zM286.8 127.5l.6-.3-.1 1zM280.8 127.2l.5 0-.2 .5z"/>
<path d="M295.3 105.8l.1 2.1-1.1 2.3-.1 1 1.1 .5 0 .8-.3 1.4 1.7 0 .8-.3 .6-1.6-.6-2 .6-.5 .2-2.1 1.1-.9-.7-.5-2.5-.3zM268.6 112.5l.9 .1-.5 .2zM264.3 111.3l.8 .2-.4 .2zM266.2 111l.5 .2-.3 .1zM282.1 120.7l.8 .2-.5 .2z"/>
<path d="M299.7 89.3l-.3-1.8 0-1.1-1.8-.2-1.4-.8 1.4-1.1-1.9 .4-1.7 .4-.6 .9 .8 1.5-1.3 1-.1 1.1 .9 .8 1.6 .4 .9-.9 1 .5 1.1-.5 .9-.6z"/>
<path d="M320.9 102.9l2-1 2.2 .8 .5 1.7 2 1.3 1.1 .9 2.1 .5 1.1 1 1.7 1 .6 1.6-.5 1.6 1.3-.6 1-1-1-1.2 .8-1.3 2.2 1.2 .2-.5-.8-1-2.2-.8-.7-1.1-1.8-.2-.5-.7-1.1-.6-.8-1.3-1.6-.9-.3-1.7 1.3-.8 1.1 .2-.3-1 .1-.5-2.3-.8-2.7 .2-.6 .8-1.3 .1-1.3 0-.9 .7-1.7 0 .3 1.1 0 1.5zM328.6 112.5l1.4-.5 3.6 0-.8 2.4-2.5-.8zM322 107.6l1.5-.5 .8 1.1-.1 2.2-1.8 .4-.1-1.7z"/>
<path d="M318.7 99l1.1 .5 1.7 0 .9-.7 1.3 0 1.3-.1 .6-.8-1.4-1-1.6-.3-1.6 .1-.9 .2z"/>
<path d="M324.2 96.9l1.4 1 2.7-.2 2.3 .8 1.4 .2 2.2-.5 .8-.5 1-1.6-.4-1-2.9-.6-1.9 .3-1.3 .8 0 1.3-1.2-.2-2.7 .4z"/>
<path d="M328.4 92.4l3.2-1.2 1.1 0 2 .7 .9 .3 2.7 .8 .4 .7-1.8 .9-1.3 .5-2.9-.6-1.9 .3-2.1-1.8z"/>
<path d="M331.4 86.5l3.6-.9 2.8-.5 2.1 .6 5 0 1.1 .8 .6 2-.4 .9 0 .9 .7 1.3-2.3 2.7-.2 0-3.9-.2-1.8-.4-.4-.7-2.7-.8-.9-.3-2-.7-.5-.8-.2-1.6-.3-1.1z"/>
<path d="M335.6 95.1l1.3-.5 1.8-.9 1.8 .4 3.9 .2-.6 1.1-2.5-.1-2.7 1.1-2.6-.3z"/>
<path d="M336 96.1l2.6 .3 2.7-1.1 2.5 .1 1.3 .7-2.7 2.7-1.4 .4-2.4 .3-2 0-1.6-1-.8-.3 .8-.5z"/>
<path d="M330.5 99l.1-.5 1.4 .2 2.2-.5 .8 .3-1.4 .5-.5 1.1-2.6 0 .3-.1z"/>
<path d="M330.5 100.1l2.6 0 .5-1.1 1.4-.5 1.6 1 2 0 .3 1.1 0 .5-3.1-.5-1.9 0 0 .8 .6 .9 2.2 1.9 1.5 .6 0 .2-1.6-.6-.8-.7-1.6-.3-1.2-1.1-1.1-1.7-.8 .5-.6-.3z"/>
<path d="M333.9 100.6l1.9 0 3.1 .5 .7 1.2 .1 1.1-1.5 1.4-1.5-.6-2.2-1.9-.6-.9z"/>
<path d="M338.9 100.6l-.3-1.1 2.4-.3 1.9 1.4 1.7 1.7 .5 1.6-.8 1.4-1.4 .2-1.4 .5-.8-1.2 .3-.4-1.3-1-.1-1.1-.7-1.2z"/>
<path d="M338.2 105l0-.2 1.5-1.4 1.3 1-.3 .4-1.1 1.2z"/>
<path d="M339.6 106l1.1-1.2 .8 1.2-.2 1.1 .8 .7-.5 .9-1.1 .8-1.1-1.3 .3-1.6z"/>
<path d="M341.3 107.1l.2-1.1 1.4-.5 1.4-.2 .9 1.7-1.5 .3-1.6 .5z"/>
<path d="M344.3 105.3l.8-1.4-.5-1.6 2.2 .8 4.7-.7 2.5 .7-.9 2.7-3.2 .5-2.3 .3-2.4 .4z"/>
<path d="M341 99.2l1.4-.4 2.7-2.7 3.1 .5 2.7-.8 2.3 2.2 .2 2.1 2.2 .4-1.6 2.6-2.5-.7-4.7 .7-2.2-.8-1.7-1.7z"/>
<path d="M350.9 95.8l1.9-.4 2.2 .9 1.2 2.4-1.7 .8-1.1 .6-.2-2.1z"/>
<path d="M343.8 95.4l.6-1.1 .2 0 2.3-2.7-.7-1.3 2.2-.5 3.9 .6 4.9 .3 .6-1.3 4.4-.4 2.7 3.2 3.9 .8 3.1 .5-.3 2.8-2.5 1.3-1.9 .4-3.1 1 .8 1.5 1.7 0-2.5 .8-2.4 .6-1.6-1.6 1.8-1.1-2.5-.7-1.9 0-1.9 2-2.2-.4 1.1-.6 1.7-.8-1.2-2.4-2.2-.9-1.9 .4-2.7 .8-3.1-.5z"/>
<path d="M346 86.5l3.6-1.6 1.3-1.3 2.5-.6 4.2 .8 2.9 3.5-2.2 .5-.5 1.6-.6 1.3-4.9-.3-3.9-.6-2.2 .5 0-.9 .4-.9z"/>
<path d="M342.4 84.4l-.2-1.4 2.9-.5 3.3 0 2.5 1.1-1.3 1.3-3.6 1.6-1.1-.8-.1-1z"/>
<path d="M342.2 83l0-1.5 1-1 1.4-.1 1.1 1.1 1.2-.2 .4-1.3 1.5-.1 3.3 .8 .7 .5 .6 1.8-2.5 .6-2.5-1.1-3.3 0z"/>
<path d="M347.3 80l-1.3-1.1 0-1 1.1 .3 .9-.1 1.1-.8 4 .2-1 1.1 .2 1.6-.2 .5-3.3-.8zM343.7 78.9l1.5 0-.8 1z"/>
<path d="M359.8 117.2l1.1-.5 2.5-.7-.9 1.2-1.6 .6z"/>
<path d="M371.9 103.5l3.9 .4 2.4 .9 2.4 .2 1.5 1 0 1.3-2.3-.3-2.4 .3-1.4-.8-1.7 .1 0-1.4z"/>
<path d="M377.4 107.3l2.4-.3 .8 .9 1.5 2-.4 .9-1.9-.8-.3-.5-1.8-.8z"/>
<path d="M379.8 107l2.3 .3 0-1.3 2.1 1.1 1.2-1 1.4 2 1.3 .5-1.6 1.6-.6 1.5-1.4-.7 0-1.5-2.4 1.3-.4 0 .4-.9-1.5-2zM379.5 109.5l.3 .5 1.9 .8-1.1 0z"/>
<path d="M288.4 129l2.6-1.3 2.4-1.6 .5-1.6-.2-1.7 2-2.9 2.7-1.3 1.4-2.7 1-.2 2 1.1 2.8 .2 .8 3.4 .7 1.5-3.5 1.7-2.4 1.7-3.1 .8-2.6 1.3 0 1.6z"/>
<path d="M288.4 129l7.1 0 0 .6 0 2.2-5.2 0 0 4.2-1.6 .6 0 2.8-6.3 0 .2-1.2 1.4-2.7 1.7-2.1 .6-2z"/>
<path d="M282.4 139.4l6.3 0 0-2.8 1.6-.6 0-4.2 5.2 0 0-2.2 6 3.8-2.6 0 1.6 13.8 0 1.6-6 0-2.2 .1-1.3-.3-1.1 1.3-2-2.1-1.6-.8-3.1 .8 .8-3.1-.3-2.1-.5-2.1-.8-.6z"/>
<path d="M301.5 133.4l9.5 6.3 0 .6 2.8 1.5 .5 1.3 1.5-.2-.1 3.8-1.1 2.1-3.9 .8-1.3 0-1.1-.2-2.3 1.5-1.6 .8-2.1 .8-.3 .8-1.2 1.5-.3 2.2-1.1-.3-2.7 .7-.3 0-.3-1.3-1.1-2.1-2.1 .1-1.7-.3-1.3-3.9 1.1-1.3 1.3 .3 2.2-.1 6 0 0-1.6-1.6-13.8z"/>
<path d="M305.6 117l3.5-1.1 2.4-1.2 2.3-.5 3.2 0 3.1-.3 2.5 .2-.5 .6-.1 2.5-1.1 1.9 2.3 2.8 .8 2.9 .5 3.2 .1 2.9-.7 .5 .9 2.8 3.1 1.6-7 4.4-2.7 2.1-2.4 .6-1.5 .2-.5-1.3-2.8-1.5 0-.6-9.5-6.3-6-3.8 0-.6 0-1.6 2.6-1.3 3.1-.8 2.4-1.7 3.5-1.7-.7-1.5z"/>
<path d="M322.6 114.1l1.9-.7 1.9 .5-.8 1.2 .8 1.7-1.4 1.5 1.2 1 1 .8 0 1.1-1.9 1.2-.2 1.7-1.1 .7-.8-2.9-2.3-2.8 1.1-1.9 .1-2.5z"/>
<path d="M327.2 120.1l2.3 .5 3.5 .9 .8 1.5 2.8 .8 2.3 1 1.6-1.2 0-1.9 2.4-1.1 2.6 .6 3 1.4-.1 2.7 0 12.9 0 3.3-1.6 0 0 .8-14.1-5.7-1.3 .7-3.5-1.5-3.1-1.6-.9-2.8 .7-.5-.1-2.9-.5-3.2 1.1-.7 .2-1.7 1.9-1.2z"/>
<path d="M348.4 138.2l18.7 0 .6 1.7-.2 2.4 2.1 2.4-2.4 1.6-.8 3.3 0 1.1-.8 2.6-1.5 2.8-1.1 .8-.5 1.6-.3-.8-1-1.1-.1-2.5-.6 0-1 .3 .3 .5-.8 2-1.2 1.1-1.6-.6-1.6 .8-1.5 .6-3.2-1.4-1.5-.2-1.6 2.6-.8 0-.9-3.6-1.4-2.9 .7-2.1 .8-2.7 1.6 0 0-6.2 0-.8 1.6 0z"/>
<path d="M362.5 158.5l.2 1.8-1.8 1 2.4 1.7 1.2 2.1 1 1.3-3 .7-.8 .6-3.9 .4-.3 .1-1.3-1.6-2.3 .3-1.8-1.3-1.4-1.4-2-2.5-1.9-1.9 1.6-2.6 1.5 .2 3.2 1.4 1.5-.6 1.6-.8 1.6 .6 1.2-1.1 .8-2-.3-.5 1-.3 .6 0 .1 2.5 1 1.1z"/>
<path d="M369.6 144.7l1.1 2.5 .4 1.6 2.4 1.6 2.2 2.1 1.1 .8-1.1 .3-2.5-2.7-2.8-.7-1.8-.5-2.2 1 0-1.1 .8-3.3z"/>
<path d="M376.8 153.3l.3 1.3-.8 .5 .6 .2-.6 .9-1.6-.1 0-1.3 1-1.2z"/>
<path d="M366.4 150.7l2.2-1 1.8 .5 2.8 .7 2.5 2.7-1 1.2 0 1.3 1.6 .1 1.9 3.1 4.7 1.6 1.6 0-4.7 4.9-2.1 .5-2.6 .8-.2 .4-3.3 .2-2 .4-2.7-1.3-1.4-.4-1-1.3-1.2-2.1-2.4-1.7 1.8-1-.2-1.8 .5-1.6 1.1-.8 1.5-2.8z"/>
<path d="M376.3 156.2l.6-.9 2.1 1.7 2.3-.6 2.4-.7 2.4-.1 3.4-.9-.3 2.2-.5 1.9-1.9 2.9-2.3 4.1-2.4 3.2-3.1 2.5-2.4 2.4-2.2 2.8-.9-1.3 0-6 1.4-1.9 .2-.4 2.6-.8 2.1-.5 4.7-4.9-1.6 0-4.7-1.6z"/>
<path d="M374.4 176.7l-2.2 1.6-.9 2.2-.6 1-2.4-2.3-.1-.4-5.7-3.3 0-1.6 .8-1.8 .8-1.1-1.6-3.9 3-.7 1.4 .4 2.7 1.3 2-.4 3.3-.2-1.4 1.9 0 6z"/>
<path d="M362.5 167.1l1.6 3.9-.8 1.1-.8 1.8 0 1.6-5.5 0-1.4 .7 .1-1.5 .4-2.1 2.2-2.3-.8-2.1 .3-.1 3.9-.4z"/>
<path d="M362.5 175.5l5.7 3.3 .1 .4 2.4 2.3-.7 2.5 1.1 1.2-.3 2.5 .8 2.4 1 .8-3.8 1.3-3.2 .5-1.7 0-.5-.2-.1-2.4-.8-.8-1.6 0-.8-.3-2.3-1.2-.3-.4-2.1-3-.1-3.2 .9-.3 1.3-1.7-.5-1.4 .5-.2-.5-2.1z"/>
<path d="M355.6 176.2l1.4-.7 .5 2.1-.5 .2-2.4 .5 .4-1.8z"/>
<path d="M354.6 178.3l2.4-.5 .5 1.4-1.3 1.7-.9 .3-.3-1.6z"/>
<path d="M326.5 180.2l1.3-.6-.6-2 1.5 0 3-.6 .2-2.1-1-1.5 1-1.8-1.9 .2-.2-1.5 2.1 0 2.3 .8 .3-.8 .5-1.6 3.3-.5-.9 2.5-.5 4-2.4 2.8-1.4 3.4-1.4 .8-2-.3-.5-.4-1.3 1z"/>
<path d="M326.5 180.2l-2.3-2.4-1.3-2.8 .8-1.9 .8-.8 2.3 0 0-2 3 0 .2 1.5 1.9-.2-1 1.8 1 1.5-.2 2.1-3 .6-1.5 0 .6 2z"/>
<path d="M324.5 172.3l2.3 0 0-2-2.3-.1zM322.3 168.1l.8-.2-.3 .8z"/>
<path d="M324.5 170.2l-.2-2.1-1.2-1.5-.5-.5 .5-1.6 .6-1 1.4-.8 1.4 .7 1.1-1 .7-2.1 .9-.5 .6-1.5 1-2.2 1.2-.8 0-1.2-.6-.3 0-1.1 1.3 1.6 .1 2.1 .8 1.3-2.2 0-.5 .6 2.1 2.6 .4 .8-1.5 2.5 .1 1.6 1 1.8 1.5 2.7-.3 .8-2.3-.8-2.1 0-3 0z"/>
<path d="M313.3 163.5l2.9 .2 1.5 2.1 1 1.1 2.2-.3 1.7-.5 .5-1.6 .6-1 1.4-.8 1.4 .7 1.1-1 .7-2.1 .9-.5 .6-1.5 1-2.2 1.2-.8 0-1.2-.6-.3 0-1.1-.9-1-1.8 1-3.9-.4-3.5 0-2-.4-1.6-.5-2.2 .6-.7 2.9 .3 2-1.6 2.4z"/>
<path d="M313.3 163.5l-1.7 .3 0-4.5-.3-.8-.9-1.6 .1-.8 .8-.7 1.6-.8 0-.6 1.9 .9 .3 2-1.6 2.4z"/>
<path d="M311.6 163.8l-.6 .2-1.1-2.3-.2-3.2-.6-2.6 1.4 .2-.1 .8 .9 1.6 .3 .8z"/>
<path d="M311 164l-1.9 .8-3.1 1.3-1.8-.5-.1-2.7 1.1-2.3-.3-2.1-.2-2.4 3.6 0 .8-.2 .6 2.6 .2 3.2z"/>
<path d="M300.5 157l.3-2.2 1.2-1.5 .3-.8 2.1-.8 1.6-.8 2.3-1.5 1.1 .2 1.3 2.6 1.7 1.1 .5 .7 0 .6-1.6 .8-.8 .7-1.4-.2-.8 .2-3.6 0 .2 2.4-2.9-.3z"/>
<path d="M297.3 166.8l-2.3-1.3-2.9-2-1.1-.8 1.4-1.4 .5-1.2 1.3 .2 .3 1.6 1.6-.3-.4 1.8 1.5 1.6z"/>
<path d="M291 162.7l-1.5-.8-1.3-1.8 0-.8 1.3-1.4 2-.2 .9 1.4 .5 1-.5 1.2z"/>
<path d="M288.2 159.3l-1.1-1.6-1.6-1.5 1.6-1.1 .5-1.1 0-.7 3.6 .5 1.7 .3 2.1-.1 1.1 2.1 .3 1.3 .3 0-.5 1.1 .6 1.6-.7 1.5-1.6 .3-.3-1.6-1.3-.2-.5-1-.9-1.4-2 .2z"/>
<path d="M285.5 156.2l-1.5-1.4-1.1-.8 2.6-.7 2.1 0 0 .7-.5 1.1z"/>
<path d="M282.9 154l-.2-1.3 2.8-.2 1.9-.5-1.9-.5-2.8 .4-1.1-1.8 1.6-2.3 3.1-.8 1.6 .8 2 2.1 1.3 3.9-3.6-.5-2.1 0z"/>
<path d="M282.7 152.7l0-.8 2.8-.4 1.9 .5-1.9 .5z"/>
<path d="M315.8 142.9l2.4-.6 2.7-2.1 7-4.4 3.5 1.5 1.3-.7 1.5 4.1-.4 .9-.4 4.9-2.3 2-.8 1.9 .2 1.3-1.8 1-3.9-.4-3.5 0-2-.4-1.6-.5-2.2 .6-.7 2.9-1.9-.9-.5-.7-1.7-1.1-1.3-2.6 1.3 0 3.9-.8 1.1-2.1z"/>
<path d="M332.7 136.6l14.1 5.7 0 6.2-1.6 0-.8 2.7-.7 2.1 1.4 2.9-1.9 .7-1.9 2.1-2.4 .3-.1 .3-3 1.8-2.4 .3-.4-.8-2.1-2.6 .5-.6 2.2 0-.8-1.3-.1-2.1-1.3-1.6-.9-1-.2-1.3 .8-1.9 2.3-2 .4-4.9 .4-.9z"/>
<path d="M333.4 161.7l2.4-.3 3-1.8 .1-.3 2.4-.3 1.9-2.1 1.9-.7 .9 3.6 .8 0 1.9 1.9 2 2.5 1.4 1.4-3.3 0-2 .2-2.4 1.5-3.9-.7-2.2 .3 0 1.3-3.3 .5-.5 1.6-1.5-2.7-1-1.8-.1-1.6z"/>
<path d="M328.3 183.5l.9 1.6 .9 2.6 .7 3.5-.7 3-1.4 1.6-.8 2.4-.3 2.4 0 1.3 1.9-.4 1.6 .6 7.1 0 3.9 .8 3.8-.5-2.2-2.2 0-5.2 3.1 0 0-3.4-.2 .1-2.6 .4-.3-2-.4-.8 0-3.6-2.8-.5-.8 1.7-3.1 .1-1.4-3.5-4.9 0zM328.3 183.3l-.4-1.3 1.3-1 .5 .4-1 .8z"/>
<path d="M346.8 191.6l.6 .8 1.7 .5 3.2 .9 2.3 1.8 1.3 0 0-1.9-2.2-.7 .3-2.1-.3-1.9 .8-1.3 3-.3 .3 .4 2.3 1.2 .8 .3 .5 2.1-.5 2 0 3.2-4.4 1.6 .3 1-2.2 .3-.3 1.1-2.8 2.5-2.7-.3-2.9-.4-2.2-2.2 0-5.2 3.1 0z"/>
<path d="M360.9 189.3l1.6 0 .8 .8 .1 2.4 .5 .2-.3 1.5-.3 1.6 2.2 1.6-.2 2.4-.8 1.8-1.4-1.3-.1-2.9-2.1-.8 0-3.2 .5-2z"/>
<path d="M372.6 190.9l.1 3.3 .3 3.2-1.1 2.8-3.1 1.7-1.9 1.2-2.8 2.9-.3 1.1 .7 2.5 .4 3.2-3.2 2.1-.9 1 0 1.5-1.3-.1-.1-1.3-.2-1.6 .2-1.6-1.1-2.6 1.7-1.8 .6-2.1 .3-.8-.1-1.6 .1-1.6-.1-1.3-2.2-.8-1.8-1-.3-1 4.4-1.6 2.1 .8 .1 2.9 1.4 1.3 .8-1.8 .2-2.4-2.2-1.6 .3-1.6 .3-1.5 1.7 0 3.2-.5z"/>
<path d="M348.8 202.8l2.7 .3 2.8-2.5 .3-1.1 2.2-.3 1.8 1 2.2 .8 .1 1.3-.1 1.6 .1 1.6-.3 .8-.6 2.1-1.7 1.8-3-.3-2.2-1-.5-1.8-2.4-1.6-1.4-1.6z"/>
<path d="M348.8 202.8l0 1.1 1.4 1.6 2.4 1.6 .5 1.8 2.2 1-3.8 2.3-.3 1.1-2.1 2.3-3.9-.7-2 2.4-1.6 0-1.1-3.2 0-4.5 1.6 0 0-6 3.6-.5z"/>
<path d="M327.6 201.9l1.1 2.5 3.2 6 0 2.4 .8 4.1 2.3 3.4 1.6 .1 2.3 .3 1.6-.8 0-5.8 0-4.5 1.6 0 0-6 3.6-.5 3.1-.3-2.9-.4-3.8 .5-3.9-.8-7.1 0-1.6-.6z"/>
<path d="M335 220.3l1.3 3 1.5 3.3-.4 .8 .6 1.9 1.7 .8 .8 .2 3.2-1.1 3.1-.2 2.7 0 2-.8 2.4-1.6 2.3-2.4 1.6-2 1.6-1.8 .7-.6 .7-2.4-1.3-.1-.6 .9-1.1-.2-.3-.7 .9-1.6 1 .3-.2-1.6 .2-1.6-1.1-2.6-3-.3-3.8 2.3-.3 1.1-2.1 2.3-3.9-.7-2 2.4-1.6 0-1.1-3.2 0 5.8-1.6 .8-2.3-.3z"/>
<path d="M357.5 217.3l.9-1.6 1 .3 .1 1.3-.6 .9-1.1-.2z"/>
<path d="M351.5 221.9l.9-1.3 1.6-.3 1.3 1.1-.3 1.6-1.6 .7-1.4-.7z"/>
<path d="M386.5 193.4l1.9 5.6-1.1 2.5-.5 1.6-1.5 4.8-1.6 4.9-.8 1.6-2.3 .8-2.4-.8-1.1-4 1.9-4.1-.8-4 .8-2.1 3.1-.9 2.4-3.5z"/>
<path d="M365.5 115.7l.5 0 .7-.5 .5-.8 3.2 0 3.1-.6 2-.2-1.5 1.1-.2 2.5-.3 .9-3.5 1.7-3.1 1.7-1.6-.6-.1-1 1.4-1.4-1-.7z"/>
<path d="M364.2 120.2l1-.3 1.4-1.4-1-.7-.7 1.1z"/>
<path d="M362.8 123.2l1.1 2.9 .8-2.5 .2-.8 .1-1.9 .3 0-.1-1-1 .3-.6 1.8z"/>
<path d="M363.9 126.1l1.7 .5 2.4-1.3 .8-.8-1.6-1.7 3.2-.8 .3-.5-.7-1.7-3.1 1.7-1.6-.6-.3 0-.1 1.9-.2 .8z"/>
<path d="M375.5 113.6l4 0 1.1 1.9 .7 1.5-.7 1.8 .7 1.6 2.4 1.1 .5 2.1 .3 .9 .8 .9-1.3-.3-1.9 1.6-2.8-.1-4.2-3.1-2.5-1.3-1.9-.7-.7-1.7 3.5-1.7 .3-.9 .2-2.5z"/>
<path d="M382.1 126.7l1.9-1.6 .5 1 .6 1.6-1.4 0z"/>
<path d="M363.9 126.1l1.7 .5 2.4-1.3 .8-.8-1.6-1.7 3.2-.8 .3-.5 1.9 .7 2.5 1.3 4.2 3.1 2.8 .1 1.6 1 1.4 0 1 1.6 1.5 1.3 .3 1.6 1 1.5 .6 .3 .6 .7 1.6 2.1 4.1 .3 .8 1.1-1.1 3.3-4.7 1.6-4.7 .6-3.2 2.6-.8-.3-3.9-.3-1.1-.2-.8 1.8-.5-1.8-1.5-2.4-2.4-2.1-1.4-2-.9-3.2-1.9-2.4-1.3-2.5-1.5-2.4-1.5-.2z"/>
<path d="M376.3 147.3l.8-1.8 1.1 .2 3.9 .3 .8 .3 3.2-2.6 4.7-.6 1.7 3.8-1.4 1.7-5 2.6-2.4 .7-3.9 1.3-2.4 .3-.5-1.2-.6-2.7zM392.8 153.5l1.9 0-1.1 .5z"/>
<path d="M392.5 146.9l-1.7-3.8 4.7-1.6 1.1-3.3-.8-1.1 .9-2.4 1-1.2 .9 1.7 2.4 .4 2 1.8-.5 1.6-1.5 1.8-1.1 2.3-2.1 1.6-2.3 1.6zM397.2 131.6l.5-.3 0 .9z"/>
<path d="M390.1 134.7l1.6 2.1 4.1 .3 .9-2.4 1-1.2-.3-1.4-1.4 .8-1.5 1.4-2.9 .4z"/>
<path d="M388.9 133.7l.6 .3 .6-1.4-.4-1-.8 1z"/>
<path d="M404.7 125.5l2.6 .7 2.3-.1 3.6-.7 .2-1.8 2-.6 2.5-.8 .4-2 1.2-.4 1.3-1.2 .8-1.9-.7-1.3 2.9-1.3 2.9-.6-2.5-.2-2.6 .9-.2-1.7-2-.2-.4 .8-3.1 .8-.3-.3-2.1-.2-1.4 0-1.7 1.7-2.4 1.4-1.1 .2-1.7-.5-1.1 3.1 .2 .9 .3 2.6 1.4 .2 .2 1z"/>
<path d="M449 138.6l-.3-2-.3-2.1-.9-1 .4-2.2 1.8 .5 .4 1.1 4 .3-.2 1.3-1.4 .5-.2 .8 .7 1 1.5 1.6-.4 1.9-.5-1.6-.5-1.3-1.9 .4-.7 .6z"/>
<path d="M448.7 129.6l1.3 1 3.6-.1 .2-1.7-.8 0-2.9-.6z"/>
<path d="M434.9 127.2l.5-1.4 .9-.9 2.4 .4 2.3 1.3 3.2 1.9 3.3 .2 0 2.4-3.3-.3-2.4-1.2-1.9-.1-3.6-1.5z"/>
<path d="M434.6 158l2 2.1 1.1 2.5-.9 1.2-1.7 .4-.7-2.5 .2-2.4z"/>
<path d="M454.1 140.3l.4-1.9 .7-.2 .6-1.7-.2-1.5 2.2-.3-.1-1.3 .9-1.8 2.8-1.6 .5-1.8 1.6 1 .6 2.7-1.7 1.8 .3 1.5 1.9 1.3 .5 1.6 1.4 .9 1.5 .5-1.7 1.5-2.5 1-1.3 1.9 1.5 3.7-.7 1.7 1.6 2.4 0 2.7-.8 3-.3-2.1 .3-1.6-.1-1.7-1-1.6 .2-1-.5-1.4-1.3-1.7-.7 .9-1.9 1.1-1.6-.3 .5-1.4-.2-1.1-.5-2.1-1.1-1.6z"/>
<path d="M464.1 157.4l.8-3 0-2.7-1.6-2.4 .7-1.7-1.5-3.7 1.3-1.9 2.5-1 .6 1.3 1.1 0-.3 2.4 .3 .8 1.5-.9 .9 .3 2-.7 1.3 1.5 0 1.8 1.3 1-.2 1.9-.5 .3-3.1 0-1.1 1.2 .6 2.9-1.4-1.2-1.6-.3-.1-1.3-1.4 .2 .3 .8-.3 1.4-.5 1.6-.8 .9 .2 1.9 1.5 1.3 .3 2 1.6 .6 1 1.1-1.6 .9-1.4-1.3-.8 0-.9-1.1-.2-1-1.1-.4 0-1.6z"/>
<path d="M466.3 141l1.7-1.5 1 0 .6-1.9 0 1.4 1.3 1.2 2.2 .5 .8 .8-1.5 .8 1.9 1.9 .5 1 1.9 2.1 1.2 2 0 .8-2.3 .5-1.3 .1 .5-.3 .2-1.9-1.3-1 0-1.8-1.3-1.5-2 .7-.9-.3-1.5 .9-.3-.8 .3-2.4-1.1 0z"/>
<path d="M469.6 137.6l1.3-.2 3.6-1.3 2.2 .8 2 2.1-2 1.2-.3 1.6-1.3 1.3 .5 1.3 .8 .6 1 1 .5 1 1.3 1 .2 1.1 .7 1.4 .7 1 .3 1.3-.3 1.6-.5 1-1.1 1-1.6 .6-.9 .7-.3 1-1.1 1-1 .1-.6 .2-.2-1.5 .5-.8-.8-.7 1-.8 1.5-.1-.1-1.2 2.3-.9 0-3.9 0-.8-1.2-2-1.9-2.1-.5-1-1.9-1.9 1.5-.8-.8-.8-2.2-.5-1.3-1.2z"/>
<path d="M470.7 154.8l-.6-2.9 1.1-1.2 3.1 0 1.3-.1 2.3-.5 0 3.9-2.3 .9 .1 1.2-1.5 .1-1 .8-1.4-.1-.8-.8z"/>
<path d="M466.5 163.4l1.4 1.3 1.6-.9 2 2.3 0 2.1 .8 1.3 .3 1 .2 1.1-1.1 .2-1.2-1.1-1.4-.8-.9-.7-1-1.1-.1-1-.5-2.1zM481.2 170.7l2.9-.7 1.4-.7 1.1-.6 1.7-2.3 1.6 .5 .3-1.1 .3-.5 .3-.8 1.1-.9 .5-1 1.6 .9 .6 1.1 1.7 .9-1.1 1.1-.8 .3-.6 .2-2.5-.2-.8 2.1-1.4 2.5-2.5 .1-3.2 .7-.8 .1-1.2-1.1z"/>
<path d="M488.3 166.4l1.9-.6-.3 1.1z"/>
<path d="M505.4 188.5l3.2-1 .3 .3-3.5 1.7z"/>
<path d="M530.6 178.1l2.3 1 1.3 .5 1.8 .5 .8 1 .5 1.1 .8 .5 1.6 .7 1.1 .2 .4 1.2-1.2 .4 .7 .7 .8 1 1 .9 .2 .8 1.2 .7 .9 1.2 1.1 .1-1.5 .3-1.1 .1-1.8-.7-1.5-1-.2-1.1-1.4-1.3-1.3-.7-1.1 0-1.5 1.2-.8 1.3-3.1 0zM542.2 182.8l1.4 .2 1.1-.2 1.2-1.5 1.1-.6 1.3 .2-.5 1.6-1.1 .9-1 .4-1 .3-1.3-.4-1.2-.4zM545.9 178.1l.8 .8 .6 .8 1.3 .4 .8 1.4-.3-.6-1.1-1.5-1.4-.5zM552.1 182.8l1.7 2-.8 .1zM539.3 177.1l1.1 0-.4 .5z"/>
<path d="M498.5 143.9l1.4 .5 1.1-.3 .4 1.2-.2 1.9-1.1 1.1 .2 1.5-.1 .9 2.1 .7 .5 1.1 1.1 1-1.1-.7-1.3-.9-1.9 0-1.1-1.2-.8-.8 .4-1-.7-1.4 .8-.5 0-1.5zM500.7 162.6l.2-1.3 1.5-.6 .7-.9 2-.3 1.1-1.5 .2 1.5 1.2 .2 .2 1.2-.7 1.8 .4 1-1.4 1 .4-2.1-1.6 .3-.7 .9-.3-2.1-1.9 .7zM504.3 153.6l1.9 .4 .3 2.1-1.1-.5-.6-.7zM500.7 154.8l1.6 .5-1 .7-.6 .9zM502.3 156.2l-.2 1.5 .7 1.3-1.3-1zM504.6 155.6l.8 1.8-.3 .1zM493.2 160.3l.7-.9 1.1-.9 .5-.7 .3-1.4 1-.8-.3 1.3-.7 1.1-.8 .8-1.4 1zM498.2 152.2l1.6 .3-.3 1.5-.7-.5zM502.9 156.2l1-.5 .1 1.3-.8 1.3z"/>
<path d="M499.9 132.9l.8 .5-.8 2.4-.9 2.4-1.1-1.1 0-1.8 1.2-1.9z"/>
<path d="M447 94.1l.3-1.2 2.7 0 3.6-1.3 4.7 1.3 4.7-.9 .5-2.4 5.8 1 .3 1.4 6 .4 3.9 1.4 3.9 0 4.7-1.3 4.3 .7-1.7 3.1 .6 .1 2.8 .2 1.1-.3 2.2 1.4-.3 .5-3.5 .2-1.5 .4-1.6 1.3-2.4 .9-3.1 0-.2 2.1-1.4 .3-2.3 1.6-3.9 .2-3.2 1.3-5-1.5-2.8-.2-5.9-.3-1.5-2.2-2.9-1.2-4-.6 .1-2-1.5-2.1-3.2-1.4z"/>
<path d="M386.4 98.7l-1.1-1-2.4-1.6-.8-.8 1.6-2.9 1.9-.5 3.3-1.8 3.4 .3 3.2 1.3 4.7-.5 5.5 .4-2.4-2 1.6-3.1 6.3-.8 6.3-1.4 3.1 1.7 3.9 .4 4.7-.4 2.1 1.5 3.4 4.1 4.8-.4 3.1 2.3 3.6 .6-2.5 1.3-.3 2.3-3.9-.3-.8 3.1-3.3 .5 .6 2.9-.9 .3 0 1.5-1.9-1.2-4.7-.1-2.4-.5-1.6 1.1-3.9-.2-.1 .5-1 .7-2 1-1.6 .8-2.4-.7-.7-2.7-6.3-1-1.6-1.3-3.9-2-3.9 .9 0 6-1.9-1.2-2.9-.3-.7 .8 .4-1.8-2.5-.6-1.4-1.8 1.6-1.6 2.6 0 0-2.5-2.8-.4z"/>
<path d="M397.1 107l0-6 3.9-.9 3.9 2 1.6 1.3 6.3 1 .7 2.7 2.4 .7 1.6-.8 2-1 1-.7 1.2 1.3 2.1 1.2-2.1 .9-1.9-.1 0-.8-2.3 .9-.8 1.2-1.6 .3 1.3 1.8-.8 1.6-2.1-.2 0-1.1-3.4-1.5-2.8-1.7-1-2-2.8-.3-.2-1.3-2.3-.8-2.1 1.1-.3 1.2z"/>
<path d="M391.6 106.3l.7-.8 2.9 .3 1.9 1.2 1.5 0 .3-1.2 2.1-1.1 2.3 .8 .2 1.3 2.8 .3 1 2 2.8 1.7 3.4 1.5 0 1.1-1.4 0-1.7 1.7-2.4 1.4-1.1 .2-1.7-.5 0-1.6-1.4-.2-2-1.3-2.7-1.1-2 .1-1.9 1.2-1.4 .1-.2-2.6-1.3-.9 .8-2.1-1.1-.7z"/>
<path d="M415.6 113.6l.3 .3 3.1-.8 .4-.8 2 .2 .2 1.7 2.6-.9 2.5 .2-.1-2-1.6-.2-.1-1.4-2.7 .1-2.4-.3-1.9-.5 1.9-.6 0-.8-2.3 .9-.8 1.2-1.6 .3 1.3 1.8z"/>
<path d="M504.3 109.2l2.7-1.6 1.4-1.5 2.2 .5-.5-.8 2.4-.6 .6-.8 1.1 .8-1.4 1.8 0 .8-1.5 .5-1.2 .3-.8 .8 0 1 1.5 .9-2.2 .5-.5 .8-2.2 .2-.9-.7 .9-2.2z"/>
<path d="M508.1 112.6l.5-.8 2.2-.5 1.5 2.6-.1 1.2 .3 1.3-1.6 .9-1.6 .4-1.8 .3 .3-2.1-.5-1.7zM507.3 119.6l1.1 0-.6 .5z"/>
<path d="M532.9 191.2l2.1 5.9 2.3 1.1 1.1 5.7 3.9 2.4 3.6 4.6 3.5 4.3 .8 4.4-.8 4.6-2.4 4-2.3 4.9-.2 1.6-3.7 .8-1.8 1.8-2.6-1.3-1.9 .8-4.3-1.3-2-3.2-2.4-.9-.3-4-.4 3.2-2.4-.3-1.6-2.1-1.5-1.3-4.8-1.9-3.1 .3-4.7 1-3.1 1.1-.8 1.5-5.5 0-3.2 1.7-4.4-1.1 .8-3.7-1.9-4.9-1.5-4.9 .3-5.6 .8-1.2 3.9-2.1 3.6-.8 3.9-.8 1.3-3.2 2.7-2.1 2.3-2.8 2.4-.8 2.3 1.5 1.9-.2 .5-2.9 1.5-1.3 2.4-1.2 3.9 1.2 2.9 0-1.3 2.1-.8 2.4 3.2 1.6 3.1 2.5 2-.4 1.1-3.7 .2-4zM536.4 239.9l2.8 .6 2.8-.3-.1 2.1-1.1 1.8-2.4 .5-1.3-1.8zM523.6 231.6l2.2 .3-1.1 .4zM513.7 192.4l1.6-.2-.8 .8z"/>
<path d="M580.3 229.7l1.3 1.3 1.3 .4 .7 .9 1.1 .8 .8 1.7 1.2 .2 2-.2 .8 .2-.4 1.5-.7 .9-1.3 .5-.8 1-.3 1.5-1.6 .9-.9-.5 .5-2.1-1.9-1.1 .9-1 .3-1.1 .2-1.6-.9-.7-.6-1.2-.9-1.4zM580.3 239.6l1.3 .1 1.3 1-.5 1.1-.9 .7-.7 1.4-.3 1-1.4 .5-1 .3-.3 1.7-.4 .9-1.2 .4-.9 .7-1.9-.1-1.5 0-1.3-.8 .8-1.7 1.2-.4 1.1-1.2 1.3-.7 .8 0 1.1-.9 1-1 .6-.9 1.1-1.7zM572.3 249.8l1 .1-.7 .5z"/>
<path d="M587.6 202.3l1.9-.2 0 1.3-1.8-.2zM589.8 201l2-.8-.8 .9z"/>
</g>
<g fill="#5A9599">
<path d="M115.9 94.5l43.7 0 .9 .5 4.1 .6 3.9 .5 1.8-.5 5.6 2.4 .5 .5 1.6 .8 0 .4 1.5 .8 .2 3.7-.2 .6-.9 .7 .9 .8 5.5-1.8 .2-.8-.5-.3 3.8-.2 .8-.9 2.5-1.3 5 0 1.1-.5 1.3-2.3 1.2-1.1 1.4 .1 .8 .4 0 2.2 1.3 1.3-3.2 1.5-1.9 .6-.7 1.5 1.1 1.4-1.4 .2-1 .5-1.6 .4-.8 .3-1.5 .4 0 1.6-1.6 1.3-.8-.9 .6 1.9-.9 .7-.5 1.4 .3 .8 .5 2-1.4 .4-.9 .7-1.6 1.1-1.9 1.2-2.8 1.9-.6 2.1 1.4 3.6 .7 2.8-.3 2.4-1.4 .3-1.1-1.8-1.4-2.4-.1-2.1-1.8-1.6-2.2 .5-1.9-1.2-2.3 .2-1.9 0-.5 1.6 .5 .3-2-.1-1.6-.7-3.6-.1-1.6 .6-2.7 1.6-1.2 1.6 .1 2.2-2.9-.7-.7-1.8-1.5-1.9-1.5-1.8-2 .2-.8 1.1-2-1-.8-1.8-2.4-1.7-2.6 0 0 .7-4.5 0-5.9-1.9-3.6 0-2.1-2.3-3.4-.9-2.1-3.4-.9-2-2-2.7-.8-1.5 .3-2.6-.6-1.4 .7-3 0-2.6-1.3-.9 1.6-1.8-1.4-.7 1.3-.5 1.4 .9 .8 1.1-.3-1-.2-1.4zM87.6 61.1l-4.7-.7-6.3-.6-6.2-.8-7.3-.7-3.7 .8-4.7 1-2.4 1.5-4.7 1.4 3.9 1.3 3.2 1.3-3.2 .5-6.3 1.5 3.2 1.7 4.7 0 3.1-.4 0 2.1-5.5 .8-2.3 2.2 .1 1.4 1.4 .4 1.1 .4 1.4 .5 1.5-.1 .8 1.7 1.4 1.3 1.7-.9 1.2 .7 1.6-1.7 1.1 1 .7 1.2-1.5 1.1-1.1-.2-.5 1.6-1.4 .1-.9 .6-.4 1.1-1.7-1.2-1 1.3-1.4 .9-.6 .6-1.8-.4 1.4-.6 1.6 .3 2.2 .3 .9-1.1 1.1-1.4 2 1.6 .9-1.4 .6-1.4 1.6-.2 1.2-.2 .9-1.1 1.3 .5 1-1.3 1.6-.6 .4-1.7 .2-1.6 1.4-.2 1.5-1.2 1.6 .6-.9 .6-.2 1.7-1.2 .8 1.2 0 1.2-.4 1.5-.8 1.4 0 .6-.5 1.1-.9 1.4-.6 1.8 1.4 1.3 .6 .8 .2 1.2-1.1 1.4 .9 1.4 1.2 1.7-.7 1.1 1.2 1.2-.7 .9 .7 1.1 1.6 1.2-.5 .8 1.4 1.6 .7 .4 1.4 .9 .9 1 .1 1.4-.2 1.8 1 2.3 .5 0-2.1-3.1-1.6-2.4-2.4-3.1-2-3.2 1.2-2.3-1.7-3.2-.4zM66.4 80.7l2.2-.2 1-.6 .3 1.1-1.3 .2-1.4 .6zM39.7 70.6l4 .7-1.6 .5-2.7-.5zM46.8 76.3l2 0-.4 .7zM49.6 85.4l-.8 .1-.8 .6 .8 .1zM47.4 86l-.8 0-.8 .6 .8 0zM45.2 86.4l-.8 0-.8 .6 .8 0zM43 86.8l-.8 0-.8 .6 .8 .1zM40.8 87.2l-.8 0-.8 .6 .8 .1zM38.6 87.6l-.8 0-.8 .6 .8 .1zM36.4 88l-.8 .1-.8 .6 .8 0zM34.2 88.5l-.8 0-.8 .6 .8 .1zM32 89l-.8 0-.8 .6 .8 .1zM29.8 89.5l-.8 0-.8 .6 .8 .1zM27.6 90l-.8 0-.8 .7 .8 0zM580 88.1l1.6-.1-.8 .5zM589.5 89.8l1.8-.4-1.1 .9zM587.1 89.6l1.3-.2-.7 .5zM27.2 90.4l1.5-.3-.7 .6zM64.1 141.2l1.9 1.1-1.3 1-.6-1.2zM60.6 138.9l.8 .5-.6 0z"/>
</g>
<g fill="#8A4198">
<path d="M125.2 121.2l3.6 0 5.9 1.9 4.5 0 0-.7 2.6 0 2.4 1.7 .8 1.8 2 1 .8-1.1 2-.2 1.5 1.8 1.5 1.9 .7 1.8 2.9 .7-.7 3.2-.2 2.8 .9 2.5 1.4 2.3 2.1 1.1 .8 .7 3.1-.7 1.6 .2 1.2-1.3 .5-2.4 3-1.2 2.4 0 .3 1.2-1.1 2.1-.5 1.9-.8-.3-1.3 1.1-2.9 0 0 1 .9 1.3-1.7 .5-1.1 1.3 0 1.2-2.5-2.3-1.6-.4-2.7 .9-3.1-1-2.4-1.2-2.8-1.4-2.7-.8-2.3-1.8-1-1.6 .5-1.7-1.1-2.4-2.3-2.4-2.4-1.8-.8-1.8-1.6-1.3-1.5-1.6-1.6-2.1-1.1-2-2.3-1.1-.2 1.1 1.2 2.2 1.6 1.9 1.6 2.4 1.6 2.5 1.1 2.1 1.2 1.6-.8 .5-1.2-1.5-2.2-1.6 0-1.9-2.1-1.3-2.3-1.7 1.2-1.1-2.3-2.4-1.6-2.5z"/>
<path d="M416.2 135.5l.5 .8 2.3 .8-1.5 .7 2 2.2 1.9 .2 1.1-.5 .8-1.1 .1 2.9 0 1.6 .8 3.2 .8 2.5 1.3 3.2 1.1 2.8 1.4 2.9 .6 1.8 1.4 1.3 1.1-1.3 1.3-.7 1.2-1.6 0-1.9 .8-2.8-.3-3.2 1.4-1 2.1-1.3 1.8-2 2.4-2.5 2.8-1.8 .3-1.7 1.9-.1 1.4-.3-.3-2-.3-2.1-.9-1 .4-2.2 1.8 .5 .4 1.1 4 .3-.2 1.3-1.4 .5-.2 .8 .7 1 1.5 1.6 .7-.2 .6-1.7-.2-1.5 2.2-.3-.1-1.3 .9-1.8 2.8-1.6 .5-1.8-1.7-1.8-1.9 .2-2.4 .8-2.1 1.4-.2 1.7-3.6 .1-1.3-1-.1-1.1-1.1 .2 0 2.4-3.3-.3-2.4-1.2-1.9-.1-3.6-1.5-1.4-.8 .5-1.4 .9-.9-2.3-1.3-1.1-.3-.7-2.1 1.3 0-.5-2.9-1.4-1.9-.3 0-1.3 .8-3.1 .6-1.9 .5 .8 2.1 1.7 1.1-1.4 2.1-1.7 1.8-.8 1.5-1.6 1.8-2.3-.2-.7 2.4 1.6 3.1-3.4 .5zM454.7 152l.5 .3-.2 2.8-.6-.3zM456.3 162.2l.3 .4-.2 .3z"/>
</g>
<g fill="#FFFFFF">
<path d="M203.6 143.9l2.3 .2-.1 .6-2.2 0z"/>
<path d="M224.3 164.5l1.7 .6 1.9 2-1.3 2.6-.7 .6-2.4-.1 .8-2.1-.8-2.1z"/>
<path d="M199.9 202.3l.8-2.1-.9-1.5 .9-1.3 .2-2.9-1-2.8 1.6 0 3.2-1.9 1.8 0 0 2.7 1.5 1.5 2.5 1 2.8 .8 1.1 1.6 .1 2.9 3 0-.1 1.5 1.2 1.3-.3 1.6-.6 1.3-1.4-.8-4.1 .5-1.4 4.2-1.7-.3-1 1.3-1.4-1.2-1.7-.5-1.4 1.7-1.1 0-.5-2.1-1-2.3 .5-1.2-.8-.6-.1-1.3z"/>
<path d="M313.1 91.1l-1.5 .3-.1 1.3-1.1-.3-1 1.1-.9 .6-1.3-.3-.6-.5 0 1.7-2.2-.2-2.7 .6 .6 1 2.9 .8 2 1.8 .2 1.1-.3 1.7-.8 1.7 2 1 1.9 0 1.6 .5 2.3 .2-.3-1.3 1.6-.5 2 .3 1.9 .3 1.6-1.1-.8-.8 0-1.5-.3-1.1-1.1-.5 1.4-2.1 .9-.2 1-2.2-2.9-.8-.9 0-1.6-.8-.9-.4zM322.6 105.2l1.3-1 .1 1.6-.5 1-.7-.5z"/>
<path d="M300.1 92.7l1.2 .1 1.2-.6 1.1-.3 1.3-.7 1.1 .7 .8-.7 1.5 .1 .8 .3 .6-.9 1.6 .2-1.1-.5 1.1-.5 .5-1.3-1.1 .3-1.1-.9-.3-1-1.2-.2-.3-1.2-1.1-1.2-.7-1.1-1.6-.2 1.3-.5 .1-1.1 .5-.8-.9-.8-1.8 .5-.8 .1 .6-.5 .8-1.1-1.6 .4-1.4-.4-.9 .6-.3 1.2 .1 1.6 .4 1.8 1.1-.2-.2 1.2 1.3-.5 .9 .3 .8 1.5 0 .9-1.3 .8-1.1-.6 .3 .8 .5 .5-1.1 .4-.8 .6 1.6 .5 1.9 .3-1.9 .3-1.2 .2zM300.5 85.9l-.8-1.5-2.1-.1-1.4 1.1 1.4 .8 1.8 .2zM297.3 80.7l.8-.9 1.3-.6-.2 1.2zM306.6 75.8l1.1-.1-.6 1.1zM303.9 78.1l1.1-.2-.6 .7z"/>
<path d="M340.5 109.5l1.1-.8 .5-.9 1.6-.5 1.5-.3 2.4-.4 2.3-.3 1 .7-1 .9-2.6-.1-.5 1.3-1.9-.7 0 1.5 .6 .8 .3 .9 1 .7-1.3 .2 .4 .9-.4 1.3-.6 .2-1.7-.7-.8-1.7 .9-.7-1.2-.3-1.1-1.5zM346 116.4l1.1-.2 .9 .6 1.2 .3 1.2-.4-.2 .5-.8 .1-1.3-.5-1.1 .5-.8-.5zM349.9 110.2l1 .2-.5 .4zM352.8 114.9l.6 0-.5 .8zM345.7 110.8l1.6 .9 .3 .6-.8-.7zM349.8 111.5l.4 .2-.3 .3z"/>
<path d="M349.9 107.9l1-.9-1-.7 3.2-.5 1.5 1.3 4-.1 3.1-1.2 2.4-.1 2.3 1.3 3.2 .6 3.1-.2 1.6-.8 1.7-.1 1.4 .8 .3 1.4 1.8 .8-.8 1.2 0 1.6 .8 1.3-4 0-2 .2-3.1 .6-3.2 0-.5 .8-.7 .5-.4-1.3-1.5 .2-2.1 .6-1.9 .2-2.9-1.2-1.6 1-1.2-.2-1.3-.6-1.1-.5 .1-1.2-.1-1.2-1-1.3-.8-1.1z"/>
<path d="M328.3 183.5l.4-1.3 1-.8 2 .3 1.4-.8 1.4-3.4 2.4-2.8 .5-4 .9-2.5 0-1.3 2.2-.3 3.9 .7 2.4-1.5 2-.2 3.3 0 1.8 1.3 2.3-.3 1.3 1.6 .8 2.1-2.2 2.3-.4 2.1-.1 1.5-.6 .3-.4 1.8 .4 1.3 .3 1.6 .1 3.2 2.1 3-3 .3-.8 1.3 .3 1.9-.3 2.1 2.2 .7 0 1.9-1.3 0-2.3-1.8-3.2-.9-1.7-.5-.6-.8-.2 .1-2.6 .4-.3-2-.4-.8 0-3.6-2.8-.5-.8 1.7-3.1 .1-1.4-3.5-4.9 0z"/>
<path d="M304.2 165.6l-3-.1-1.5 .6-2.4 .7-.1-1.8-1.5-1.6 .4-1.8 .7-1.5-.6-1.6 .5-1.1 2.7-.7 1.1 .3 1.5 1.2 2.9 .3 .3 2.1-1.1 2.3z"/>
<path d="M420.5 105.3l.1-.5 3.9 .2 1.6-1.1 2.4 .5 4.7 .1 1.9 1.2-2.7 1.4-2.7 .5-1.9 .8-2.9 1.5-2.7 .1-2.4-.3-1.9-.5 1.9-.6 1.9 .1 2.1-.9-2.1-1.2z"/>
<path d="M566.7 206.6l3.9 2.6 .8 1-1.6-.6z"/>
<path style="stroke-width:.95" d="M26.6 310.7l1-.3 1.2-.7 .9-.1 1-.7 2 .5 .6-.4 1.4-.6 .9-.4 .8 .5 1.7 .4 1.3-.2 .7-.6 1.2 1 1.5 .1 .7 .4 1.5-.3 1.4 0 .5 .1 1.5-.2 1 .2 .8 .4 1.8-.2 .7 .8 1.4-.2 1 .5 .9-.1-1.1-.4-.1-1.6-.8-.8-.9-.9-1.1-.4 1-.7 2 0-1.2 .1-1-1.5-1.3 .1 1.3-.1 1-.9 1.1 0 1 .6 1.1-.5-.7-1-1.5-.1-.8-.5 1.4 .4 .8-.1 1.3-.6 1.4-.2 1.1 .3-.9-.4-1.1-1.1 1.5-.4 .7 1.1 1.2-.1 1.4-.9 1.2 .6-1-1.6 1.4-.2 1.1 1.1 1.1-.3 1.4 .2 1.3 0 1.4-.6 1.4-.1 1.7-.7 .7-.7 1.5-.4 1.6-.1 1.6-.6 2-.1 1.5 0 1.2-.1 1.6-.4 1.6-.2 1.2-.1 1.7-.1 2-.2 1.5-.4 1.2 .4 1.6-.7 1.9 0 1.5 0 1.7-.8 1 .4 1.6-.5 1.6 0 1.2-.1 1.9-.2 1-.1 1.5-.4 1.9 .2 1.7 .3 1.2 .1 1.9-.2 1.2 0 1.9-.2 1.8 .2 1.4 .5 1.8 .2 1.9-.1 1.7 .2 1.2 .1 2.2 1.5 1.2 .3 2.1 0 1-.1 1.8 0 1.5-.3 1.1 .1 1.3-.1 1.6-.2 1.4 .6 1.5-.3 1.3 .4 1.5-.2 2.2-1-1.3-1.2-.6-.4-1.6-.9 2.6-.8 1.6-.2 1.4-.2 1.6 .2 1.9-.4 1.4 .4 1.8 .1 1.7 .4 2.1 .4 .8-.3 2.5 .2 1.4 .1 1.8 .2 1.8-.1 .7-.3 1.9 .1 1.5 .3 1.5 .1 2.2 0 1.7-.1 2.1-.2 1-.8 .9-.6 1.1 .4 1.4-.3 1.5-1.2 1.1-.3-1.5-1 1.2 .5 1.3-.1 1.6-.5 1.2-1.3 .2-1.2 1.9-.2 1.1-.5-.9-1.3 .4-1 1.3 .2 1.4-.7 1.2-.6 .9-1.2 .7-.9 1.4 .1 .7-.9 1.4 .6 1.6 0 1.1-.9 .6-1 1.2-1.1 1.5-.6 .9 .1 1.4 .4 1.2-.4 1-1.5 1.5-.2 .7-.1 1.5-.9 1.3 .2-.9 .8-.8 1-.7 .4-1.6 .2-.7 1.2-1.4 0-.9 .6-1.3 .3-1.2 .9-1.1 .4-1.4 1.2-.9 1.6 1.6 1.4 1.1 .4 .3 1.2 .6 1 .9 .9 .6 1.6-.9 1.2 .7 1.2-.3 1.4-1.7 1-1.5-.1-1 1.1-1.3 1.2-1.6-.1-.9 .6-1.9 .1-.5 .2-1.3 1-1.6 .6-1.6 .8-1.5-.1-2.6 .5-1.4 .1-1.2-.1-1.6 .7-2.1 .2-1.4 0-2 .3-1.1-.2-1.2 .6-1.7 0-2 0 1.5 .5 2.5 .6 1.9-.1 1.2 .1 1.5 .3 1.8-.4 1.4 .2 1.8 0 1.4-.3 1.6-.1 1.3 .6 1.9-.4 1.7 .4 1.5 2.2 1.6 1.1 1.2 .3 1.1 .3 1.8 .7 1.3 .1 1.9 .8 1.2 .7 1.3 1 2.1-.2 1.5-.7 1.6-.6 1.8-.3 1.6-.4 1.7-.1 .7 .2 2-.7 .8 0 1.8 .1 1.1 0 2 0 1.5 .6 1.6-.4 1.1 .3 1.8-.7 1.6-.1 2-.4 1.3-.6 1.7-.5 1.4-.4 1.1-.3 2.4-.4 1.1-.2 1.8 .1 1.3-.3 1 0 1.5 .3 1.9 .1 .9-.2 1.9-.1 1.4 .2 1.5 0 2.1-.5 1.5 .1 1.1-.2 2.1 .2-1.9-.1-1.2-.1-1.6-.3-1.5-.3-1.6-.2-1.9 .1-1.8-.4-1.3-.3-1.7-.1-.8-.1-1.9 0 1.1-.3 2.1-.7 .8-.8 1.5-.3 1.5-.2 1.1-.7 2.2-.1 1.2-.5 1.4-.1 1.4-.2 2.1-.3 1.1 .2 1.9-.1 2.1-.7 1.5-.2 .9-.4 1.3-1.5 1.3-.7 1.1-.5 1.4-.7 1.5-.3 1.3-.5 1.2-1.4 1.4-.5 1.7-.3 1.6 .4 1-.6 1.8 .2 1.9 .1 1.6-.6 1.5 0 1.8-.2 1.8 0 1.1-.3 1.7-.2 1.4-.3 1.1 0 1.6 0 1.5 0 1.8-.2 .7-.1 1.4 .2 1.8-.1 1.6-.2 1.1 .4 1.1-.2 1.8-.1 1.7 .1 .8 .3 1.6 .1 2.1-.4 .8 .1 1.4 .5 2 0 1.5 .1 1.1 .1 1.7-.1 1.1 .2 1.7-.1 1.7-.3 1.2 .1 .9 .2 1.9 0 1 .1 1.4-.2 1.5 0 1.6 .3 1.3-.5 1.7-.6 2-.5 1.4-.4 1.6-.8 2-1.2 1.6 .6 1.9 .9 1.6 .1 2.1 .5 1.3-.4 1.3-.7 1.7-.6 1.5-1 1-.5 1.9-.5 1.2 .1 1.6-.7 1.8-.5 1.2 .2 1.1-.2 1.4-.2 1.8-.6 1.2 .1 2-.3 1.3-.5 .7 0 1.8-.1 2.1 .5 1.2 .2 1.7 .7 1.5 .4 1.3-.3 2.1 .4 1.1 .2 1.1 .1 1.9 0 1.4 .5 1.5-.3 .9 .5 1.7 0 1.8 .1 .9 .7 1.5-.1-.8 1.4-.4 2.2-1.5 1.7-.7 1.2-.9 1.7 1.6-1.2 .9-.9 1.1-1 1.2-.5 1.8-1.6 1.5-.3 2-.7 1.3-.6 1.9-.4 .8-.7 1.2-.4 2.1-.6 1.2-.2 1.5-.4 1.7-.1 1.3-.5 1.4-.2 1.3-.1 1.3-.1 2.6-.2 1 .2 1.9-.3 1.8 0 1.1-.6 2-.1 1.2 .1 1.4-.1 1.1 .2 1.5-.3 2.2 .1 .8 .1 1.9-.2 1.8-.2 1.3-.2 2.3-.2 1.3 .1 1.6 0 1.8 .1 1.3 .5 1.2-.2 1.4 .4 1.1 .5 2 .2 1.4 .5 1.2 0 1.1-.8 1.8-.3 1.4-.9 1.1 .8 1.9 .9 1.3 .3 2.1 .2 1-.3 2.4 .2 1.2-.2 1.1-.1 1.8 .1 1.4-.2 2.3 0 1.1-.3 1 .1 2-.2 1.5-.1 1.2-.5 1.6 0 1.5 0 2 .2 1.9-.1 1.6-.1 1 .3 1.4 .1 1.6 0 1.4 0 1.6-.1 1.7-.1 1 .1 2 .7 .8-.2 1.8 .2 1.5 .8 2.2 .8 1.6 .8 1.9 .5 2.1-.2 1.6 .4 1.8-.3 1.8 0 1.1 0 1.2 .3 1.9 .1 1.3 .5 2 .8 1.7 .3 1.9 .6 1.5 .5 1.6 .2 1.9 .4 1 .1 1.6 .1 1.9 0 1.6 .1 1.3 .5 1.3-.2 1.6 .2 1.6 .4 1.2 .2-1.4 .8-1.4 .4-.9 .5-1.8 .7-1.5 .3-1.1 .4-1.8 .8-1.1 .5-1.7 .6-.9 .7 1.3 .2 1.4 .3 1.7 .6 1.2 .6 1.8 .5 1 .8 1.5 .9 1.6 .4-1.5 .5-1.4 .3-2.3 .2-1.1 .7-1.6 .2-1.1 .5-2.2 .4-1.5 .7-1.8 .5-1.3 .3 1.8 .9 1.1 .7 1.5 .5 1.4 .8 1.5 .4 1.1 .1 1.5 .4 1.6 .1 1.4 0 2.4 .3 1 0 1.6 .4 1.6 .3 1.6 .2 1.1 0 1.5 .5 1.6-.2 1 .3 1.2 .3 1.5-.1 2.1 0 1.1 .4zM224.5 302.3l1.1-1.1 1.4-.7 1.5 0 2-.3 .8-.6 1.7 0 1.8 .5 1 .2 1.5-.1 1.7 .4 2 1.9-1.6 1.4-1.4 .6-1.4-.1-1.7 .1-1.5 .3-1.4 .2-1.3-.3-1.8 0-1.9-.5-1.2-1.1zM195.8 281.8l1.4-.5-.6 .8zM198.8 280.3l1.4-.5-.6 .8zM202.3 277.6l1.4-.5-.6 .8zM205.3 276.3l1.4-.5-.6 .8zM208.8 274.3l1.4-.5-.6 .8zM211.3 273.1l1.4-.5-.6 .8zM192.3 285.8l1.4-.5-.6 .8zM189.3 288.3l1.4-.5-.6 .8zM186.8 296.8l1.4-.5-.6 .8zM190.3 295.6l1.4-.5-.6 .8zM199.8 283.8l1.4-.5-.6 .8zM204.8 279.3l1.4-.5-.6 .8zM213.8 274.8l1.4-.5-.6 .8z"/>
</g>
<g fill="#000000">
<path d="M185.8 130.6l1.6-.1-.8 .6zM186.1 133.4l1-.2-.2 1.5-.8-.4zM187.4 130.9l.8 .4-.2 .6zM188.9 133.1l.7 .1-.2 .8zM190.5 134.5l.5 .3-.3 .5zM193.3 139.7l1-.2-.3 .5z"/>
<path d="M213.3 257.4l4.7-.2-1.6 1.5-3.1-.5z"/>
<path d="M270.6 146.7l.8-.4-.3 .7zM271.9 149.3l.6-.2-.3 .6zM269.4 146.2l.4-.2-.1 .5z"/>
<path d="M376.9 192.5l.5 .2-.1 .7zM379.8 194.5l.4 .1-.3 .4z"/>
<path d="M399.3 206.3l.6 .3-.5 .5zM396 207.9l.7 .2-.4 .5z"/>
<path d="M319.3 173.4l.5 0-.3 .5z"/>
<path d="M554.7 184.8l1.9 .9-.9 .5zM559.6 188.8l2.2 1-1.4 .3zM561.3 187.4l1.3 1.7-.9-.3zM556.3 186.7l1.6 1.1-1.1 .4zM562.4 190.4l1.8 .8-1.1 .4zM557.9 185.9l2.3 1.6-1.4 0zM552.5 182.8l1.5 1.6-1 .5z"/>
<path d="M570.6 197.9l1.3 1.1-1 .5zM571.7 199.7l1.1 1.1-.9 .2zM573.1 202.3l.8 .5-.6 .3zM574.5 204.2l.7 .5-.7 .2zM575 205.3l.5 .5-.7 0zM572 196.1l.5 .5-.5 .2z"/>
<path style="stroke-width:.45" d="M39.6 195.9l-1.1-.2 .3 1zM75.1 202.2l-1.2-.1 .4 .9zM34.7 208.1l-1.1-.2 .4 .9zM36.3 204.1l-.8-.1 .2 .6zM32.8 195.3l-.8-.1 .3 .7zM29.8 196.9l-.8-.1 .3 .7zM167.3 174.5l-2.3-.4 .8 1.9zM168 174.6l-1.3-.2 .4 1.2zM169.1 175.2l-1.1-.2 .4 .9zM166 174.4l-1.1-.2 .4 .9zM59.3 137.9l-1.3-.1 .5 1zM63.1 139.5l-1.1-.2 .4 1zM64.3 139.9l-1.5-.2 .5 1.2zM32.5 245l-1.4-.2 .5 1.1zM39.7 178.8l-.8-.1 .3 .6zM40.6 188.7l-.7-.1 .2 .6zM59.2 167.9l-.9-.1 .4 .7zM62.5 170.6l-1.1-.2 .4 1zM57.6 166.2l-.7-.1 .2 .5zM91.3 189.6l-.9-.1 .3 .7zM89.6 188.1l-1-.1 .3 .8zM91.5 190.6l-.7-.1 .2 .6zM71.7 200.8l-1-.1 .4 .7zM81 201.8l-.8-.1 .3 .6zM88 203.3l-.7-.1 .3 .5zM95.6 208.6l-.7-.1 .2 .6zM84.1 200.5l-.7-.1 .3 .6zM77.7 198.1l-.7-.1 .2 .6zM97.6 211.2l-.7-.1 .3 .6zM74.7 211.7l-.7-.1 .2 .6zM71.7 210.3l-.7-.2 .2 .6zM106.9 213.7l-.7-.2 .2 .6zM137.9 217.7l-.8-.1 .3 .6zM135.2 143.3l-.8-.1 .3 .6zM123.7 126.7l-.8-.1 .3 .7zM58.6 208.1l-.8-.1 .2 .7zM42.8 204.5l-1-.1 .4 .8zM61.5 206.2l-.7-.1 .2 .6zM53.2 203.1l-.5-.1 .2 .5zM537.1 152l-1-.2 .3 .9zM538.4 149.3l-.9-.2 .3 .8zM538.5 144.4l-.7-.1 .2 .6zM538.3 146.7l-.7-.1 .3 .6zM520.9 161.6l-1-.2 .3 .9zM526.4 158.4l-.8-.2 .3 .7zM548 161.7l-.9-.1 .3 .8zM558.2 162.5l-1.1-.2 .4 1zM565.6 165.1l-.9-.1 .3 .8zM571.6 174.6l-.7-.1 .3 .6zM578.4 162.2l-.8-.1 .3 .7zM574.4 162l-.6-.2 .2 .6zM572.9 159.7l-.7-.1 .2 .5zM575.6 155.6l-.5 0 .2 .4zM581.3 171.5l-.9-.2 .3 .8zM581 168.8l-.6-.2 .2 .6zM583.5 174.8l-.6-.2 .2 .6zM585.8 175.9l-.5-.1 .2 .5zM590.9 187.6l-.6-.1 .2 .5zM587.6 185.5l-.6-.1 .2 .5zM592 200.5l-.6 0 .2 .4zM28.7 202.8l-.7-.1 .2 .6zM26.9 204l-.6-.1 .2 .4zM570.3 191.1l-.9-.2 .3 .8zM572.6 196.3l-.8-.1 .3 .6zM571.6 192.8l-.7-.2 .3 .6zM573.9 200.2l-.9-.2 .3 .8zM575.6 204.2l-1.1-.2 .4 .9zM576.2 206.5l-.7-.1 .2 .6zM573.4 208.4l-1.1-.2 .4 .9zM572.3 207.5l-.8-.1 .3 .6zM573.3 220.8l-.6-.1 .2 .5zM559.4 224.8l-.7-.1 .2 .6zM532.8 130l-.6-.1 .2 .5zM531.3 133.6l-.5-.1 .2 .5zM551.1 134.4l-.5 0 .2 .3zM515.5 131.8l-.6-.1 .2 .5zM504.6 134.2l-.8-.1 .3 .7zM503.9 134.4l-.7-.1 .3 .6zM506.3 133.6l-.7-.1 .2 .5zM512 128.7l-.8-.1 .3 .6zM268.2 268.6l-1-.2 .3 .8zM252.1 261.7l-2-.3 .7 1.7zM300.6 199.7l-.8-.1 .3 .6zM286.9 186.6l-.8-.2 .3 .7zM290.2 233.9l-.8-.1 .3 .6zM293.9 239.1l-.6-.1 .2 .6zM207.9 121.4l-.8-.1 .3 .6zM263.4 207l-.6-.1 .2 .5zM258.6 180.1l-.7-.1 .2 .6zM238.4 271.9l-1.4-.2 .5 1.1zM217 274.5l-1.1-.1 .4 .9zM222.9 272.8l-.9-.2 .3 .8zM298.9 73l-1.5-.3 .6 1.3zM297 58.6l-1.1-.2 .4 1zM339.4 53.1l-.9-.1 .3 .8zM307.4 76l-.6-.1 .2 .6zM213.2 147.4l-1.2-.2 .4 1.1zM213.8 150l-1.1-.1 .4 .9zM213.9 151.2l-1.1-.2 .4 .9zM216.1 152.3l-1-.1 .4 .8zM213.4 148.7l-1.1-.1 .4 .9zM212.5 146l-.9-.1 .3 .7zM211.1 145.7l-.8-.1 .2 .7zM213.4 152.4l-.8-.2 .3 .7zM212.7 154.1l-.9-.1 .3 .7zM210.5 144.4l-.6-.1 .2 .6zM207.8 144.1l-.9-.2 .3 .8zM208 145.1l-.7-.1 .3 .5zM202.3 154l-.9-.2 .3 .8zM201.2 154l-.9-.2 .3 .8zM199.6 153.5l-.8-.1 .3 .6zM209.1 155.9l-1-.2 .4 .9zM182 142.5l-.8-.1 .3 .6zM183.9 141.9l-.5-.1 .1 .5zM196.5 138.4l-.9-.1 .3 .7zM196.9 139.1l-.7-.1 .2 .6zM194.1 137.3l-.8-.1 .3 .6zM192.5 134.9l-.8-.2 .3 .7zM190.4 135.7l-.7-.1 .3 .5zM271.6 146.7l-.9-.2 .3 .8zM272.6 149.2l-1.1-.1 .4 .9zM273.6 147.6l-.9-.1 .3 .8zM271.2 149.6l-.8-.1 .3 .7zM270.2 146.2l-.9-.2 .3 .8zM273.5 146.7l-.7-.1 .3 .6zM419.6 253.4l-2.5-.4 .9 2.1zM425.2 259.7l-1.2-.1 .4 1zM431.2 235.2l-.7-.1 .3 .6zM431.2 236.5l-.6-.1 .2 .5zM423.2 185.6l-.7-.1 .2 .6zM425 166.9l-.9-.1 .3 .7zM424.4 173.3l-.6-.1 .2 .6zM424.3 162.8l-.7-.1 .2 .5zM423.8 156.8l-.6-.1 .2 .5zM396.8 181.3l-1-.1 .4 .8zM397.1 180.8l-.7-.2 .3 .6zM382.2 189l-.7-.1 .3 .6zM393.1 182.6l-.5-.1 .1 .4zM409.1 205.7l-.7-.1 .2 .6zM369 249.7l-1-.1 .4 .8zM391.1 248.9l-1.1-.2 .3 1zM388.5 248.5l-.7-.1 .2 .6zM314.9 261.9l-.8-.1 .3 .7zM461.6 193.5l-.7-.1 .2 .5zM475.4 190.8l-.7-.1 .3 .6zM457 162.4l-.8-.1 .3 .7zM456.6 160.8l-.6-.1 .2 .6zM455.4 158.8l-.8-.1 .3 .7zM454.9 156.4l-.9-.2 .3 .8z"/>
</g>
<g fill="#C71000">
<path d="M187.6 159.9l.9 .1 1.2-1.2 .8-2.1 1.1-.8 2.4-.3 2-1.5 1.1-.3 0 1-1.1 .3-.8 .8-1.2 3.1 1.2 1.3 .2 1.6 2.2 .7 1.6 0 .9 1.4 3-.2-.5 1.5 0 1.6 .8 1.5-.9 1 1.1 .8 .4 1.8-1.7-.9-2.8 0 0 1 .9 .2-.3 .6-.9 .2 0 1.1 .9 1.5-.8 5-1.2-.6 .6-2.1-2.7-.4-1.6 0-1.5-2.1-2.1-1.4-1.5-.8-1.8 0-2.2-1.7 .5-1.8 1.6-.1 .6-2.1-.6-2.6 .1-2-.8-.8 1.1-1.1z"/>
<path d="M348.5 122.6l3 .4 3.1 .8 2.4-1 3.1 .7 2.7-.3 1.1 2.9-.8 2.4-.3 .3-1.4-1.1-1.1-2.3 .2 1.5 1.5 2.4 1.3 2.5 1.6 3.2 .1 1.6 2.1 1.6-18.7 0 0-12.9z"/>
<path d="M379.5 109.5l-.8 1.2 0 1.6 .8 1.3 1.1 1.9 .7 1.5-.7 1.8 .7 1.6 2.4 1.1 .5 2.1 .3 .9 .8 .9 1.5-.3 1.1 .5 1 1.5 1.1 1.7 2.3 1.8 2.7 .3 2.5-.9 1.1 .5 .5 1.7 2.7 .5 4 .4 .4-1.7 2.2-.8 .1-.8-.8-1.6-3-2.7 1.5-1.5-.2-1-1.4-.2-.3-2.6-.2-.9 1.1-3.1 0-1.6-1.4-.2-2-1.3-2.7-1.1-2 .1-1.9 1.2-1.4 .1-3 1.2-1.6-.2-2.4-1.3-.9-1.4-1.4-.7 0-1.5-2.4 1.3-.4 0-1.1 0-.8-.8z"/>
<path d="M405.8 133.1l3.8-.2 3.9-.2 .8 1 1.9 1.8 1-1 3.4-.5-1.6-3.1 .7-2.4 2.3 .2 1.6-1.8 .8-1.5 1.7-1.8 1.4-2.1-1.7-1.1-.8-2.1 1.9-.5 3.1-.6 1.3-.8-2.8-.9-.4-1.4-1.4-.6-2.9 .6-2.9 1.3 .7 1.3-.8 1.9-1.3 1.2-1.2 .4-.4 2-2.5 .8-2 .6-.2 1.8-3.6 .7-2.3 .1-2.6-.7 3 2.7 .8 1.6-.1 .8-2.2 .8z"/>
<path d="M530.4 106.6l.9 1.6 .8 1.7-.5 1-1 1.1-.2 2.1-.2 1.9-1.5 1.2-1.6 .5-1.7 .4-1.1-.3-.3 .5-1.6 1.3-1.3-1.8-1.3 .5-1.8 0-1.6 .6-1.6-.1-.1-.5 1.4-.5 1.1-1.3 .9 0 1.5-.1 1.4-.4 1.7 0 .2-1.2 1.1-1.4 .7-.3-.4 1.1 1.3-.6 1-.3 .8-.6 .8-1.2 .6-1.3 .2-.8 0-1.3 .5-1zM529 106.6l.5-1.3-.8-.5 1.1-1.1 .8-1.1-.2-1 1.1-1.3 1.3 .6 .9 1.2 1.5-.2 .9-.1 1.2 .3 .3 1.6-.7 .8-1.8 .4-.6 .9-.5 0-1 0-1.3-1-1.3 .2 .2 1.3zM513.3 119.6l1.5-.7 1.5 1.2-.1 1-.6 1.4-1.2 1.1-.8-.4 0-2-.8-.8zM517.2 118.8l1.2 .2 1.9-.5-.4 1.4-1.9 .8-1.1-.8zM509.7 131.4l.9-.9-.5 .8zM512.2 128l.6-.3-.3 .6zM513.9 124.6l.5 0-.3 .3z"/>
</g>
<g fill="#008EA0">
<path d="M227.9 167.1l1.6 3.4 1.2 1.8-1.5 1.9 2.6 0 1.6 1 1.9-.2 3.9 1.8 .3 1.3 2.1-.3 2.6 .8 2.9 .2 1.5 1.1 1.9 1.6 3 .8 .8 2.9 0 2.5-1.4 2.1-2.2 2.3-2.1 2.9-.8 2.4 0 3.2-.3 2.5-1.2 3.2-1.6 3.1-1.6 1.6-2.3 .2-2.4 1.1-2.3 .8-2.9 2.1-.4 2.5-.3 2.4-1.9 2.4-2.4 2.9-1.4 1.7-1.6 1.4 0-1.4-1.7-1.8-2.4-1.3-2.5-1.1 3-3.1 3.2-2-.2-1.4-1.4-1 .1-.2 .5-2.4-2-.2-.7-2.6-2.9-.3 0-2.2-.5-1.5 .6-1.3 .3-1.6-1.2-1.3 .1-1.5-3 0-.1-2.9-1.1-1.6-2.8-.8-2.5-1-1.5-1.5 0-2.7-1.8 0-3.2 1.9-1.6 0-1.7 0 .2-2.4-2.7 .8-1.3-1.3-.3-2.9-1.2 0 1.5-3.4 .4-.3 4.4-1.3 .1-.2 .8-5-.9-1.5 0-1.1 .9-.2 .3-.6-.9-.2 0-1 2.8 0 1.7 .9 2.2 .6 3.3-2.3-1.5-.5 .6-2.5 1.9 .1 3.3-1 0-.9 .9 .1 .8 1.8-.6 .8 .1 2 .2 1.6 1.5 .2 2.4-1.2 1.3 0 .9 0 2.2-.6 2.4 .1 .7-.6z"/>
<path d="M357.5 60.8l-3 1.2-.6 .9 2.3 1.3-1.6 1.3 1.1 1.3 .8 2.1-.3 1.6 2.4 1.4-4 2.8-1.8 1.1 1.5 .4 1.1 .5-2.3 .8-1 1.1 .2 1.6-.2 .5 .7 .5 .6 1.8 4.2 .8 2.9 3.5-2.2 .5-.5 1.6 4.4-.4 2.7 3.2 3.9 .8 3.1 .5-.3 2.8-2.5 1.3 1.7 0-2 1.7-.8 1.2-1.4 .3 2.2 1.3 2.7 1.4 .4 0 3.9 .4 2.4 .9 2.4 .2 1.5 1 2.1 1.1 1.2-1-1.7-1.9 0-2.4-1.3 0 1.3-1.8 2.4-1.2 .3-.1-1.1-1-2.4-1.6-.8-.8 1.6-2.9 1.9-.5 3.3-1.8 3.4 .3 3.2 1.3 4.7-.5 5.5 .4-2.4-2 1.6-3.1 6.3-.8 6.3-1.4 3.1 1.7 3.9 .4 4.7-.4 2.1 1.5 3.4 4.1 4.8-.4 3.1 2.3 3.6 .6 .8 0 .3-1.2 2.7 0 3.6-1.3 4.7 1.3 4.7-.9 .5-2.4 5.8 1 .3 1.4 6 .4 3.9 1.4 3.9 0 4.7-1.3 4.3 .7 1.7 .5 2.4-1.3 1.1-2 1.1-1.8-1-1.1 5.4-.3 3.9 1.1 2.3 4.2 4 2.1 1.5 2 3.2-.7 2.7-.3-2.7 5.2-2.7 .3-.5 3.1-.6 1 2.2-1.3 1.9 .6 1.1-.9 .5-.1 .8-1.1 1.2-.5 .5-1 1.2-1 .7-.6 3.1-2.4 2.4-3.2 0-3.3 1.4-2.7-3.8-1.7-3.1 .4-2.9-1.2 4-2.4 4.4-2.6 3.9-2.4 4.7-.2 4.7-.3 4.7 1 4.7-.5 3.2-3.8 4.7-.4 4.7-1 2.4 .1-2.1 2.3-1.9 1.6-3.1 .9-2.4 2.4-2.5 1.6-1.9 3.2 .5 4.1 1.1 2.6 3-3.4 2.2-.3 0-2.1 3.1-.5 .2-2.3 1.9 0 0-2.6-1.3-.3 .8-1.6 3.1-1.7 1.6-.4 6.3 .4 .5 .2 2.6-1.8 4-1.3 4.7-1.1 3.1 0-3.9-3.3 2.4 0 1.3-.4 1.5-.7 1.1 0 1 .7 1.6 .3 1.6-.6 1.3 .7 1.4-.2 1.1 .9 1.4-.3 1.2-.9 1.1-.7 .9-.6 1.5-.6-.9-1.1-1.4-.2-1.5-.8-1.6 .4-1.4-.1-1-.6-1.4-.9-1.5-.1-.7-.7-1.8 .1-1.4-.5-1.1-.3-1.3 0-1.6-.2-.7-.8-1.2-.4-1.5 .1-.9-.4-1.4 .7-1.8-1-.8-.1-1.8 1.1-1.1-.7-1.6 1.3-2 .2-.6-1.1-2.1 .3-1.2-.6-1.3 .1-1.8 1-1.2 0-1-1.1-1.4 .6-1.7-1.1-1.4-.4-1.6-.5-1.1 .6-1.4-.1-1-.8-1.3 .8-1.5-1.1-.7 .1-1.4 .9-1.3-.5-1.3-.2-2.1-.7-1-.9-1.3 .1-1.4-.1-1.2-.2-1.6-.7-.6-.2-1.8 .9-1.2-1.2-.9 .5-1.3-.7-1.6 1-1.2-.7-.4 1.3-1.2 .8-1.5-.3-1.2 .9-2-.4-1.2-.2-1.2-.4-1.1 .2-1.2-.1-1.6 .3-1.5-.3-1.3 .3-1.9 .8-.8-.9-.8-1.5-1.7-.3-1.4-1.3-1.2-.4-1.2 .7-1.9 .2-1.2-.1-1.1 .7-1.5-1.1-2 .9-1.3-.8-1.2 .7-1.1 .1-1.4 0-1.7-1.3-1.1 .3-1.2-.5-1.4 .4-1.5-1.5-1.9 .9-1-.1-1.8 0 1.2-1.2 1.3-.3 1.2-.5 1-.4-1-.1-2-.6-1 .1-1-.3-1.3-1-1 .2-1.6-1.4-.8 .2-1.3 .5-1.6-.8-1.1-.4-1.2 .9-1.7-.1-.9 1-1.7-.7-1.2 .9-1.4-.4-1.6 .5-.9 .3-1.4-.6-1.2 .3-1.4 .4-1.2-.5-2 .9-.9 .1-1.7 0-1.2-.2-1.1 1.5-1.5-.6-1 1.4-1.4-.4-.7 .7-1.4 .7-1 .2-.9 .8-1 1-1.5 .2-.5 1-1.6 1.1-.7-.7-.6-1.7-.6-1-1.1 .9-2-.7-.8 .8-.2 1.4 .7 2-.1 1.2 .6 1.3 .1 1.2-.1 1.2-1-.9-.9-1.1-.4-.9-.5-1.4-.1-1.6-1.2-.3-.8-1.5-1.4-.6-.3 2-.7 1.4-.9 1.5 .5 1.4-.7 1.5-.5 1.4-.9 .5 0-1.7-.9-.7 .8-1.6 .3-1.4-.9-1.4 .7-1.4-.6-.8-1.1-1-1.3-.7-1.1 .8-.8 0-1 1.6-1 .1-1.1 .6-.1 1.6-.7 .7 1 .7 .9 1.7-1.2 .1-1-.4-1.5-.9-1.3 .2-1.6 .2-1.6 0-.8-1.3-1.8 .8-1.3-.6-.8 2.1-1-.3-1.6 .8-1-1-1.9 .3-.7 .6-1.6-.4-1.4 .1-1 .3 .8 1.2-1.4 .4-1.1-1.1-1.5 .2-1.3 .1-1.1 .5-1.4-.8-1.6 .5-1.2 .1-1.3-1.4-1 .1-1.2-.2-1.1-.2-1.6 0 .3 2 .8 1.4-1.4 .6-1.7-.4-1.5 1-.6 1.4-1.1 .5-1 .6-1.8 .6-1.1 .1-1.1 .3-1.4-1.4-1.4 .3-.9-1.6 .1-1.2-.9-.9-1.5-.2 1.8-.1 1.4 .2 1-.2 1.9 .6 .7-.3 1.5 .3 1.3 .5 1.4 0 1.4-.7 .7-.8-1.3-1.3-1.3-.2-1-.5-1.4 .1-1.1-1.5-.7-.1-1.6 .1-1.8-.5-.9-.4-2 .2zM339.9 85.7l2.5-1.3 2.4 .3 .1 1zM390 58l1 .9 1.3 .4 1.3 .2 .6 .5 1.3 0 1.2-.2 .6-1.2 1 .6 1.1 .1-.3-.9-1.2-.5-.4-1.1-1.2-.4 1-.6-.2-1.5 .7-.9 1.6 .4 1-.8 .7-.4 1.2-1.4 1 .3 1-.2 .9-.3 1.1 .5 1.6-.2 .9-1.2 .7 .1 .9 .2 1.4 .3 1.2 .2 .6-.3 1.6 .2 .7-.9 .8-.8-1.3-.7-.7 .6-.8 1-1.6-1.4-.4 .9-1.3-.9-1 .8-1-.2-.9 .7-1.3 .3-.9-1-1 .4-.9 .5-1.4 .9-1-.1-1-.2-1.4-.1-.4 .6-1 1.4-1.1 .2-.8 .3-.4 1.1-.9 .6-1.1 .8-.8 1.2-1.7 .2zM379.8 42.7l1-.9 1.5 1.2 .7-.6 1-.4 1.2 .3 1.5-.8 .7 .1 1.2 .7 .9 .2 1.7-.2 .8-.7 1.3-.7 .5 .4 1.4 .8 .8-.3 .9-1 1.2 1.1 1.1-1.1 1.2-.1 1.2-.6 .7 1.6 1.4 .3 1.3-.5 1 .1 1-.1 1.1 .7 1.1-.2 .7-.3 .9 .1 1.3 .4-.8 .6-1.2-.5-.4 1.6-1.5-.2-.8-.8-1.5 1.2-1 .1-.9-.6-1.1 .6-1.5 .5-1-.4-1.3-.5-1.1-.3-.7 .9-1.3-.6-1-.6-1.7 .3-.8 .8-1.1 .6-1-1.5-1.7 1.2-.7-.9-1.4-.1-.8 1.3-1.1-.6-1.4 .2-.7-1.2-1 .7-1.1-.7zM451.2 41.9l1.3-.3 1.7 .1 .8-.7 1.6-.4 .9 1.1 1.5-.5 1.2 .1 2 .8 .8 .9 1 1.1 2-.2 .8 .8 .8 .6 1.9-.4 1.2 1.1 1.3-.4 .7 .8 1.6-.7 1.2 1.2 1.1 .2 1.2 .1 1.3 .7 .9 1.2-1.5-.2-1.1-.4-1.1 .2-1.7 0-1.7-.9-1.7 .1-1.2-.3-.9 .2-1.7 0-1.4-.8-1.1 .1-1.3 .4-1.6-.6-1-.3-1.7-.6-1.3 .2-1-.6-.8-.7-1.7 .4-.7-1.2-1.6 .1-.2-1.1zM524.3 51.5l1-.6 1.4-.5 1.1-.3 1.2 .3 .9-.2 1.8 .9 1.5-.7 .8 .7 1.2-.4 1.6 0 1.5 .6 1-.6 1.8 .7 .9-.1 1.2 0 1.5 .5-1.2 .4-1 .5-1.7 .1-1.5-.6-.9 .4-1-.4-1.8-.2-.8 .1-1.2 .1-1.5 .1-1.1 .4-2.2-.4-1.4 .5-1.8-.1zM529 54.8l1.8-.7 1 .6 1.9-.3 0 .8-1.6-.5-1.3 .4zM540.8 51.8l1.4 .5 2 .2 1.3-.5-1.1 .7-1.3-.1-1.3-.2zM589.5 58.3l2-.4 1.4 .6 1.3-.5 1.2 .8-1.2 .2-2.1-.2-1.1 .3zM532.1 85.9l1.6 1.3 .5 3.2 1.1 3.7-1.6 3.9 .8 1.3-2.4-.8 0-3.2 0-3.3-.4-3.2zM537.6 102.7l1.6-.9 3.1-1.8-2.3 1.3-1.5 .7zM543.9 99.5l1.6-.7-.5 .7zM547 98l1.6-.9-.5 .6zM549.4 96.1l1.6-1.5-.5 .8zM551.9 94l1.6-1.6-.6 1.1zM553.3 92.5l1.1-.9-.1 .9zM385.3 61.6l2.3 .1-1.1 .8zM401.8 59.9l1.1 .9 1.2-.2-2.3 .3zM569 84.3l1.3 .3-.5 .6z"/>
<path d="M458.8 164.8l1 .5 1.5-.5 .9 .7 1.2 .7 .7 1.5 1.8 1.2 .7 .9 1.9 .9 1.1 .2 .7 1.6 1.4 .6 .5 .9-.2 1.5 1.2 1.5 1.4 .4 1 1.4-.5 1.3-.1 .6 .4 1.2 0 1.4-2 .2-1.2-.7-.4-1-1.5-.6-.5-.8-1.3-.9-.2-1.2-.7-.8 0-1-1-1.1-1.1-.9-.9-1.4-1.1-1-.3-.7-.2-1.2-1.1-1.4-1.2-.9-.4-1.1-1.1-.5zM474.3 184.9l1.6-1.3 1.5 .8 1.1 .5 1.2 0 1.8-.4 1.1 .6 .8-.8 1.4 .7 1.3 .2 1.5 1.3 1.2 0 .1 1.5-1.2 .1-1.3-.1-.8-.9-1.4 .3-1.1-.7-1 0-1.3 .1-1-.4-1.1-.3-.9-.4-1.4 .2-1.1-.4zM481.2 170.7l.2 .6 1.2 1.1 .8-.1 3.2-.7 2.5-.1 1.4-2.5 .8-2.1 2.5 .2 .6 3.2-.3 2 1.9 0-.9 .6-.6 .9-.9 1.4-1.5 1.1 .2 1.5-.7 1.8-1.9 .8-.8-.8-.9-.1-1.4-.3-2.1 .4-1.3-.4-1-.6 .3-1-.6-1.6-1.2-1-.4-1.6 0-1.9zM497.3 172.6l1.7-.8 1.3 .4 1.3 .3 1.5-.1 1.3-1.1 1-.2-.4 .8-.4 1.4-1.4-.5-1.5 .6-1.4 .2-1.2-.5-.7 .8-.4 1.5 1.9 0 1.6 .1 1.3-.1-1.4 .5-1.3 1.1 .3 1.1 .8 1 1.1 1.3-.5 1-1.1 .1-.8-1.1-.2-1.5-.7-.6-.8 .5 .2 1.4 .1 1-.3 1.6-1.4 0 .3-1.9-.5-1.3-.9-1.3 .1-1 .3-1 1-1.2 .2-1zM488.9 187.2l1.9 .3-.8 .7zM491.3 187.4l1.1 .1-.3 .8zM492.5 187.7l1.1 .2 1.3-.6 1.1 .2 0 .7-1.9 .2-1.2 .1zM497.4 187.7l1.3 .3 1-.3 1 .1 1.6-.4-.3 .6-1 .5-1.4-.7-.9 .9-1.1-.4zM496 189.3l1.1 .8 1.7 0-1.2 .3zM503.1 190.6l.5-1.1 1-.7 .8-.3 0 1-1.5 1.1zM509.3 171l.8-.7 .6 .9 .5 1.1-1.1 1.6 .8 1.3-1.1-.8-.5-2.1zM510.1 178.8l1.1-.2 .8 .6 1.5 .1 1-.2-.4 .8-1.6 .3-1.1-.3-1-.3zM507 179.1l1.9 .1-.8 .9zM530.6 178.1l0 10.6-1.8-1.7-1.8-.1-.8 .6-.8-1.8 1.5-.6-.3-1.6-.8-.7-1.2-.2-1.2-.8-1.5-.8-1.3 .1-1.8-1-1.1 .3-1.3-1.8 1.1-.6 1.6 0-1.6-.2-1.1-.7-1.6-.9 0-1 1.4-.7 1 0 1.1 .8 1.3-.1 .3 1.9 .4 2.1 1.6 .2 .3-1.2 1-.7 .8-.7 1.5-.5 1.3 .4 1.4 .8zM474.5 176.5l1.6 .2 .3 2.1-1.1-.4zM478.1 178.1l1.1 .2-.5 .8zM461.4 171.6l1.3 .8-.5 .5zM464.1 175.5l1 1.2-.7 .1zM519.9 183.3l.9 .3-.6 1.3zM514.8 186.1l1.1-.5-.6 1.3zM504.6 176.7l1.3 .1 1.1 .2-.8 .1zM501.8 182l.8-.3-.3 1.3zM521.9 175l1.3 .7-.8 .1z"/>
</g>
<g fill="#FF6348">
<path d="M504.3 109.2l-2 .5-2.4 1.3 .5-2.8-1.3-.6-2.3 1.8-2.4 1-.4 1.1 1.8 1.6 3-.5 2.7 .7-2.4 1.3-1.1 .9-1.5 1.7 1.5 1.9 1.1 2.1 1.5 1.3 0 1.3-2.2 1 2.3 .6-.6 2.3-1.7 2.1-1.3 2.1-1.6 2-1.9 1.6-1.5 1.3-3.5 1-1.2 .1-2.9 1.1-1.9 .5-.3 1.5-.8-2-2.8 0-2-2.1-2.2-.8-3.6 1.3-1.3 .2-.6 1.9-1 0-1.5-.5-1.4-.9-.5-1.6-1.9-1.3-.3-1.5 1.7-1.8-.6-2.7-1.6-1-1.7-1.8-1.9 .2-2.4 .8-2.1 1.4-.8 0-2.9-.6-1.4 1.4-.1-1.1-1.1 .2-3.3-.2-3.2-1.9-2.3-1.3-2.4-.4-2.3-1.3-1.1-.3-.7-2.1 1.3 0-.5-2.9-1.4-1.9-.3 0-2.8-.9-.4-1.4-1.4-.6-.1-2-1.6-.2-.1-1.4 2.9-1.5 1.9-.8 2.7-.5 2.7-1.4 0-1.5 .9-.3-.6-2.9 3.3-.5 .8-3.1 3.9 .3 .3-2.3 2.5-1.3 .8 0 .3 .9 3.2 1.4 1.5 2.1-.1 2 4 .6 2.9 1.2 1.5 2.2 5.9 .3 2.8 .2 5 1.5 3.2-1.3 3.9-.2 2.3-1.6 1.4-.3 .2-2.1 3.1 0 2.4-.9 1.6-1.3 1.5-.4 3.5-.2 .3-.5-2.2-1.4-1.1 .3-2.8-.2-.6-.1 1.7-3.1 1.7 .5 2.4-1.3 1.1-2 1.1-1.8-1-1.1 5.4-.3 3.9 1.1 2.3 4.2 4 2.1 1.5 2 3.2-.7 2.7-.3-2.7 5.2-2.7 .3-.5 3.1-.6 1-1.1-.8-.6 .8-2.4 .6 .5 .8-2.2-.5-1.4 1.5zM479.8 142.6l1.3-1.1 2.2 0-.7 1.9-1.5 1-1.3-.5z"/>
</g>
<g fill="none">
<path style="stroke-width:1.15" d="M167.7 43.4l7.9 .5 7.8-.3M174 45.8l7.9-.3 6.3-.3M170.9 48.6l6.3-.5 4.7 .3M186.6 41.8l6.3 .5 6.3-.2M188.2 40l7.8 .7 6.3 .3M177.2 47l6.2 .3M180.3 42.3l-6.3-.5-6.3 .3M191.3 43.7l6.3 .5M178.7 49.4l4.7-.3M201.5 66.4l3.9 1.3 3.2 1.2M200.7 70.5l3.2 1 2.3 .9M174 54.8l.8 1.6 .8 1.6M183.4 56.7l3.2-.5 4.7 .7M196 59.6l3.2-.5 2.3 .7M186.6 58.8l4.7 .7M192.9 62.9l4.7-.5M189.7 66.1l4.7-1.3M199.2 64.5l4.7-.8M125.3 59.6l4.7-.1 4.8 .3M125.3 58.2l3.2-.5 3.1 .3M139.5 57.2l3.1 .8M136.3 61.2l4.7 .4M117.5 55.6l4.7-.5M133.2 51.5l4.7 .5M161.5 50.9l4.7-.4 4.7 .7M175.6 52.3l4.7-.5M274.5 59.6l-4.7 .2-4.7-.7M270.6 58.3l-3.1-.6-2.4-.8M276.1 55.9l-4.7 .3-3.1-.6M277.7 53.9l-4.7 .5-3.2-.1M278.5 49.4l-4-.3-3.1 .1M277.7 44.2l-4.7-.3-4.7 .2M279.3 46.2l-4.8 .3M229 62.1l-2.4-.5-2.3-.5M227.4 59.6l-3.1-.5M224.3 57.2l-3.2-.5M230.6 69.7l-2.4-.4M233.7 74.2l3.2 .8M243.1 72.6l-2.3-.8M247.8 67.2l3.2-.6M257.3 63.7l3.1-.8M199.2 47.8l3.1 .3 3.1-.3M214.9 50.2l-3.2-.5M219.6 53.1l-3.2-.5M208.6 79.1l2.3 .8M211.7 83.1l2.4 .3M216.4 85.1l2.4 .8M185.8 78.4l2.4 .5M203.9 75.8l3.1-.5M75.1 75l2.3-.3M68.8 79.9l3.1-.8M97.1 78.9l-2.4-1M103.3 83.1l-2.3-1.6M108.1 91.2l2.3-.8 2.4 .5M106.5 87.2l2.3-.8-1.5-1.3M110.4 93.7l2.4-.5M192.1 246l2.3 1.2M191.3 250.9l2.4 1.3M190.8 254.1l2.4 1.5M192.1 257.4l2.3 1.1M194.4 260.1l2.4 .7 1.9-1M195.2 261.8l3.2 .6 2.3-.5M191.6 248.5l2.1 .6M192.9 243.6l1.9 1M199.2 263.1l3.1 .4 2.4-.4M317.3 77.8l2-.5M317.3 76l2.5-.2M317.1 74.7l3.3 .2M317.7 73.4l3.2-.5M321.7 71.5l2.3 .3M324.8 70.5l2.4 .3M327.9 68.5l2.1-.3M329.5 66.6l2.4-.5M331.1 64.8l2.8-.3M332.7 62.9l3.1 .1-1.6-.9M336.6 61.2l3.1 .2M340.5 60.4l3.2 .4M344.4 59.6l3.2 .5M348.4 59.1l2.3 .8M352.3 59.1l2.3 .5M329.5 63.7l2.4-.7 1.5-.8M331.1 46.7l3.1 .3 1.6-.5M330.3 45.4l3.9 .1M332.7 48.3l3.1 .3M340.5 45l3.2-.3M338.2 47.1l3.9-.3M392.3 57.2l3.2-.5M394.7 54.9l3.1 .2 1.6-1.2M398.6 52.3l3.9-.3M404.9 50.7l3.1-.3M300.5 82.3l1.5-.5M300.8 80.5l2 .5M299.7 79.9l1.9-.3M303.9 82.8l.8-.5M302 83.6l-1.1-.5M274.5 67.7l2.4-.5M272.2 68.2l2.3 .3M285.5 67.7l1.6 .5M280.8 66.9l-.8 .8M343.7 113.1l1.5-.5M344.4 111.5l2.4-.3M346 109.4l1.6-.7M347.6 113.1l1.5 .8M348.4 114.2l1.5-.6M350.7 112.6l.8 .8M348 109.9l1.1-.7M211.7 41.3l1.6-.5 1.2 .1 1.2 .1 1.2 .1 1.2 .4 1.9-.3 1.2-.7 1-.3 1.7 .2 1 .5 1-.3 1.5-.3M227.4 40.3l1.3-.6 1.4 .1 1.5 .6 1.1 .1 2-.4 .8 .3 2-.6 .9-.1M238.4 39.7l1-.6 1.9 .6 1.3-.7 .7 .8 1.4-.8 1.9-.4 1.3 0 1.1 0 .9 0 2 .4 .7-1 1.5 .4M254.1 38.4l1.8-.4 .7 .9 1.4-.1 1.4 .2 2 .1 .8-.4 1.5-.3 1.4 0 1.6 .5M266.7 38.9l1 .5 1.2 0 2.1-.3 .9 .8 1.3-.3 1.3 .6M274.5 40.2l1.8-.1 1.8 .8 1.3 .7 1.4 0M280.8 41.6l1.4 .4 1 0 1.9-.7 .9 .4 1.4 .3 1.8-.7 1.1 .5M290.3 41.8l-1.6 .3-1.3 1-1.3-.6-1.1 .6-1.5 1.1-1.1 0M282.4 44.2l-1.2 1.1-1 .1-.9 1.3M279.3 46.7l.9 1.7-.2 1.5M280 49.9l-1.6 0-1.6 1.6-1.5 0M275.3 51.5l1.2 .8 2 .8M278.5 53.1l-1.2 .5-1.5 .8-1.3 1.2M274.5 55.6l0 2.4M274.5 58l-1.5 1.9M273 59.9l-1 .9-2.2 .4-1.5 .9M268.3 62.1l-1.6 .3-1.1 .6-2-.4-1.6 .7M262 63.3l-1.8 .3-1.3 1.4-1.6 .3M257.3 65.3l-1.7 1-2 .3-1 .6M252.6 67.2l-1.4-.4-1.7 .6-1 .7-1.4-.4M247.1 67.7l-.3 1.1-1.8 .9-.3 1.3M244.7 71l-.6 1.4-.8 .7-1 1.1M242.3 74.2l-.7 1.7-.8 .7M240.8 76.6l-2.4-.1M238.4 76.5l-1.3-.7-2.2-.8-1.2 0M233.7 75l-1.3-.4-1.2-.8-.6-1.2M230.6 72.6l-1.1-1.4-1.3-1M228.2 70.2l-.9-1-1.1-1.1-.3-1.2M225.9 66.9l-.8-2.4M225.1 64.5l1.3-.6 1.1-1.2 1.5-.6M229 62.1l-1.7-.7-1.4-.3-1.6-.7M224.3 60.4l-.8-2.4M223.5 58l-1.6-.9-.8-1.5M221.1 55.6l-1-2-1.4-1-.7-1.1M182.7 90.7l2.3-.3M185 90.4l.8-1.2-.4-1.4-.1-1.4M185.3 86.4l.7-1.1 .3-1.1 1.2-1.3 1.1-.6M188.6 82.3l-.8-1.7-.8-.8-1.2-1.1M185.8 78.7l.9-.6 .7-1.5M187.4 76.6l-.4-1 .1-1.9-.5-1M193.3 72.7l1.3 .7 1 .8 2.1-.2 1.5 1M199.2 75l.8 1.5-.1 1.8M199.9 78.3l1.2 .9 2 .2M203.1 79.4l1-.5 1-1.9 1.1-.8M207.8 76.2l.4 1.1 1.4 .6 0 1.4 1.6 .2 .5 1.2M211.7 80.7l1.7 1.2 .8 .8 .7 1.6M214.9 84.3l1.2 1 1.7 .6 1 .5M218.8 86.4l1.3 .6 0 1.2 1.5 .6M221.6 88.8l-1 1.1-1 .5M219.6 90.4l-.8 1-1.8 .2-.8-.3-1.3 1.2M214.9 92.5l-1.3 .6-1 0-1.5-1-.9-.2-1.6 .5M208.6 92.4l-1.7-.6-.9 .7-1.3 0M204.7 92.5l-.7 1.1-1.5-.2-1 1.1M201.5 94.5l-.5 1.3-1.1 .8-1.5 .8M198.4 97.4l.7-.7 1.6-.6M200.7 96.1l1.7-.1 1.2-.3 1.3-.2 .8-1.1 1.3-.3M208.6 99l1.5-.5 1.2 .6 2 .6M213.3 99.7l1.6-1.2M214.9 98.5l-.3 1.5-1.3 .6M216 96.7l1.1-.9-.1-1.2 1.5-1.1 .3-1.5M218.8 92l.9-1.3 1.8-.4M221.9 92l1.3 .1 .6 1 1.3 .9M225.1 94l.7 1.7 .5 1M226.3 96.7l-1.2 1.7M225.1 98.4l-1.8 .1-1.4-.8M221.1 96.7l-1.4 .5-1-.6-1.1-.2-1.6 .3M207.8 93l1.5 .4 1.4-.2 1.5 .9M212.2 94.1l-1.2 .4-1.6-.5M200.7 102.6l-1.9 .6M198.1 104.7l1.1 1.4M199.2 106.1l-1.4 .2-1 .5M196.8 106.8l-1.6 .4-.8 .3-1.5 .4M192.9 109.5l-1.6 1.3M190.5 109.9l.6 1.9M191.1 111.8l-.9 .7-.5 1.4M190 114.7l.5 2M190.5 116.7l-1.4 .4-.9 .7M188.2 117.8l-1.6 1.1M270.6 67.7l1.2-.9 2-.5M273.8 66.3l1.6-.3 .9 .4 1.4 .5M277.7 66.9l1.5 .3 1.3-.6 1.7-.6 1.8 .1M284 66.1l2.3 .5M286.3 66.6l1.4 1.6M287.7 68.2l-.6 1-1.6 .5M285.5 69.7l-1.6 .5-.9-.1-2 .6-1 .4M280 71.1l-1.3-.5-1 .6-1.6-.7M276.1 70.5l-1.3 .4-1.4-.4M274.5 69.3l-2-.1-1.1-.5M311.5 92.7l-1.1-.3-1 1.1M309.4 93.5l-.9 .6-1.3-.3M300.1 92.7l1.2 .1 1.2-.6M303.6 91.9l1.3-.7 1.1 .7M306 91.9l.8-.7 1.5 .1 .8 .3M309.1 91.6l.6-.9 1.6 .2M310.2 90.4l1.1-.5 .5-1.3M311.8 88.6l-1.1 .3-1.1-.9M309.3 87l-1.2-.2-.3-1.2M304.4 83.1l1.3-.5 .1-1.1M306.3 80.7l-.9-.8-1.8 .5M302.8 80.5l.6-.5 .8-1.1M304.2 78.9l-1.6 .4-1.4-.4M301.2 78.9l-.9 .6-.3 1.2M300 80.7l.1 1.6M300.1 82.3l.4 1.8M301.4 85.1l1.3-.5 .9 .3M303.6 84.9l.8 1.5M304.4 87.3l-1.3 .8-1.1-.6M302.8 88.8l-1.1 .4-.8 .6M300.9 89.8l1.6 .5M302.5 90.3l1.9 .3M304.4 90.6l-1.9 .3M302.5 90.9l-1.2 .2-1.2 1.6M300.5 85.9l-.8-1.5M297.3 80.7l.8-.9 1.3-.6M299.2 80.4l-1.9 .3M299.7 89.3l-.3-1.8M295.7 84.7l-1.7 .4-.6 .9M293.4 86l.8 1.5M294.2 87.5l-1.3 1-.1 1.1M293.7 90.4l1.6 .4 .9-.9M296.2 89.9l1 .5 1.1-.5 .9-.6M339.4 108.2l.3-1.6M346.8 109.1l-1.9-.7M345.5 110.7l.3 .9 1 .7M345.5 112.5l.4 .9-.4 1.3M344.9 114.9l-1.7-.7M343.2 114.2l-.8-1.7M342.1 111.5l-1.1-1.5M346 116.4l1.1-.2 .9 .6 1.2 .3 1.2-.4M350.2 117.2l-.8 .1-1.3-.5-1.1 .5-.8-.5M345.7 110.8l1.6 .9M347.6 112.3l-.8-.7-1.1-.8M587.1 69.3l2.4 0M589.5 69.3l1.3-.4 1.5-.7 1.1 0M593.4 68.2l1 .7 1.6 .3 1.6-.6 1.3 .7M598.9 69.3l1.4-.2 1.1 .9 1.4-.3M602.8 69.7l1.2-.9 1.1-.7 .9-.6 1.5-.6M607.5 66.9l-.9-1.1-1.4-.2M605.2 65.6l-1.5-.8-1.6 .4-1.4-.1-1-.6M599.7 64.5l-1.4-.9-1.5-.1-.7-.7-1.8 .1-1.4-.5-1.1-.3M591.8 62.1l-1.3 0-1.6-.2-.7-.8-1.2-.4-1.5 .1M585.5 60.8l-.9-.4-1.4 .7-1.8-1-.8-.1-1.8 1.1-1.1-.7M577.7 60.4l-1.6 1.3M576.1 61.7l-2 .2-.6-1.1-2.1 .3M571.4 61.1l-1.2-.6-1.3 .1-1.8 1-1.2 0-1-1.1-1.4 .6M563.5 61.1l-1.7-1.1-1.4-.4M558.8 59.1l-1.1 .6-1.4-.1-1-.8-1.3 .8-1.5-1.1-.7 .1-1.4 .9-1.3-.5-1.3-.2M547.8 58.8l-2.1-.7-1-.9M544.7 57.2l-1.3 .1-1.4-.1-1.2-.2-1.6-.7-.6-.2-1.8 .9-1.2-1.2-.9 .5-1.3-.7-1.6 1-1.2-.7M530.6 55.9l-.4 1.3-1.2 .8M529 58l-1.5-.3-1.2 .9-2-.4M524.3 58.2l-1.2-.2-1.2-.4-1.1 .2-1.2-.1-1.6 .3M518 58l-1.5-.3-1.3 .3-1.9 .8M513.3 58.8l-.8-.9-.8-1.5M511.7 56.4l-1.7-.3-1.4-1.3M508.6 54.8l-1.2-.4-1.2 .7-1.9 .2-1.2-.1M503.1 55.2l-1.1 .7-1.5-1.1-2 .9-1.3-.8-1.2 .7M496 55.6l-1.1 .1-1.4 0-1.7-1.3-1.1 .3-1.2-.5-1.4 .4M488.1 54.6l-1.5-1.5M486.6 53.1l-1.9 .9-1-.1-1.8 0M481.9 53.9l1.2-1.2 1.3-.3 1.2-.5 1-.4M486.6 51.5l-1-.1-2-.6-1 .1-1-.3-1.3-1M480.3 49.6l-1 .2-1.6-1.4-.8 .2-1.3 .5-1.6-.8-1.1-.4M472.9 47.9l-1.2 .9-1.7-.1-.9 1-1.7-.7-1.2 .9M466.2 49.9l-1.4-.4-1.6 .5-.9 .3-1.4-.6-1.2 .3-1.4 .4M458.3 50.4l-1.2-.5-2 .9-.9 .1-1.7 0M452.5 50.9l-1.2-.2-1.1 1.5-1.5-.6-1 1.4-1.4-.4-.7 .7M445.6 53.3l-1.4 .7-1 .2-.9 .8-1 1-1.5 .2M439.8 56.2l-.5 1-1.6 1.1M437.7 58.3l-.7-.7-.6-1.7-.6-1M435.8 54.9l-1.1 .9-2-.7-.8 .8M431.9 55.9l-.2 1.4 .7 2M432.4 59.3l-.1 1.2 .6 1.3 .1 1.2-.1 1.2M432.9 64.2l-1-.9-.9-1.1M431 62.2l-.4-.9-.5-1.4-.1-1.6M430 58.3l-1.2-.3-.8-1.5-1.4-.6M426.6 55.9l-.3 2-.7 1.4M425.6 59.3l-.9 1.5 .5 1.4-.7 1.5M424.5 63.7l-.5 1.4-.9 .5M423.1 65.6l0-1.7-.9-.7M422.2 63.2l.8-1.6 .3-1.4-.9-1.4 .7-1.4M423.1 57.4l-.6-.8-1.1-1-1.3-.7M420.1 54.9l-1.1 .8-.8 0-1 1.6-1 .1M416.2 57.4l-1.1 .6-.1 1.6-.7 .7M414.3 60.3l1 .7 .9 1.7M416.2 62.7l-1.2 .1-1-.4-1.5-.9-1.3 .2M411.2 61.7l-1.6 .2-1.6 0-.8-1.3-1.8 .8-1.3-.6M404.1 60.8l-.8 2.1M403.3 62.9l-1-.3-1.6 .8-1-1-1.9 .3-.7 .6-1.6-.4M395.5 62.9l-1.4 .1-1 .3M393.9 64.5l-1.4 .4-1.1-1.1-1.5 .2-1.3 .1-1.1 .5-1.4-.8-1.6 .5M384.5 64.3l-1.2 .1-1.3-1.4-1 .1-1.2-.2M379.8 62.9l-1.1-.2-1.6 0M377.1 62.7l.3 2 .8 1.4M378.2 66.1l-1.4 .6-1.7-.4M375.1 66.3l-1.5 1-.6 1.4-1.1 .5M371.9 69.2l-1 .6-1.8 .6-1.1 .1M368 70.5l-1.1 .3-1.4-1.4-1.4 .3M364.1 69.7l-.9-1.6 .1-1.2M363.3 66.9l-.9-.9-1.5-.2M360.9 65.8l1.8-.1 1.4 .2M364.1 65.9l1-.2 1.9 .6 .7-.3 1.5 .3 1.3 .5 1.4 0M371.9 66.8l1.4-.7 .7-.8M372.7 64l-1.3-.2-1-.5-1.4 .1-1.1-1.5-.7-.1-1.6 .1M365.6 61.9l-1.8-.5-.9-.4-2 .2M390 58l1 .9 1.3 .4M392.3 59.3l1.3 .2 .6 .5 1.3 0 1.2-.2 .6-1.2 1 .6 1.1 .1M399.4 59.3l-.3-.9-1.2-.5-.4-1.1-1.2-.4M396.3 56.4l1-.6-.2-1.5M397.1 54.3l.7-.9 1.6 .4 1-.8 .7-.4 1.2-1.4 1 .3M403.3 51.5l1-.2 .9-.3 1.1 .5 1.6-.2 .9-1.2 .7 .1 .9 .2 1.4 .3 1.2 .2 .6-.3 1.6 .2 .7-.9M416.7 49.1l-1.3-.7-.7 .6-.8 1-1.6-1.4-.4 .9-1.3-.9-1 .8M409.6 49.4l-1-.2-.9 .7-1.3 .3-.9-1-1 .4-.9 .5-1.4 .9-1-.1-1-.2M400.2 50.7l-1.4-.1-.4 .6-1 1.4-1.1 .2-.8 .3M395.5 53.1l-.4 1.1-.9 .6-1.1 .8M393.1 55.6l-.8 1.2-1.7 .2-.6 1M379.8 42.7l1-.9 1.5 1.2 .7-.6 1-.4M384 42l1.2 .3 1.5-.8 .7 .1 1.2 .7M388.6 42.3l.9 .2 1.7-.2 .8-.7M392 41.6l1.3-.7 .5 .4 1.4 .8 .8-.3M396 41.8l.9-1 1.2 1.1 1.1-1.1 1.2-.1M400.4 40.7l1.2-.6 .7 1.6 1.4 .3 1.3-.5M405 41.5l1 .1 1-.1 1.1 .7 1.1-.2 .7-.3 .9 .1 1.3 .4M412.1 42.2l-.8 .6-1.2-.5-.4 1.6-1.5-.2M408.2 43.7l-.8-.8-1.5 1.2-1 .1-.9-.6M404 43.6l-1.1 .6-1.5 .5-1-.4M400.4 44.3l-1.3-.5-1.1-.3-.7 .9-1.3-.6M396 43.8l-1-.6-1.7 .3-.8 .8M392.5 44.3l-1.1 .6-1-1.5-1.7 1.2-.7-.9M388 43.7l-1.4-.1-.8 1.3-1.1-.6M384.7 44.3l-1.4 .2-.7-1.2-1 .7-1.1-.7-.7-.6M451.2 41.9l1.3-.3 1.7 .1 .8-.7M455 41l1.6-.4 .9 1.1 1.5-.5M459 41.2l1.2 .1 2 .8 .8 .9M463 43l1 1.1 2-.2 .8 .8M466.8 44.7l.8 .6 1.9-.4 1.2 1.1 1.3-.4M472 45.6l.7 .8 1.6-.7 1.2 1.2 1.1 .2M476.6 47.1l1.2 .1 1.3 .7 .9 1.2M480 49.1l-1.5-.2-1.1-.4-1.1 .2-1.7 0M474.6 48.7l-1.7-.9-1.7 .1-1.2-.3M470 47.6l-.9 .2-1.7 0-1.4-.8-1.1 .1M464.9 47.1l-1.3 .4-1.6-.6-1-.3M461 46.6l-1.7-.6-1.3 .2-1-.6M457 45.6l-.8-.7-1.7 .4-.7-1.2-1.6 .1M452.2 44.2l-.2-1.1-.8-1.2M524.3 51.5l1-.6 1.4-.5 1.1-.3 1.2 .3M529 50.4l.9-.2 1.8 .9 1.5-.7 .8 .7 1.2-.4 1.6 0M536.8 50.7l1.5 .6 1-.6 1.8 .7 .9-.1 1.2 0 1.5 .5M544.7 51.8l-1.2 .4-1 .5-1.7 .1-1.5-.6-.9 .4M538.4 52.6l-1-.4-1.8-.2-.8 .1-1.2 .1-1.5 .1M532.1 52.3l-1.1 .4-2.2-.4-1.4 .5M527.4 52.8l-1.8-.1-1.3-1.2M529 54.8l1.8-.7 1 .6 1.9-.3M533.7 55.2l-1.6-.5-1.3 .4-1.8-.3M540.8 51.8l1.4 .5 2 .2 1.3-.5M545.5 52l-1.1 .7-1.3-.1M543.1 52.6l-1.3-.2-1-.6M589.5 58.3l2-.4 1.4 .6 1.3-.5M595.4 58.8l-1.2 .2-2.1-.2-1.1 .3M385.3 61.6l2.3 .1M401.8 59.9l1.1 .9 1.2-.2M404.1 60.6l-2.3 .3M355.6 115.2l-1.2-.2-1.3-.6M352 113.9l.1-1.2-.1-1.2M352 111.5l-1-1.3M463.8 155.3l.3-1.6-.1-1.7M464 152l-1-1.6M463 150.4l.2-1-.5-1.4M462.7 148l-1.3-1.7M460.7 147.2l-1.9 1.1M457.2 148l.5-1.4-.2-1.1M457.5 145.5l-.5-2.1M466.2 152.2l.3 .8-.3 1.4M466.2 154.4l-.5 1.6-.8 .9M464.9 156.9l.2 1.9M465.1 158.8l1.5 1.3M466.6 160.1l.3 2M465.7 163.4l-.9-1.1-.2-1M476.4 141.8l-1.3 1.3M475.1 143.1l.5 1.3 .8 .6M476.4 145l1 1 .5 1M479.2 148l.2 1.1 .7 1.4 .7 1M480.8 151.5l.3 1.3-.3 1.6M480.3 155.4l-1.1 1-1.6 .6M476.4 158.7l-1.1 1-1 .1M473.7 160l-.2-1.5 .5-.8M471.5 166.1l0 2.1M471.5 168.2l.8 1.3 .3 1 .2 1.1M471.7 171.8l-1.2-1.1-1.4-.8-.9-.7M468.2 169.2l-1-1.1-.1-1M467.1 167.1l-.5-2.1M484.1 170l1.4-.7 1.1-.6M490.5 165.3l.3-.8 1.1-.9 .5-1M492.4 162.6l1.6 .9M494 163.5l.6 1.1 1.7 .9M496.3 165.5l-1.1 1.1-.8 .3M458.8 164.8l1 .5 1.5-.5 .9 .7M462.2 165.5l1.2 .7 .7 1.5M464.1 167.7l1.8 1.2 .7 .9M466.6 169.8l1.9 .9M468.5 170.7l1.1 .2 .7 1.6 1.4 .6M471.7 173.1l.5 .9-.2 1.5M472 175.5l1.2 1.5M473.2 177l1.4 .4 1 1.4M475.6 178.8l-.5 1.3-.1 .6 .4 1.2 0 1.4M475.4 183.3l-2 .2M473.4 183.5l-1.2-.7-.4-1-1.5-.6-.5-.8M469.8 180.4l-1.3-.9-.2-1.2-.7-.8M467.6 177.5l0-1-1-1.1M466.6 175.4l-1.1-.9-.9-1.4M464.6 173.1l-1.1-1-.3-.7-.2-1.2M463 170.2l-1.1-1.4-1.2-.9M460.7 167.9l-.4-1.1-1.1-.5-.4-1.5M474.3 184.9l1.6-1.3M475.9 183.6l1.5 .8 1.1 .5 1.2 0M479.7 184.9l1.8-.4 1.1 .6M483.4 184.3l1.4 .7 1.3 .2M486.1 185.2l1.5 1.3 1.2 0M488.9 188l-1.2 .1-1.3-.1-.8-.9-1.4 .3M484.2 187.4l-1.1-.7-1 0-1.3 .1-1-.4M479.8 186.4l-1.1-.3-.9-.4-1.4 .2M476.4 185.9l-1.1-.4-1-.6M494.4 170.3l-.3 2M494.1 172.3l1.9 0M496 172.3l-.9 .6-.6 .9-.9 1.4M493.6 175.2l-1.5 1.1M492.1 176.3l.2 1.5-.7 1.8M491.6 179.6l-1.9 .8M488.9 179.6l-.9-.1-1.4-.3M486.6 179.2l-2.1 .4M484.5 179.6l-1.3-.4-1-.6M482.2 178.6l.3-1-.6-1.6M481.9 176l-1.2-1-.4-1.6M480.3 173.4l0-1.9M497.3 172.6l1.7-.8M499 171.8l1.3 .4 1.3 .3 1.5-.1M503.1 172.4l1.3-1.1 1-.2M505.4 171.1l-.4 .8-.4 1.4M504.6 173.3l-1.4-.5-1.5 .6-1.4 .2-1.2-.5M499.1 173.1l-.7 .8-.4 1.5M498 175.4l1.9 0M499.9 175.4l1.6 .1 1.3-.1M502.8 175.4l-1.4 .5-1.3 1.1M500.1 177l.3 1.1 .8 1M499.9 180.4l-.2-1.5-.7-.6M498.2 178.8l.2 1.4 .1 1-.3 1.6M496.8 182.8l.3-1.9-.5-1.3M495.7 178.3l.1-1 .3-1 1-1.2 .2-1M488.9 187.2l1.9 .3M492.5 187.7l1.1 .2 1.3-.6 1.1 .2M496 188.2l-1.9 .2-1.2 .1M497.4 187.7l1.3 .3 1-.3 1 .1 1.6-.4M502 188l-1 .5-1.4-.7-.9 .9-1.1-.4M496 189.3l1.1 .8 1.7 0M497.6 190.4l-1.6-1.1M503.1 190.6l.5-1.1 1-.7M510.1 170.3l.6 .9 .5 1.1M511.2 172.3l-1.1 1.6M509.8 174.4l-.5-2.1M510.1 178.8l1.1-.2 .8 .6 1.5 .1 1-.2M514.1 179.9l-1.6 .3-1.1-.3-1-.3M507 179.1l1.9 .1M528.8 187l-1.8-.1-.8 .6M526.2 187.5l-.8-1.8M526.9 185.1l-.3-1.6-.8-.7M525.8 182.8l-1.2-.2-1.2-.8-1.5-.8M521.9 181l-1.3 .1-1.8-1M517.7 180.4l-1.3-1.8M516.4 178.6l1.1-.6 1.6 0M519.1 178l-1.6-.2-1.1-.7M516.4 177.1l-1.6-.9M514.8 175.2l1.4-.7 1 0M517.2 174.5l1.1 .8 1.3-.1M519.6 175.2l.3 1.9M519.9 177.1l.4 2.1M521.9 179.4l.3-1.2 1-.7M523.2 177.5l.8-.7 1.5-.5M525.5 176.3l1.3 .4 1.4 .8M476.1 176.7l.3 2.1M475.3 178.4l-.8-1.9M532.9 179.1l1.3 .5 1.8 .5M536 180.1l.8 1 .5 1.1 .8 .5M538.1 182.7l1.6 .7 1.1 .2M540 185.2l.7 .7 .8 1M541.5 186.9l1 .9 .2 .8 1.2 .7M543.9 189.3l.9 1.2 1.1 .1M544.4 190.9l-1.1 .1-1.8-.7M541.5 190.3l-1.5-1M540 189.3l-.2-1.1-1.4-1.3M538.4 186.9l-1.3-.7-1.1 0M536 186.2l-1.5 1.2M542.2 182.8l1.4 .2 1.1-.2M544.7 182.8l1.2-1.5 1.1-.6M547.8 182.5l-1.1 .9-1 .4-1 .3M544.7 184.1l-1.3-.4-1.2-.4M545.9 178.1l.8 .8 .6 .8 1.3 .4M549.1 180.9l-1.1-1.5-1.4-.5-.7-.8M498.5 143.9l1.4 .5 1.1-.3M501 144.1l.4 1.2-.2 1.9M500.1 148.3l.2 1.5-.1 .9M500.2 150.7l2.1 .7M502.3 151.4l.5 1.1 1.1 1M501.5 151.9l-1.9 0M497.7 149.9l.4-1-.7-1.4M500.9 161.3l1.5-.6 .7-.9M503.1 159.8l2-.3M505.1 159.5l1.1-1.5M506.2 158l.2 1.5 1.2 .2 .2 1.2M507.8 160.9l-.7 1.8 .4 1M506.1 164.7l.4-2.1M506.5 162.6l-1.6 .3-.7 .9M504.2 163.8l-.3-2.1M503.9 161.7l-1.9 .7-1.3 .2M504.3 153.6l1.9 .4M506.2 154l.3 2.1M505.4 155.6l-.6-.7-.5-1.3M502.3 155.3l-1 .7-.6 .9M500.7 156.9l0-2.1M502.3 156.2l-.2 1.5 .7 1.3M501.5 158l.8-1.8M504.6 155.6l.8 1.8M505.1 157.5l-.5-1.9M493.2 160.3l.7-.9 1.1-.9 .5-.7 .3-1.4 1-.8M496.5 156.9l-.7 1.1-.8 .8-1.4 1M503.9 155.7l.1 1.3-.8 1.3M503.2 158.3l-.3-2.1M481.1 141.5l2.2 0M483.3 141.5l-.7 1.9M482.6 143.4l-1.5 1M182.9 292.6l2.1-.2 1-.8M186 291.6l.9-.6 1.1 .4 1.4-.3M189.4 291.1l1.5-1.2 1.1-.3M192 289.6l-1.5-1M190.5 288.6l1.2 .5 1.3-.1 1.6-.5M194.6 288.5l1.2-1.3 .2-1.2M196 286l1.9-.2 1.1-.5M199 285.3l-.9-1.3 .4-1M198.5 283l1.3 .2 1.4-.7 1.2-.6M202.4 281.9l.9-1.2 .7-.9M204 279.8l1.4 .1 .7-.9 1.4 .6M207.5 279.6l1.6 0 1.1-.9M210.2 278.7l.6-1 1.2-1.1M212 276.6l1.5-.6 .9 .1 1.4 .4M215.8 276.5l1.2-.4 1-1.5M218 274.6l1.5-.2 .7-.1 1.5-.9 1.3 .2M223 273.6l-.9 .8-.8 1-.7 .4-1.6 .2M219 276l-.7 1.2-1.4 0-.9 .6M216 277.8l-1.3 .3-1.2 .9M213.5 279l-1.1 .4-1.4 1.2M211 280.6l-.9 1.6M210.1 282.2l1.6 1.4 1.1 .4M212.8 284l.3 1.2 .6 1 .9 .9M214.6 287.1l.6 1.6-.9 1.2 .7 1.2M215 291.1l-.3 1.4-1.7 1M213 293.5l-1.5-.1-1 1.1M210.5 294.5l-1.3 1.2-1.6-.1M207.6 295.6l-.9 .6-1.9 .1-.5 .2-1.3 1"/>
<path style="stroke-width:1.25" d="M194.4 47.1l1-.2 1.5-.6 1.4 0 1-.8 .6-.7 1.5-.5 .9-.4M202.3 43.9l1.1 .5 1.6-.3 .4-1.6 1.5 1 1.6-.8 1.1-.5 1.1-1.1 1 .2M218 51.5l-.9-.6-1.5-.6-1.6 1-1.4-.5-.9-.4M211.7 50.4l-1.5-.2-1 .8-1.4 0-1.1 .1-1.2-1.1-1.6 .7M203.9 50.7l-1.1-1.2-1.1 0-1.6-.7-1.2 .2-1.3-.2M197.6 48.8l-2.2-.4-1-1.3M108.1 60.1l1.3 0 .8 1.1 1.2-1 1.4 1M112.8 61.2l.8-.5 1.7-.4 1.5 .5 .6-.7 1.7 .7M119.1 60.8l1.3-.6 1.7 .3 1.4 1.2 1.4-.6 1.2 .3 .8 1.3 1.6-.5M128.5 62.2l1-.2 1.5 1.1 .9 .2 2.2-.8 1.4 .7 .8 .6M136.3 63.8l1.4 .3 1.8-.8M139.5 63.3l1.5 .8 1.5-.4 1.2 .7 1.3 0 1.1-.4 1.4 0 1.4 0M148.9 64l1.3-.7 1.1 1 1.3-1.8 1.1 .9 1.5-.5M155.2 62.9l1.1 .8 2-.4M158.3 63.3l.9-1.6-.9-1.3M158.3 60.4l1.6-.5 .2-1.3 .6-1.2M160.7 57.4l.6 1.6 1.9-.4 .4 2.1 1 .5M164.6 61.2l1.3 .9 1.8 .8M167.7 62.9l1 1.1 2.2 .5M170.9 64.5l.6-1.6 .6-.3 1.3-.9 1.2-.4 1-.5M175.6 60.8l1 .8 2.4-1.4 1.3 1M180.3 61.2l0 2.2 .8 1.1M181.1 64.5l-1.1 1.5-2.2-.7-.6 1.1M177.2 66.4l-.9 .6-2-.5-1.1 .4M173.2 66.9l-.3 1.8-.9 1.1-1.1 .4M170.9 70.2l-1.6 0-.3 .9-1.6-.2-1.3 .9-.8 1.5-1-.2-1.3 .3M186.6 72.7l1.3 .4 1 .5 2.1-.5 .8 0 1.5-.4M112.8 92l-1.3-1.2-.7-.6-2 .2M108.8 90.4l-.7-1.6M107.6 91.6l1.4-.3 1.3 1 .7-.3 1.5 .5M112.5 92.5l1.4 0 .3 2 .9 .9M115.1 95.4l-1.1-.7-1.2 .4M112.8 95.1l-1.9 0 .5-2.1-1.2-.6-1.3-.4-1.3-.4M183.4 54.4l.9 .6 1.9 .7 1.2-.2 1-.1 1.3 .5M189.7 55.9l1.6-.2 1.2 1.3 1.5-.2 .3 1.1 1.7 .1M196 58l1.6 0 1 .6 1.1 1.2 1.1 .5 1.5-.2M202.3 60.1l.9 .6 .7 1.4M203.9 62.1l1.2 .3 .8 1 1.1 .6 1.4-1 .6 1.9 1.7-.2 1 .6M212.5 66.1l-1.7 0-1 2.1-1.2-.2M208.6 68l-1.7 .1-1.2-.8-1.5 .3-1.1-.7M203.1 66.9l.9 1 .8 1.5 1.9 .3 .3 1.3M207.5 72.1l-1.5 .5-1-.6-.6-1.3-1.9 .7-1-.8M201.5 70.6l1.6 .2 .8 2.2 1.5 .4M205.4 73.4l-1.2-.6-1.6-.2-1.2-.4-1.2 .1-1 0M199.2 72.3l-1.8 0-1.4-1.7M196 70.6l-1.4 .4-1.1-1.6-1.4 .1M192.1 69.5l-1.5-.7-1.5 .4-1.3-.6-1.2 .7M186.6 69.3l1.6-1.3M188.2 68l1.7 .2 1-1.2 2 .7M193.7 66.1l.6-1.3 .1-1.5M194.4 63.3l-1.1-.9-1.1-.5-1.2 .1-1.3 .1M189.7 62.1l-1.2-1.4-1.2-.2-1.5-.1M185.8 60.4l-1.3-.5-1 1.2-2.2-.9-1 .2M180.3 60.4l-1.8-.9-1.7 .8-1.2-.7M175.6 59.6l-1.8 .2-1.1-.6-1.4 .6-1.2-1M170.1 58.8l-1.3-.5-.6-1.8-.5-.9M167.7 55.6l1.6-1.3M169.3 54.3l1 .6 1.5-1.3 1.5 1.7 1-.1 1.3-.4M175.6 54.8l1.4 .1 1.4-1 1.2 .1 1.2 .8 1.3-.3 1.3-.1M125.3 60.1l.9 1.1 1.6-.1 1.8-.6 .4 1.1 1.6 .1M131.6 61.7l1.6 .9 1 .3 1.6-1.1 .8 .1 1.1 1 1.8-.4M139.5 62.5l1.6-.6 1.9 .7 1.2-.5M144.2 62.1l1-.6 2.1 .2 .7-1.2 1.7 .3M149.7 60.8l-1.2-1.4-1.2 1.3-1.2-1.1-1.1-.8M145 58.8l-.5-1.2-.3-1.7M144.2 55.9l-1.9-.8-1.3 .5-1.5-.4M139.5 55.2l-1.3-.5-1.2 .4-1.2 .9-1 .5M134.8 56.5l-1.1-.9-1.7 .8-.8-1.1-1.3 .8-1.4-1.2M128.5 54.9l-1.9 .2-.2 1.7-1 .5-1.7 0-1.5 .5M122.2 57.8l.3 1.2 1.4 .4 1.4 .7M112 57.2l1.2-.5 1.5 2 1.2-.2M115.9 58.5l1.3-.3 1.8 .4 1.6-.6M120.6 58l1.1 .1 1.9-.7 .6-1.7 2 1 .7-1.1M126.9 55.6l-.3-1.4-2-.7M124.6 53.5l-1.2 .3-1.5 .1-1.8-.5-1-.3M119.1 53.1l-1.7 .8-.9-.9-2 .2-.9 .7M113.6 53.9l-.2 1.6-1.3 .2-.1 1.5M167.7 49.9l1 .3 1.6 .5 1.1-.4 1.5 .3 1.1-.5M174 50.1l1.6-.5 1.4 0 .9 .8 1.4-.6 1.2-.4 1.4 1.2 1.5-.2M183.4 50.4l1.3-.9 .5-.5 1.4-.7M186.6 48.3l1.8-1.4 1.3-.2M189.7 46.7l.9-1.1 1.5-.6M192.1 45l1.6 .5 .5-1.7 1.8-.1 1.2 1 1.2-.7 1.7-.5 1.3 .5 .9-.8M202.3 43.2l1.4-.4 1.3 .2 .9-1.3 1.6 1.2 .6-1.8 1.3-.3 1.4 1.3 .9-1M211.7 41.1l-1-.1-1.6 .4-.9-1.1-1.6-.1-1.2 0M205.4 40.2l-1.4 .2-.9 .3-1.6-1.1-.9 .9-1.7-1.1-1.5 .1-1.1 1.2-.9-1.2-1.4-.1-1.3 .9-1.4-.6M191.3 39.7l-.9 .2-1.4-.6-1.2 .4-1.6-.2-1.3 1.1-.6 0-1.4 .2-1.2-1.2-1.4 .4M180.3 40l-.9 .2-1.6 .9-1.2-1-1.6 .9-.8 .5-1.2-.1-1.3-.3-1.1-.3-2 .5-.9 0M167.7 41.3l-1.5 1-1.6-.2M164.6 42.1l1.9-.3 .4 1.3 1.1 .6 1.7-.3 1.9 .4 .9 .4M172.5 44.2l-1.2 .1-1 1.2-1 1.2M169.3 46.7l-.9 .4-.6 1.2-.1 1.6M164.6 49.7l1.5-.4 .9 .7 1.8 0 1.5 .2 .9 1.7 1.5 .2 1.3-.6M174 51.5l1.2-.6 1.6 .5 1.2 .7 1.7 .9 1.3-.2 1.4-.6 1 .8M183.4 51.4l-1.3-.2-1.3-.6-1-.2-1.3 .4-1.3-.1M177.2 50.7l-1.4-.8-1.5 1.1-.7-1.1-2 .5-1.4 .4-.9-.7M169.3 50.1l-1.5-.8-1.7 .1-1.5 .3M158.3 44.2l1.7-.3 1 2.2 1.7-.6 .6 1.1 1.9-.5 1 .9M166.2 47l1.6 .2 1.5-.3 .3-1.3 1.4-.5 1.5-.1M172.5 45l-1.8 .4-1.1-.4-1.3-1.6-.8 .2-1.3-1.3-1.6 .3M164.6 42.6l-1.2-.4-1.2 1.8-1.5-1.2-1.3 .6-1.1 .8M125.3 52l1.6 .4 1.3-.8 .6 1.9 1.7-.9 1.8-.1 .9 .8M133.2 53.3l1.4-.9 1.6 .8 .9-1.1 1.5 1.5 1.4-1.4 1.7 .8 .9-.7M142.6 50.7l-1.5 .3-1.2-.8-.8 .7-1.7-1.1-1.1 .1M136.3 49.9l-1-.7-1.9 1-1.4-.7-.7 1-2 .3-1-.8-1.4 .2M126.9 50.2l-1.6 1.8M148.9 55.6l.8 1.1 1.4 .4 1.6 .2 1.8-1 .9 1.9 1.3-.4M156.7 57.8l1-1.1 .6-1.1M158.3 55.6l1.6 0 .8 1.5 .7 0 1.6 .1M163 57.2l.8-.9 1.2-.3 .9-1.7 1.1-.4M167 53.9l-1.5 .1-1 .2-2.1-.8-1 .7-1.5-.3M159.9 53.8l-1.4-.4-1.8 1M156.7 54.4l-1.4 .4-1.3-.9-2 .2M152 54.1l-1.7 1.6-1.4-.1M145.8 52l1.2-.8 1.5 1.6 1.2-1.4 1.1 1.5 1.7-1.4 1.3 .3 1.4 .5M155.2 52.3l1.2-.6 .9-.1 1.7 .2 1.2 .5 1.3-.8M161.5 51.5l-1.3-.7-1.1 .1-.8-1.3M158.3 49.6l-1.3 .5-1 0-1.8 .5-1.7-.9-.6-.4-1.3 1.4-1.7-.6M148.9 50.1l-.9 1-1.4-.1-.8 1M172.5 67.6l1.8 .6 1.8-.7 1.1 .5M177.2 68l1.6 .2 1 .3 1.3 1 1.1-.2 1.2 1.3M183.4 70.6l-.6 1.3-2.4 .2-1.5-.4-.9 1.2M178 72.9l-1.3-.3-1.8-.4-1.3-1.3-1.1-.1M172.5 70.8l1.5-.8 .8-.7M174.8 69.3l-.7-1.5-1.6-.2M152.8 62.1l1.1-.7 1.8 .6 1 .9M156.7 62.9l1.1-.6 1.3-1.1M159.1 61.2l-1.3-.4-1.7 .4-.9-.8M155.2 60.4l-1.4 .1-1 1.6M115.1 50.4l1.4 .5 1.8 .6 .9-.3 1.8-.9 1.2 .9M122.2 51.2l1.4 .2 .6-1.4 1.7-.1 1-.8M126.9 49.1l-1.1-.9-.8-.4-2 1-.8-.9M122.2 47.9l-2-.6-.7 1.4-2-.1M117.5 48.6l-1.2 1.5-1.2 .3M143.4 47.5l1.7-.6 1.2 1.6 1-.4 1.6-.2M148.9 47.9l1.2-1.1 .8-.2 2 1 .7-.9M153.6 46.7l-1.7-.4-1.4-1.1M150.5 45.2l-1.1 .8-2-.7-1.2 1.1-1.2-.6M145 45.8l-1.6 1.7M154.4 47.5l1.3 .4 1.8-.3M158.3 46.2l-2.3-.2M156 46l-1.6 1.5M181.9 54.6l1.2 .3 .9 .1 1.5 .2 1.1 .7M186.6 55.9l1.5 .5 1.6-1M189.7 55.4l-.7-.9-1.6-.2M187.4 54.3l-1.7-.5-1.5-.1-1.4 .1-.9 .8M187.4 64.3l.7 .9 1.6-.4M190.8 63.7l-1 .2-1.3-.7M178.7 71.9l1.4-.6 1 1.1M181.1 72.4l1.4 .1 .9 .7M183.4 73.2l-1.5 .7-1-.5-1.4-.3M134.8 47l1.8-.2 1.3 .8M137.1 46.5l-1.2-.1-1.1 .6M157.5 51.4l1.2 .5 2-.2M160.7 51.7l1.5 1.1M162.2 52.8l-1.5-.3-1.2 0-1.2 0M196.8 62.9l2.4 .3M128.5 47.6l1.3 1 1.8-.5M130.8 47.1l-1.4-.6-.9 1.1M101 86.4l.6 .8 .5 1.1M103.3 89.3l-1.5-1.3M101.8 88l-.8-1.6M104.9 83.9l-1.6 .5-.7-1.3M102.6 83.1l-1.1 .5-1.3-1.3M100.2 82.3l.8 1.6M101 83.9l1 .6 1.9 .2 1-.8M99.4 81.5l-.5-1.7-1.8 .1M95.5 80.2l1.8 1 .6 1.1M97.9 82.3l1.5-.8M107.3 88.8l-.1-1.5-1.5-.1M114.3 98.8l-1.3-.9 1.6-1.8-1.4-.7M113.2 95.4l1.3-.5 1.4 .9M116.7 96.9l-.3-1-.2-1.4M48.4 74l.1 1.4 1.4 .4M49.9 75.8l1.1 .4 1.4 .5 1.5-.1M53.9 76.6l.8 1.7M54.7 78.3l1.4 1.3 1.7-.9M57.8 78.7l1.2 .7 1.6-1.7 1.1 1M61.7 78.7l.7 1.2-1.5 1.1M60.9 81l-1.1-.2-.5 1.6-1.4 .1-.9 .6M57 83.1l-.4 1.1-1.7-1.2-1 1.3M53.9 84.3l-1.4 .9-.6 .6-1.8-.4M50.1 85.4l1.4-.6 1.6 .3M53.1 85.1l2.2 .3 .9-1.1M56.2 84.3l1.1-1.4 2 1.6 .9-1.4M60.2 83.1l.6-1.4 1.6-.2 1.2-.2M63.6 81.3l.9-1.1 1.3 .5 1-1.3M66.8 79.4l1.6-.6 .4-1.7M68.8 77.1l.2-1.6 1.4-.2M70.4 75.3l1.5-1.2 1.6 .6M73.5 74.7l-.9 .6-.2 1.7-1.2 .8M71.2 77.8l1.2 0 1.2-.4 1.5-.8M75.1 76.6l1.4 0 .6-.5 1.1-.9M78.2 75.2l1.4-.6 1.8 1.4M81.4 76l1.3 .6 .8 .2 1.2-1.1 1.4 .9M86.1 76.6l1.4 1.2 1.7-.7M89.2 77.1l1.1 1.2 1.2-.7 .9 .7M92.4 78.3l1.1 1.6 1.2-.5M94.7 79.4l.8 1.4 1.6 .7M97.1 81.5l.4 1.4 .9 .9 1 .1M99.4 83.9l1.4-.2 1.8 1M66.4 80.7l2.2-.2 1-.6M69.9 81l-1.3 .2-1.4 .6M46.8 76.3l2 0M193.2 240.4l1.8 .9-.2 1.5M194.8 242.8l.3 1.4-1.4 1M193.7 245.2l.4 1.2-1.2 1.3-.8 .8M192.1 248.5l-1.4-.1-.3 1.2M190.4 249.6l.1 1.4 1.6 .7M192.1 251.7l.2 1.7-2 .1 .2 1.5M190.5 255l1.2 .7-.8 1.5 .7 1M191.6 258.2l1.4 .9 .7 1.2M193.7 260.3l.7 1 1.1-1.1 .8 1.1 1.3 0M197.6 261.3l0-1.6M202.3 264l-.9 .3-1.5-.2-.7-.7M199.2 263.4l-1.6 .1-.9-.1-.7-1.2M196 262.2l1.6-.8M193.8 242l1 1.3-1.1 1M192.2 243.9l1.4-.9-.7-1.3M201.8 260.3l1.1 .2 1 1.3M203.9 261.8l1 1.1 1.8-.3M325.6 77.5l-1.6 1.1M324 78.6l-1 1.4-1.3-.3M320.1 79.9l-1.3 .2-1.1-1.5M317.7 78.6l-1.2-.8 .5-1.5M317 76.3l-1-1.2 1-.9M317.3 73.1l.8-1.1 .8-.5 1.2 .3M320.1 71.8l1.1-1.4 1.2 .6M322.4 71l.6-1.2 1.9 .8 .7-1.3M325.6 69.3l1.7-.7 .6-.9M327.9 67.7l1.6-.2 0-1.4M329.5 66.1l1.3-.3 .5-1.2 .6-.4M331.9 64.2l1.5-.9M333.4 63.3l1.1-1.5 1.3 .3M335.8 62.1l1.1-.2 .6-1.3 1.4 .2M338.9 60.8l.7-.6 1.5 .5 1-.4M342.1 60.3l1-.9 1.4 1.1 .6-.2 .9-.8M346 59.5l1-.9 1.2 1.2 .9-1.2M349.1 58.6l1.6 .9 .9-.9 1.5 .2M353.1 58.8l1.3-.3 .9 1.5 1.2-1.3 1.3 1.2M357.8 59.9l-1.6 1M326.4 44.9l1-.2 1.6-.2 .7-.7 1.4 .4M331.1 44.2l1.3-.9 1 .3 .5 1.5 1.3-1.2 1.3 .8 .9-.3M337.4 44.4l1.3 0 0 1.5 1.2 .4 .9-.1 1.3 0M342.1 46.2l-1-.6-.7 1.4-1.5-.2M338.9 46.8l-.8 .5-1.2 .1-.5 1.5-.6 .7M335.8 49.6l-.9-.7-1.8 .1-.9-.7-1.1 0M331.1 48.3l-1.4-.4-.9 .1-.9-1.3M327.9 46.7l-.3-1.4-1.2-.4M337.4 43.7l1.1 .1 1 .2 1.2 .5 1.1-.2 1.2-1.1 1.1 1.3 1.1-.9M345.2 43.6l.8-.6 1.3 .8 .8 .5 1.3-1.2 .8 1.8 1.3-.7M351.5 44.2l-1.7-.6-.3 2.1-1.5-.4-1.2 .1M346.8 45.4l-1.2 .4-1.2-.9-1.2-.4-.9 1.1-1.3-.4-1.2 .7-.9-1M338.9 44.9l-1.5-1.2M342.1 47.1l1.5-.5 .6 1.7 1.4-1.5 1.2 1M346.8 47.8l-1.2 1.3-1.2-.5M344.4 48.6l-1.3-.3-1-1.2M326.8 79.4l1.1 1.6M335.2 80.7l-.4-1.4 1-.6M335.8 78.7l.3-1.1 1-.8 1.5 .2M338.6 77l-1.8 0-.5-1.5M336.3 75.5l-.7-1.2 .5-.9M336.1 73.4l1.3-1.5M337.4 71.9l.8-1.1 1.1-.7 1.2 .5M340.5 70.6l.4-1.3 1.7-.1M342.6 69.2l1.1-1.5M337.7 81.5l1.2-1.5M348.8 68.5l-1.2 1.2M347.6 69.7l-.5 1-1.5 .8-1.2 0M344.4 71.5l-.7 1.2-1.1-.1M342.6 72.6l.4 1.1-.3 1.3M342.7 75l.3 1 1.4 .6M346 76.8l1.3 .6 .5-1.5 1.3 .4M322 81.8l.6-.8 1.4 .2M324 81.2l1.7-.8M325.7 80.4l-.4 1.6M346 77.9l1.1 .3 .9-.1 1.1-.8"/>
<path style="stroke-width:1.0" d="M332.7 105.8l-.5-.7-1.1-.6M330.3 103.2l-1.6-.9M328.7 102.3l-.3-1.7M336.6 104.4l-.8-.7-1.6-.3M334.2 103.4l-1.2-1.1M333 102.3l-1.1-1.7M516.4 103.9l1.9 .6M518.3 104.5l1.1-.9 .5-.1 .8-1.1 1.2-.5M521.9 101.9l.5-1 1.2-1 .7-.6M537.6 102.7l1.6-.9M540 101.3l-1.5 .7-.9 .7M512.8 107.8l-1.5 .5-1.2 .3-.8 .8M512.3 113.9l-.1 1.2 .3 1.3M512.5 116.4l-1.6 .9M530.4 106.6l.9 1.6M531.3 108.2l.8 1.7M532.1 109.9l-.5 1-1 1.1M530.6 112l-.2 2.1M530.4 114.1l-.2 1.9M530.2 116l-1.5 1.2M527.1 117.7l-1.7 .4-1.1-.3M524 118.3l-1.6 1.3M522.4 119.6l-1.3-1.8M521.1 117.8l-1.3 .5-1.8 0M514.7 118.3l1.4-.5 1.1-1.3M517.2 116.5l.9 0 1.5-.1M519.6 116.4l1.4-.4 1.7 0M522.7 116l.2-1.2 1.1-1.4M524.3 114.2l1.3-.6 1-.3M526.6 113.3l.8-.6 .8-1.2M528.2 111.5l.6-1.3 .2-.8M529.8 103.7l.8-1.1-.2-1 1.1-1.3M531.5 100.3l1.3 .6 .9 1.2M533.7 102.1l1.5-.2 .9-.1 1.2 .3M537.6 103.7l-.7 .8-1.8 .4-.6 .9M534 105.8l-1 0-1.3-1M514.8 118.9l1.5 1.2M516.3 120.1l-.1 1-.6 1.4M513.6 123.2l0-2M517.2 118.8l1.2 .2 1.9-.5M519.9 119.9l-1.9 .8M580.3 229.7l1.3 1.3 1.3 .4M582.9 231.4l.7 .9 1.1 .8M584.7 233.1l.8 1.7M585.5 234.8l1.2 .2 2-.2M589.5 235l-.4 1.5-.7 .9M587.1 237.9l-.8 1-.3 1.5M586 240.4l-1.6 .9M583.5 240.8l.5-2.1M584 238.7l-1.9-1.1M582.1 237.6l.9-1 .3-1.1M583.5 233.9l-.9-.7-.6-1.2-.9-1.4M580.3 239.6l1.3 .1 1.3 1M582.4 241.8l-.9 .7-.7 1.4M580.5 244.9l-1.4 .5-1 .3M578.1 245.7l-.3 1.7-.4 .9M577.4 248.3l-1.2 .4-.9 .7M575.3 249.4l-1.9-.1M573.4 249.3l-1.5 0-1.3-.8M570.6 248.5l.8-1.7M571.4 246.8l1.2-.4 1.1-1.2M573.7 245.2l1.3-.7 .8 0 1.1-.9M576.9 243.6l1-1 .6-.9M578.5 241.7l1.1-1.7"/>
</g>
</g>
</g>
<g class="k">
<rect x="653.9" y="412.1" width="25.6" height="26.2" fill="#FF6F00"/><text class="t" x="688.1" y="429.5" font-size="13.1">0~50</text>
<rect x="653.9" y="438.3" width="25.6" height="26.2" fill="#C71000"/><text class="t" x="688.1" y="455.7" font-size="13.1">50~100</text>
<rect x="653.9" y="464.5" width="25.6" height="26.2" fill="#008EA0"/><text class="t" x="688.1" y="481.8" font-size="13.1">100~150</text>
<rect x="653.9" y="490.6" width="25.6" height="26.2" fill="#8A4198"/><text class="t" x="688.1" y="508.0" font-size="13.1">200~250</text>
<rect x="653.9" y="516.8" width="25.6" height="26.2" fill="#5A9599"/><text class="t" x="688.1" y="534.2" font-size="13.1">250~300</text>
<rect x="653.9" y="543.0" width="25.6" height="26.2" fill="#FF6348"/><text class="t" x="688.1" y="560.4" font-size="13.1">1300~1400</text>
</g>
<g transform="translate(767.3,328.5)">
<text class="t" x="5.2" y="20.4" font-size="20.1" font-weight="bold">D</text><text class="t" x="24.5" y="20.4" font-size="20.1">Number of DALYs cases</text>
<g class="m">
<g fill="#FF6F00">
<path d="M194.4 47.1l1-.2 1.5-.6 1.4 0 1-.8 .6-.7 1.5-.5 .9-.4 1.1 .5 1.6-.3 .4-1.6 1.5 1 1.6-.8 1.1-.5 1.1-1.1 1 .2 1.6-.5 1.2 .1 1.2 .1 1.2 .1 1.2 .4 1.9-.3 1.2-.7 1-.3 1.7 .2 1 .5 1-.3 1.5-.3 1.3-.6 1.4 .1 1.5 .6 1.1 .1 2-.4 .8 .3 2-.6 .9-.1 1-.6 1.9 .6 1.3-.7 .7 .8 1.4-.8 1.9-.4 1.3 0 1.1 0 .9 0 2 .4 .7-1 1.5 .4 1.8-.4 .7 .9 1.4-.1 1.4 .2 2 .1 .8-.4 1.5-.3 1.4 0 1.6 .5 1 .5 1.2 0 2.1-.3 .9 .8 1.3-.3 1.3 .6 1.8-.1 1.8 .8 1.3 .7 1.4 0 1.4 .4 1 0 1.9-.7 .9 .4 1.4 .3 1.8-.7 1.1 .5-1.6 .3-1.3 1-1.3-.6-1.1 .6-1.5 1.1-1.1 0-1.2 1.1-1 .1-.9 1.3 .9 1.7-.2 1.5-1.6 0-1.6 1.6-1.5 0 1.2 .8 2 .8-1.2 .5-1.5 .8-1.3 1.2 0 2.4-1.5 1.9-1 .9-2.2 .4-1.5 .9-1.6 .3-1.1 .6-2-.4-1.6 .7-1.8 .3-1.3 1.4-1.6 .3-1.7 1-2 .3-1 .6-1.4-.4-1.7 .6-1 .7-1.4-.4-.3 1.1-1.8 .9-.3 1.3-.6 1.4-.8 .7-1 1.1-.7 1.7-.8 .7-2.4-.1-1.3-.7-2.2-.8-1.2 0-1.3-.4-1.2-.8-.6-1.2-1.1-1.4-1.3-1-.9-1-1.1-1.1-.3-1.2-.8-2.4 1.3-.6 1.1-1.2 1.5-.6-1.7-.7-1.4-.3-1.6-.7-.8-2.4-1.6-.9-.8-1.5-1-2-1.4-1-.7-1.1-.9-.6-1.5-.6-1.6 1-1.4-.5-.9-.4-1.5-.2-1 .8-1.4 0-1.1 .1-1.2-1.1-1.6 .7-1.1-1.2-1.1 0-1.6-.7-1.2 .2-1.3-.2-2.2-.4z"/>
<path d="M87.6 61.1l7.9 1.1 3.1-1 9.5-1.1 1.3 0 .8 1.1 1.2-1 1.4 1 .8-.5 1.7-.4 1.5 .5 .6-.7 1.7 .7 1.3-.6 1.7 .3 1.4 1.2 1.4-.6 1.2 .3 .8 1.3 1.6-.5 1-.2 1.5 1.1 .9 .2 2.2-.8 1.4 .7 .8 .6 1.4 .3 1.8-.8 1.5 .8 1.5-.4 1.2 .7 1.3 0 1.1-.4 1.4 0 1.4 0 1.3-.7 1.1 1 1.3-1.8 1.1 .9 1.5-.5 1.1 .8 2-.4 .9-1.6-.9-1.3 1.6-.5 .2-1.3 .6-1.2 .6 1.6 1.9-.4 .4 2.1 1 .5 1.3 .9 1.8 .8 1 1.1 2.2 .5 .6-1.6 .6-.3 1.3-.9 1.2-.4 1-.5 1 .8 2.4-1.4 1.3 1 0 2.2 .8 1.1-1.1 1.5-2.2-.7-.6 1.1-.9 .6-2-.5-1.1 .4-.3 1.8-.9 1.1-1.1 .4-1.6 0-.3 .9-1.6-.2-1.3 .9-.8 1.5-1-.2-1.3 .3-2.3 3.2-.5 2 3.6 2.9 5.5 .3 6.3 2.5 4.2 .3 .5 3.4 2.4 2.7 2.3-.3 .8-1.2-.4-1.4-.1-1.4 .7-1.1 .3-1.1 1.2-1.3 1.1-.6-.8-1.7-.8-.8-1.2-1.1 .9-.6 .7-1.5-.4-1 .1-1.9-.5-1 1.3 .4 1 .5 2.1-.5 .8 0 1.5-.4 1.3 .7 1 .8 2.1-.2 1.5 1 .8 1.5-.1 1.8 1.2 .9 2 .2 1-.5 1-1.9 1.1-.8 1.6 0 .4 1.1 1.4 .6 0 1.4 1.6 .2 .5 1.2 1.7 1.2 .8 .8 .7 1.6 1.2 1 1.7 .6 1 .5 1.3 .6 0 1.2 1.5 .6-1 1.1-1 .5-.8 1-1.8 .2-.8-.3-1.3 1.2-1.3 .6-1 0-1.5-1-.9-.2-1.6 .5-1.7-.6-.9 .7-1.3 0-.7 1.1-1.5-.2-1 1.1-.5 1.3-1.1 .8-1.5 .8 .7-.7 1.6-.6 1.7-.1 1.2-.3 1.3-.2 .8-1.1 1.3-.3 1.1 1.2-1.1 1.1 .3 1.3 1.3 1.3 1.5-.5 1.2 .6 2 .6 1.6-1.2-.3 1.5-1.3 .6-3.9 1.2-3.2 1.6-1.1-.8 2.7-2.1-3.9 .6-1.3-1.3 0-2.2-.8-.4-1.4-.1-1.2 1.1-1.3 2.3-1.1 .5-5 0-2.5 1.3-.8 .9-3.8 .2 .5 .3-.2 .8-5.5 1.8-.9-.8 .9-.7 .2-.6-.2-3.7-1.5-.8 0-.4-1.6-.8-.5-.5-5.6-2.4-1.8 .5-3.9-.5-4.1-.6-.9-.5-43.7 0-3.1-2.5-1.3-1.2-.7-.6-2 .2-.7-1.6-3.2-3.6 0-2.1-3.1-1.6-2.4-2.4-3.1-2-3.2 1.2-2.3-1.7-3.2-.4zM216 96.7l1.1-.9-.1-1.2 1.5-1.1 .3-1.5 .9-1.3 1.8-.4 .4 1.7 1.3 .1 .6 1 1.3 .9 .7 1.7 .5 1-1.2 1.7-1.8 .1-1.4-.8-.8-1-1.4 .5-1-.6-1.1-.2zM107.6 91.6l1.4-.3 1.3 1 .7-.3 1.5 .5 1.4 0 .3 2 .9 .9-1.1-.7-1.2 .4-1.9 0 .5-2.1-1.2-.6-1.3-.4zM183.4 54.4l.9 .6 1.9 .7 1.2-.2 1-.1 1.3 .5 1.6-.2 1.2 1.3 1.5-.2 .3 1.1 1.7 .1 1.6 0 1 .6 1.1 1.2 1.1 .5 1.5-.2 .9 .6 .7 1.4 1.2 .3 .8 1 1.1 .6 1.4-1 .6 1.9 1.7-.2 1 .6 .8 .8-1.7 0-1 2.1-1.2-.2-1.7 .1-1.2-.8-1.5 .3-1.1-.7 .9 1 .8 1.5 1.9 .3 .3 1.3 .5 1.1-1.5 .5-1-.6-.6-1.3-1.9 .7-1-.8 1.6 .2 .8 2.2 1.5 .4-1.2-.6-1.6-.2-1.2-.4-1.2 .1-1 0-1.8 0-1.4-1.7-1.4 .4-1.1-1.6-1.4 .1-1.5-.7-1.5 .4-1.3-.6-1.2 .7 1.6-1.3 1.7 .2 1-1.2 2 .7 .8-1.6 .6-1.3 .1-1.5-1.1-.9-1.1-.5-1.2 .1-1.3 .1-1.2-1.4-1.2-.2-1.5-.1-1.3-.5-1 1.2-2.2-.9-1 .2-1.8-.9-1.7 .8-1.2-.7-1.8 .2-1.1-.6-1.4 .6-1.2-1-1.3-.5-.6-1.8-.5-.9 1.6-1.3 1 .6 1.5-1.3 1.5 1.7 1-.1 1.3-.4 1.4 .1 1.4-1 1.2 .1 1.2 .8 1.3-.3zM125.3 60.1l.9 1.1 1.6-.1 1.8-.6 .4 1.1 1.6 .1 1.6 .9 1 .3 1.6-1.1 .8 .1 1.1 1 1.8-.4 1.6-.6 1.9 .7 1.2-.5 1-.6 2.1 .2 .7-1.2 1.7 .3-1.2-1.4-1.2 1.3-1.2-1.1-1.1-.8-.5-1.2-.3-1.7-1.9-.8-1.3 .5-1.5-.4-1.3-.5-1.2 .4-1.2 .9-1 .5-1.1-.9-1.7 .8-.8-1.1-1.3 .8-1.4-1.2-1.9 .2-.2 1.7-1 .5-1.7 0-1.5 .5 .3 1.2 1.4 .4zM112 57.2l1.2-.5 1.5 2 1.2-.2 1.3-.3 1.8 .4 1.6-.6 1.1 .1 1.9-.7 .6-1.7 2 1 .7-1.1-.3-1.4-2-.7-1.2 .3-1.5 .1-1.8-.5-1-.3-1.7 .8-.9-.9-2 .2-.9 .7-.2 1.6-1.3 .2zM167.7 49.9l1 .3 1.6 .5 1.1-.4 1.5 .3 1.1-.5 1.6-.5 1.4 0 .9 .8 1.4-.6 1.2-.4 1.4 1.2 1.5-.2 1.3-.9 .5-.5 1.4-.7 1.8-1.4 1.3-.2 .9-1.1 1.5-.6 1.6 .5 .5-1.7 1.8-.1 1.2 1 1.2-.7 1.7-.5 1.3 .5 .9-.8 1.4-.4 1.3 .2 .9-1.3 1.6 1.2 .6-1.8 1.3-.3 1.4 1.3 .9-1-1-.1-1.6 .4-.9-1.1-1.6-.1-1.2 0-1.4 .2-.9 .3-1.6-1.1-.9 .9-1.7-1.1-1.5 .1-1.1 1.2-.9-1.2-1.4-.1-1.3 .9-1.4-.6-.9 .2-1.4-.6-1.2 .4-1.6-.2-1.3 1.1-.6 0-1.4 .2-1.2-1.2-1.4 .4-.9 .2-1.6 .9-1.2-1-1.6 .9-.8 .5-1.2-.1-1.3-.3-1.1-.3-2 .5-.9 0-1.5 1-1.6-.2 1.9-.3 .4 1.3 1.1 .6 1.7-.3 1.9 .4 .9 .4-1.2 .1-1 1.2-1 1.2-.9 .4-.6 1.2zM164.6 49.7l1.5-.4 .9 .7 1.8 0 1.5 .2 .9 1.7 1.5 .2 1.3-.6 1.2-.6 1.6 .5 1.2 .7 1.7 .9 1.3-.2 1.4-.6 1 .8 0-1.6-1.3-.2-1.3-.6-1-.2-1.3 .4-1.3-.1-1.4-.8-1.5 1.1-.7-1.1-2 .5-1.4 .4-.9-.7-1.5-.8-1.7 .1zM158.3 44.2l1.7-.3 1 2.2 1.7-.6 .6 1.1 1.9-.5 1 .9 1.6 .2 1.5-.3 .3-1.3 1.4-.5 1.5-.1-1.8 .4-1.1-.4-1.3-1.6-.8 .2-1.3-1.3-1.6 .3-1.2-.4-1.2 1.8-1.5-1.2-1.3 .6zM125.3 52l1.6 .4 1.3-.8 .6 1.9 1.7-.9 1.8-.1 .9 .8 1.4-.9 1.6 .8 .9-1.1 1.5 1.5 1.4-1.4 1.7 .8 .9-.7 0-1.6-1.5 .3-1.2-.8-.8 .7-1.7-1.1-1.1 .1-1-.7-1.9 1-1.4-.7-.7 1-2 .3-1-.8-1.4 .2zM148.9 55.6l.8 1.1 1.4 .4 1.6 .2 1.8-1 .9 1.9 1.3-.4 1-1.1 .6-1.1 1.6 0 .8 1.5 .7 0 1.6 .1 .8-.9 1.2-.3 .9-1.7 1.1-.4-1.5 .1-1 .2-2.1-.8-1 .7-1.5-.3-1.4-.4-1.8 1-1.4 .4-1.3-.9-2 .2-1.7 1.6zM145.8 52l1.2-.8 1.5 1.6 1.2-1.4 1.1 1.5 1.7-1.4 1.3 .3 1.4 .5 1.2-.6 .9-.1 1.7 .2 1.2 .5 1.3-.8-1.3-.7-1.1 .1-.8-1.3-1.3 .5-1 0-1.8 .5-1.7-.9-.6-.4-1.3 1.4-1.7-.6-.9 1-1.4-.1zM172.5 67.6l1.8 .6 1.8-.7 1.1 .5 1.6 .2 1 .3 1.3 1 1.1-.2 1.2 1.3-.6 1.3-2.4 .2-1.5-.4-.9 1.2-1.3-.3-1.8-.4-1.3-1.3-1.1-.1 1.5-.8 .8-.7-.7-1.5zM207.8 93l1.5 .4 1.4-.2 1.5 .9-1.2 .4-1.6-.5zM152.8 62.1l1.1-.7 1.8 .6 1 .9 1.1-.6 1.3-1.1-1.3-.4-1.7 .4-.9-.8-1.4 .1zM115.1 50.4l1.4 .5 1.8 .6 .9-.3 1.8-.9 1.2 .9 1.4 .2 .6-1.4 1.7-.1 1-.8-1.1-.9-.8-.4-2 1-.8-.9-2-.6-.7 1.4-2-.1-1.2 1.5zM143.4 47.5l1.7-.6 1.2 1.6 1-.4 1.6-.2 1.2-1.1 .8-.2 2 1 .7-.9-1.7-.4-1.4-1.1-1.1 .8-2-.7-1.2 1.1-1.2-.6zM154.4 47.5l1.3 .4 1.8-.3 .8-1.4-2.3-.2zM181.9 54.6l1.2 .3 .9 .1 1.5 .2 1.1 .7 1.5 .5 1.6-1-.7-.9-1.6-.2-1.7-.5-1.5-.1-1.4 .1zM187.4 64.3l.7 .9 1.6-.4 1.1-1.1-1 .2-1.3-.7zM178.7 71.9l1.4-.6 1 1.1 1.4 .1 .9 .7-1.5 .7-1-.5-1.4-.3zM180.3 87.8l2.1 .5-1-.8zM183.4 81.7l1.3 .9-.8 .5zM134.8 47l1.8-.2 1.3 .8-.8-1.1-1.2-.1zM157.5 51.4l1.2 .5 2-.2 1.5 1.1-1.5-.3-1.2 0-1.2 0zM196.8 62.9l2.4 .3-.8-.8zM128.5 47.6l1.3 1 1.8-.5-.8-1-1.4-.6zM101 86.4l.6 .8 .5 1.1 1.2 1-1.5-1.3zM104.9 83.9l-1.6 .5-.7-1.3-1.1 .5-1.3-1.3 .8 1.6 1 .6 1.9 .2zM99.4 81.5l-.5-1.7-1.8 .1-1.6 .3 1.8 1 .6 1.1zM107.3 88.8l-.1-1.5-1.5-.1-1.1 .3 1.4 1z"/>
<path d="M164.3 150.3l0-1.2 1.1-1.3 1.7-.5-.9-1.3 0-1 2.9 0-.1 3 .5 .1 .9 .4-1.4 1.2-.3 .9-1.1 1-1.9-.3z"/>
<path d="M169.1 145l1.3-1.1 .3 .7-.3 .9 0 1.7-.9 .9-.5-.1z"/>
<path d="M167.6 151.6l1.1-1 1.4 .8 1.1 0 .2 .8-.2 .3-1.6 0z"/>
<path d="M169 149.7l1.4-1.2 1.3-.2 2.3-.2 1.6 0 1.6 .7 1.2 .8-2 .5-1.9 1.3-1.6 .1-.9 1.3-.2-.1-.4-.5-.2-.8-1.1 0-1.4-.8z"/>
<path d="M178.4 149.6l-.3 1.6-.1 2.4-.4 2.5 .1 .1-1.6-.1-1.6-.2-1.3-1.1-1.7-1.8 .5-.2 .9-1.3 1.6-.1 1.9-1.3z"/>
<path d="M174.5 155.9l1.6 .2 1.6 .1 1.7 2.1-.5 1 0 1.5-.9-.7-1.9-1.8-.7 0-1.1-.9z"/>
<path d="M178.9 160.8l0-1.5 .5-1 1.7 1.3 2.3-.6 1.6-.7 1.7 1 .9 .6 .2 1.2-1.1 1.1-.7-1.8-1.8-.9-1.2 1.1 .4 1.5-1.5 .1-1.1-1.4z"/>
<path d="M175.8 138.4l2.9-1.8 3.2-.1 3.1 1.1 3.2 1.4 2.3 1.3 2.1 .9-1.3 .4-4.2 .1 .7-1-2-.8-2.4-1.2-2.8-.8-1.9 .3-1.5 .4z"/>
<path d="M192.2 143.7l3.3 0-.7-1.2-1-.7 2.7 0 0 2.9-1.3-.3-3-.2z"/>
<path d="M196.5 141.8l2.7 0 2.5 1.9-1 .5-2.3 .2-1.4 1-.5-.7z"/>
<path d="M186.1 144.2l3.2 0 .1 .7-2 .1z"/>
<path d="M212.2 156.6l1.1-.2 0 1.1-1.4 0z"/>
<path d="M197.1 154.8l-.9 .3 .4 1.3 1-1.8 1.6-.5 .3 1.2 2.2 .4 .6 1.2 3.1-.2 2.4 .8 2.4-.9 1.7 0-1 1.1 2.4 .6 .3 1.7 1.3 .1 .3 .3-2.1 1.3-.3 2.5 1 1.3 0 .9-3.3 1-1.9-.1-.6 2.5 1.5 .5-3.3 2.3-2.2-.6-.4-1.8-1.1-.8 .9-1-.8-1.5 0-1.6 .5-1.5-3 .2-.9-1.4-1.6 0-2.2-.7-.2-1.6-1.2-1.3 1.2-3.1 .8-.8z"/>
<path d="M215.2 160.4l-.3-.3 2.3 2.5 2.1 1.6-.2 1.1-1.1 2.1 .3 1 2.1 2.4-1.3 0-2.4 1.2-1.5-.2-.2-1.6-.1-2 .6-.8-.8-1.8-.9-.1-1-1.3 .3-2.5z"/>
<path d="M219.3 164.2l2 .1 3 .2-.8 1.5 .8 2.1-.8 2.1-2.2 .6-.9 0-2.1-2.4-.3-1 1.1-2.1z"/>
<path d="M185.3 171.6l-1.9 1-.7 2.1-.8 .8 .3 2 1.2 .5-.4 1.4 .1 1.6 1.4 1 1-.6 .6-2 2.5-1.3 1.8-1.8 .4-2.2-1.5-.8-1.8 0z"/>
<path d="M183 179.4l-1.6 1.8 .5 2.4 1.9 2 1.5 2.6 2.1 3.5 1.9 4.6 1.7 2.4 3.4 1.9 2.7 1.8 1.4 1.2 1.4-1.3 .8-2.1-.9-1.5 .9-1.3 .2-2.9-1-2.8-1.7 0 .2-2.4-2.7 .8-1.3-1.3-.3-2.9-1.2 0 1.5-3.4 .4-.3 4.4-1.3 .1-.2-1.2-.6 .6-2.1-2.7-.4-1.6 0-1.5-2.1-2.1-1.4-.4 2.2-1.8 1.8-2.5 1.3-.6 2-1 .6-1.4-1z"/>
<path d="M198.5 203.6l.5 4.3-.6 4.1-.2 3.2-.6 3.3-.8 4-.3 4.1 0 1.6-1.3 3.2-1.1 2.8-.6 2.9-.3 3.3 1.8 .9-.2 1.5 .3 1.4-1.4 1 .4 1.2-1.2 1.3-.8 .8-1.4-.1-.3 1.2 .1 1.4 1.6 .7 .2 1.7-2 .1 .2 1.5 1.2 .7-.8 1.5 .7 1 1.4 .9 .7 1.2 .7 1 1.1-1.1 .8 1.1 1.3 0 0-1.6 4.1-.9-2.5-.6-3.2 0-.5-2.1-1.5-2 1.5-2.4 1-3.2 0-3.3-.5-3.2 .5-3.3 1.1-2.4-.3-3.2 1.4-2.5 .8-2.7-.8-3.7 .6-2.5 1.4-3.2 1.1-1.6-.3-2.8 2.1-1.3 0-1.9-1.1 0-.5-2.1-1-2.3 .5-1.2-.8-.6-.1-1.3-.7-1.1zM201.4 259.3l0 3.6 3.3 .3-2.4 .8-.9 .3-1.5-.2-.7-.7-1.6 .1-.9-.1-.7-1.2 1.6-.8 .8-.8 .8-1.1zM192.9 241.7l.9 .3 1 1.3-1.1 1-1.5-.4 1.4-.9z"/>
<path d="M203.6 210.9l1.4-1.7 1.7 .5 1.4 1.2 1-1.3 1.7 .3 2.5 2.6 3.1 1.1 2.1 1.3-1.4 3.1 3.3 .3 1.1-.1 1.7-2.8 1.4 1 .2 1.4-3.2 2-3 3.1-.4 2.1-.5 1.6-.3 2.4 0 .8 1.9 1.6 .7 1.7-1.4 2.6-2.2 .9-3.9 .5-1.3-.3 .2 2.9-2.5 1-1.9-.7 0 2 2.2 1-2.2 1.1-.8 2.7-3.1 2 2.3 2.6-2.3 2.7-2.4 1.7 0 1.7 1 1.3-2.5-.6-3.2 0-.5-2.1-1.5-2 1.5-2.4 1-3.2 0-3.3-.5-3.2 .5-3.3 1.1-2.4-.3-3.2 1.4-2.5 .8-2.7-.8-3.7 .6-2.5 1.4-3.2 1.1-1.6-.3-2.8 2.1-1.3zM201.4 259.3l.4 1 1.1 .2 1 1.3 1 1.1 1.8-.3-2 .6-3.3-.3z"/>
<path d="M218.6 222.9l2.5 1.1 2.4 1.3 1.7 1.8 0 1.4-.9 1.5-1.6 .5-2 0-2.4-.7-.9-.8 .3-2.4 .5-1.6z"/>
<path d="M210.8 209.9l1.4-4.2 4.1-.5 1.4 .8 .5 1.5 0 2.2 2.9 .3 .7 2.6 2 .2-.5 2.4-.1 .2-1.7 2.8-1.1 .1-3.3-.3 1.4-3.1-2.1-1.3-3.1-1.1z"/>
<path d="M270.6 67.7l1.2-.9 2-.5 1.6-.3 .9 .4 1.4 .5 1.5 .3 1.3-.6 1.7-.6 1.8 .1 2.3 .5 1.4 1.6-.6 1-1.6 .5-1.6 .5-.9-.1-2 .6-1 .4-1.3-.5-1 .6-1.6-.7-1.3 .4-1.4-.4 1.1-1.2-2-.1-1.1-.5z"/>
<path d="M326.7 78.1l-1.1-.6-1.6 1.1-1 1.4-1.3-.3-1.6 .2-1.3 .2-1.1-1.5-1.2-.8 .5-1.5-1-1.2 1-.9 .3-1.1 .8-1.1 .8-.5 1.2 .3 1.1-1.4 1.2 .6 .6-1.2 1.9 .8 .7-1.3 1.7-.7 .6-.9 1.6-.2 0-1.4 1.3-.3 .5-1.2 .6-.4 1.5-.9 1.1-1.5 1.3 .3 1.1-.2 .6-1.3 1.4 .2 .7-.6 1.5 .5 1-.4 1-.9 1.4 1.1 .6-.2 .9-.8 1-.9 1.2 1.2 .9-1.2 1.6 .9 .9-.9 1.5 .2 1.3-.3 .9 1.5 1.2-1.3 1.3 1.2-1.6 1 1.3-.1-3 1.2 .6-.9-2.2-.8-3 .6-.4 .8-1.3 1-3-.2-3.1-.5-.6 0-1 1-2.8-.1-2.7 .9-1.6 2.6-1.5 1.6-1.3 1.8-2.3 1.2 0 3 .9 .5-.8 2.1-.8 1.2zM326.4 44.9l1-.2 1.6-.2 .7-.7 1.4 .4 1.3-.9 1 .3 .5 1.5 1.3-1.2 1.3 .8 .9-.3 1.3 0 0 1.5 1.2 .4 .9-.1 1.3 0-1-.6-.7 1.4-1.5-.2-.8 .5-1.2 .1-.5 1.5-.6 .7-.9-.7-1.8 .1-.9-.7-1.1 0-1.4-.4-.9 .1-.9-1.3-.3-1.4zM337.4 43.7l1.1 .1 1 .2 1.2 .5 1.1-.2 1.2-1.1 1.1 1.3 1.1-.9 .8-.6 1.3 .8 .8 .5 1.3-1.2 .8 1.8 1.3-.7-1.7-.6-.3 2.1-1.5-.4-1.2 .1-1.2 .4-1.2-.9-1.2-.4-.9 1.1-1.3-.4-1.2 .7-.9-1zM342.1 47.1l1.5-.5 .6 1.7 1.4-1.5 1.2 1-1.2 1.3-1.2-.5-1.3-.3z"/>
<path d="M326.7 78.1l.1 1.3 1.1 1.6 1.3 1.8 .3 1.3 2.1-.2 .6-.9 2-.2 1-2.1-.4-1.4 1-.6 .3-1.1 1-.8 1.5 .2-1.8 0-.5-1.5-.7-1.2 .5-.9 1.3-1.5 .8-1.1 1.1-.7 1.2 .5 .4-1.3 1.7-.1 1.1-1.5 3.3-.5-.8-1.1 .6-1.6-2.4-1.5-2.9-1-1 1-2.8-.1-2.7 .9-1.6 2.6-1.5 1.6-1.3 1.8-2.3 1.2 0 3 .9 .5-.8 2.1-.8 1.2zM337.7 81.5l1.2-1.5-.3 1z"/>
<path d="M347 67.2l1.8 1.3-1.2 1.2-.5 1-1.5 .8-1.2 0-.7 1.2-1.1-.1 .4 1.1-.3 1.3 .3 1 1.4 .6 1.6 .2 1.3 .6 .5-1.5 1.3 .4 3.7-.5 1.8-1.1 4-2.8-2.4-1.4 .3-1.6-.8-2.1-1.1-1.3 1.6-1.3-2.3-1.3 .6-.9 .6-.9-2.2-.8-3 .6-.4 .8-1.3 1-3-.2-3.1-.5-.6 0 2.9 1 2.4 1.5-.6 1.6z"/>
<path d="M322.6 84.9l-.8-1.1 .2-2 .6-.8 1.4 .2 1.7-.8-.4 1.6 .9 .5-1.4 1.4-.8 .8 .6 .4zM326.4 83.6l2-.6 .5 .8-1 1.1-1.5-.5z"/>
<path d="M322.6 84.9l2 .2 1.8 .6 0 .7 2.3-.7 1.6-.1 1.1 .9 .3 1.2 .3 1.1 .2 1.6 .5 .8-1.1 0-3.2 1.2 .3 .6 2.1 1.8-1.3 .8 0 1.3-1.2-.2-2.7 .4-1.4-.2-1.6-.3-1.6 .1 1-2.2-2.9-.8-.4-1 0-1-.2-.5 .3-1.3 1-.3 .3-.8 .3-1.3 1.3-.5 1.1-.5 .3-.9z"/>
<path d="M320.4 87.5l-.3 1.3-.3 .8-1 .3-.3 1.3-.3 .4-1.2-1-1.3 0-1.3 0 1-1 1.1-1.6 2-.7z"/>
<path d="M314.4 90.6l1.3 0 1.3 0 1.2 1 .3-.4 .2 .5 0 1 .4 1-.9 0-1.6-.8-.9-.4-2.6-1.4z"/>
<path d="M306.3 103.5l-2.7-.1-3.1-.2-4-.1-1.9 .9 .7 1.8 .9-.1 2.5 .3 .7 .5-1.1 .9-.2 2.1-.6 .5 .6 2-.6 1.6 1.5 .6 .7 1 .9 .2 1.6-1 3.4 0 1-1.3 1.4-.1 1.4-2-.8-1.1 1.8-2.3 2.2-.8 1.5-.8 0-.8-2.3-.2-1.6-.5-1.9 0zM312.9 109.7l1.2-.5 .2 .8-.8 .2zM282.7 127.9l1-.2-.5 .8zM284.3 128.5l.6-.2-.1 .5zM286.8 127.5l.6-.3-.1 1zM280.8 127.2l.5 0-.2 .5z"/>
<path d="M295.3 105.8l.1 2.1-1.1 2.3-.1 1 1.1 .5 0 .8-.3 1.4 1.7 0 .8-.3 .6-1.6-.6-2 .6-.5 .2-2.1 1.1-.9-.7-.5-2.5-.3zM268.6 112.5l.9 .1-.5 .2zM264.3 111.3l.8 .2-.4 .2zM266.2 111l.5 .2-.3 .1zM282.1 120.7l.8 .2-.5 .2z"/>
<path d="M299.7 89.3l-.3-1.8 0-1.1-1.8-.2-1.4-.8 1.4-1.1-1.9 .4-1.7 .4-.6 .9 .8 1.5-1.3 1-.1 1.1 .9 .8 1.6 .4 .9-.9 1 .5 1.1-.5 .9-.6z"/>
<path d="M320.9 102.9l2-1 2.2 .8 .5 1.7 2 1.3 1.1 .9 2.1 .5 1.1 1 1.7 1 .6 1.6-.5 1.6 1.3-.6 1-1-1-1.2 .8-1.3 2.2 1.2 .2-.5-.8-1-2.2-.8-.7-1.1-1.8-.2-.5-.7-1.1-.6-.8-1.3-1.6-.9-.3-1.7 1.3-.8 1.1 .2-.3-1 .1-.5-2.3-.8-2.7 .2-.6 .8-1.3 .1-1.3 0-.9 .7-1.7 0 .3 1.1 0 1.5zM328.6 112.5l1.4-.5 3.6 0-.8 2.4-2.5-.8zM322 107.6l1.5-.5 .8 1.1-.1 2.2-1.8 .4-.1-1.7z"/>
<path d="M318.7 99l1.1 .5 1.7 0 .9-.7 1.3 0 1.3-.1 .6-.8-1.4-1-1.6-.3-1.6 .1-.9 .2z"/>
<path d="M324.2 96.9l1.4 1 2.7-.2 2.3 .8 1.4 .2 2.2-.5 .8-.5 1-1.6-.4-1-2.9-.6-1.9 .3-1.3 .8 0 1.3-1.2-.2-2.7 .4z"/>
<path d="M328.4 92.4l3.2-1.2 1.1 0 2 .7 .9 .3 2.7 .8 .4 .7-1.8 .9-1.3 .5-2.9-.6-1.9 .3-2.1-1.8z"/>
<path d="M331.4 86.5l3.6-.9 2.8-.5 2.1 .6 5 0 1.1 .8 .6 2-.4 .9 0 .9 .7 1.3-2.3 2.7-.2 0-3.9-.2-1.8-.4-.4-.7-2.7-.8-.9-.3-2-.7-.5-.8-.2-1.6-.3-1.1z"/>
<path d="M335.6 95.1l1.3-.5 1.8-.9 1.8 .4 3.9 .2-.6 1.1-2.5-.1-2.7 1.1-2.6-.3z"/>
<path d="M336 96.1l2.6 .3 2.7-1.1 2.5 .1 1.3 .7-2.7 2.7-1.4 .4-2.4 .3-2 0-1.6-1-.8-.3 .8-.5z"/>
<path d="M330.5 99l.1-.5 1.4 .2 2.2-.5 .8 .3-1.4 .5-.5 1.1-2.6 0 .3-.1z"/>
<path d="M330.5 100.1l2.6 0 .5-1.1 1.4-.5 1.6 1 2 0 .3 1.1 0 .5-3.1-.5-1.9 0 0 .8 .6 .9 2.2 1.9 1.5 .6 0 .2-1.6-.6-.8-.7-1.6-.3-1.2-1.1-1.1-1.7-.8 .5-.6-.3z"/>
<path d="M333.9 100.6l1.9 0 3.1 .5 .7 1.2 .1 1.1-1.5 1.4-1.5-.6-2.2-1.9-.6-.9z"/>
<path d="M338.9 100.6l-.3-1.1 2.4-.3 1.9 1.4 1.7 1.7 .5 1.6-.8 1.4-1.4 .2-1.4 .5-.8-1.2 .3-.4-1.3-1-.1-1.1-.7-1.2z"/>
<path d="M338.2 105l0-.2 1.5-1.4 1.3 1-.3 .4-1.1 1.2z"/>
<path d="M339.6 106l1.1-1.2 .8 1.2-.2 1.1 .8 .7-.5 .9-1.1 .8-1.1-1.3 .3-1.6z"/>
<path d="M341.3 107.1l.2-1.1 1.4-.5 1.4-.2 .9 1.7-1.5 .3-1.6 .5z"/>
<path d="M344.3 105.3l.8-1.4-.5-1.6 2.2 .8 4.7-.7 2.5 .7-.9 2.7-3.2 .5-2.3 .3-2.4 .4z"/>
<path d="M341 99.2l1.4-.4 2.7-2.7 3.1 .5 2.7-.8 2.3 2.2 .2 2.1 2.2 .4-1.6 2.6-2.5-.7-4.7 .7-2.2-.8-1.7-1.7z"/>
<path d="M350.9 95.8l1.9-.4 2.2 .9 1.2 2.4-1.7 .8-1.1 .6-.2-2.1z"/>
<path d="M343.8 95.4l.6-1.1 .2 0 2.3-2.7-.7-1.3 2.2-.5 3.9 .6 4.9 .3 .6-1.3 4.4-.4 2.7 3.2 3.9 .8 3.1 .5-.3 2.8-2.5 1.3-1.9 .4-3.1 1 .8 1.5 1.7 0-2.5 .8-2.4 .6-1.6-1.6 1.8-1.1-2.5-.7-1.9 0-1.9 2-2.2-.4 1.1-.6 1.7-.8-1.2-2.4-2.2-.9-1.9 .4-2.7 .8-3.1-.5z"/>
<path d="M346 86.5l3.6-1.6 1.3-1.3 2.5-.6 4.2 .8 2.9 3.5-2.2 .5-.5 1.6-.6 1.3-4.9-.3-3.9-.6-2.2 .5 0-.9 .4-.9z"/>
<path d="M342.4 84.4l-.2-1.4 2.9-.5 3.3 0 2.5 1.1-1.3 1.3-3.6 1.6-1.1-.8-.1-1z"/>
<path d="M342.2 83l0-1.5 1-1 1.4-.1 1.1 1.1 1.2-.2 .4-1.3 1.5-.1 3.3 .8 .7 .5 .6 1.8-2.5 .6-2.5-1.1-3.3 0z"/>
<path d="M347.3 80l-1.3-1.1 0-1 1.1 .3 .9-.1 1.1-.8 4 .2-1 1.1 .2 1.6-.2 .5-3.3-.8zM343.7 78.9l1.5 0-.8 1z"/>
<path d="M359.8 117.2l1.1-.5 2.5-.7-.9 1.2-1.6 .6z"/>
<path d="M371.9 103.5l3.9 .4 2.4 .9 2.4 .2 1.5 1 0 1.3-2.3-.3-2.4 .3-1.4-.8-1.7 .1 0-1.4z"/>
<path d="M377.4 107.3l2.4-.3 .8 .9 1.5 2-.4 .9-1.9-.8-.3-.5-1.8-.8z"/>
<path d="M379.8 107l2.3 .3 0-1.3 2.1 1.1 1.2-1 1.4 2 1.3 .5-1.6 1.6-.6 1.5-1.4-.7 0-1.5-2.4 1.3-.4 0 .4-.9-1.5-2zM379.5 109.5l.3 .5 1.9 .8-1.1 0z"/>
<path d="M288.4 129l2.6-1.3 2.4-1.6 .5-1.6-.2-1.7 2-2.9 2.7-1.3 1.4-2.7 1-.2 2 1.1 2.8 .2 .8 3.4 .7 1.5-3.5 1.7-2.4 1.7-3.1 .8-2.6 1.3 0 1.6z"/>
<path d="M288.4 129l7.1 0 0 .6 0 2.2-5.2 0 0 4.2-1.6 .6 0 2.8-6.3 0 .2-1.2 1.4-2.7 1.7-2.1 .6-2z"/>
<path d="M282.4 139.4l6.3 0 0-2.8 1.6-.6 0-4.2 5.2 0 0-2.2 6 3.8-2.6 0 1.6 13.8 0 1.6-6 0-2.2 .1-1.3-.3-1.1 1.3-2-2.1-1.6-.8-3.1 .8 .8-3.1-.3-2.1-.5-2.1-.8-.6z"/>
<path d="M301.5 133.4l9.5 6.3 0 .6 2.8 1.5 .5 1.3 1.5-.2-.1 3.8-1.1 2.1-3.9 .8-1.3 0-1.1-.2-2.3 1.5-1.6 .8-2.1 .8-.3 .8-1.2 1.5-.3 2.2-1.1-.3-2.7 .7-.3 0-.3-1.3-1.1-2.1-2.1 .1-1.7-.3-1.3-3.9 1.1-1.3 1.3 .3 2.2-.1 6 0 0-1.6-1.6-13.8z"/>
<path d="M305.6 117l3.5-1.1 2.4-1.2 2.3-.5 3.2 0 3.1-.3 2.5 .2-.5 .6-.1 2.5-1.1 1.9 2.3 2.8 .8 2.9 .5 3.2 .1 2.9-.7 .5 .9 2.8 3.1 1.6-7 4.4-2.7 2.1-2.4 .6-1.5 .2-.5-1.3-2.8-1.5 0-.6-9.5-6.3-6-3.8 0-.6 0-1.6 2.6-1.3 3.1-.8 2.4-1.7 3.5-1.7-.7-1.5z"/>
<path d="M322.6 114.1l1.9-.7 1.9 .5-.8 1.2 .8 1.7-1.4 1.5 1.2 1 1 .8 0 1.1-1.9 1.2-.2 1.7-1.1 .7-.8-2.9-2.3-2.8 1.1-1.9 .1-2.5z"/>
<path d="M327.2 120.1l2.3 .5 3.5 .9 .8 1.5 2.8 .8 2.3 1 1.6-1.2 0-1.9 2.4-1.1 2.6 .6 3 1.4-.1 2.7 0 12.9 0 3.3-1.6 0 0 .8-14.1-5.7-1.3 .7-3.5-1.5-3.1-1.6-.9-2.8 .7-.5-.1-2.9-.5-3.2 1.1-.7 .2-1.7 1.9-1.2z"/>
<path d="M348.4 138.2l18.7 0 .6 1.7-.2 2.4 2.1 2.4-2.4 1.6-.8 3.3 0 1.1-.8 2.6-1.5 2.8-1.1 .8-.5 1.6-.3-.8-1-1.1-.1-2.5-.6 0-1 .3 .3 .5-.8 2-1.2 1.1-1.6-.6-1.6 .8-1.5 .6-3.2-1.4-1.5-.2-1.6 2.6-.8 0-.9-3.6-1.4-2.9 .7-2.1 .8-2.7 1.6 0 0-6.2 0-.8 1.6 0z"/>
<path d="M362.5 158.5l.2 1.8-1.8 1 2.4 1.7 1.2 2.1 1 1.3-3 .7-.8 .6-3.9 .4-.3 .1-1.3-1.6-2.3 .3-1.8-1.3-1.4-1.4-2-2.5-1.9-1.9 1.6-2.6 1.5 .2 3.2 1.4 1.5-.6 1.6-.8 1.6 .6 1.2-1.1 .8-2-.3-.5 1-.3 .6 0 .1 2.5 1 1.1z"/>
<path d="M369.6 144.7l1.1 2.5 .4 1.6 2.4 1.6 2.2 2.1 1.1 .8-1.1 .3-2.5-2.7-2.8-.7-1.8-.5-2.2 1 0-1.1 .8-3.3z"/>
<path d="M376.8 153.3l.3 1.3-.8 .5 .6 .2-.6 .9-1.6-.1 0-1.3 1-1.2z"/>
<path d="M366.4 150.7l2.2-1 1.8 .5 2.8 .7 2.5 2.7-1 1.2 0 1.3 1.6 .1 1.9 3.1 4.7 1.6 1.6 0-4.7 4.9-2.1 .5-2.6 .8-.2 .4-3.3 .2-2 .4-2.7-1.3-1.4-.4-1-1.3-1.2-2.1-2.4-1.7 1.8-1-.2-1.8 .5-1.6 1.1-.8 1.5-2.8z"/>
<path d="M376.3 156.2l.6-.9 2.1 1.7 2.3-.6 2.4-.7 2.4-.1 3.4-.9-.3 2.2-.5 1.9-1.9 2.9-2.3 4.1-2.4 3.2-3.1 2.5-2.4 2.4-2.2 2.8-.9-1.3 0-6 1.4-1.9 .2-.4 2.6-.8 2.1-.5 4.7-4.9-1.6 0-4.7-1.6z"/>
<path d="M374.4 176.7l-2.2 1.6-.9 2.2-.6 1-2.4-2.3-.1-.4-5.7-3.3 0-1.6 .8-1.8 .8-1.1-1.6-3.9 3-.7 1.4 .4 2.7 1.3 2-.4 3.3-.2-1.4 1.9 0 6z"/>
<path d="M362.5 167.1l1.6 3.9-.8 1.1-.8 1.8 0 1.6-5.5 0-1.4 .7 .1-1.5 .4-2.1 2.2-2.3-.8-2.1 .3-.1 3.9-.4z"/>
<path d="M362.5 175.5l5.7 3.3 .1 .4 2.4 2.3-.7 2.5 1.1 1.2-.3 2.5 .8 2.4 1 .8-3.8 1.3-3.2 .5-1.7 0-.5-.2-.1-2.4-.8-.8-1.6 0-.8-.3-2.3-1.2-.3-.4-2.1-3-.1-3.2 .9-.3 1.3-1.7-.5-1.4 .5-.2-.5-2.1z"/>
<path d="M355.6 176.2l1.4-.7 .5 2.1-.5 .2-2.4 .5 .4-1.8z"/>
<path d="M354.6 178.3l2.4-.5 .5 1.4-1.3 1.7-.9 .3-.3-1.6z"/>
<path d="M326.5 180.2l1.3-.6-.6-2 1.5 0 3-.6 .2-2.1-1-1.5 1-1.8-1.9 .2-.2-1.5 2.1 0 2.3 .8 .3-.8 .5-1.6 3.3-.5-.9 2.5-.5 4-2.4 2.8-1.4 3.4-1.4 .8-2-.3-.5-.4-1.3 1z"/>
<path d="M326.5 180.2l-2.3-2.4-1.3-2.8 .8-1.9 .8-.8 2.3 0 0-2 3 0 .2 1.5 1.9-.2-1 1.8 1 1.5-.2 2.1-3 .6-1.5 0 .6 2z"/>
<path d="M324.5 172.3l2.3 0 0-2-2.3-.1zM322.3 168.1l.8-.2-.3 .8z"/>
<path d="M324.5 170.2l-.2-2.1-1.2-1.5-.5-.5 .5-1.6 .6-1 1.4-.8 1.4 .7 1.1-1 .7-2.1 .9-.5 .6-1.5 1-2.2 1.2-.8 0-1.2-.6-.3 0-1.1 1.3 1.6 .1 2.1 .8 1.3-2.2 0-.5 .6 2.1 2.6 .4 .8-1.5 2.5 .1 1.6 1 1.8 1.5 2.7-.3 .8-2.3-.8-2.1 0-3 0z"/>
<path d="M313.3 163.5l2.9 .2 1.5 2.1 1 1.1 2.2-.3 1.7-.5 .5-1.6 .6-1 1.4-.8 1.4 .7 1.1-1 .7-2.1 .9-.5 .6-1.5 1-2.2 1.2-.8 0-1.2-.6-.3 0-1.1-.9-1-1.8 1-3.9-.4-3.5 0-2-.4-1.6-.5-2.2 .6-.7 2.9 .3 2-1.6 2.4z"/>
<path d="M313.3 163.5l-1.7 .3 0-4.5-.3-.8-.9-1.6 .1-.8 .8-.7 1.6-.8 0-.6 1.9 .9 .3 2-1.6 2.4z"/>
<path d="M311.6 163.8l-.6 .2-1.1-2.3-.2-3.2-.6-2.6 1.4 .2-.1 .8 .9 1.6 .3 .8z"/>
<path d="M311 164l-1.9 .8-3.1 1.3-1.8-.5-.1-2.7 1.1-2.3-.3-2.1-.2-2.4 3.6 0 .8-.2 .6 2.6 .2 3.2z"/>
<path d="M300.5 157l.3-2.2 1.2-1.5 .3-.8 2.1-.8 1.6-.8 2.3-1.5 1.1 .2 1.3 2.6 1.7 1.1 .5 .7 0 .6-1.6 .8-.8 .7-1.4-.2-.8 .2-3.6 0 .2 2.4-2.9-.3z"/>
<path d="M297.3 166.8l-2.3-1.3-2.9-2-1.1-.8 1.4-1.4 .5-1.2 1.3 .2 .3 1.6 1.6-.3-.4 1.8 1.5 1.6z"/>
<path d="M291 162.7l-1.5-.8-1.3-1.8 0-.8 1.3-1.4 2-.2 .9 1.4 .5 1-.5 1.2z"/>
<path d="M288.2 159.3l-1.1-1.6-1.6-1.5 1.6-1.1 .5-1.1 0-.7 3.6 .5 1.7 .3 2.1-.1 1.1 2.1 .3 1.3 .3 0-.5 1.1 .6 1.6-.7 1.5-1.6 .3-.3-1.6-1.3-.2-.5-1-.9-1.4-2 .2z"/>
<path d="M285.5 156.2l-1.5-1.4-1.1-.8 2.6-.7 2.1 0 0 .7-.5 1.1z"/>
<path d="M282.9 154l-.2-1.3 2.8-.2 1.9-.5-1.9-.5-2.8 .4-1.1-1.8 1.6-2.3 3.1-.8 1.6 .8 2 2.1 1.3 3.9-3.6-.5-2.1 0z"/>
<path d="M282.7 152.7l0-.8 2.8-.4 1.9 .5-1.9 .5z"/>
<path d="M315.8 142.9l2.4-.6 2.7-2.1 7-4.4 3.5 1.5 1.3-.7 1.5 4.1-.4 .9-.4 4.9-2.3 2-.8 1.9 .2 1.3-1.8 1-3.9-.4-3.5 0-2-.4-1.6-.5-2.2 .6-.7 2.9-1.9-.9-.5-.7-1.7-1.1-1.3-2.6 1.3 0 3.9-.8 1.1-2.1z"/>
<path d="M332.7 136.6l14.1 5.7 0 6.2-1.6 0-.8 2.7-.7 2.1 1.4 2.9-1.9 .7-1.9 2.1-2.4 .3-.1 .3-3 1.8-2.4 .3-.4-.8-2.1-2.6 .5-.6 2.2 0-.8-1.3-.1-2.1-1.3-1.6-.9-1-.2-1.3 .8-1.9 2.3-2 .4-4.9 .4-.9z"/>
<path d="M333.4 161.7l2.4-.3 3-1.8 .1-.3 2.4-.3 1.9-2.1 1.9-.7 .9 3.6 .8 0 1.9 1.9 2 2.5 1.4 1.4-3.3 0-2 .2-2.4 1.5-3.9-.7-2.2 .3 0 1.3-3.3 .5-.5 1.6-1.5-2.7-1-1.8-.1-1.6z"/>
<path d="M328.3 183.5l.9 1.6 .9 2.6 .7 3.5-.7 3-1.4 1.6-.8 2.4-.3 2.4 0 1.3 1.9-.4 1.6 .6 7.1 0 3.9 .8 3.8-.5-2.2-2.2 0-5.2 3.1 0 0-3.4-.2 .1-2.6 .4-.3-2-.4-.8 0-3.6-2.8-.5-.8 1.7-3.1 .1-1.4-3.5-4.9 0zM328.3 183.3l-.4-1.3 1.3-1 .5 .4-1 .8z"/>
<path d="M346.8 191.6l.6 .8 1.7 .5 3.2 .9 2.3 1.8 1.3 0 0-1.9-2.2-.7 .3-2.1-.3-1.9 .8-1.3 3-.3 .3 .4 2.3 1.2 .8 .3 .5 2.1-.5 2 0 3.2-4.4 1.6 .3 1-2.2 .3-.3 1.1-2.8 2.5-2.7-.3-2.9-.4-2.2-2.2 0-5.2 3.1 0z"/>
<path d="M360.9 189.3l1.6 0 .8 .8 .1 2.4 .5 .2-.3 1.5-.3 1.6 2.2 1.6-.2 2.4-.8 1.8-1.4-1.3-.1-2.9-2.1-.8 0-3.2 .5-2z"/>
<path d="M372.6 190.9l.1 3.3 .3 3.2-1.1 2.8-3.1 1.7-1.9 1.2-2.8 2.9-.3 1.1 .7 2.5 .4 3.2-3.2 2.1-.9 1 0 1.5-1.3-.1-.1-1.3-.2-1.6 .2-1.6-1.1-2.6 1.7-1.8 .6-2.1 .3-.8-.1-1.6 .1-1.6-.1-1.3-2.2-.8-1.8-1-.3-1 4.4-1.6 2.1 .8 .1 2.9 1.4 1.3 .8-1.8 .2-2.4-2.2-1.6 .3-1.6 .3-1.5 1.7 0 3.2-.5z"/>
<path d="M348.8 202.8l2.7 .3 2.8-2.5 .3-1.1 2.2-.3 1.8 1 2.2 .8 .1 1.3-.1 1.6 .1 1.6-.3 .8-.6 2.1-1.7 1.8-3-.3-2.2-1-.5-1.8-2.4-1.6-1.4-1.6z"/>
<path d="M348.8 202.8l0 1.1 1.4 1.6 2.4 1.6 .5 1.8 2.2 1-3.8 2.3-.3 1.1-2.1 2.3-3.9-.7-2 2.4-1.6 0-1.1-3.2 0-4.5 1.6 0 0-6 3.6-.5z"/>
<path d="M327.6 201.9l1.1 2.5 3.2 6 0 2.4 .8 4.1 2.3 3.4 1.6 .1 2.3 .3 1.6-.8 0-5.8 0-4.5 1.6 0 0-6 3.6-.5 3.1-.3-2.9-.4-3.8 .5-3.9-.8-7.1 0-1.6-.6z"/>
<path d="M335 220.3l1.3 3 1.5 3.3-.4 .8 .6 1.9 1.7 .8 .8 .2 3.2-1.1 3.1-.2 2.7 0 2-.8 2.4-1.6 2.3-2.4 1.6-2 1.6-1.8 .7-.6 .7-2.4-1.3-.1-.6 .9-1.1-.2-.3-.7 .9-1.6 1 .3-.2-1.6 .2-1.6-1.1-2.6-3-.3-3.8 2.3-.3 1.1-2.1 2.3-3.9-.7-2 2.4-1.6 0-1.1-3.2 0 5.8-1.6 .8-2.3-.3z"/>
<path d="M357.5 217.3l.9-1.6 1 .3 .1 1.3-.6 .9-1.1-.2z"/>
<path d="M351.5 221.9l.9-1.3 1.6-.3 1.3 1.1-.3 1.6-1.6 .7-1.4-.7z"/>
<path d="M386.5 193.4l1.9 5.6-1.1 2.5-.5 1.6-1.5 4.8-1.6 4.9-.8 1.6-2.3 .8-2.4-.8-1.1-4 1.9-4.1-.8-4 .8-2.1 3.1-.9 2.4-3.5z"/>
<path d="M365.5 115.7l.5 0 .7-.5 .5-.8 3.2 0 3.1-.6 2-.2-1.5 1.1-.2 2.5-.3 .9-3.5 1.7-3.1 1.7-1.6-.6-.1-1 1.4-1.4-1-.7z"/>
<path d="M364.2 120.2l1-.3 1.4-1.4-1-.7-.7 1.1z"/>
<path d="M362.8 123.2l1.1 2.9 .8-2.5 .2-.8 .1-1.9 .3 0-.1-1-1 .3-.6 1.8z"/>
<path d="M363.9 126.1l1.7 .5 2.4-1.3 .8-.8-1.6-1.7 3.2-.8 .3-.5-.7-1.7-3.1 1.7-1.6-.6-.3 0-.1 1.9-.2 .8z"/>
<path d="M375.5 113.6l4 0 1.1 1.9 .7 1.5-.7 1.8 .7 1.6 2.4 1.1 .5 2.1 .3 .9 .8 .9-1.3-.3-1.9 1.6-2.8-.1-4.2-3.1-2.5-1.3-1.9-.7-.7-1.7 3.5-1.7 .3-.9 .2-2.5z"/>
<path d="M382.1 126.7l1.9-1.6 .5 1 .6 1.6-1.4 0z"/>
<path d="M363.9 126.1l1.7 .5 2.4-1.3 .8-.8-1.6-1.7 3.2-.8 .3-.5 1.9 .7 2.5 1.3 4.2 3.1 2.8 .1 1.6 1 1.4 0 1 1.6 1.5 1.3 .3 1.6 1 1.5 .6 .3 .6 .7 1.6 2.1 4.1 .3 .8 1.1-1.1 3.3-4.7 1.6-4.7 .6-3.2 2.6-.8-.3-3.9-.3-1.1-.2-.8 1.8-.5-1.8-1.5-2.4-2.4-2.1-1.4-2-.9-3.2-1.9-2.4-1.3-2.5-1.5-2.4-1.5-.2z"/>
<path d="M376.3 147.3l.8-1.8 1.1 .2 3.9 .3 .8 .3 3.2-2.6 4.7-.6 1.7 3.8-1.4 1.7-5 2.6-2.4 .7-3.9 1.3-2.4 .3-.5-1.2-.6-2.7zM392.8 153.5l1.9 0-1.1 .5z"/>
<path d="M392.5 146.9l-1.7-3.8 4.7-1.6 1.1-3.3-.8-1.1 .9-2.4 1-1.2 .9 1.7 2.4 .4 2 1.8-.5 1.6-1.5 1.8-1.1 2.3-2.1 1.6-2.3 1.6zM397.2 131.6l.5-.3 0 .9z"/>
<path d="M390.1 134.7l1.6 2.1 4.1 .3 .9-2.4 1-1.2-.3-1.4-1.4 .8-1.5 1.4-2.9 .4z"/>
<path d="M388.9 133.7l.6 .3 .6-1.4-.4-1-.8 1z"/>
<path d="M404.7 125.5l2.6 .7 2.3-.1 3.6-.7 .2-1.8 2-.6 2.5-.8 .4-2 1.2-.4 1.3-1.2 .8-1.9-.7-1.3 2.9-1.3 2.9-.6-2.5-.2-2.6 .9-.2-1.7-2-.2-.4 .8-3.1 .8-.3-.3-2.1-.2-1.4 0-1.7 1.7-2.4 1.4-1.1 .2-1.7-.5-1.1 3.1 .2 .9 .3 2.6 1.4 .2 .2 1z"/>
<path d="M449 138.6l-.3-2-.3-2.1-.9-1 .4-2.2 1.8 .5 .4 1.1 4 .3-.2 1.3-1.4 .5-.2 .8 .7 1 1.5 1.6-.4 1.9-.5-1.6-.5-1.3-1.9 .4-.7 .6z"/>
<path d="M448.7 129.6l1.3 1 3.6-.1 .2-1.7-.8 0-2.9-.6z"/>
<path d="M434.9 127.2l.5-1.4 .9-.9 2.4 .4 2.3 1.3 3.2 1.9 3.3 .2 0 2.4-3.3-.3-2.4-1.2-1.9-.1-3.6-1.5z"/>
<path d="M434.6 158l2 2.1 1.1 2.5-.9 1.2-1.7 .4-.7-2.5 .2-2.4z"/>
<path d="M454.1 140.3l.4-1.9 .7-.2 .6-1.7-.2-1.5 2.2-.3-.1-1.3 .9-1.8 2.8-1.6 .5-1.8 1.6 1 .6 2.7-1.7 1.8 .3 1.5 1.9 1.3 .5 1.6 1.4 .9 1.5 .5-1.7 1.5-2.5 1-1.3 1.9 1.5 3.7-.7 1.7 1.6 2.4 0 2.7-.8 3-.3-2.1 .3-1.6-.1-1.7-1-1.6 .2-1-.5-1.4-1.3-1.7-.7 .9-1.9 1.1-1.6-.3 .5-1.4-.2-1.1-.5-2.1-1.1-1.6z"/>
<path d="M464.1 157.4l.8-3 0-2.7-1.6-2.4 .7-1.7-1.5-3.7 1.3-1.9 2.5-1 .6 1.3 1.1 0-.3 2.4 .3 .8 1.5-.9 .9 .3 2-.7 1.3 1.5 0 1.8 1.3 1-.2 1.9-.5 .3-3.1 0-1.1 1.2 .6 2.9-1.4-1.2-1.6-.3-.1-1.3-1.4 .2 .3 .8-.3 1.4-.5 1.6-.8 .9 .2 1.9 1.5 1.3 .3 2 1.6 .6 1 1.1-1.6 .9-1.4-1.3-.8 0-.9-1.1-.2-1-1.1-.4 0-1.6z"/>
<path d="M466.3 141l1.7-1.5 1 0 .6-1.9 0 1.4 1.3 1.2 2.2 .5 .8 .8-1.5 .8 1.9 1.9 .5 1 1.9 2.1 1.2 2 0 .8-2.3 .5-1.3 .1 .5-.3 .2-1.9-1.3-1 0-1.8-1.3-1.5-2 .7-.9-.3-1.5 .9-.3-.8 .3-2.4-1.1 0z"/>
<path d="M469.6 137.6l1.3-.2 3.6-1.3 2.2 .8 2 2.1-2 1.2-.3 1.6-1.3 1.3 .5 1.3 .8 .6 1 1 .5 1 1.3 1 .2 1.1 .7 1.4 .7 1 .3 1.3-.3 1.6-.5 1-1.1 1-1.6 .6-.9 .7-.3 1-1.1 1-1 .1-.6 .2-.2-1.5 .5-.8-.8-.7 1-.8 1.5-.1-.1-1.2 2.3-.9 0-3.9 0-.8-1.2-2-1.9-2.1-.5-1-1.9-1.9 1.5-.8-.8-.8-2.2-.5-1.3-1.2z"/>
<path d="M470.7 154.8l-.6-2.9 1.1-1.2 3.1 0 1.3-.1 2.3-.5 0 3.9-2.3 .9 .1 1.2-1.5 .1-1 .8-1.4-.1-.8-.8z"/>
<path d="M466.5 163.4l1.4 1.3 1.6-.9 2 2.3 0 2.1 .8 1.3 .3 1 .2 1.1-1.1 .2-1.2-1.1-1.4-.8-.9-.7-1-1.1-.1-1-.5-2.1zM481.2 170.7l2.9-.7 1.4-.7 1.1-.6 1.7-2.3 1.6 .5 .3-1.1 .3-.5 .3-.8 1.1-.9 .5-1 1.6 .9 .6 1.1 1.7 .9-1.1 1.1-.8 .3-.6 .2-2.5-.2-.8 2.1-1.4 2.5-2.5 .1-3.2 .7-.8 .1-1.2-1.1z"/>
<path d="M488.3 166.4l1.9-.6-.3 1.1z"/>
<path d="M505.4 188.5l3.2-1 .3 .3-3.5 1.7z"/>
<path d="M530.6 178.1l2.3 1 1.3 .5 1.8 .5 .8 1 .5 1.1 .8 .5 1.6 .7 1.1 .2 .4 1.2-1.2 .4 .7 .7 .8 1 1 .9 .2 .8 1.2 .7 .9 1.2 1.1 .1-1.5 .3-1.1 .1-1.8-.7-1.5-1-.2-1.1-1.4-1.3-1.3-.7-1.1 0-1.5 1.2-.8 1.3-3.1 0zM542.2 182.8l1.4 .2 1.1-.2 1.2-1.5 1.1-.6 1.3 .2-.5 1.6-1.1 .9-1 .4-1 .3-1.3-.4-1.2-.4zM545.9 178.1l.8 .8 .6 .8 1.3 .4 .8 1.4-.3-.6-1.1-1.5-1.4-.5zM552.1 182.8l1.7 2-.8 .1zM539.3 177.1l1.1 0-.4 .5z"/>
<path d="M498.5 143.9l1.4 .5 1.1-.3 .4 1.2-.2 1.9-1.1 1.1 .2 1.5-.1 .9 2.1 .7 .5 1.1 1.1 1-1.1-.7-1.3-.9-1.9 0-1.1-1.2-.8-.8 .4-1-.7-1.4 .8-.5 0-1.5zM500.7 162.6l.2-1.3 1.5-.6 .7-.9 2-.3 1.1-1.5 .2 1.5 1.2 .2 .2 1.2-.7 1.8 .4 1-1.4 1 .4-2.1-1.6 .3-.7 .9-.3-2.1-1.9 .7zM504.3 153.6l1.9 .4 .3 2.1-1.1-.5-.6-.7zM500.7 154.8l1.6 .5-1 .7-.6 .9zM502.3 156.2l-.2 1.5 .7 1.3-1.3-1zM504.6 155.6l.8 1.8-.3 .1zM493.2 160.3l.7-.9 1.1-.9 .5-.7 .3-1.4 1-.8-.3 1.3-.7 1.1-.8 .8-1.4 1zM498.2 152.2l1.6 .3-.3 1.5-.7-.5zM502.9 156.2l1-.5 .1 1.3-.8 1.3z"/>
<path d="M499.9 132.9l.8 .5-.8 2.4-.9 2.4-1.1-1.1 0-1.8 1.2-1.9z"/>
<path d="M447 94.1l.3-1.2 2.7 0 3.6-1.3 4.7 1.3 4.7-.9 .5-2.4 5.8 1 .3 1.4 6 .4 3.9 1.4 3.9 0 4.7-1.3 4.3 .7-1.7 3.1 .6 .1 2.8 .2 1.1-.3 2.2 1.4-.3 .5-3.5 .2-1.5 .4-1.6 1.3-2.4 .9-3.1 0-.2 2.1-1.4 .3-2.3 1.6-3.9 .2-3.2 1.3-5-1.5-2.8-.2-5.9-.3-1.5-2.2-2.9-1.2-4-.6 .1-2-1.5-2.1-3.2-1.4z"/>
<path d="M386.4 98.7l-1.1-1-2.4-1.6-.8-.8 1.6-2.9 1.9-.5 3.3-1.8 3.4 .3 3.2 1.3 4.7-.5 5.5 .4-2.4-2 1.6-3.1 6.3-.8 6.3-1.4 3.1 1.7 3.9 .4 4.7-.4 2.1 1.5 3.4 4.1 4.8-.4 3.1 2.3 3.6 .6-2.5 1.3-.3 2.3-3.9-.3-.8 3.1-3.3 .5 .6 2.9-.9 .3 0 1.5-1.9-1.2-4.7-.1-2.4-.5-1.6 1.1-3.9-.2-.1 .5-1 .7-2 1-1.6 .8-2.4-.7-.7-2.7-6.3-1-1.6-1.3-3.9-2-3.9 .9 0 6-1.9-1.2-2.9-.3-.7 .8 .4-1.8-2.5-.6-1.4-1.8 1.6-1.6 2.6 0 0-2.5-2.8-.4z"/>
<path d="M397.1 107l0-6 3.9-.9 3.9 2 1.6 1.3 6.3 1 .7 2.7 2.4 .7 1.6-.8 2-1 1-.7 1.2 1.3 2.1 1.2-2.1 .9-1.9-.1 0-.8-2.3 .9-.8 1.2-1.6 .3 1.3 1.8-.8 1.6-2.1-.2 0-1.1-3.4-1.5-2.8-1.7-1-2-2.8-.3-.2-1.3-2.3-.8-2.1 1.1-.3 1.2z"/>
<path d="M391.6 106.3l.7-.8 2.9 .3 1.9 1.2 1.5 0 .3-1.2 2.1-1.1 2.3 .8 .2 1.3 2.8 .3 1 2 2.8 1.7 3.4 1.5 0 1.1-1.4 0-1.7 1.7-2.4 1.4-1.1 .2-1.7-.5 0-1.6-1.4-.2-2-1.3-2.7-1.1-2 .1-1.9 1.2-1.4 .1-.2-2.6-1.3-.9 .8-2.1-1.1-.7z"/>
<path d="M415.6 113.6l.3 .3 3.1-.8 .4-.8 2 .2 .2 1.7 2.6-.9 2.5 .2-.1-2-1.6-.2-.1-1.4-2.7 .1-2.4-.3-1.9-.5 1.9-.6 0-.8-2.3 .9-.8 1.2-1.6 .3 1.3 1.8z"/>
<path d="M504.3 109.2l2.7-1.6 1.4-1.5 2.2 .5-.5-.8 2.4-.6 .6-.8 1.1 .8-1.4 1.8 0 .8-1.5 .5-1.2 .3-.8 .8 0 1 1.5 .9-2.2 .5-.5 .8-2.2 .2-.9-.7 .9-2.2z"/>
<path d="M508.1 112.6l.5-.8 2.2-.5 1.5 2.6-.1 1.2 .3 1.3-1.6 .9-1.6 .4-1.8 .3 .3-2.1-.5-1.7zM507.3 119.6l1.1 0-.6 .5z"/>
<path d="M530.4 106.6l.9 1.6 .8 1.7-.5 1-1 1.1-.2 2.1-.2 1.9-1.5 1.2-1.6 .5-1.7 .4-1.1-.3-.3 .5-1.6 1.3-1.3-1.8-1.3 .5-1.8 0-1.6 .6-1.6-.1-.1-.5 1.4-.5 1.1-1.3 .9 0 1.5-.1 1.4-.4 1.7 0 .2-1.2 1.1-1.4 .7-.3-.4 1.1 1.3-.6 1-.3 .8-.6 .8-1.2 .6-1.3 .2-.8 0-1.3 .5-1zM529 106.6l.5-1.3-.8-.5 1.1-1.1 .8-1.1-.2-1 1.1-1.3 1.3 .6 .9 1.2 1.5-.2 .9-.1 1.2 .3 .3 1.6-.7 .8-1.8 .4-.6 .9-.5 0-1 0-1.3-1-1.3 .2 .2 1.3zM513.3 119.6l1.5-.7 1.5 1.2-.1 1-.6 1.4-1.2 1.1-.8-.4 0-2-.8-.8zM517.2 118.8l1.2 .2 1.9-.5-.4 1.4-1.9 .8-1.1-.8zM509.7 131.4l.9-.9-.5 .8zM512.2 128l.6-.3-.3 .6zM513.9 124.6l.5 0-.3 .3z"/>
<path d="M532.9 191.2l2.1 5.9 2.3 1.1 1.1 5.7 3.9 2.4 3.6 4.6 3.5 4.3 .8 4.4-.8 4.6-2.4 4-2.3 4.9-.2 1.6-3.7 .8-1.8 1.8-2.6-1.3-1.9 .8-4.3-1.3-2-3.2-2.4-.9-.3-4-.4 3.2-2.4-.3-1.6-2.1-1.5-1.3-4.8-1.9-3.1 .3-4.7 1-3.1 1.1-.8 1.5-5.5 0-3.2 1.7-4.4-1.1 .8-3.7-1.9-4.9-1.5-4.9 .3-5.6 .8-1.2 3.9-2.1 3.6-.8 3.9-.8 1.3-3.2 2.7-2.1 2.3-2.8 2.4-.8 2.3 1.5 1.9-.2 .5-2.9 1.5-1.3 2.4-1.2 3.9 1.2 2.9 0-1.3 2.1-.8 2.4 3.2 1.6 3.1 2.5 2-.4 1.1-3.7 .2-4zM536.4 239.9l2.8 .6 2.8-.3-.1 2.1-1.1 1.8-2.4 .5-1.3-1.8zM523.6 231.6l2.2 .3-1.1 .4zM513.7 192.4l1.6-.2-.8 .8z"/>
<path d="M580.3 229.7l1.3 1.3 1.3 .4 .7 .9 1.1 .8 .8 1.7 1.2 .2 2-.2 .8 .2-.4 1.5-.7 .9-1.3 .5-.8 1-.3 1.5-1.6 .9-.9-.5 .5-2.1-1.9-1.1 .9-1 .3-1.1 .2-1.6-.9-.7-.6-1.2-.9-1.4zM580.3 239.6l1.3 .1 1.3 1-.5 1.1-.9 .7-.7 1.4-.3 1-1.4 .5-1 .3-.3 1.7-.4 .9-1.2 .4-.9 .7-1.9-.1-1.5 0-1.3-.8 .8-1.7 1.2-.4 1.1-1.2 1.3-.7 .8 0 1.1-.9 1-1 .6-.9 1.1-1.7zM572.3 249.8l1 .1-.7 .5z"/>
<path d="M587.6 202.3l1.9-.2 0 1.3-1.8-.2zM589.8 201l2-.8-.8 .9z"/>
</g>
<g fill="#8A4198">
<path d="M115.9 94.5l43.7 0 .9 .5 4.1 .6 3.9 .5 1.8-.5 5.6 2.4 .5 .5 1.6 .8 0 .4 1.5 .8 .2 3.7-.2 .6-.9 .7 .9 .8 5.5-1.8 .2-.8-.5-.3 3.8-.2 .8-.9 2.5-1.3 5 0 1.1-.5 1.3-2.3 1.2-1.1 1.4 .1 .8 .4 0 2.2 1.3 1.3-3.2 1.5-1.9 .6-.7 1.5 1.1 1.4-1.4 .2-1 .5-1.6 .4-.8 .3-1.5 .4 0 1.6-1.6 1.3-.8-.9 .6 1.9-.9 .7-.5 1.4 .3 .8 .5 2-1.4 .4-.9 .7-1.6 1.1-1.9 1.2-2.8 1.9-.6 2.1 1.4 3.6 .7 2.8-.3 2.4-1.4 .3-1.1-1.8-1.4-2.4-.1-2.1-1.8-1.6-2.2 .5-1.9-1.2-2.3 .2-1.9 0-.5 1.6 .5 .3-2-.1-1.6-.7-3.6-.1-1.6 .6-2.7 1.6-1.2 1.6 .1 2.2-2.9-.7-.7-1.8-1.5-1.9-1.5-1.8-2 .2-.8 1.1-2-1-.8-1.8-2.4-1.7-2.6 0 0 .7-4.5 0-5.9-1.9-3.6 0-2.1-2.3-3.4-.9-2.1-3.4-.9-2-2-2.7-.8-1.5 .3-2.6-.6-1.4 .7-3 0-2.6-1.3-.9 1.6-1.8-1.4-.7 1.3-.5 1.4 .9 .8 1.1-.3-1-.2-1.4zM87.6 61.1l-4.7-.7-6.3-.6-6.2-.8-7.3-.7-3.7 .8-4.7 1-2.4 1.5-4.7 1.4 3.9 1.3 3.2 1.3-3.2 .5-6.3 1.5 3.2 1.7 4.7 0 3.1-.4 0 2.1-5.5 .8-2.3 2.2 .1 1.4 1.4 .4 1.1 .4 1.4 .5 1.5-.1 .8 1.7 1.4 1.3 1.7-.9 1.2 .7 1.6-1.7 1.1 1 .7 1.2-1.5 1.1-1.1-.2-.5 1.6-1.4 .1-.9 .6-.4 1.1-1.7-1.2-1 1.3-1.4 .9-.6 .6-1.8-.4 1.4-.6 1.6 .3 2.2 .3 .9-1.1 1.1-1.4 2 1.6 .9-1.4 .6-1.4 1.6-.2 1.2-.2 .9-1.1 1.3 .5 1-1.3 1.6-.6 .4-1.7 .2-1.6 1.4-.2 1.5-1.2 1.6 .6-.9 .6-.2 1.7-1.2 .8 1.2 0 1.2-.4 1.5-.8 1.4 0 .6-.5 1.1-.9 1.4-.6 1.8 1.4 1.3 .6 .8 .2 1.2-1.1 1.4 .9 1.4 1.2 1.7-.7 1.1 1.2 1.2-.7 .9 .7 1.1 1.6 1.2-.5 .8 1.4 1.6 .7 .4 1.4 .9 .9 1 .1 1.4-.2 1.8 1 2.3 .5 0-2.1-3.1-1.6-2.4-2.4-3.1-2-3.2 1.2-2.3-1.7-3.2-.4zM66.4 80.7l2.2-.2 1-.6 .3 1.1-1.3 .2-1.4 .6zM39.7 70.6l4 .7-1.6 .5-2.7-.5zM46.8 76.3l2 0-.4 .7zM49.6 85.4l-.8 .1-.8 .6 .8 .1zM47.4 86l-.8 0-.8 .6 .8 0zM45.2 86.4l-.8 0-.8 .6 .8 0zM43 86.8l-.8 0-.8 .6 .8 .1zM40.8 87.2l-.8 0-.8 .6 .8 .1zM38.6 87.6l-.8 0-.8 .6 .8 .1zM36.4 88l-.8 .1-.8 .6 .8 0zM34.2 88.5l-.8 0-.8 .6 .8 .1zM32 89l-.8 0-.8 .6 .8 .1zM29.8 89.5l-.8 0-.8 .6 .8 .1zM27.6 90l-.8 0-.8 .7 .8 0zM580 88.1l1.6-.1-.8 .5zM589.5 89.8l1.8-.4-1.1 .9zM587.1 89.6l1.3-.2-.7 .5zM27.2 90.4l1.5-.3-.7 .6zM64.1 141.2l1.9 1.1-1.3 1-.6-1.2zM60.6 138.9l.8 .5-.6 0z"/>
</g>
<g fill="#5A9599">
<path d="M125.2 121.2l3.6 0 5.9 1.9 4.5 0 0-.7 2.6 0 2.4 1.7 .8 1.8 2 1 .8-1.1 2-.2 1.5 1.8 1.5 1.9 .7 1.8 2.9 .7-.7 3.2-.2 2.8 .9 2.5 1.4 2.3 2.1 1.1 .8 .7 3.1-.7 1.6 .2 1.2-1.3 .5-2.4 3-1.2 2.4 0 .3 1.2-1.1 2.1-.5 1.9-.8-.3-1.3 1.1-2.9 0 0 1 .9 1.3-1.7 .5-1.1 1.3 0 1.2-2.5-2.3-1.6-.4-2.7 .9-3.1-1-2.4-1.2-2.8-1.4-2.7-.8-2.3-1.8-1-1.6 .5-1.7-1.1-2.4-2.3-2.4-2.4-1.8-.8-1.8-1.6-1.3-1.5-1.6-1.6-2.1-1.1-2-2.3-1.1-.2 1.1 1.2 2.2 1.6 1.9 1.6 2.4 1.6 2.5 1.1 2.1 1.2 1.6-.8 .5-1.2-1.5-2.2-1.6 0-1.9-2.1-1.3-2.3-1.7 1.2-1.1-2.3-2.4-1.6-2.5z"/>
<path d="M416.2 135.5l.5 .8 2.3 .8-1.5 .7 2 2.2 1.9 .2 1.1-.5 .8-1.1 .1 2.9 0 1.6 .8 3.2 .8 2.5 1.3 3.2 1.1 2.8 1.4 2.9 .6 1.8 1.4 1.3 1.1-1.3 1.3-.7 1.2-1.6 0-1.9 .8-2.8-.3-3.2 1.4-1 2.1-1.3 1.8-2 2.4-2.5 2.8-1.8 .3-1.7 1.9-.1 1.4-.3-.3-2-.3-2.1-.9-1 .4-2.2 1.8 .5 .4 1.1 4 .3-.2 1.3-1.4 .5-.2 .8 .7 1 1.5 1.6 .7-.2 .6-1.7-.2-1.5 2.2-.3-.1-1.3 .9-1.8 2.8-1.6 .5-1.8-1.7-1.8-1.9 .2-2.4 .8-2.1 1.4-.2 1.7-3.6 .1-1.3-1-.1-1.1-1.1 .2 0 2.4-3.3-.3-2.4-1.2-1.9-.1-3.6-1.5-1.4-.8 .5-1.4 .9-.9-2.3-1.3-1.1-.3-.7-2.1 1.3 0-.5-2.9-1.4-1.9-.3 0-1.3 .8-3.1 .6-1.9 .5 .8 2.1 1.7 1.1-1.4 2.1-1.7 1.8-.8 1.5-1.6 1.8-2.3-.2-.7 2.4 1.6 3.1-3.4 .5zM454.7 152l.5 .3-.2 2.8-.6-.3zM456.3 162.2l.3 .4-.2 .3z"/>
</g>
<g fill="#FFFFFF">
<path d="M203.6 143.9l2.3 .2-.1 .6-2.2 0z"/>
<path d="M224.3 164.5l1.7 .6 1.9 2-1.3 2.6-.7 .6-2.4-.1 .8-2.1-.8-2.1z"/>
<path d="M199.9 202.3l.8-2.1-.9-1.5 .9-1.3 .2-2.9-1-2.8 1.6 0 3.2-1.9 1.8 0 0 2.7 1.5 1.5 2.5 1 2.8 .8 1.1 1.6 .1 2.9 3 0-.1 1.5 1.2 1.3-.3 1.6-.6 1.3-1.4-.8-4.1 .5-1.4 4.2-1.7-.3-1 1.3-1.4-1.2-1.7-.5-1.4 1.7-1.1 0-.5-2.1-1-2.3 .5-1.2-.8-.6-.1-1.3z"/>
<path d="M313.1 91.1l-1.5 .3-.1 1.3-1.1-.3-1 1.1-.9 .6-1.3-.3-.6-.5 0 1.7-2.2-.2-2.7 .6 .6 1 2.9 .8 2 1.8 .2 1.1-.3 1.7-.8 1.7 2 1 1.9 0 1.6 .5 2.3 .2-.3-1.3 1.6-.5 2 .3 1.9 .3 1.6-1.1-.8-.8 0-1.5-.3-1.1-1.1-.5 1.4-2.1 .9-.2 1-2.2-2.9-.8-.9 0-1.6-.8-.9-.4zM322.6 105.2l1.3-1 .1 1.6-.5 1-.7-.5z"/>
<path d="M300.1 92.7l1.2 .1 1.2-.6 1.1-.3 1.3-.7 1.1 .7 .8-.7 1.5 .1 .8 .3 .6-.9 1.6 .2-1.1-.5 1.1-.5 .5-1.3-1.1 .3-1.1-.9-.3-1-1.2-.2-.3-1.2-1.1-1.2-.7-1.1-1.6-.2 1.3-.5 .1-1.1 .5-.8-.9-.8-1.8 .5-.8 .1 .6-.5 .8-1.1-1.6 .4-1.4-.4-.9 .6-.3 1.2 .1 1.6 .4 1.8 1.1-.2-.2 1.2 1.3-.5 .9 .3 .8 1.5 0 .9-1.3 .8-1.1-.6 .3 .8 .5 .5-1.1 .4-.8 .6 1.6 .5 1.9 .3-1.9 .3-1.2 .2zM300.5 85.9l-.8-1.5-2.1-.1-1.4 1.1 1.4 .8 1.8 .2zM297.3 80.7l.8-.9 1.3-.6-.2 1.2zM306.6 75.8l1.1-.1-.6 1.1zM303.9 78.1l1.1-.2-.6 .7z"/>
<path d="M340.5 109.5l1.1-.8 .5-.9 1.6-.5 1.5-.3 2.4-.4 2.3-.3 1 .7-1 .9-2.6-.1-.5 1.3-1.9-.7 0 1.5 .6 .8 .3 .9 1 .7-1.3 .2 .4 .9-.4 1.3-.6 .2-1.7-.7-.8-1.7 .9-.7-1.2-.3-1.1-1.5zM346 116.4l1.1-.2 .9 .6 1.2 .3 1.2-.4-.2 .5-.8 .1-1.3-.5-1.1 .5-.8-.5zM349.9 110.2l1 .2-.5 .4zM352.8 114.9l.6 0-.5 .8zM345.7 110.8l1.6 .9 .3 .6-.8-.7zM349.8 111.5l.4 .2-.3 .3z"/>
<path d="M349.9 107.9l1-.9-1-.7 3.2-.5 1.5 1.3 4-.1 3.1-1.2 2.4-.1 2.3 1.3 3.2 .6 3.1-.2 1.6-.8 1.7-.1 1.4 .8 .3 1.4 1.8 .8-.8 1.2 0 1.6 .8 1.3-4 0-2 .2-3.1 .6-3.2 0-.5 .8-.7 .5-.4-1.3-1.5 .2-2.1 .6-1.9 .2-2.9-1.2-1.6 1-1.2-.2-1.3-.6-1.1-.5 .1-1.2-.1-1.2-1-1.3-.8-1.1z"/>
<path d="M328.3 183.5l.4-1.3 1-.8 2 .3 1.4-.8 1.4-3.4 2.4-2.8 .5-4 .9-2.5 0-1.3 2.2-.3 3.9 .7 2.4-1.5 2-.2 3.3 0 1.8 1.3 2.3-.3 1.3 1.6 .8 2.1-2.2 2.3-.4 2.1-.1 1.5-.6 .3-.4 1.8 .4 1.3 .3 1.6 .1 3.2 2.1 3-3 .3-.8 1.3 .3 1.9-.3 2.1 2.2 .7 0 1.9-1.3 0-2.3-1.8-3.2-.9-1.7-.5-.6-.8-.2 .1-2.6 .4-.3-2-.4-.8 0-3.6-2.8-.5-.8 1.7-3.1 .1-1.4-3.5-4.9 0z"/>
<path d="M304.2 165.6l-3-.1-1.5 .6-2.4 .7-.1-1.8-1.5-1.6 .4-1.8 .7-1.5-.6-1.6 .5-1.1 2.7-.7 1.1 .3 1.5 1.2 2.9 .3 .3 2.1-1.1 2.3z"/>
<path d="M420.5 105.3l.1-.5 3.9 .2 1.6-1.1 2.4 .5 4.7 .1 1.9 1.2-2.7 1.4-2.7 .5-1.9 .8-2.9 1.5-2.7 .1-2.4-.3-1.9-.5 1.9-.6 1.9 .1 2.1-.9-2.1-1.2z"/>
<path d="M566.7 206.6l3.9 2.6 .8 1-1.6-.6z"/>
<path style="stroke-width:.95" d="M26.6 310.7l1-.3 1.2-.7 .9-.1 1-.7 2 .5 .6-.4 1.4-.6 .9-.4 .8 .5 1.7 .4 1.3-.2 .7-.6 1.2 1 1.5 .1 .7 .4 1.5-.3 1.4 0 .5 .1 1.5-.2 1 .2 .8 .4 1.8-.2 .7 .8 1.4-.2 1 .5 .9-.1-1.1-.4-.1-1.6-.8-.8-.9-.9-1.1-.4 1-.7 2 0-1.2 .1-1-1.5-1.3 .1 1.3-.1 1-.9 1.1 0 1 .6 1.1-.5-.7-1-1.5-.1-.8-.5 1.4 .4 .8-.1 1.3-.6 1.4-.2 1.1 .3-.9-.4-1.1-1.1 1.5-.4 .7 1.1 1.2-.1 1.4-.9 1.2 .6-1-1.6 1.4-.2 1.1 1.1 1.1-.3 1.4 .2 1.3 0 1.4-.6 1.4-.1 1.7-.7 .7-.7 1.5-.4 1.6-.1 1.6-.6 2-.1 1.5 0 1.2-.1 1.6-.4 1.6-.2 1.2-.1 1.7-.1 2-.2 1.5-.4 1.2 .4 1.6-.7 1.9 0 1.5 0 1.7-.8 1 .4 1.6-.5 1.6 0 1.2-.1 1.9-.2 1-.1 1.5-.4 1.9 .2 1.7 .3 1.2 .1 1.9-.2 1.2 0 1.9-.2 1.8 .2 1.4 .5 1.8 .2 1.9-.1 1.7 .2 1.2 .1 2.2 1.5 1.2 .3 2.1 0 1-.1 1.8 0 1.5-.3 1.1 .1 1.3-.1 1.6-.2 1.4 .6 1.5-.3 1.3 .4 1.5-.2 2.2-1-1.3-1.2-.6-.4-1.6-.9 2.6-.8 1.6-.2 1.4-.2 1.6 .2 1.9-.4 1.4 .4 1.8 .1 1.7 .4 2.1 .4 .8-.3 2.5 .2 1.4 .1 1.8 .2 1.8-.1 .7-.3 1.9 .1 1.5 .3 1.5 .1 2.2 0 1.7-.1 2.1-.2 1-.8 .9-.6 1.1 .4 1.4-.3 1.5-1.2 1.1-.3-1.5-1 1.2 .5 1.3-.1 1.6-.5 1.2-1.3 .2-1.2 1.9-.2 1.1-.5-.9-1.3 .4-1 1.3 .2 1.4-.7 1.2-.6 .9-1.2 .7-.9 1.4 .1 .7-.9 1.4 .6 1.6 0 1.1-.9 .6-1 1.2-1.1 1.5-.6 .9 .1 1.4 .4 1.2-.4 1-1.5 1.5-.2 .7-.1 1.5-.9 1.3 .2-.9 .8-.8 1-.7 .4-1.6 .2-.7 1.2-1.4 0-.9 .6-1.3 .3-1.2 .9-1.1 .4-1.4 1.2-.9 1.6 1.6 1.4 1.1 .4 .3 1.2 .6 1 .9 .9 .6 1.6-.9 1.2 .7 1.2-.3 1.4-1.7 1-1.5-.1-1 1.1-1.3 1.2-1.6-.1-.9 .6-1.9 .1-.5 .2-1.3 1-1.6 .6-1.6 .8-1.5-.1-2.6 .5-1.4 .1-1.2-.1-1.6 .7-2.1 .2-1.4 0-2 .3-1.1-.2-1.2 .6-1.7 0-2 0 1.5 .5 2.5 .6 1.9-.1 1.2 .1 1.5 .3 1.8-.4 1.4 .2 1.8 0 1.4-.3 1.6-.1 1.3 .6 1.9-.4 1.7 .4 1.5 2.2 1.6 1.1 1.2 .3 1.1 .3 1.8 .7 1.3 .1 1.9 .8 1.2 .7 1.3 1 2.1-.2 1.5-.7 1.6-.6 1.8-.3 1.6-.4 1.7-.1 .7 .2 2-.7 .8 0 1.8 .1 1.1 0 2 0 1.5 .6 1.6-.4 1.1 .3 1.8-.7 1.6-.1 2-.4 1.3-.6 1.7-.5 1.4-.4 1.1-.3 2.4-.4 1.1-.2 1.8 .1 1.3-.3 1 0 1.5 .3 1.9 .1 .9-.2 1.9-.1 1.4 .2 1.5 0 2.1-.5 1.5 .1 1.1-.2 2.1 .2-1.9-.1-1.2-.1-1.6-.3-1.5-.3-1.6-.2-1.9 .1-1.8-.4-1.3-.3-1.7-.1-.8-.1-1.9 0 1.1-.3 2.1-.7 .8-.8 1.5-.3 1.5-.2 1.1-.7 2.2-.1 1.2-.5 1.4-.1 1.4-.2 2.1-.3 1.1 .2 1.9-.1 2.1-.7 1.5-.2 .9-.4 1.3-1.5 1.3-.7 1.1-.5 1.4-.7 1.5-.3 1.3-.5 1.2-1.4 1.4-.5 1.7-.3 1.6 .4 1-.6 1.8 .2 1.9 .1 1.6-.6 1.5 0 1.8-.2 1.8 0 1.1-.3 1.7-.2 1.4-.3 1.1 0 1.6 0 1.5 0 1.8-.2 .7-.1 1.4 .2 1.8-.1 1.6-.2 1.1 .4 1.1-.2 1.8-.1 1.7 .1 .8 .3 1.6 .1 2.1-.4 .8 .1 1.4 .5 2 0 1.5 .1 1.1 .1 1.7-.1 1.1 .2 1.7-.1 1.7-.3 1.2 .1 .9 .2 1.9 0 1 .1 1.4-.2 1.5 0 1.6 .3 1.3-.5 1.7-.6 2-.5 1.4-.4 1.6-.8 2-1.2 1.6 .6 1.9 .9 1.6 .1 2.1 .5 1.3-.4 1.3-.7 1.7-.6 1.5-1 1-.5 1.9-.5 1.2 .1 1.6-.7 1.8-.5 1.2 .2 1.1-.2 1.4-.2 1.8-.6 1.2 .1 2-.3 1.3-.5 .7 0 1.8-.1 2.1 .5 1.2 .2 1.7 .7 1.5 .4 1.3-.3 2.1 .4 1.1 .2 1.1 .1 1.9 0 1.4 .5 1.5-.3 .9 .5 1.7 0 1.8 .1 .9 .7 1.5-.1-.8 1.4-.4 2.2-1.5 1.7-.7 1.2-.9 1.7 1.6-1.2 .9-.9 1.1-1 1.2-.5 1.8-1.6 1.5-.3 2-.7 1.3-.6 1.9-.4 .8-.7 1.2-.4 2.1-.6 1.2-.2 1.5-.4 1.7-.1 1.3-.5 1.4-.2 1.3-.1 1.3-.1 2.6-.2 1 .2 1.9-.3 1.8 0 1.1-.6 2-.1 1.2 .1 1.4-.1 1.1 .2 1.5-.3 2.2 .1 .8 .1 1.9-.2 1.8-.2 1.3-.2 2.3-.2 1.3 .1 1.6 0 1.8 .1 1.3 .5 1.2-.2 1.4 .4 1.1 .5 2 .2 1.4 .5 1.2 0 1.1-.8 1.8-.3 1.4-.9 1.1 .8 1.9 .9 1.3 .3 2.1 .2 1-.3 2.4 .2 1.2-.2 1.1-.1 1.8 .1 1.4-.2 2.3 0 1.1-.3 1 .1 2-.2 1.5-.1 1.2-.5 1.6 0 1.5 0 2 .2 1.9-.1 1.6-.1 1 .3 1.4 .1 1.6 0 1.4 0 1.6-.1 1.7-.1 1 .1 2 .7 .8-.2 1.8 .2 1.5 .8 2.2 .8 1.6 .8 1.9 .5 2.1-.2 1.6 .4 1.8-.3 1.8 0 1.1 0 1.2 .3 1.9 .1 1.3 .5 2 .8 1.7 .3 1.9 .6 1.5 .5 1.6 .2 1.9 .4 1 .1 1.6 .1 1.9 0 1.6 .1 1.3 .5 1.3-.2 1.6 .2 1.6 .4 1.2 .2-1.4 .8-1.4 .4-.9 .5-1.8 .7-1.5 .3-1.1 .4-1.8 .8-1.1 .5-1.7 .6-.9 .7 1.3 .2 1.4 .3 1.7 .6 1.2 .6 1.8 .5 1 .8 1.5 .9 1.6 .4-1.5 .5-1.4 .3-2.3 .2-1.1 .7-1.6 .2-1.1 .5-2.2 .4-1.5 .7-1.8 .5-1.3 .3 1.8 .9 1.1 .7 1.5 .5 1.4 .8 1.5 .4 1.1 .1 1.5 .4 1.6 .1 1.4 0 2.4 .3 1 0 1.6 .4 1.6 .3 1.6 .2 1.1 0 1.5 .5 1.6-.2 1 .3 1.2 .3 1.5-.1 2.1 0 1.1 .4zM224.5 302.3l1.1-1.1 1.4-.7 1.5 0 2-.3 .8-.6 1.7 0 1.8 .5 1 .2 1.5-.1 1.7 .4 2 1.9-1.6 1.4-1.4 .6-1.4-.1-1.7 .1-1.5 .3-1.4 .2-1.3-.3-1.8 0-1.9-.5-1.2-1.1zM195.8 281.8l1.4-.5-.6 .8zM198.8 280.3l1.4-.5-.6 .8zM202.3 277.6l1.4-.5-.6 .8zM205.3 276.3l1.4-.5-.6 .8zM208.8 274.3l1.4-.5-.6 .8zM211.3 273.1l1.4-.5-.6 .8zM192.3 285.8l1.4-.5-.6 .8zM189.3 288.3l1.4-.5-.6 .8zM186.8 296.8l1.4-.5-.6 .8zM190.3 295.6l1.4-.5-.6 .8zM199.8 283.8l1.4-.5-.6 .8zM204.8 279.3l1.4-.5-.6 .8zM213.8 274.8l1.4-.5-.6 .8z"/>
</g>
<g fill="#000000">
<path d="M185.8 130.6l1.6-.1-.8 .6zM186.1 133.4l1-.2-.2 1.5-.8-.4zM187.4 130.9l.8 .4-.2 .6zM188.9 133.1l.7 .1-.2 .8zM190.5 134.5l.5 .3-.3 .5zM193.3 139.7l1-.2-.3 .5z"/>
<path d="M213.3 257.4l4.7-.2-1.6 1.5-3.1-.5z"/>
<path d="M270.6 146.7l.8-.4-.3 .7zM271.9 149.3l.6-.2-.3 .6zM269.4 146.2l.4-.2-.1 .5z"/>
<path d="M376.9 192.5l.5 .2-.1 .7zM379.8 194.5l.4 .1-.3 .4z"/>
<path d="M399.3 206.3l.6 .3-.5 .5zM396 207.9l.7 .2-.4 .5z"/>
<path d="M319.3 173.4l.5 0-.3 .5z"/>
<path d="M554.7 184.8l1.9 .9-.9 .5zM559.6 188.8l2.2 1-1.4 .3zM561.3 187.4l1.3 1.7-.9-.3zM556.3 186.7l1.6 1.1-1.1 .4zM562.4 190.4l1.8 .8-1.1 .4zM557.9 185.9l2.3 1.6-1.4 0zM552.5 182.8l1.5 1.6-1 .5z"/>
<path d="M570.6 197.9l1.3 1.1-1 .5zM571.7 199.7l1.1 1.1-.9 .2zM573.1 202.3l.8 .5-.6 .3zM574.5 204.2l.7 .5-.7 .2zM575 205.3l.5 .5-.7 0zM572 196.1l.5 .5-.5 .2z"/>
<path style="stroke-width:.45" d="M39.6 195.9l-1.1-.2 .3 1zM75.1 202.2l-1.2-.1 .4 .9zM34.7 208.1l-1.1-.2 .4 .9zM36.3 204.1l-.8-.1 .2 .6zM32.8 195.3l-.8-.1 .3 .7zM29.8 196.9l-.8-.1 .3 .7zM167.3 174.5l-2.3-.4 .8 1.9zM168 174.6l-1.3-.2 .4 1.2zM169.1 175.2l-1.1-.2 .4 .9zM166 174.4l-1.1-.2 .4 .9zM59.3 137.9l-1.3-.1 .5 1zM63.1 139.5l-1.1-.2 .4 1zM64.3 139.9l-1.5-.2 .5 1.2zM32.5 245l-1.4-.2 .5 1.1zM39.7 178.8l-.8-.1 .3 .6zM40.6 188.7l-.7-.1 .2 .6zM59.2 167.9l-.9-.1 .4 .7zM62.5 170.6l-1.1-.2 .4 1zM57.6 166.2l-.7-.1 .2 .5zM91.3 189.6l-.9-.1 .3 .7zM89.6 188.1l-1-.1 .3 .8zM91.5 190.6l-.7-.1 .2 .6zM71.7 200.8l-1-.1 .4 .7zM81 201.8l-.8-.1 .3 .6zM88 203.3l-.7-.1 .3 .5zM95.6 208.6l-.7-.1 .2 .6zM84.1 200.5l-.7-.1 .3 .6zM77.7 198.1l-.7-.1 .2 .6zM97.6 211.2l-.7-.1 .3 .6zM74.7 211.7l-.7-.1 .2 .6zM71.7 210.3l-.7-.2 .2 .6zM106.9 213.7l-.7-.2 .2 .6zM137.9 217.7l-.8-.1 .3 .6zM135.2 143.3l-.8-.1 .3 .6zM123.7 126.7l-.8-.1 .3 .7zM58.6 208.1l-.8-.1 .2 .7zM42.8 204.5l-1-.1 .4 .8zM61.5 206.2l-.7-.1 .2 .6zM53.2 203.1l-.5-.1 .2 .5zM537.1 152l-1-.2 .3 .9zM538.4 149.3l-.9-.2 .3 .8zM538.5 144.4l-.7-.1 .2 .6zM538.3 146.7l-.7-.1 .3 .6zM520.9 161.6l-1-.2 .3 .9zM526.4 158.4l-.8-.2 .3 .7zM548 161.7l-.9-.1 .3 .8zM558.2 162.5l-1.1-.2 .4 1zM565.6 165.1l-.9-.1 .3 .8zM571.6 174.6l-.7-.1 .3 .6zM578.4 162.2l-.8-.1 .3 .7zM574.4 162l-.6-.2 .2 .6zM572.9 159.7l-.7-.1 .2 .5zM575.6 155.6l-.5 0 .2 .4zM581.3 171.5l-.9-.2 .3 .8zM581 168.8l-.6-.2 .2 .6zM583.5 174.8l-.6-.2 .2 .6zM585.8 175.9l-.5-.1 .2 .5zM590.9 187.6l-.6-.1 .2 .5zM587.6 185.5l-.6-.1 .2 .5zM592 200.5l-.6 0 .2 .4zM28.7 202.8l-.7-.1 .2 .6zM26.9 204l-.6-.1 .2 .4zM570.3 191.1l-.9-.2 .3 .8zM572.6 196.3l-.8-.1 .3 .6zM571.6 192.8l-.7-.2 .3 .6zM573.9 200.2l-.9-.2 .3 .8zM575.6 204.2l-1.1-.2 .4 .9zM576.2 206.5l-.7-.1 .2 .6zM573.4 208.4l-1.1-.2 .4 .9zM572.3 207.5l-.8-.1 .3 .6zM573.3 220.8l-.6-.1 .2 .5zM559.4 224.8l-.7-.1 .2 .6zM532.8 130l-.6-.1 .2 .5zM531.3 133.6l-.5-.1 .2 .5zM551.1 134.4l-.5 0 .2 .3zM515.5 131.8l-.6-.1 .2 .5zM504.6 134.2l-.8-.1 .3 .7zM503.9 134.4l-.7-.1 .3 .6zM506.3 133.6l-.7-.1 .2 .5zM512 128.7l-.8-.1 .3 .6zM268.2 268.6l-1-.2 .3 .8zM252.1 261.7l-2-.3 .7 1.7zM300.6 199.7l-.8-.1 .3 .6zM286.9 186.6l-.8-.2 .3 .7zM290.2 233.9l-.8-.1 .3 .6zM293.9 239.1l-.6-.1 .2 .6zM207.9 121.4l-.8-.1 .3 .6zM263.4 207l-.6-.1 .2 .5zM258.6 180.1l-.7-.1 .2 .6zM238.4 271.9l-1.4-.2 .5 1.1zM217 274.5l-1.1-.1 .4 .9zM222.9 272.8l-.9-.2 .3 .8zM298.9 73l-1.5-.3 .6 1.3zM297 58.6l-1.1-.2 .4 1zM339.4 53.1l-.9-.1 .3 .8zM307.4 76l-.6-.1 .2 .6zM213.2 147.4l-1.2-.2 .4 1.1zM213.8 150l-1.1-.1 .4 .9zM213.9 151.2l-1.1-.2 .4 .9zM216.1 152.3l-1-.1 .4 .8zM213.4 148.7l-1.1-.1 .4 .9zM212.5 146l-.9-.1 .3 .7zM211.1 145.7l-.8-.1 .2 .7zM213.4 152.4l-.8-.2 .3 .7zM212.7 154.1l-.9-.1 .3 .7zM210.5 144.4l-.6-.1 .2 .6zM207.8 144.1l-.9-.2 .3 .8zM208 145.1l-.7-.1 .3 .5zM202.3 154l-.9-.2 .3 .8zM201.2 154l-.9-.2 .3 .8zM199.6 153.5l-.8-.1 .3 .6zM209.1 155.9l-1-.2 .4 .9zM182 142.5l-.8-.1 .3 .6zM183.9 141.9l-.5-.1 .1 .5zM196.5 138.4l-.9-.1 .3 .7zM196.9 139.1l-.7-.1 .2 .6zM194.1 137.3l-.8-.1 .3 .6zM192.5 134.9l-.8-.2 .3 .7zM190.4 135.7l-.7-.1 .3 .5zM271.6 146.7l-.9-.2 .3 .8zM272.6 149.2l-1.1-.1 .4 .9zM273.6 147.6l-.9-.1 .3 .8zM271.2 149.6l-.8-.1 .3 .7zM270.2 146.2l-.9-.2 .3 .8zM273.5 146.7l-.7-.1 .3 .6zM419.6 253.4l-2.5-.4 .9 2.1zM425.2 259.7l-1.2-.1 .4 1zM431.2 235.2l-.7-.1 .3 .6zM431.2 236.5l-.6-.1 .2 .5zM423.2 185.6l-.7-.1 .2 .6zM425 166.9l-.9-.1 .3 .7zM424.4 173.3l-.6-.1 .2 .6zM424.3 162.8l-.7-.1 .2 .5zM423.8 156.8l-.6-.1 .2 .5zM396.8 181.3l-1-.1 .4 .8zM397.1 180.8l-.7-.2 .3 .6zM382.2 189l-.7-.1 .3 .6zM393.1 182.6l-.5-.1 .1 .4zM409.1 205.7l-.7-.1 .2 .6zM369 249.7l-1-.1 .4 .8zM391.1 248.9l-1.1-.2 .3 1zM388.5 248.5l-.7-.1 .2 .6zM314.9 261.9l-.8-.1 .3 .7zM461.6 193.5l-.7-.1 .2 .5zM475.4 190.8l-.7-.1 .3 .6zM457 162.4l-.8-.1 .3 .7zM456.6 160.8l-.6-.1 .2 .6zM455.4 158.8l-.8-.1 .3 .7zM454.9 156.4l-.9-.2 .3 .8z"/>
</g>
<g fill="#C71000">
<path d="M187.6 159.9l.9 .1 1.2-1.2 .8-2.1 1.1-.8 2.4-.3 2-1.5 1.1-.3 0 1-1.1 .3-.8 .8-1.2 3.1 1.2 1.3 .2 1.6 2.2 .7 1.6 0 .9 1.4 3-.2-.5 1.5 0 1.6 .8 1.5-.9 1 1.1 .8 .4 1.8-1.7-.9-2.8 0 0 1 .9 .2-.3 .6-.9 .2 0 1.1 .9 1.5-.8 5-1.2-.6 .6-2.1-2.7-.4-1.6 0-1.5-2.1-2.1-1.4-1.5-.8-1.8 0-2.2-1.7 .5-1.8 1.6-.1 .6-2.1-.6-2.6 .1-2-.8-.8 1.1-1.1z"/>
<path d="M357.5 60.8l-3 1.2-.6 .9 2.3 1.3-1.6 1.3 1.1 1.3 .8 2.1-.3 1.6 2.4 1.4-4 2.8-1.8 1.1 1.5 .4 1.1 .5-2.3 .8-1 1.1 .2 1.6-.2 .5 .7 .5 .6 1.8 4.2 .8 2.9 3.5-2.2 .5-.5 1.6 4.4-.4 2.7 3.2 3.9 .8 3.1 .5-.3 2.8-2.5 1.3 1.7 0-2 1.7-.8 1.2-1.4 .3 2.2 1.3 2.7 1.4 .4 0 3.9 .4 2.4 .9 2.4 .2 1.5 1 2.1 1.1 1.2-1-1.7-1.9 0-2.4-1.3 0 1.3-1.8 2.4-1.2 .3-.1-1.1-1-2.4-1.6-.8-.8 1.6-2.9 1.9-.5 3.3-1.8 3.4 .3 3.2 1.3 4.7-.5 5.5 .4-2.4-2 1.6-3.1 6.3-.8 6.3-1.4 3.1 1.7 3.9 .4 4.7-.4 2.1 1.5 3.4 4.1 4.8-.4 3.1 2.3 3.6 .6 .8 0 .3-1.2 2.7 0 3.6-1.3 4.7 1.3 4.7-.9 .5-2.4 5.8 1 .3 1.4 6 .4 3.9 1.4 3.9 0 4.7-1.3 4.3 .7 1.7 .5 2.4-1.3 1.1-2 1.1-1.8-1-1.1 5.4-.3 3.9 1.1 2.3 4.2 4 2.1 1.5 2 3.2-.7 2.7-.3-2.7 5.2-2.7 .3-.5 3.1-.6 1 2.2-1.3 1.9 .6 1.1-.9 .5-.1 .8-1.1 1.2-.5 .5-1 1.2-1 .7-.6 3.1-2.4 2.4-3.2 0-3.3 1.4-2.7-3.8-1.7-3.1 .4-2.9-1.2 4-2.4 4.4-2.6 3.9-2.4 4.7-.2 4.7-.3 4.7 1 4.7-.5 3.2-3.8 4.7-.4 4.7-1 2.4 .1-2.1 2.3-1.9 1.6-3.1 .9-2.4 2.4-2.5 1.6-1.9 3.2 .5 4.1 1.1 2.6 3-3.4 2.2-.3 0-2.1 3.1-.5 .2-2.3 1.9 0 0-2.6-1.3-.3 .8-1.6 3.1-1.7 1.6-.4 6.3 .4 .5 .2 2.6-1.8 4-1.3 4.7-1.1 3.1 0-3.9-3.3 2.4 0 1.3-.4 1.5-.7 1.1 0 1 .7 1.6 .3 1.6-.6 1.3 .7 1.4-.2 1.1 .9 1.4-.3 1.2-.9 1.1-.7 .9-.6 1.5-.6-.9-1.1-1.4-.2-1.5-.8-1.6 .4-1.4-.1-1-.6-1.4-.9-1.5-.1-.7-.7-1.8 .1-1.4-.5-1.1-.3-1.3 0-1.6-.2-.7-.8-1.2-.4-1.5 .1-.9-.4-1.4 .7-1.8-1-.8-.1-1.8 1.1-1.1-.7-1.6 1.3-2 .2-.6-1.1-2.1 .3-1.2-.6-1.3 .1-1.8 1-1.2 0-1-1.1-1.4 .6-1.7-1.1-1.4-.4-1.6-.5-1.1 .6-1.4-.1-1-.8-1.3 .8-1.5-1.1-.7 .1-1.4 .9-1.3-.5-1.3-.2-2.1-.7-1-.9-1.3 .1-1.4-.1-1.2-.2-1.6-.7-.6-.2-1.8 .9-1.2-1.2-.9 .5-1.3-.7-1.6 1-1.2-.7-.4 1.3-1.2 .8-1.5-.3-1.2 .9-2-.4-1.2-.2-1.2-.4-1.1 .2-1.2-.1-1.6 .3-1.5-.3-1.3 .3-1.9 .8-.8-.9-.8-1.5-1.7-.3-1.4-1.3-1.2-.4-1.2 .7-1.9 .2-1.2-.1-1.1 .7-1.5-1.1-2 .9-1.3-.8-1.2 .7-1.1 .1-1.4 0-1.7-1.3-1.1 .3-1.2-.5-1.4 .4-1.5-1.5-1.9 .9-1-.1-1.8 0 1.2-1.2 1.3-.3 1.2-.5 1-.4-1-.1-2-.6-1 .1-1-.3-1.3-1-1 .2-1.6-1.4-.8 .2-1.3 .5-1.6-.8-1.1-.4-1.2 .9-1.7-.1-.9 1-1.7-.7-1.2 .9-1.4-.4-1.6 .5-.9 .3-1.4-.6-1.2 .3-1.4 .4-1.2-.5-2 .9-.9 .1-1.7 0-1.2-.2-1.1 1.5-1.5-.6-1 1.4-1.4-.4-.7 .7-1.4 .7-1 .2-.9 .8-1 1-1.5 .2-.5 1-1.6 1.1-.7-.7-.6-1.7-.6-1-1.1 .9-2-.7-.8 .8-.2 1.4 .7 2-.1 1.2 .6 1.3 .1 1.2-.1 1.2-1-.9-.9-1.1-.4-.9-.5-1.4-.1-1.6-1.2-.3-.8-1.5-1.4-.6-.3 2-.7 1.4-.9 1.5 .5 1.4-.7 1.5-.5 1.4-.9 .5 0-1.7-.9-.7 .8-1.6 .3-1.4-.9-1.4 .7-1.4-.6-.8-1.1-1-1.3-.7-1.1 .8-.8 0-1 1.6-1 .1-1.1 .6-.1 1.6-.7 .7 1 .7 .9 1.7-1.2 .1-1-.4-1.5-.9-1.3 .2-1.6 .2-1.6 0-.8-1.3-1.8 .8-1.3-.6-.8 2.1-1-.3-1.6 .8-1-1-1.9 .3-.7 .6-1.6-.4-1.4 .1-1 .3 .8 1.2-1.4 .4-1.1-1.1-1.5 .2-1.3 .1-1.1 .5-1.4-.8-1.6 .5-1.2 .1-1.3-1.4-1 .1-1.2-.2-1.1-.2-1.6 0 .3 2 .8 1.4-1.4 .6-1.7-.4-1.5 1-.6 1.4-1.1 .5-1 .6-1.8 .6-1.1 .1-1.1 .3-1.4-1.4-1.4 .3-.9-1.6 .1-1.2-.9-.9-1.5-.2 1.8-.1 1.4 .2 1-.2 1.9 .6 .7-.3 1.5 .3 1.3 .5 1.4 0 1.4-.7 .7-.8-1.3-1.3-1.3-.2-1-.5-1.4 .1-1.1-1.5-.7-.1-1.6 .1-1.8-.5-.9-.4-2 .2zM339.9 85.7l2.5-1.3 2.4 .3 .1 1zM390 58l1 .9 1.3 .4 1.3 .2 .6 .5 1.3 0 1.2-.2 .6-1.2 1 .6 1.1 .1-.3-.9-1.2-.5-.4-1.1-1.2-.4 1-.6-.2-1.5 .7-.9 1.6 .4 1-.8 .7-.4 1.2-1.4 1 .3 1-.2 .9-.3 1.1 .5 1.6-.2 .9-1.2 .7 .1 .9 .2 1.4 .3 1.2 .2 .6-.3 1.6 .2 .7-.9 .8-.8-1.3-.7-.7 .6-.8 1-1.6-1.4-.4 .9-1.3-.9-1 .8-1-.2-.9 .7-1.3 .3-.9-1-1 .4-.9 .5-1.4 .9-1-.1-1-.2-1.4-.1-.4 .6-1 1.4-1.1 .2-.8 .3-.4 1.1-.9 .6-1.1 .8-.8 1.2-1.7 .2zM379.8 42.7l1-.9 1.5 1.2 .7-.6 1-.4 1.2 .3 1.5-.8 .7 .1 1.2 .7 .9 .2 1.7-.2 .8-.7 1.3-.7 .5 .4 1.4 .8 .8-.3 .9-1 1.2 1.1 1.1-1.1 1.2-.1 1.2-.6 .7 1.6 1.4 .3 1.3-.5 1 .1 1-.1 1.1 .7 1.1-.2 .7-.3 .9 .1 1.3 .4-.8 .6-1.2-.5-.4 1.6-1.5-.2-.8-.8-1.5 1.2-1 .1-.9-.6-1.1 .6-1.5 .5-1-.4-1.3-.5-1.1-.3-.7 .9-1.3-.6-1-.6-1.7 .3-.8 .8-1.1 .6-1-1.5-1.7 1.2-.7-.9-1.4-.1-.8 1.3-1.1-.6-1.4 .2-.7-1.2-1 .7-1.1-.7zM451.2 41.9l1.3-.3 1.7 .1 .8-.7 1.6-.4 .9 1.1 1.5-.5 1.2 .1 2 .8 .8 .9 1 1.1 2-.2 .8 .8 .8 .6 1.9-.4 1.2 1.1 1.3-.4 .7 .8 1.6-.7 1.2 1.2 1.1 .2 1.2 .1 1.3 .7 .9 1.2-1.5-.2-1.1-.4-1.1 .2-1.7 0-1.7-.9-1.7 .1-1.2-.3-.9 .2-1.7 0-1.4-.8-1.1 .1-1.3 .4-1.6-.6-1-.3-1.7-.6-1.3 .2-1-.6-.8-.7-1.7 .4-.7-1.2-1.6 .1-.2-1.1zM524.3 51.5l1-.6 1.4-.5 1.1-.3 1.2 .3 .9-.2 1.8 .9 1.5-.7 .8 .7 1.2-.4 1.6 0 1.5 .6 1-.6 1.8 .7 .9-.1 1.2 0 1.5 .5-1.2 .4-1 .5-1.7 .1-1.5-.6-.9 .4-1-.4-1.8-.2-.8 .1-1.2 .1-1.5 .1-1.1 .4-2.2-.4-1.4 .5-1.8-.1zM529 54.8l1.8-.7 1 .6 1.9-.3 0 .8-1.6-.5-1.3 .4zM540.8 51.8l1.4 .5 2 .2 1.3-.5-1.1 .7-1.3-.1-1.3-.2zM589.5 58.3l2-.4 1.4 .6 1.3-.5 1.2 .8-1.2 .2-2.1-.2-1.1 .3zM532.1 85.9l1.6 1.3 .5 3.2 1.1 3.7-1.6 3.9 .8 1.3-2.4-.8 0-3.2 0-3.3-.4-3.2zM537.6 102.7l1.6-.9 3.1-1.8-2.3 1.3-1.5 .7zM543.9 99.5l1.6-.7-.5 .7zM547 98l1.6-.9-.5 .6zM549.4 96.1l1.6-1.5-.5 .8zM551.9 94l1.6-1.6-.6 1.1zM553.3 92.5l1.1-.9-.1 .9zM385.3 61.6l2.3 .1-1.1 .8zM401.8 59.9l1.1 .9 1.2-.2-2.3 .3zM569 84.3l1.3 .3-.5 .6z"/>
<path d="M379.5 109.5l-.8 1.2 0 1.6 .8 1.3 1.1 1.9 .7 1.5-.7 1.8 .7 1.6 2.4 1.1 .5 2.1 .3 .9 .8 .9 1.5-.3 1.1 .5 1 1.5 1.1 1.7 2.3 1.8 2.7 .3 2.5-.9 1.1 .5 .5 1.7 2.7 .5 4 .4 .4-1.7 2.2-.8 .1-.8-.8-1.6-3-2.7 1.5-1.5-.2-1-1.4-.2-.3-2.6-.2-.9 1.1-3.1 0-1.6-1.4-.2-2-1.3-2.7-1.1-2 .1-1.9 1.2-1.4 .1-3 1.2-1.6-.2-2.4-1.3-.9-1.4-1.4-.7 0-1.5-2.4 1.3-.4 0-1.1 0-.8-.8z"/>
<path d="M405.8 133.1l3.8-.2 3.9-.2 .8 1 1.9 1.8 1-1 3.4-.5-1.6-3.1 .7-2.4 2.3 .2 1.6-1.8 .8-1.5 1.7-1.8 1.4-2.1-1.7-1.1-.8-2.1 1.9-.5 3.1-.6 1.3-.8-2.8-.9-.4-1.4-1.4-.6-2.9 .6-2.9 1.3 .7 1.3-.8 1.9-1.3 1.2-1.2 .4-.4 2-2.5 .8-2 .6-.2 1.8-3.6 .7-2.3 .1-2.6-.7 3 2.7 .8 1.6-.1 .8-2.2 .8z"/>
</g>
<g fill="#008EA0">
<path d="M227.9 167.1l1.6 3.4 1.2 1.8-1.5 1.9 2.6 0 1.6 1 1.9-.2 3.9 1.8 .3 1.3 2.1-.3 2.6 .8 2.9 .2 1.5 1.1 1.9 1.6 3 .8 .8 2.9 0 2.5-1.4 2.1-2.2 2.3-2.1 2.9-.8 2.4 0 3.2-.3 2.5-1.2 3.2-1.6 3.1-1.6 1.6-2.3 .2-2.4 1.1-2.3 .8-2.9 2.1-.4 2.5-.3 2.4-1.9 2.4-2.4 2.9-1.4 1.7-1.6 1.4 0-1.4-1.7-1.8-2.4-1.3-2.5-1.1 3-3.1 3.2-2-.2-1.4-1.4-1 .1-.2 .5-2.4-2-.2-.7-2.6-2.9-.3 0-2.2-.5-1.5 .6-1.3 .3-1.6-1.2-1.3 .1-1.5-3 0-.1-2.9-1.1-1.6-2.8-.8-2.5-1-1.5-1.5 0-2.7-1.8 0-3.2 1.9-1.6 0-1.7 0 .2-2.4-2.7 .8-1.3-1.3-.3-2.9-1.2 0 1.5-3.4 .4-.3 4.4-1.3 .1-.2 .8-5-.9-1.5 0-1.1 .9-.2 .3-.6-.9-.2 0-1 2.8 0 1.7 .9 2.2 .6 3.3-2.3-1.5-.5 .6-2.5 1.9 .1 3.3-1 0-.9 .9 .1 .8 1.8-.6 .8 .1 2 .2 1.6 1.5 .2 2.4-1.2 1.3 0 .9 0 2.2-.6 2.4 .1 .7-.6z"/>
<path d="M348.5 122.6l3 .4 3.1 .8 2.4-1 3.1 .7 2.7-.3 1.1 2.9-.8 2.4-.3 .3-1.4-1.1-1.1-2.3 .2 1.5 1.5 2.4 1.3 2.5 1.6 3.2 .1 1.6 2.1 1.6-18.7 0 0-12.9z"/>
<path d="M458.8 164.8l1 .5 1.5-.5 .9 .7 1.2 .7 .7 1.5 1.8 1.2 .7 .9 1.9 .9 1.1 .2 .7 1.6 1.4 .6 .5 .9-.2 1.5 1.2 1.5 1.4 .4 1 1.4-.5 1.3-.1 .6 .4 1.2 0 1.4-2 .2-1.2-.7-.4-1-1.5-.6-.5-.8-1.3-.9-.2-1.2-.7-.8 0-1-1-1.1-1.1-.9-.9-1.4-1.1-1-.3-.7-.2-1.2-1.1-1.4-1.2-.9-.4-1.1-1.1-.5zM474.3 184.9l1.6-1.3 1.5 .8 1.1 .5 1.2 0 1.8-.4 1.1 .6 .8-.8 1.4 .7 1.3 .2 1.5 1.3 1.2 0 .1 1.5-1.2 .1-1.3-.1-.8-.9-1.4 .3-1.1-.7-1 0-1.3 .1-1-.4-1.1-.3-.9-.4-1.4 .2-1.1-.4zM481.2 170.7l.2 .6 1.2 1.1 .8-.1 3.2-.7 2.5-.1 1.4-2.5 .8-2.1 2.5 .2 .6 3.2-.3 2 1.9 0-.9 .6-.6 .9-.9 1.4-1.5 1.1 .2 1.5-.7 1.8-1.9 .8-.8-.8-.9-.1-1.4-.3-2.1 .4-1.3-.4-1-.6 .3-1-.6-1.6-1.2-1-.4-1.6 0-1.9zM497.3 172.6l1.7-.8 1.3 .4 1.3 .3 1.5-.1 1.3-1.1 1-.2-.4 .8-.4 1.4-1.4-.5-1.5 .6-1.4 .2-1.2-.5-.7 .8-.4 1.5 1.9 0 1.6 .1 1.3-.1-1.4 .5-1.3 1.1 .3 1.1 .8 1 1.1 1.3-.5 1-1.1 .1-.8-1.1-.2-1.5-.7-.6-.8 .5 .2 1.4 .1 1-.3 1.6-1.4 0 .3-1.9-.5-1.3-.9-1.3 .1-1 .3-1 1-1.2 .2-1zM488.9 187.2l1.9 .3-.8 .7zM491.3 187.4l1.1 .1-.3 .8zM492.5 187.7l1.1 .2 1.3-.6 1.1 .2 0 .7-1.9 .2-1.2 .1zM497.4 187.7l1.3 .3 1-.3 1 .1 1.6-.4-.3 .6-1 .5-1.4-.7-.9 .9-1.1-.4zM496 189.3l1.1 .8 1.7 0-1.2 .3zM503.1 190.6l.5-1.1 1-.7 .8-.3 0 1-1.5 1.1zM509.3 171l.8-.7 .6 .9 .5 1.1-1.1 1.6 .8 1.3-1.1-.8-.5-2.1zM510.1 178.8l1.1-.2 .8 .6 1.5 .1 1-.2-.4 .8-1.6 .3-1.1-.3-1-.3zM507 179.1l1.9 .1-.8 .9zM530.6 178.1l0 10.6-1.8-1.7-1.8-.1-.8 .6-.8-1.8 1.5-.6-.3-1.6-.8-.7-1.2-.2-1.2-.8-1.5-.8-1.3 .1-1.8-1-1.1 .3-1.3-1.8 1.1-.6 1.6 0-1.6-.2-1.1-.7-1.6-.9 0-1 1.4-.7 1 0 1.1 .8 1.3-.1 .3 1.9 .4 2.1 1.6 .2 .3-1.2 1-.7 .8-.7 1.5-.5 1.3 .4 1.4 .8zM474.5 176.5l1.6 .2 .3 2.1-1.1-.4zM478.1 178.1l1.1 .2-.5 .8zM461.4 171.6l1.3 .8-.5 .5zM464.1 175.5l1 1.2-.7 .1zM519.9 183.3l.9 .3-.6 1.3zM514.8 186.1l1.1-.5-.6 1.3zM504.6 176.7l1.3 .1 1.1 .2-.8 .1zM501.8 182l.8-.3-.3 1.3zM521.9 175l1.3 .7-.8 .1z"/>
</g>
<g fill="#FF6348">
<path d="M504.3 109.2l-2 .5-2.4 1.3 .5-2.8-1.3-.6-2.3 1.8-2.4 1-.4 1.1 1.8 1.6 3-.5 2.7 .7-2.4 1.3-1.1 .9-1.5 1.7 1.5 1.9 1.1 2.1 1.5 1.3 0 1.3-2.2 1 2.3 .6-.6 2.3-1.7 2.1-1.3 2.1-1.6 2-1.9 1.6-1.5 1.3-3.5 1-1.2 .1-2.9 1.1-1.9 .5-.3 1.5-.8-2-2.8 0-2-2.1-2.2-.8-3.6 1.3-1.3 .2-.6 1.9-1 0-1.5-.5-1.4-.9-.5-1.6-1.9-1.3-.3-1.5 1.7-1.8-.6-2.7-1.6-1-1.7-1.8-1.9 .2-2.4 .8-2.1 1.4-.8 0-2.9-.6-1.4 1.4-.1-1.1-1.1 .2-3.3-.2-3.2-1.9-2.3-1.3-2.4-.4-2.3-1.3-1.1-.3-.7-2.1 1.3 0-.5-2.9-1.4-1.9-.3 0-2.8-.9-.4-1.4-1.4-.6-.1-2-1.6-.2-.1-1.4 2.9-1.5 1.9-.8 2.7-.5 2.7-1.4 0-1.5 .9-.3-.6-2.9 3.3-.5 .8-3.1 3.9 .3 .3-2.3 2.5-1.3 .8 0 .3 .9 3.2 1.4 1.5 2.1-.1 2 4 .6 2.9 1.2 1.5 2.2 5.9 .3 2.8 .2 5 1.5 3.2-1.3 3.9-.2 2.3-1.6 1.4-.3 .2-2.1 3.1 0 2.4-.9 1.6-1.3 1.5-.4 3.5-.2 .3-.5-2.2-1.4-1.1 .3-2.8-.2-.6-.1 1.7-3.1 1.7 .5 2.4-1.3 1.1-2 1.1-1.8-1-1.1 5.4-.3 3.9 1.1 2.3 4.2 4 2.1 1.5 2 3.2-.7 2.7-.3-2.7 5.2-2.7 .3-.5 3.1-.6 1-1.1-.8-.6 .8-2.4 .6 .5 .8-2.2-.5-1.4 1.5zM479.8 142.6l1.3-1.1 2.2 0-.7 1.9-1.5 1-1.3-.5z"/>
</g>
<g fill="none">
<path style="stroke-width:1.15" d="M167.7 43.4l7.9 .5 7.8-.3M174 45.8l7.9-.3 6.3-.3M170.9 48.6l6.3-.5 4.7 .3M186.6 41.8l6.3 .5 6.3-.2M188.2 40l7.8 .7 6.3 .3M177.2 47l6.2 .3M180.3 42.3l-6.3-.5-6.3 .3M191.3 43.7l6.3 .5M178.7 49.4l4.7-.3M201.5 66.4l3.9 1.3 3.2 1.2M200.7 70.5l3.2 1 2.3 .9M174 54.8l.8 1.6 .8 1.6M183.4 56.7l3.2-.5 4.7 .7M196 59.6l3.2-.5 2.3 .7M186.6 58.8l4.7 .7M192.9 62.9l4.7-.5M189.7 66.1l4.7-1.3M199.2 64.5l4.7-.8M125.3 59.6l4.7-.1 4.8 .3M125.3 58.2l3.2-.5 3.1 .3M139.5 57.2l3.1 .8M136.3 61.2l4.7 .4M117.5 55.6l4.7-.5M133.2 51.5l4.7 .5M161.5 50.9l4.7-.4 4.7 .7M175.6 52.3l4.7-.5M274.5 59.6l-4.7 .2-4.7-.7M270.6 58.3l-3.1-.6-2.4-.8M276.1 55.9l-4.7 .3-3.1-.6M277.7 53.9l-4.7 .5-3.2-.1M278.5 49.4l-4-.3-3.1 .1M277.7 44.2l-4.7-.3-4.7 .2M279.3 46.2l-4.8 .3M229 62.1l-2.4-.5-2.3-.5M227.4 59.6l-3.1-.5M224.3 57.2l-3.2-.5M230.6 69.7l-2.4-.4M233.7 74.2l3.2 .8M243.1 72.6l-2.3-.8M247.8 67.2l3.2-.6M257.3 63.7l3.1-.8M199.2 47.8l3.1 .3 3.1-.3M214.9 50.2l-3.2-.5M219.6 53.1l-3.2-.5M208.6 79.1l2.3 .8M211.7 83.1l2.4 .3M216.4 85.1l2.4 .8M185.8 78.4l2.4 .5M203.9 75.8l3.1-.5M75.1 75l2.3-.3M68.8 79.9l3.1-.8M97.1 78.9l-2.4-1M103.3 83.1l-2.3-1.6M108.1 91.2l2.3-.8 2.4 .5M106.5 87.2l2.3-.8-1.5-1.3M110.4 93.7l2.4-.5M192.1 246l2.3 1.2M191.3 250.9l2.4 1.3M190.8 254.1l2.4 1.5M192.1 257.4l2.3 1.1M194.4 260.1l2.4 .7 1.9-1M195.2 261.8l3.2 .6 2.3-.5M191.6 248.5l2.1 .6M192.9 243.6l1.9 1M199.2 263.1l3.1 .4 2.4-.4M317.3 77.8l2-.5M317.3 76l2.5-.2M317.1 74.7l3.3 .2M317.7 73.4l3.2-.5M321.7 71.5l2.3 .3M324.8 70.5l2.4 .3M327.9 68.5l2.1-.3M329.5 66.6l2.4-.5M331.1 64.8l2.8-.3M332.7 62.9l3.1 .1-1.6-.9M336.6 61.2l3.1 .2M340.5 60.4l3.2 .4M344.4 59.6l3.2 .5M348.4 59.1l2.3 .8M352.3 59.1l2.3 .5M329.5 63.7l2.4-.7 1.5-.8M331.1 46.7l3.1 .3 1.6-.5M330.3 45.4l3.9 .1M332.7 48.3l3.1 .3M340.5 45l3.2-.3M338.2 47.1l3.9-.3M392.3 57.2l3.2-.5M394.7 54.9l3.1 .2 1.6-1.2M398.6 52.3l3.9-.3M404.9 50.7l3.1-.3M300.5 82.3l1.5-.5M300.8 80.5l2 .5M299.7 79.9l1.9-.3M303.9 82.8l.8-.5M302 83.6l-1.1-.5M274.5 67.7l2.4-.5M272.2 68.2l2.3 .3M285.5 67.7l1.6 .5M280.8 66.9l-.8 .8M343.7 113.1l1.5-.5M344.4 111.5l2.4-.3M346 109.4l1.6-.7M347.6 113.1l1.5 .8M348.4 114.2l1.5-.6M350.7 112.6l.8 .8M348 109.9l1.1-.7M211.7 41.3l1.6-.5 1.2 .1 1.2 .1 1.2 .1 1.2 .4 1.9-.3 1.2-.7 1-.3 1.7 .2 1 .5 1-.3 1.5-.3M227.4 40.3l1.3-.6 1.4 .1 1.5 .6 1.1 .1 2-.4 .8 .3 2-.6 .9-.1M238.4 39.7l1-.6 1.9 .6 1.3-.7 .7 .8 1.4-.8 1.9-.4 1.3 0 1.1 0 .9 0 2 .4 .7-1 1.5 .4M254.1 38.4l1.8-.4 .7 .9 1.4-.1 1.4 .2 2 .1 .8-.4 1.5-.3 1.4 0 1.6 .5M266.7 38.9l1 .5 1.2 0 2.1-.3 .9 .8 1.3-.3 1.3 .6M274.5 40.2l1.8-.1 1.8 .8 1.3 .7 1.4 0M280.8 41.6l1.4 .4 1 0 1.9-.7 .9 .4 1.4 .3 1.8-.7 1.1 .5M290.3 41.8l-1.6 .3-1.3 1-1.3-.6-1.1 .6-1.5 1.1-1.1 0M282.4 44.2l-1.2 1.1-1 .1-.9 1.3M279.3 46.7l.9 1.7-.2 1.5M280 49.9l-1.6 0-1.6 1.6-1.5 0M275.3 51.5l1.2 .8 2 .8M278.5 53.1l-1.2 .5-1.5 .8-1.3 1.2M274.5 55.6l0 2.4M274.5 58l-1.5 1.9M273 59.9l-1 .9-2.2 .4-1.5 .9M268.3 62.1l-1.6 .3-1.1 .6-2-.4-1.6 .7M262 63.3l-1.8 .3-1.3 1.4-1.6 .3M257.3 65.3l-1.7 1-2 .3-1 .6M252.6 67.2l-1.4-.4-1.7 .6-1 .7-1.4-.4M247.1 67.7l-.3 1.1-1.8 .9-.3 1.3M244.7 71l-.6 1.4-.8 .7-1 1.1M242.3 74.2l-.7 1.7-.8 .7M240.8 76.6l-2.4-.1M238.4 76.5l-1.3-.7-2.2-.8-1.2 0M233.7 75l-1.3-.4-1.2-.8-.6-1.2M230.6 72.6l-1.1-1.4-1.3-1M228.2 70.2l-.9-1-1.1-1.1-.3-1.2M225.9 66.9l-.8-2.4M225.1 64.5l1.3-.6 1.1-1.2 1.5-.6M229 62.1l-1.7-.7-1.4-.3-1.6-.7M224.3 60.4l-.8-2.4M223.5 58l-1.6-.9-.8-1.5M221.1 55.6l-1-2-1.4-1-.7-1.1M182.7 90.7l2.3-.3M185 90.4l.8-1.2-.4-1.4-.1-1.4M185.3 86.4l.7-1.1 .3-1.1 1.2-1.3 1.1-.6M188.6 82.3l-.8-1.7-.8-.8-1.2-1.1M185.8 78.7l.9-.6 .7-1.5M187.4 76.6l-.4-1 .1-1.9-.5-1M193.3 72.7l1.3 .7 1 .8 2.1-.2 1.5 1M199.2 75l.8 1.5-.1 1.8M199.9 78.3l1.2 .9 2 .2M203.1 79.4l1-.5 1-1.9 1.1-.8M207.8 76.2l.4 1.1 1.4 .6 0 1.4 1.6 .2 .5 1.2M211.7 80.7l1.7 1.2 .8 .8 .7 1.6M214.9 84.3l1.2 1 1.7 .6 1 .5M218.8 86.4l1.3 .6 0 1.2 1.5 .6M221.6 88.8l-1 1.1-1 .5M219.6 90.4l-.8 1-1.8 .2-.8-.3-1.3 1.2M214.9 92.5l-1.3 .6-1 0-1.5-1-.9-.2-1.6 .5M208.6 92.4l-1.7-.6-.9 .7-1.3 0M204.7 92.5l-.7 1.1-1.5-.2-1 1.1M201.5 94.5l-.5 1.3-1.1 .8-1.5 .8M198.4 97.4l.7-.7 1.6-.6M200.7 96.1l1.7-.1 1.2-.3 1.3-.2 .8-1.1 1.3-.3M208.6 99l1.5-.5 1.2 .6 2 .6M213.3 99.7l1.6-1.2M214.9 98.5l-.3 1.5-1.3 .6M216 96.7l1.1-.9-.1-1.2 1.5-1.1 .3-1.5M218.8 92l.9-1.3 1.8-.4M221.9 92l1.3 .1 .6 1 1.3 .9M225.1 94l.7 1.7 .5 1M226.3 96.7l-1.2 1.7M225.1 98.4l-1.8 .1-1.4-.8M221.1 96.7l-1.4 .5-1-.6-1.1-.2-1.6 .3M207.8 93l1.5 .4 1.4-.2 1.5 .9M212.2 94.1l-1.2 .4-1.6-.5M200.7 102.6l-1.9 .6M198.1 104.7l1.1 1.4M199.2 106.1l-1.4 .2-1 .5M196.8 106.8l-1.6 .4-.8 .3-1.5 .4M192.9 109.5l-1.6 1.3M190.5 109.9l.6 1.9M191.1 111.8l-.9 .7-.5 1.4M190 114.7l.5 2M190.5 116.7l-1.4 .4-.9 .7M188.2 117.8l-1.6 1.1M270.6 67.7l1.2-.9 2-.5M273.8 66.3l1.6-.3 .9 .4 1.4 .5M277.7 66.9l1.5 .3 1.3-.6 1.7-.6 1.8 .1M284 66.1l2.3 .5M286.3 66.6l1.4 1.6M287.7 68.2l-.6 1-1.6 .5M285.5 69.7l-1.6 .5-.9-.1-2 .6-1 .4M280 71.1l-1.3-.5-1 .6-1.6-.7M276.1 70.5l-1.3 .4-1.4-.4M274.5 69.3l-2-.1-1.1-.5M311.5 92.7l-1.1-.3-1 1.1M309.4 93.5l-.9 .6-1.3-.3M300.1 92.7l1.2 .1 1.2-.6M303.6 91.9l1.3-.7 1.1 .7M306 91.9l.8-.7 1.5 .1 .8 .3M309.1 91.6l.6-.9 1.6 .2M310.2 90.4l1.1-.5 .5-1.3M311.8 88.6l-1.1 .3-1.1-.9M309.3 87l-1.2-.2-.3-1.2M304.4 83.1l1.3-.5 .1-1.1M306.3 80.7l-.9-.8-1.8 .5M302.8 80.5l.6-.5 .8-1.1M304.2 78.9l-1.6 .4-1.4-.4M301.2 78.9l-.9 .6-.3 1.2M300 80.7l.1 1.6M300.1 82.3l.4 1.8M301.4 85.1l1.3-.5 .9 .3M303.6 84.9l.8 1.5M304.4 87.3l-1.3 .8-1.1-.6M302.8 88.8l-1.1 .4-.8 .6M300.9 89.8l1.6 .5M302.5 90.3l1.9 .3M304.4 90.6l-1.9 .3M302.5 90.9l-1.2 .2-1.2 1.6M300.5 85.9l-.8-1.5M297.3 80.7l.8-.9 1.3-.6M299.2 80.4l-1.9 .3M299.7 89.3l-.3-1.8M295.7 84.7l-1.7 .4-.6 .9M293.4 86l.8 1.5M294.2 87.5l-1.3 1-.1 1.1M293.7 90.4l1.6 .4 .9-.9M296.2 89.9l1 .5 1.1-.5 .9-.6M339.4 108.2l.3-1.6M346.8 109.1l-1.9-.7M345.5 110.7l.3 .9 1 .7M345.5 112.5l.4 .9-.4 1.3M344.9 114.9l-1.7-.7M343.2 114.2l-.8-1.7M342.1 111.5l-1.1-1.5M346 116.4l1.1-.2 .9 .6 1.2 .3 1.2-.4M350.2 117.2l-.8 .1-1.3-.5-1.1 .5-.8-.5M345.7 110.8l1.6 .9M347.6 112.3l-.8-.7-1.1-.8M587.1 69.3l2.4 0M589.5 69.3l1.3-.4 1.5-.7 1.1 0M593.4 68.2l1 .7 1.6 .3 1.6-.6 1.3 .7M598.9 69.3l1.4-.2 1.1 .9 1.4-.3M602.8 69.7l1.2-.9 1.1-.7 .9-.6 1.5-.6M607.5 66.9l-.9-1.1-1.4-.2M605.2 65.6l-1.5-.8-1.6 .4-1.4-.1-1-.6M599.7 64.5l-1.4-.9-1.5-.1-.7-.7-1.8 .1-1.4-.5-1.1-.3M591.8 62.1l-1.3 0-1.6-.2-.7-.8-1.2-.4-1.5 .1M585.5 60.8l-.9-.4-1.4 .7-1.8-1-.8-.1-1.8 1.1-1.1-.7M577.7 60.4l-1.6 1.3M576.1 61.7l-2 .2-.6-1.1-2.1 .3M571.4 61.1l-1.2-.6-1.3 .1-1.8 1-1.2 0-1-1.1-1.4 .6M563.5 61.1l-1.7-1.1-1.4-.4M558.8 59.1l-1.1 .6-1.4-.1-1-.8-1.3 .8-1.5-1.1-.7 .1-1.4 .9-1.3-.5-1.3-.2M547.8 58.8l-2.1-.7-1-.9M544.7 57.2l-1.3 .1-1.4-.1-1.2-.2-1.6-.7-.6-.2-1.8 .9-1.2-1.2-.9 .5-1.3-.7-1.6 1-1.2-.7M530.6 55.9l-.4 1.3-1.2 .8M529 58l-1.5-.3-1.2 .9-2-.4M524.3 58.2l-1.2-.2-1.2-.4-1.1 .2-1.2-.1-1.6 .3M518 58l-1.5-.3-1.3 .3-1.9 .8M513.3 58.8l-.8-.9-.8-1.5M511.7 56.4l-1.7-.3-1.4-1.3M508.6 54.8l-1.2-.4-1.2 .7-1.9 .2-1.2-.1M503.1 55.2l-1.1 .7-1.5-1.1-2 .9-1.3-.8-1.2 .7M496 55.6l-1.1 .1-1.4 0-1.7-1.3-1.1 .3-1.2-.5-1.4 .4M488.1 54.6l-1.5-1.5M486.6 53.1l-1.9 .9-1-.1-1.8 0M481.9 53.9l1.2-1.2 1.3-.3 1.2-.5 1-.4M486.6 51.5l-1-.1-2-.6-1 .1-1-.3-1.3-1M480.3 49.6l-1 .2-1.6-1.4-.8 .2-1.3 .5-1.6-.8-1.1-.4M472.9 47.9l-1.2 .9-1.7-.1-.9 1-1.7-.7-1.2 .9M466.2 49.9l-1.4-.4-1.6 .5-.9 .3-1.4-.6-1.2 .3-1.4 .4M458.3 50.4l-1.2-.5-2 .9-.9 .1-1.7 0M452.5 50.9l-1.2-.2-1.1 1.5-1.5-.6-1 1.4-1.4-.4-.7 .7M445.6 53.3l-1.4 .7-1 .2-.9 .8-1 1-1.5 .2M439.8 56.2l-.5 1-1.6 1.1M437.7 58.3l-.7-.7-.6-1.7-.6-1M435.8 54.9l-1.1 .9-2-.7-.8 .8M431.9 55.9l-.2 1.4 .7 2M432.4 59.3l-.1 1.2 .6 1.3 .1 1.2-.1 1.2M432.9 64.2l-1-.9-.9-1.1M431 62.2l-.4-.9-.5-1.4-.1-1.6M430 58.3l-1.2-.3-.8-1.5-1.4-.6M426.6 55.9l-.3 2-.7 1.4M425.6 59.3l-.9 1.5 .5 1.4-.7 1.5M424.5 63.7l-.5 1.4-.9 .5M423.1 65.6l0-1.7-.9-.7M422.2 63.2l.8-1.6 .3-1.4-.9-1.4 .7-1.4M423.1 57.4l-.6-.8-1.1-1-1.3-.7M420.1 54.9l-1.1 .8-.8 0-1 1.6-1 .1M416.2 57.4l-1.1 .6-.1 1.6-.7 .7M414.3 60.3l1 .7 .9 1.7M416.2 62.7l-1.2 .1-1-.4-1.5-.9-1.3 .2M411.2 61.7l-1.6 .2-1.6 0-.8-1.3-1.8 .8-1.3-.6M404.1 60.8l-.8 2.1M403.3 62.9l-1-.3-1.6 .8-1-1-1.9 .3-.7 .6-1.6-.4M395.5 62.9l-1.4 .1-1 .3M393.9 64.5l-1.4 .4-1.1-1.1-1.5 .2-1.3 .1-1.1 .5-1.4-.8-1.6 .5M384.5 64.3l-1.2 .1-1.3-1.4-1 .1-1.2-.2M379.8 62.9l-1.1-.2-1.6 0M377.1 62.7l.3 2 .8 1.4M378.2 66.1l-1.4 .6-1.7-.4M375.1 66.3l-1.5 1-.6 1.4-1.1 .5M371.9 69.2l-1 .6-1.8 .6-1.1 .1M368 70.5l-1.1 .3-1.4-1.4-1.4 .3M364.1 69.7l-.9-1.6 .1-1.2M363.3 66.9l-.9-.9-1.5-.2M360.9 65.8l1.8-.1 1.4 .2M364.1 65.9l1-.2 1.9 .6 .7-.3 1.5 .3 1.3 .5 1.4 0M371.9 66.8l1.4-.7 .7-.8M372.7 64l-1.3-.2-1-.5-1.4 .1-1.1-1.5-.7-.1-1.6 .1M365.6 61.9l-1.8-.5-.9-.4-2 .2M390 58l1 .9 1.3 .4M392.3 59.3l1.3 .2 .6 .5 1.3 0 1.2-.2 .6-1.2 1 .6 1.1 .1M399.4 59.3l-.3-.9-1.2-.5-.4-1.1-1.2-.4M396.3 56.4l1-.6-.2-1.5M397.1 54.3l.7-.9 1.6 .4 1-.8 .7-.4 1.2-1.4 1 .3M403.3 51.5l1-.2 .9-.3 1.1 .5 1.6-.2 .9-1.2 .7 .1 .9 .2 1.4 .3 1.2 .2 .6-.3 1.6 .2 .7-.9M416.7 49.1l-1.3-.7-.7 .6-.8 1-1.6-1.4-.4 .9-1.3-.9-1 .8M409.6 49.4l-1-.2-.9 .7-1.3 .3-.9-1-1 .4-.9 .5-1.4 .9-1-.1-1-.2M400.2 50.7l-1.4-.1-.4 .6-1 1.4-1.1 .2-.8 .3M395.5 53.1l-.4 1.1-.9 .6-1.1 .8M393.1 55.6l-.8 1.2-1.7 .2-.6 1M379.8 42.7l1-.9 1.5 1.2 .7-.6 1-.4M384 42l1.2 .3 1.5-.8 .7 .1 1.2 .7M388.6 42.3l.9 .2 1.7-.2 .8-.7M392 41.6l1.3-.7 .5 .4 1.4 .8 .8-.3M396 41.8l.9-1 1.2 1.1 1.1-1.1 1.2-.1M400.4 40.7l1.2-.6 .7 1.6 1.4 .3 1.3-.5M405 41.5l1 .1 1-.1 1.1 .7 1.1-.2 .7-.3 .9 .1 1.3 .4M412.1 42.2l-.8 .6-1.2-.5-.4 1.6-1.5-.2M408.2 43.7l-.8-.8-1.5 1.2-1 .1-.9-.6M404 43.6l-1.1 .6-1.5 .5-1-.4M400.4 44.3l-1.3-.5-1.1-.3-.7 .9-1.3-.6M396 43.8l-1-.6-1.7 .3-.8 .8M392.5 44.3l-1.1 .6-1-1.5-1.7 1.2-.7-.9M388 43.7l-1.4-.1-.8 1.3-1.1-.6M384.7 44.3l-1.4 .2-.7-1.2-1 .7-1.1-.7-.7-.6M451.2 41.9l1.3-.3 1.7 .1 .8-.7M455 41l1.6-.4 .9 1.1 1.5-.5M459 41.2l1.2 .1 2 .8 .8 .9M463 43l1 1.1 2-.2 .8 .8M466.8 44.7l.8 .6 1.9-.4 1.2 1.1 1.3-.4M472 45.6l.7 .8 1.6-.7 1.2 1.2 1.1 .2M476.6 47.1l1.2 .1 1.3 .7 .9 1.2M480 49.1l-1.5-.2-1.1-.4-1.1 .2-1.7 0M474.6 48.7l-1.7-.9-1.7 .1-1.2-.3M470 47.6l-.9 .2-1.7 0-1.4-.8-1.1 .1M464.9 47.1l-1.3 .4-1.6-.6-1-.3M461 46.6l-1.7-.6-1.3 .2-1-.6M457 45.6l-.8-.7-1.7 .4-.7-1.2-1.6 .1M452.2 44.2l-.2-1.1-.8-1.2M524.3 51.5l1-.6 1.4-.5 1.1-.3 1.2 .3M529 50.4l.9-.2 1.8 .9 1.5-.7 .8 .7 1.2-.4 1.6 0M536.8 50.7l1.5 .6 1-.6 1.8 .7 .9-.1 1.2 0 1.5 .5M544.7 51.8l-1.2 .4-1 .5-1.7 .1-1.5-.6-.9 .4M538.4 52.6l-1-.4-1.8-.2-.8 .1-1.2 .1-1.5 .1M532.1 52.3l-1.1 .4-2.2-.4-1.4 .5M527.4 52.8l-1.8-.1-1.3-1.2M529 54.8l1.8-.7 1 .6 1.9-.3M533.7 55.2l-1.6-.5-1.3 .4-1.8-.3M540.8 51.8l1.4 .5 2 .2 1.3-.5M545.5 52l-1.1 .7-1.3-.1M543.1 52.6l-1.3-.2-1-.6M589.5 58.3l2-.4 1.4 .6 1.3-.5M595.4 58.8l-1.2 .2-2.1-.2-1.1 .3M385.3 61.6l2.3 .1M401.8 59.9l1.1 .9 1.2-.2M404.1 60.6l-2.3 .3M355.6 115.2l-1.2-.2-1.3-.6M352 113.9l.1-1.2-.1-1.2M352 111.5l-1-1.3M463.8 155.3l.3-1.6-.1-1.7M464 152l-1-1.6M463 150.4l.2-1-.5-1.4M462.7 148l-1.3-1.7M460.7 147.2l-1.9 1.1M457.2 148l.5-1.4-.2-1.1M457.5 145.5l-.5-2.1M466.2 152.2l.3 .8-.3 1.4M466.2 154.4l-.5 1.6-.8 .9M464.9 156.9l.2 1.9M465.1 158.8l1.5 1.3M466.6 160.1l.3 2M465.7 163.4l-.9-1.1-.2-1M476.4 141.8l-1.3 1.3M475.1 143.1l.5 1.3 .8 .6M476.4 145l1 1 .5 1M479.2 148l.2 1.1 .7 1.4 .7 1M480.8 151.5l.3 1.3-.3 1.6M480.3 155.4l-1.1 1-1.6 .6M476.4 158.7l-1.1 1-1 .1M473.7 160l-.2-1.5 .5-.8M471.5 166.1l0 2.1M471.5 168.2l.8 1.3 .3 1 .2 1.1M471.7 171.8l-1.2-1.1-1.4-.8-.9-.7M468.2 169.2l-1-1.1-.1-1M467.1 167.1l-.5-2.1M484.1 170l1.4-.7 1.1-.6M490.5 165.3l.3-.8 1.1-.9 .5-1M492.4 162.6l1.6 .9M494 163.5l.6 1.1 1.7 .9M496.3 165.5l-1.1 1.1-.8 .3M458.8 164.8l1 .5 1.5-.5 .9 .7M462.2 165.5l1.2 .7 .7 1.5M464.1 167.7l1.8 1.2 .7 .9M466.6 169.8l1.9 .9M468.5 170.7l1.1 .2 .7 1.6 1.4 .6M471.7 173.1l.5 .9-.2 1.5M472 175.5l1.2 1.5M473.2 177l1.4 .4 1 1.4M475.6 178.8l-.5 1.3-.1 .6 .4 1.2 0 1.4M475.4 183.3l-2 .2M473.4 183.5l-1.2-.7-.4-1-1.5-.6-.5-.8M469.8 180.4l-1.3-.9-.2-1.2-.7-.8M467.6 177.5l0-1-1-1.1M466.6 175.4l-1.1-.9-.9-1.4M464.6 173.1l-1.1-1-.3-.7-.2-1.2M463 170.2l-1.1-1.4-1.2-.9M460.7 167.9l-.4-1.1-1.1-.5-.4-1.5M474.3 184.9l1.6-1.3M475.9 183.6l1.5 .8 1.1 .5 1.2 0M479.7 184.9l1.8-.4 1.1 .6M483.4 184.3l1.4 .7 1.3 .2M486.1 185.2l1.5 1.3 1.2 0M488.9 188l-1.2 .1-1.3-.1-.8-.9-1.4 .3M484.2 187.4l-1.1-.7-1 0-1.3 .1-1-.4M479.8 186.4l-1.1-.3-.9-.4-1.4 .2M476.4 185.9l-1.1-.4-1-.6M494.4 170.3l-.3 2M494.1 172.3l1.9 0M496 172.3l-.9 .6-.6 .9-.9 1.4M493.6 175.2l-1.5 1.1M492.1 176.3l.2 1.5-.7 1.8M491.6 179.6l-1.9 .8M488.9 179.6l-.9-.1-1.4-.3M486.6 179.2l-2.1 .4M484.5 179.6l-1.3-.4-1-.6M482.2 178.6l.3-1-.6-1.6M481.9 176l-1.2-1-.4-1.6M480.3 173.4l0-1.9M497.3 172.6l1.7-.8M499 171.8l1.3 .4 1.3 .3 1.5-.1M503.1 172.4l1.3-1.1 1-.2M505.4 171.1l-.4 .8-.4 1.4M504.6 173.3l-1.4-.5-1.5 .6-1.4 .2-1.2-.5M499.1 173.1l-.7 .8-.4 1.5M498 175.4l1.9 0M499.9 175.4l1.6 .1 1.3-.1M502.8 175.4l-1.4 .5-1.3 1.1M500.1 177l.3 1.1 .8 1M499.9 180.4l-.2-1.5-.7-.6M498.2 178.8l.2 1.4 .1 1-.3 1.6M496.8 182.8l.3-1.9-.5-1.3M495.7 178.3l.1-1 .3-1 1-1.2 .2-1M488.9 187.2l1.9 .3M492.5 187.7l1.1 .2 1.3-.6 1.1 .2M496 188.2l-1.9 .2-1.2 .1M497.4 187.7l1.3 .3 1-.3 1 .1 1.6-.4M502 188l-1 .5-1.4-.7-.9 .9-1.1-.4M496 189.3l1.1 .8 1.7 0M497.6 190.4l-1.6-1.1M503.1 190.6l.5-1.1 1-.7M510.1 170.3l.6 .9 .5 1.1M511.2 172.3l-1.1 1.6M509.8 174.4l-.5-2.1M510.1 178.8l1.1-.2 .8 .6 1.5 .1 1-.2M514.1 179.9l-1.6 .3-1.1-.3-1-.3M507 179.1l1.9 .1M528.8 187l-1.8-.1-.8 .6M526.2 187.5l-.8-1.8M526.9 185.1l-.3-1.6-.8-.7M525.8 182.8l-1.2-.2-1.2-.8-1.5-.8M521.9 181l-1.3 .1-1.8-1M517.7 180.4l-1.3-1.8M516.4 178.6l1.1-.6 1.6 0M519.1 178l-1.6-.2-1.1-.7M516.4 177.1l-1.6-.9M514.8 175.2l1.4-.7 1 0M517.2 174.5l1.1 .8 1.3-.1M519.6 175.2l.3 1.9M519.9 177.1l.4 2.1M521.9 179.4l.3-1.2 1-.7M523.2 177.5l.8-.7 1.5-.5M525.5 176.3l1.3 .4 1.4 .8M476.1 176.7l.3 2.1M475.3 178.4l-.8-1.9M532.9 179.1l1.3 .5 1.8 .5M536 180.1l.8 1 .5 1.1 .8 .5M538.1 182.7l1.6 .7 1.1 .2M540 185.2l.7 .7 .8 1M541.5 186.9l1 .9 .2 .8 1.2 .7M543.9 189.3l.9 1.2 1.1 .1M544.4 190.9l-1.1 .1-1.8-.7M541.5 190.3l-1.5-1M540 189.3l-.2-1.1-1.4-1.3M538.4 186.9l-1.3-.7-1.1 0M536 186.2l-1.5 1.2M542.2 182.8l1.4 .2 1.1-.2M544.7 182.8l1.2-1.5 1.1-.6M547.8 182.5l-1.1 .9-1 .4-1 .3M544.7 184.1l-1.3-.4-1.2-.4M545.9 178.1l.8 .8 .6 .8 1.3 .4M549.1 180.9l-1.1-1.5-1.4-.5-.7-.8M498.5 143.9l1.4 .5 1.1-.3M501 144.1l.4 1.2-.2 1.9M500.1 148.3l.2 1.5-.1 .9M500.2 150.7l2.1 .7M502.3 151.4l.5 1.1 1.1 1M501.5 151.9l-1.9 0M497.7 149.9l.4-1-.7-1.4M500.9 161.3l1.5-.6 .7-.9M503.1 159.8l2-.3M505.1 159.5l1.1-1.5M506.2 158l.2 1.5 1.2 .2 .2 1.2M507.8 160.9l-.7 1.8 .4 1M506.1 164.7l.4-2.1M506.5 162.6l-1.6 .3-.7 .9M504.2 163.8l-.3-2.1M503.9 161.7l-1.9 .7-1.3 .2M504.3 153.6l1.9 .4M506.2 154l.3 2.1M505.4 155.6l-.6-.7-.5-1.3M502.3 155.3l-1 .7-.6 .9M500.7 156.9l0-2.1M502.3 156.2l-.2 1.5 .7 1.3M501.5 158l.8-1.8M504.6 155.6l.8 1.8M505.1 157.5l-.5-1.9M493.2 160.3l.7-.9 1.1-.9 .5-.7 .3-1.4 1-.8M496.5 156.9l-.7 1.1-.8 .8-1.4 1M503.9 155.7l.1 1.3-.8 1.3M503.2 158.3l-.3-2.1M481.1 141.5l2.2 0M483.3 141.5l-.7 1.9M482.6 143.4l-1.5 1M182.9 292.6l2.1-.2 1-.8M186 291.6l.9-.6 1.1 .4 1.4-.3M189.4 291.1l1.5-1.2 1.1-.3M192 289.6l-1.5-1M190.5 288.6l1.2 .5 1.3-.1 1.6-.5M194.6 288.5l1.2-1.3 .2-1.2M196 286l1.9-.2 1.1-.5M199 285.3l-.9-1.3 .4-1M198.5 283l1.3 .2 1.4-.7 1.2-.6M202.4 281.9l.9-1.2 .7-.9M204 279.8l1.4 .1 .7-.9 1.4 .6M207.5 279.6l1.6 0 1.1-.9M210.2 278.7l.6-1 1.2-1.1M212 276.6l1.5-.6 .9 .1 1.4 .4M215.8 276.5l1.2-.4 1-1.5M218 274.6l1.5-.2 .7-.1 1.5-.9 1.3 .2M223 273.6l-.9 .8-.8 1-.7 .4-1.6 .2M219 276l-.7 1.2-1.4 0-.9 .6M216 277.8l-1.3 .3-1.2 .9M213.5 279l-1.1 .4-1.4 1.2M211 280.6l-.9 1.6M210.1 282.2l1.6 1.4 1.1 .4M212.8 284l.3 1.2 .6 1 .9 .9M214.6 287.1l.6 1.6-.9 1.2 .7 1.2M215 291.1l-.3 1.4-1.7 1M213 293.5l-1.5-.1-1 1.1M210.5 294.5l-1.3 1.2-1.6-.1M207.6 295.6l-.9 .6-1.9 .1-.5 .2-1.3 1"/>
<path style="stroke-width:1.25" d="M194.4 47.1l1-.2 1.5-.6 1.4 0 1-.8 .6-.7 1.5-.5 .9-.4M202.3 43.9l1.1 .5 1.6-.3 .4-1.6 1.5 1 1.6-.8 1.1-.5 1.1-1.1 1 .2M218 51.5l-.9-.6-1.5-.6-1.6 1-1.4-.5-.9-.4M211.7 50.4l-1.5-.2-1 .8-1.4 0-1.1 .1-1.2-1.1-1.6 .7M203.9 50.7l-1.1-1.2-1.1 0-1.6-.7-1.2 .2-1.3-.2M197.6 48.8l-2.2-.4-1-1.3M108.1 60.1l1.3 0 .8 1.1 1.2-1 1.4 1M112.8 61.2l.8-.5 1.7-.4 1.5 .5 .6-.7 1.7 .7M119.1 60.8l1.3-.6 1.7 .3 1.4 1.2 1.4-.6 1.2 .3 .8 1.3 1.6-.5M128.5 62.2l1-.2 1.5 1.1 .9 .2 2.2-.8 1.4 .7 .8 .6M136.3 63.8l1.4 .3 1.8-.8M139.5 63.3l1.5 .8 1.5-.4 1.2 .7 1.3 0 1.1-.4 1.4 0 1.4 0M148.9 64l1.3-.7 1.1 1 1.3-1.8 1.1 .9 1.5-.5M155.2 62.9l1.1 .8 2-.4M158.3 63.3l.9-1.6-.9-1.3M158.3 60.4l1.6-.5 .2-1.3 .6-1.2M160.7 57.4l.6 1.6 1.9-.4 .4 2.1 1 .5M164.6 61.2l1.3 .9 1.8 .8M167.7 62.9l1 1.1 2.2 .5M170.9 64.5l.6-1.6 .6-.3 1.3-.9 1.2-.4 1-.5M175.6 60.8l1 .8 2.4-1.4 1.3 1M180.3 61.2l0 2.2 .8 1.1M181.1 64.5l-1.1 1.5-2.2-.7-.6 1.1M177.2 66.4l-.9 .6-2-.5-1.1 .4M173.2 66.9l-.3 1.8-.9 1.1-1.1 .4M170.9 70.2l-1.6 0-.3 .9-1.6-.2-1.3 .9-.8 1.5-1-.2-1.3 .3M186.6 72.7l1.3 .4 1 .5 2.1-.5 .8 0 1.5-.4M112.8 92l-1.3-1.2-.7-.6-2 .2M108.8 90.4l-.7-1.6M107.6 91.6l1.4-.3 1.3 1 .7-.3 1.5 .5M112.5 92.5l1.4 0 .3 2 .9 .9M115.1 95.4l-1.1-.7-1.2 .4M112.8 95.1l-1.9 0 .5-2.1-1.2-.6-1.3-.4-1.3-.4M183.4 54.4l.9 .6 1.9 .7 1.2-.2 1-.1 1.3 .5M189.7 55.9l1.6-.2 1.2 1.3 1.5-.2 .3 1.1 1.7 .1M196 58l1.6 0 1 .6 1.1 1.2 1.1 .5 1.5-.2M202.3 60.1l.9 .6 .7 1.4M203.9 62.1l1.2 .3 .8 1 1.1 .6 1.4-1 .6 1.9 1.7-.2 1 .6M212.5 66.1l-1.7 0-1 2.1-1.2-.2M208.6 68l-1.7 .1-1.2-.8-1.5 .3-1.1-.7M203.1 66.9l.9 1 .8 1.5 1.9 .3 .3 1.3M207.5 72.1l-1.5 .5-1-.6-.6-1.3-1.9 .7-1-.8M201.5 70.6l1.6 .2 .8 2.2 1.5 .4M205.4 73.4l-1.2-.6-1.6-.2-1.2-.4-1.2 .1-1 0M199.2 72.3l-1.8 0-1.4-1.7M196 70.6l-1.4 .4-1.1-1.6-1.4 .1M192.1 69.5l-1.5-.7-1.5 .4-1.3-.6-1.2 .7M186.6 69.3l1.6-1.3M188.2 68l1.7 .2 1-1.2 2 .7M193.7 66.1l.6-1.3 .1-1.5M194.4 63.3l-1.1-.9-1.1-.5-1.2 .1-1.3 .1M189.7 62.1l-1.2-1.4-1.2-.2-1.5-.1M185.8 60.4l-1.3-.5-1 1.2-2.2-.9-1 .2M180.3 60.4l-1.8-.9-1.7 .8-1.2-.7M175.6 59.6l-1.8 .2-1.1-.6-1.4 .6-1.2-1M170.1 58.8l-1.3-.5-.6-1.8-.5-.9M167.7 55.6l1.6-1.3M169.3 54.3l1 .6 1.5-1.3 1.5 1.7 1-.1 1.3-.4M175.6 54.8l1.4 .1 1.4-1 1.2 .1 1.2 .8 1.3-.3 1.3-.1M125.3 60.1l.9 1.1 1.6-.1 1.8-.6 .4 1.1 1.6 .1M131.6 61.7l1.6 .9 1 .3 1.6-1.1 .8 .1 1.1 1 1.8-.4M139.5 62.5l1.6-.6 1.9 .7 1.2-.5M144.2 62.1l1-.6 2.1 .2 .7-1.2 1.7 .3M149.7 60.8l-1.2-1.4-1.2 1.3-1.2-1.1-1.1-.8M145 58.8l-.5-1.2-.3-1.7M144.2 55.9l-1.9-.8-1.3 .5-1.5-.4M139.5 55.2l-1.3-.5-1.2 .4-1.2 .9-1 .5M134.8 56.5l-1.1-.9-1.7 .8-.8-1.1-1.3 .8-1.4-1.2M128.5 54.9l-1.9 .2-.2 1.7-1 .5-1.7 0-1.5 .5M122.2 57.8l.3 1.2 1.4 .4 1.4 .7M112 57.2l1.2-.5 1.5 2 1.2-.2M115.9 58.5l1.3-.3 1.8 .4 1.6-.6M120.6 58l1.1 .1 1.9-.7 .6-1.7 2 1 .7-1.1M126.9 55.6l-.3-1.4-2-.7M124.6 53.5l-1.2 .3-1.5 .1-1.8-.5-1-.3M119.1 53.1l-1.7 .8-.9-.9-2 .2-.9 .7M113.6 53.9l-.2 1.6-1.3 .2-.1 1.5M167.7 49.9l1 .3 1.6 .5 1.1-.4 1.5 .3 1.1-.5M174 50.1l1.6-.5 1.4 0 .9 .8 1.4-.6 1.2-.4 1.4 1.2 1.5-.2M183.4 50.4l1.3-.9 .5-.5 1.4-.7M186.6 48.3l1.8-1.4 1.3-.2M189.7 46.7l.9-1.1 1.5-.6M192.1 45l1.6 .5 .5-1.7 1.8-.1 1.2 1 1.2-.7 1.7-.5 1.3 .5 .9-.8M202.3 43.2l1.4-.4 1.3 .2 .9-1.3 1.6 1.2 .6-1.8 1.3-.3 1.4 1.3 .9-1M211.7 41.1l-1-.1-1.6 .4-.9-1.1-1.6-.1-1.2 0M205.4 40.2l-1.4 .2-.9 .3-1.6-1.1-.9 .9-1.7-1.1-1.5 .1-1.1 1.2-.9-1.2-1.4-.1-1.3 .9-1.4-.6M191.3 39.7l-.9 .2-1.4-.6-1.2 .4-1.6-.2-1.3 1.1-.6 0-1.4 .2-1.2-1.2-1.4 .4M180.3 40l-.9 .2-1.6 .9-1.2-1-1.6 .9-.8 .5-1.2-.1-1.3-.3-1.1-.3-2 .5-.9 0M167.7 41.3l-1.5 1-1.6-.2M164.6 42.1l1.9-.3 .4 1.3 1.1 .6 1.7-.3 1.9 .4 .9 .4M172.5 44.2l-1.2 .1-1 1.2-1 1.2M169.3 46.7l-.9 .4-.6 1.2-.1 1.6M164.6 49.7l1.5-.4 .9 .7 1.8 0 1.5 .2 .9 1.7 1.5 .2 1.3-.6M174 51.5l1.2-.6 1.6 .5 1.2 .7 1.7 .9 1.3-.2 1.4-.6 1 .8M183.4 51.4l-1.3-.2-1.3-.6-1-.2-1.3 .4-1.3-.1M177.2 50.7l-1.4-.8-1.5 1.1-.7-1.1-2 .5-1.4 .4-.9-.7M169.3 50.1l-1.5-.8-1.7 .1-1.5 .3M158.3 44.2l1.7-.3 1 2.2 1.7-.6 .6 1.1 1.9-.5 1 .9M166.2 47l1.6 .2 1.5-.3 .3-1.3 1.4-.5 1.5-.1M172.5 45l-1.8 .4-1.1-.4-1.3-1.6-.8 .2-1.3-1.3-1.6 .3M164.6 42.6l-1.2-.4-1.2 1.8-1.5-1.2-1.3 .6-1.1 .8M125.3 52l1.6 .4 1.3-.8 .6 1.9 1.7-.9 1.8-.1 .9 .8M133.2 53.3l1.4-.9 1.6 .8 .9-1.1 1.5 1.5 1.4-1.4 1.7 .8 .9-.7M142.6 50.7l-1.5 .3-1.2-.8-.8 .7-1.7-1.1-1.1 .1M136.3 49.9l-1-.7-1.9 1-1.4-.7-.7 1-2 .3-1-.8-1.4 .2M126.9 50.2l-1.6 1.8M148.9 55.6l.8 1.1 1.4 .4 1.6 .2 1.8-1 .9 1.9 1.3-.4M156.7 57.8l1-1.1 .6-1.1M158.3 55.6l1.6 0 .8 1.5 .7 0 1.6 .1M163 57.2l.8-.9 1.2-.3 .9-1.7 1.1-.4M167 53.9l-1.5 .1-1 .2-2.1-.8-1 .7-1.5-.3M159.9 53.8l-1.4-.4-1.8 1M156.7 54.4l-1.4 .4-1.3-.9-2 .2M152 54.1l-1.7 1.6-1.4-.1M145.8 52l1.2-.8 1.5 1.6 1.2-1.4 1.1 1.5 1.7-1.4 1.3 .3 1.4 .5M155.2 52.3l1.2-.6 .9-.1 1.7 .2 1.2 .5 1.3-.8M161.5 51.5l-1.3-.7-1.1 .1-.8-1.3M158.3 49.6l-1.3 .5-1 0-1.8 .5-1.7-.9-.6-.4-1.3 1.4-1.7-.6M148.9 50.1l-.9 1-1.4-.1-.8 1M172.5 67.6l1.8 .6 1.8-.7 1.1 .5M177.2 68l1.6 .2 1 .3 1.3 1 1.1-.2 1.2 1.3M183.4 70.6l-.6 1.3-2.4 .2-1.5-.4-.9 1.2M178 72.9l-1.3-.3-1.8-.4-1.3-1.3-1.1-.1M172.5 70.8l1.5-.8 .8-.7M174.8 69.3l-.7-1.5-1.6-.2M152.8 62.1l1.1-.7 1.8 .6 1 .9M156.7 62.9l1.1-.6 1.3-1.1M159.1 61.2l-1.3-.4-1.7 .4-.9-.8M155.2 60.4l-1.4 .1-1 1.6M115.1 50.4l1.4 .5 1.8 .6 .9-.3 1.8-.9 1.2 .9M122.2 51.2l1.4 .2 .6-1.4 1.7-.1 1-.8M126.9 49.1l-1.1-.9-.8-.4-2 1-.8-.9M122.2 47.9l-2-.6-.7 1.4-2-.1M117.5 48.6l-1.2 1.5-1.2 .3M143.4 47.5l1.7-.6 1.2 1.6 1-.4 1.6-.2M148.9 47.9l1.2-1.1 .8-.2 2 1 .7-.9M153.6 46.7l-1.7-.4-1.4-1.1M150.5 45.2l-1.1 .8-2-.7-1.2 1.1-1.2-.6M145 45.8l-1.6 1.7M154.4 47.5l1.3 .4 1.8-.3M158.3 46.2l-2.3-.2M156 46l-1.6 1.5M181.9 54.6l1.2 .3 .9 .1 1.5 .2 1.1 .7M186.6 55.9l1.5 .5 1.6-1M189.7 55.4l-.7-.9-1.6-.2M187.4 54.3l-1.7-.5-1.5-.1-1.4 .1-.9 .8M187.4 64.3l.7 .9 1.6-.4M190.8 63.7l-1 .2-1.3-.7M178.7 71.9l1.4-.6 1 1.1M181.1 72.4l1.4 .1 .9 .7M183.4 73.2l-1.5 .7-1-.5-1.4-.3M134.8 47l1.8-.2 1.3 .8M137.1 46.5l-1.2-.1-1.1 .6M157.5 51.4l1.2 .5 2-.2M160.7 51.7l1.5 1.1M162.2 52.8l-1.5-.3-1.2 0-1.2 0M196.8 62.9l2.4 .3M128.5 47.6l1.3 1 1.8-.5M130.8 47.1l-1.4-.6-.9 1.1M101 86.4l.6 .8 .5 1.1M103.3 89.3l-1.5-1.3M101.8 88l-.8-1.6M104.9 83.9l-1.6 .5-.7-1.3M102.6 83.1l-1.1 .5-1.3-1.3M100.2 82.3l.8 1.6M101 83.9l1 .6 1.9 .2 1-.8M99.4 81.5l-.5-1.7-1.8 .1M95.5 80.2l1.8 1 .6 1.1M97.9 82.3l1.5-.8M107.3 88.8l-.1-1.5-1.5-.1M114.3 98.8l-1.3-.9 1.6-1.8-1.4-.7M113.2 95.4l1.3-.5 1.4 .9M116.7 96.9l-.3-1-.2-1.4M48.4 74l.1 1.4 1.4 .4M49.9 75.8l1.1 .4 1.4 .5 1.5-.1M53.9 76.6l.8 1.7M54.7 78.3l1.4 1.3 1.7-.9M57.8 78.7l1.2 .7 1.6-1.7 1.1 1M61.7 78.7l.7 1.2-1.5 1.1M60.9 81l-1.1-.2-.5 1.6-1.4 .1-.9 .6M57 83.1l-.4 1.1-1.7-1.2-1 1.3M53.9 84.3l-1.4 .9-.6 .6-1.8-.4M50.1 85.4l1.4-.6 1.6 .3M53.1 85.1l2.2 .3 .9-1.1M56.2 84.3l1.1-1.4 2 1.6 .9-1.4M60.2 83.1l.6-1.4 1.6-.2 1.2-.2M63.6 81.3l.9-1.1 1.3 .5 1-1.3M66.8 79.4l1.6-.6 .4-1.7M68.8 77.1l.2-1.6 1.4-.2M70.4 75.3l1.5-1.2 1.6 .6M73.5 74.7l-.9 .6-.2 1.7-1.2 .8M71.2 77.8l1.2 0 1.2-.4 1.5-.8M75.1 76.6l1.4 0 .6-.5 1.1-.9M78.2 75.2l1.4-.6 1.8 1.4M81.4 76l1.3 .6 .8 .2 1.2-1.1 1.4 .9M86.1 76.6l1.4 1.2 1.7-.7M89.2 77.1l1.1 1.2 1.2-.7 .9 .7M92.4 78.3l1.1 1.6 1.2-.5M94.7 79.4l.8 1.4 1.6 .7M97.1 81.5l.4 1.4 .9 .9 1 .1M99.4 83.9l1.4-.2 1.8 1M66.4 80.7l2.2-.2 1-.6M69.9 81l-1.3 .2-1.4 .6M46.8 76.3l2 0M193.2 240.4l1.8 .9-.2 1.5M194.8 242.8l.3 1.4-1.4 1M193.7 245.2l.4 1.2-1.2 1.3-.8 .8M192.1 248.5l-1.4-.1-.3 1.2M190.4 249.6l.1 1.4 1.6 .7M192.1 251.7l.2 1.7-2 .1 .2 1.5M190.5 255l1.2 .7-.8 1.5 .7 1M191.6 258.2l1.4 .9 .7 1.2M193.7 260.3l.7 1 1.1-1.1 .8 1.1 1.3 0M197.6 261.3l0-1.6M202.3 264l-.9 .3-1.5-.2-.7-.7M199.2 263.4l-1.6 .1-.9-.1-.7-1.2M196 262.2l1.6-.8M193.8 242l1 1.3-1.1 1M192.2 243.9l1.4-.9-.7-1.3M201.8 260.3l1.1 .2 1 1.3M203.9 261.8l1 1.1 1.8-.3M325.6 77.5l-1.6 1.1M324 78.6l-1 1.4-1.3-.3M320.1 79.9l-1.3 .2-1.1-1.5M317.7 78.6l-1.2-.8 .5-1.5M317 76.3l-1-1.2 1-.9M317.3 73.1l.8-1.1 .8-.5 1.2 .3M320.1 71.8l1.1-1.4 1.2 .6M322.4 71l.6-1.2 1.9 .8 .7-1.3M325.6 69.3l1.7-.7 .6-.9M327.9 67.7l1.6-.2 0-1.4M329.5 66.1l1.3-.3 .5-1.2 .6-.4M331.9 64.2l1.5-.9M333.4 63.3l1.1-1.5 1.3 .3M335.8 62.1l1.1-.2 .6-1.3 1.4 .2M338.9 60.8l.7-.6 1.5 .5 1-.4M342.1 60.3l1-.9 1.4 1.1 .6-.2 .9-.8M346 59.5l1-.9 1.2 1.2 .9-1.2M349.1 58.6l1.6 .9 .9-.9 1.5 .2M353.1 58.8l1.3-.3 .9 1.5 1.2-1.3 1.3 1.2M357.8 59.9l-1.6 1M326.4 44.9l1-.2 1.6-.2 .7-.7 1.4 .4M331.1 44.2l1.3-.9 1 .3 .5 1.5 1.3-1.2 1.3 .8 .9-.3M337.4 44.4l1.3 0 0 1.5 1.2 .4 .9-.1 1.3 0M342.1 46.2l-1-.6-.7 1.4-1.5-.2M338.9 46.8l-.8 .5-1.2 .1-.5 1.5-.6 .7M335.8 49.6l-.9-.7-1.8 .1-.9-.7-1.1 0M331.1 48.3l-1.4-.4-.9 .1-.9-1.3M327.9 46.7l-.3-1.4-1.2-.4M337.4 43.7l1.1 .1 1 .2 1.2 .5 1.1-.2 1.2-1.1 1.1 1.3 1.1-.9M345.2 43.6l.8-.6 1.3 .8 .8 .5 1.3-1.2 .8 1.8 1.3-.7M351.5 44.2l-1.7-.6-.3 2.1-1.5-.4-1.2 .1M346.8 45.4l-1.2 .4-1.2-.9-1.2-.4-.9 1.1-1.3-.4-1.2 .7-.9-1M338.9 44.9l-1.5-1.2M342.1 47.1l1.5-.5 .6 1.7 1.4-1.5 1.2 1M346.8 47.8l-1.2 1.3-1.2-.5M344.4 48.6l-1.3-.3-1-1.2M326.8 79.4l1.1 1.6M335.2 80.7l-.4-1.4 1-.6M335.8 78.7l.3-1.1 1-.8 1.5 .2M338.6 77l-1.8 0-.5-1.5M336.3 75.5l-.7-1.2 .5-.9M336.1 73.4l1.3-1.5M337.4 71.9l.8-1.1 1.1-.7 1.2 .5M340.5 70.6l.4-1.3 1.7-.1M342.6 69.2l1.1-1.5M337.7 81.5l1.2-1.5M348.8 68.5l-1.2 1.2M347.6 69.7l-.5 1-1.5 .8-1.2 0M344.4 71.5l-.7 1.2-1.1-.1M342.6 72.6l.4 1.1-.3 1.3M342.7 75l.3 1 1.4 .6M346 76.8l1.3 .6 .5-1.5 1.3 .4M322 81.8l.6-.8 1.4 .2M324 81.2l1.7-.8M325.7 80.4l-.4 1.6M346 77.9l1.1 .3 .9-.1 1.1-.8"/>
<path style="stroke-width:1.0" d="M332.7 105.8l-.5-.7-1.1-.6M330.3 103.2l-1.6-.9M328.7 102.3l-.3-1.7M336.6 104.4l-.8-.7-1.6-.3M334.2 103.4l-1.2-1.1M333 102.3l-1.1-1.7M516.4 103.9l1.9 .6M518.3 104.5l1.1-.9 .5-.1 .8-1.1 1.2-.5M521.9 101.9l.5-1 1.2-1 .7-.6M537.6 102.7l1.6-.9M540 101.3l-1.5 .7-.9 .7M512.8 107.8l-1.5 .5-1.2 .3-.8 .8M512.3 113.9l-.1 1.2 .3 1.3M512.5 116.4l-1.6 .9M530.4 106.6l.9 1.6M531.3 108.2l.8 1.7M532.1 109.9l-.5 1-1 1.1M530.6 112l-.2 2.1M530.4 114.1l-.2 1.9M530.2 116l-1.5 1.2M527.1 117.7l-1.7 .4-1.1-.3M524 118.3l-1.6 1.3M522.4 119.6l-1.3-1.8M521.1 117.8l-1.3 .5-1.8 0M514.7 118.3l1.4-.5 1.1-1.3M517.2 116.5l.9 0 1.5-.1M519.6 116.4l1.4-.4 1.7 0M522.7 116l.2-1.2 1.1-1.4M524.3 114.2l1.3-.6 1-.3M526.6 113.3l.8-.6 .8-1.2M528.2 111.5l.6-1.3 .2-.8M529.8 103.7l.8-1.1-.2-1 1.1-1.3M531.5 100.3l1.3 .6 .9 1.2M533.7 102.1l1.5-.2 .9-.1 1.2 .3M537.6 103.7l-.7 .8-1.8 .4-.6 .9M534 105.8l-1 0-1.3-1M514.8 118.9l1.5 1.2M516.3 120.1l-.1 1-.6 1.4M513.6 123.2l0-2M517.2 118.8l1.2 .2 1.9-.5M519.9 119.9l-1.9 .8M580.3 229.7l1.3 1.3 1.3 .4M582.9 231.4l.7 .9 1.1 .8M584.7 233.1l.8 1.7M585.5 234.8l1.2 .2 2-.2M589.5 235l-.4 1.5-.7 .9M587.1 237.9l-.8 1-.3 1.5M586 240.4l-1.6 .9M583.5 240.8l.5-2.1M584 238.7l-1.9-1.1M582.1 237.6l.9-1 .3-1.1M583.5 233.9l-.9-.7-.6-1.2-.9-1.4M580.3 239.6l1.3 .1 1.3 1M582.4 241.8l-.9 .7-.7 1.4M580.5 244.9l-1.4 .5-1 .3M578.1 245.7l-.3 1.7-.4 .9M577.4 248.3l-1.2 .4-.9 .7M575.3 249.4l-1.9-.1M573.4 249.3l-1.5 0-1.3-.8M570.6 248.5l.8-1.7M571.4 246.8l1.2-.4 1.1-1.2M573.7 245.2l1.3-.7 .8 0 1.1-.9M576.9 243.6l1-1 .6-.9M578.5 241.7l1.1-1.7"/>
</g>
</g>
</g>
<g class="k">
<rect x="1412.9" y="412.1" width="25.6" height="26.2" fill="#FF6F00"/><text class="t" x="1447.5" y="429.5" font-size="13.1">0~2000</text>
<rect x="1412.9" y="438.3" width="25.6" height="26.2" fill="#C71000"/><text class="t" x="1447.5" y="455.7" font-size="13.1">2000~4000</text>
<rect x="1412.9" y="464.5" width="25.6" height="26.2" fill="#008EA0"/><text class="t" x="1447.5" y="481.8" font-size="13.1">4000~6000</text>
<rect x="1412.9" y="490.6" width="25.6" height="26.2" fill="#8A4198"/><text class="t" x="1447.5" y="508.0" font-size="13.1">6000~8000</text>
<rect x="1412.9" y="516.8" width="25.6" height="26.2" fill="#5A9599"/><text class="t" x="1447.5" y="534.2" font-size="13.1">8000~10000</text>
<rect x="1412.9" y="543.0" width="25.6" height="26.2" fill="#FF6348"/><text class="t" x="1447.5" y="560.4" font-size="13.1">40000~50000</text>
</g>
</svg>
</body></html>
